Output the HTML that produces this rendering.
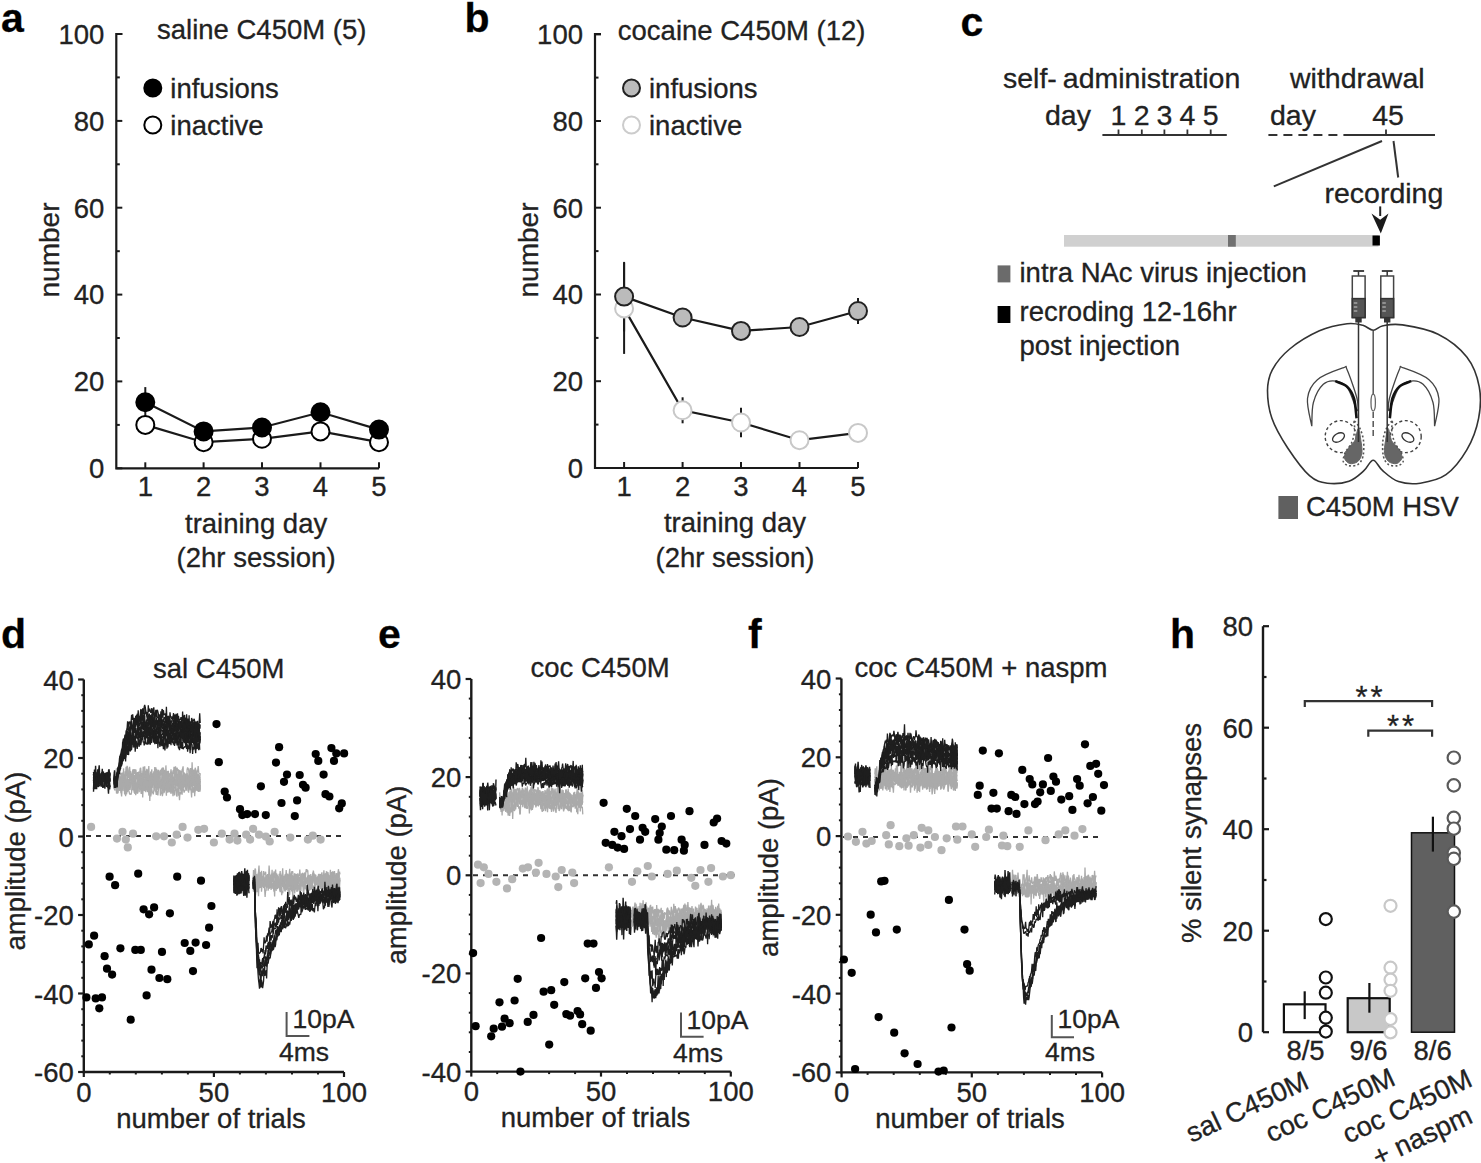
<!DOCTYPE html>
<html><head><meta charset="utf-8"><style>
html,body{margin:0;padding:0;background:#fff;}
svg{display:block;}
text{font-family:"Liberation Sans", sans-serif;stroke:#222;stroke-width:0.3px;}
</style></head><body>
<svg width="1481" height="1163" viewBox="0 0 1481 1163">
<rect width="1481" height="1163" fill="#fff"/>
<text x="1.0" y="31.5" font-size="41" text-anchor="start" font-weight="bold" fill="#000" >a</text>
<text x="464.5" y="31.5" font-size="41" text-anchor="start" font-weight="bold" fill="#000" >b</text>
<text x="960.5" y="35.5" font-size="41" text-anchor="start" font-weight="bold" fill="#000" >c</text>
<text x="1.0" y="648.0" font-size="41" text-anchor="start" font-weight="bold" fill="#000" >d</text>
<text x="378.0" y="647.5" font-size="41" text-anchor="start" font-weight="bold" fill="#000" >e</text>
<text x="748.0" y="647.5" font-size="41" text-anchor="start" font-weight="bold" fill="#000" >f</text>
<text x="1170.0" y="648.0" font-size="41" text-anchor="start" font-weight="bold" fill="#000" >h</text>
<path d="M122.3,34 H116.3 V468.3 H379" fill="none" stroke="#1a1a1a" stroke-width="2.2"/>
<line x1="116.3" y1="468.3" x2="122.3" y2="468.3" stroke="#1a1a1a" stroke-width="2" />
<text x="104.3" y="478.1" font-size="27.5" text-anchor="end" font-weight="normal" fill="#222" >0</text>
<line x1="116.3" y1="424.9" x2="119.8" y2="424.9" stroke="#1a1a1a" stroke-width="2" />
<line x1="116.3" y1="381.4" x2="122.3" y2="381.4" stroke="#1a1a1a" stroke-width="2" />
<text x="104.3" y="391.2" font-size="27.5" text-anchor="end" font-weight="normal" fill="#222" >20</text>
<line x1="116.3" y1="338.0" x2="119.8" y2="338.0" stroke="#1a1a1a" stroke-width="2" />
<line x1="116.3" y1="294.6" x2="122.3" y2="294.6" stroke="#1a1a1a" stroke-width="2" />
<text x="104.3" y="304.4" font-size="27.5" text-anchor="end" font-weight="normal" fill="#222" >40</text>
<line x1="116.3" y1="251.2" x2="119.8" y2="251.2" stroke="#1a1a1a" stroke-width="2" />
<line x1="116.3" y1="207.7" x2="122.3" y2="207.7" stroke="#1a1a1a" stroke-width="2" />
<text x="104.3" y="217.5" font-size="27.5" text-anchor="end" font-weight="normal" fill="#222" >60</text>
<line x1="116.3" y1="164.3" x2="119.8" y2="164.3" stroke="#1a1a1a" stroke-width="2" />
<line x1="116.3" y1="120.9" x2="122.3" y2="120.9" stroke="#1a1a1a" stroke-width="2" />
<text x="104.3" y="130.7" font-size="27.5" text-anchor="end" font-weight="normal" fill="#222" >80</text>
<line x1="116.3" y1="77.4" x2="119.8" y2="77.4" stroke="#1a1a1a" stroke-width="2" />
<line x1="116.3" y1="34.0" x2="122.3" y2="34.0" stroke="#1a1a1a" stroke-width="2" />
<text x="104.3" y="43.8" font-size="27.5" text-anchor="end" font-weight="normal" fill="#222" >100</text>
<line x1="145.3" y1="468.3" x2="145.3" y2="462.3" stroke="#1a1a1a" stroke-width="2" />
<text x="145.3" y="496.3" font-size="27.5" text-anchor="middle" font-weight="normal" fill="#222" >1</text>
<line x1="203.6" y1="468.3" x2="203.6" y2="462.3" stroke="#1a1a1a" stroke-width="2" />
<text x="203.6" y="496.3" font-size="27.5" text-anchor="middle" font-weight="normal" fill="#222" >2</text>
<line x1="262.0" y1="468.3" x2="262.0" y2="462.3" stroke="#1a1a1a" stroke-width="2" />
<text x="262.0" y="496.3" font-size="27.5" text-anchor="middle" font-weight="normal" fill="#222" >3</text>
<line x1="320.5" y1="468.3" x2="320.5" y2="462.3" stroke="#1a1a1a" stroke-width="2" />
<text x="320.5" y="496.3" font-size="27.5" text-anchor="middle" font-weight="normal" fill="#222" >4</text>
<line x1="379.0" y1="468.3" x2="379.0" y2="462.3" stroke="#1a1a1a" stroke-width="2" />
<text x="379.0" y="496.3" font-size="27.5" text-anchor="middle" font-weight="normal" fill="#222" >5</text>
<text x="256.1" y="532.5" font-size="27.5" text-anchor="middle" font-weight="normal" fill="#222" >training day</text>
<text x="256.1" y="567.1" font-size="27.5" text-anchor="middle" font-weight="normal" fill="#222" >(2hr session)</text>
<text transform="translate(58.8,250) rotate(-90)" font-size="28" text-anchor="middle" fill="#222">number</text>
<text x="157.0" y="39.3" font-size="27.5" text-anchor="start" font-weight="normal" fill="#222" >saline C450M (5)</text>
<circle cx="152.8" cy="88.0" r="8.5" fill="#000" stroke="#000" stroke-width="2"/>
<text x="170.3" y="97.5" font-size="27.5" text-anchor="start" font-weight="normal" fill="#222" >infusions</text>
<circle cx="152.8" cy="125.0" r="8.5" fill="#fff" stroke="#000" stroke-width="2"/>
<text x="170.3" y="134.7" font-size="27.5" text-anchor="start" font-weight="normal" fill="#222" >inactive</text>
<line x1="145.3" y1="420.5" x2="145.3" y2="429.2" stroke="#1a1a1a" stroke-width="2" />
<line x1="145.3" y1="387.1" x2="145.3" y2="417.5" stroke="#1a1a1a" stroke-width="2" />
<line x1="203.6" y1="437.9" x2="203.6" y2="446.6" stroke="#1a1a1a" stroke-width="2" />
<line x1="203.6" y1="427.0" x2="203.6" y2="435.7" stroke="#1a1a1a" stroke-width="2" />
<line x1="262.0" y1="435.3" x2="262.0" y2="442.2" stroke="#1a1a1a" stroke-width="2" />
<line x1="262.0" y1="423.1" x2="262.0" y2="431.8" stroke="#1a1a1a" stroke-width="2" />
<line x1="320.5" y1="424.9" x2="320.5" y2="437.9" stroke="#1a1a1a" stroke-width="2" />
<line x1="320.5" y1="404.5" x2="320.5" y2="420.1" stroke="#1a1a1a" stroke-width="2" />
<line x1="379.0" y1="438.8" x2="379.0" y2="445.7" stroke="#1a1a1a" stroke-width="2" />
<line x1="379.0" y1="424.4" x2="379.0" y2="434.9" stroke="#1a1a1a" stroke-width="2" />
<polyline points="145.3,424.9 203.6,442.2 262.0,438.8 320.5,431.4 379.0,442.2" fill="none" stroke="#1a1a1a" stroke-width="2.2"/>
<circle cx="145.3" cy="424.9" r="9" fill="#fff" stroke="#000" stroke-width="2"/>
<circle cx="203.6" cy="442.2" r="9" fill="#fff" stroke="#000" stroke-width="2"/>
<circle cx="262.0" cy="438.8" r="9" fill="#fff" stroke="#000" stroke-width="2"/>
<circle cx="320.5" cy="431.4" r="9" fill="#fff" stroke="#000" stroke-width="2"/>
<circle cx="379.0" cy="442.2" r="9" fill="#fff" stroke="#000" stroke-width="2"/>
<polyline points="145.3,402.3 203.6,431.4 262.0,427.5 320.5,412.3 379.0,429.6" fill="none" stroke="#1a1a1a" stroke-width="2.2"/>
<circle cx="145.3" cy="402.3" r="9" fill="#000" stroke="#000" stroke-width="2"/>
<circle cx="203.6" cy="431.4" r="9" fill="#000" stroke="#000" stroke-width="2"/>
<circle cx="262.0" cy="427.5" r="9" fill="#000" stroke="#000" stroke-width="2"/>
<circle cx="320.5" cy="412.3" r="9" fill="#000" stroke="#000" stroke-width="2"/>
<circle cx="379.0" cy="429.6" r="9" fill="#000" stroke="#000" stroke-width="2"/>
<path d="M601,34.2 H595 V468 H858" fill="none" stroke="#1a1a1a" stroke-width="2.2"/>
<line x1="595.0" y1="468.0" x2="601.0" y2="468.0" stroke="#1a1a1a" stroke-width="2" />
<text x="583.0" y="477.8" font-size="27.5" text-anchor="end" font-weight="normal" fill="#222" >0</text>
<line x1="595.0" y1="424.6" x2="598.5" y2="424.6" stroke="#1a1a1a" stroke-width="2" />
<line x1="595.0" y1="381.2" x2="601.0" y2="381.2" stroke="#1a1a1a" stroke-width="2" />
<text x="583.0" y="391.0" font-size="27.5" text-anchor="end" font-weight="normal" fill="#222" >20</text>
<line x1="595.0" y1="337.9" x2="598.5" y2="337.9" stroke="#1a1a1a" stroke-width="2" />
<line x1="595.0" y1="294.5" x2="601.0" y2="294.5" stroke="#1a1a1a" stroke-width="2" />
<text x="583.0" y="304.3" font-size="27.5" text-anchor="end" font-weight="normal" fill="#222" >40</text>
<line x1="595.0" y1="251.1" x2="598.5" y2="251.1" stroke="#1a1a1a" stroke-width="2" />
<line x1="595.0" y1="207.7" x2="601.0" y2="207.7" stroke="#1a1a1a" stroke-width="2" />
<text x="583.0" y="217.5" font-size="27.5" text-anchor="end" font-weight="normal" fill="#222" >60</text>
<line x1="595.0" y1="164.3" x2="598.5" y2="164.3" stroke="#1a1a1a" stroke-width="2" />
<line x1="595.0" y1="121.0" x2="601.0" y2="121.0" stroke="#1a1a1a" stroke-width="2" />
<text x="583.0" y="130.8" font-size="27.5" text-anchor="end" font-weight="normal" fill="#222" >80</text>
<line x1="595.0" y1="77.6" x2="598.5" y2="77.6" stroke="#1a1a1a" stroke-width="2" />
<line x1="595.0" y1="34.2" x2="601.0" y2="34.2" stroke="#1a1a1a" stroke-width="2" />
<text x="583.0" y="44.0" font-size="27.5" text-anchor="end" font-weight="normal" fill="#222" >100</text>
<line x1="624.1" y1="468.0" x2="624.1" y2="462.0" stroke="#1a1a1a" stroke-width="2" />
<text x="624.1" y="496.0" font-size="27.5" text-anchor="middle" font-weight="normal" fill="#222" >1</text>
<line x1="682.6" y1="468.0" x2="682.6" y2="462.0" stroke="#1a1a1a" stroke-width="2" />
<text x="682.6" y="496.0" font-size="27.5" text-anchor="middle" font-weight="normal" fill="#222" >2</text>
<line x1="741.0" y1="468.0" x2="741.0" y2="462.0" stroke="#1a1a1a" stroke-width="2" />
<text x="741.0" y="496.0" font-size="27.5" text-anchor="middle" font-weight="normal" fill="#222" >3</text>
<line x1="799.5" y1="468.0" x2="799.5" y2="462.0" stroke="#1a1a1a" stroke-width="2" />
<text x="799.5" y="496.0" font-size="27.5" text-anchor="middle" font-weight="normal" fill="#222" >4</text>
<line x1="858.0" y1="468.0" x2="858.0" y2="462.0" stroke="#1a1a1a" stroke-width="2" />
<text x="858.0" y="496.0" font-size="27.5" text-anchor="middle" font-weight="normal" fill="#222" >5</text>
<text x="735.0" y="532.2" font-size="27.5" text-anchor="middle" font-weight="normal" fill="#222" >training day</text>
<text x="735.0" y="566.8" font-size="27.5" text-anchor="middle" font-weight="normal" fill="#222" >(2hr session)</text>
<text transform="translate(537.5,250) rotate(-90)" font-size="28" text-anchor="middle" fill="#222">number</text>
<text x="617.8" y="39.5" font-size="27.5" text-anchor="start" font-weight="normal" fill="#222" >cocaine C450M (12)</text>
<circle cx="631.5" cy="88.0" r="8.5" fill="#bbb" stroke="#222" stroke-width="2"/>
<text x="649.0" y="97.5" font-size="27.5" text-anchor="start" font-weight="normal" fill="#222" >infusions</text>
<circle cx="631.5" cy="125.0" r="8.5" fill="#fff" stroke="#ccc" stroke-width="2"/>
<text x="649.0" y="134.7" font-size="27.5" text-anchor="start" font-weight="normal" fill="#222" >inactive</text>
<line x1="624.1" y1="262.8" x2="624.1" y2="353.9" stroke="#1a1a1a" stroke-width="2" />
<line x1="624.1" y1="261.9" x2="624.1" y2="331.4" stroke="#1a1a1a" stroke-width="2" />
<line x1="682.6" y1="397.3" x2="682.6" y2="423.3" stroke="#1a1a1a" stroke-width="2" />
<line x1="682.6" y1="308.8" x2="682.6" y2="326.1" stroke="#1a1a1a" stroke-width="2" />
<line x1="741.0" y1="407.7" x2="741.0" y2="437.2" stroke="#1a1a1a" stroke-width="2" />
<line x1="741.0" y1="324.4" x2="741.0" y2="337.4" stroke="#1a1a1a" stroke-width="2" />
<line x1="799.5" y1="435.9" x2="799.5" y2="444.6" stroke="#1a1a1a" stroke-width="2" />
<line x1="799.5" y1="318.3" x2="799.5" y2="335.7" stroke="#1a1a1a" stroke-width="2" />
<line x1="858.0" y1="426.4" x2="858.0" y2="439.4" stroke="#1a1a1a" stroke-width="2" />
<line x1="858.0" y1="298.0" x2="858.0" y2="324.0" stroke="#1a1a1a" stroke-width="2" />
<polyline points="624.1,308.4 682.6,410.3 741.0,422.5 799.5,440.2 858.0,432.9" fill="none" stroke="#1a1a1a" stroke-width="2.2"/>
<circle cx="624.1" cy="308.4" r="9" fill="#fff" stroke="#c8c8c8" stroke-width="2"/>
<circle cx="682.6" cy="410.3" r="9" fill="#fff" stroke="#c8c8c8" stroke-width="2"/>
<circle cx="741.0" cy="422.5" r="9" fill="#fff" stroke="#c8c8c8" stroke-width="2"/>
<circle cx="799.5" cy="440.2" r="9" fill="#fff" stroke="#c8c8c8" stroke-width="2"/>
<circle cx="858.0" cy="432.9" r="9" fill="#fff" stroke="#c8c8c8" stroke-width="2"/>
<polyline points="624.1,296.6 682.6,317.5 741.0,330.9 799.5,327.0 858.0,311.0" fill="none" stroke="#1a1a1a" stroke-width="2.2"/>
<circle cx="624.1" cy="296.6" r="9" fill="#bbb" stroke="#222" stroke-width="2"/>
<circle cx="682.6" cy="317.5" r="9" fill="#bbb" stroke="#222" stroke-width="2"/>
<circle cx="741.0" cy="330.9" r="9" fill="#bbb" stroke="#222" stroke-width="2"/>
<circle cx="799.5" cy="327.0" r="9" fill="#bbb" stroke="#222" stroke-width="2"/>
<circle cx="858.0" cy="311.0" r="9" fill="#bbb" stroke="#222" stroke-width="2"/>
<text x="1003.0" y="88.0" font-size="28.5" text-anchor="start" font-weight="normal" fill="#222" >self-<tspan dx="6">administration</tspan></text>
<text x="1290.0" y="88.0" font-size="28.5" text-anchor="start" font-weight="normal" fill="#222" >withdrawal</text>
<text x="1045.0" y="125.2" font-size="28.5" text-anchor="start" font-weight="normal" fill="#222" >day</text>
<text x="1118.5" y="125.2" font-size="28.5" text-anchor="middle" font-weight="normal" fill="#222" >1</text>
<text x="1141.8" y="125.2" font-size="28.5" text-anchor="middle" font-weight="normal" fill="#222" >2</text>
<text x="1164.4" y="125.2" font-size="28.5" text-anchor="middle" font-weight="normal" fill="#222" >3</text>
<text x="1187.4" y="125.2" font-size="28.5" text-anchor="middle" font-weight="normal" fill="#222" >4</text>
<text x="1210.7" y="125.2" font-size="28.5" text-anchor="middle" font-weight="normal" fill="#222" >5</text>
<line x1="1102.4" y1="135.0" x2="1226.8" y2="135.0" stroke="#333" stroke-width="2" />
<line x1="1118.5" y1="134.5" x2="1118.5" y2="129.5" stroke="#333" stroke-width="1.8" />
<line x1="1141.8" y1="134.5" x2="1141.8" y2="129.5" stroke="#333" stroke-width="1.8" />
<line x1="1164.4" y1="134.5" x2="1164.4" y2="129.5" stroke="#333" stroke-width="1.8" />
<line x1="1187.4" y1="134.5" x2="1187.4" y2="129.5" stroke="#333" stroke-width="1.8" />
<line x1="1210.7" y1="134.5" x2="1210.7" y2="129.5" stroke="#333" stroke-width="1.8" />
<text x="1270.0" y="125.2" font-size="28.5" text-anchor="start" font-weight="normal" fill="#222" >day</text>
<text x="1388.0" y="125.2" font-size="28.5" text-anchor="middle" font-weight="normal" fill="#222" >45</text>
<line x1="1268.4" y1="135.0" x2="1351.6" y2="135.0" stroke="#333" stroke-width="2" stroke-dasharray="9,6"/>
<line x1="1346.0" y1="135.0" x2="1435.0" y2="135.0" stroke="#333" stroke-width="2.2" />
<line x1="1386.0" y1="135.0" x2="1386.0" y2="129.5" stroke="#333" stroke-width="1.8" />
<line x1="1382.0" y1="141.0" x2="1273.8" y2="186.4" stroke="#333" stroke-width="2" />
<line x1="1393.5" y1="141.0" x2="1398.2" y2="177.5" stroke="#333" stroke-width="2" />
<text x="1324.5" y="203.0" font-size="28.5" text-anchor="start" font-weight="normal" fill="#222" >recording</text>
<line x1="1380.2" y1="206.4" x2="1380.2" y2="216.0" stroke="#222" stroke-width="2" />
<path d="M1371.5,213.6 L1380.2,219.8 L1388.5,213.6 L1380.8,233.5 Z" fill="#1a1a1a"/>
<rect x="1064.0" y="235.0" width="314.5" height="11.7" fill="#d0d0d0" stroke="none" stroke-width="0"/>
<rect x="1228.0" y="235.0" width="7.8" height="11.7" fill="#707070" stroke="none" stroke-width="0"/>
<rect x="1372.5" y="235.5" width="7.4" height="10.0" fill="#000" stroke="none" stroke-width="0"/>
<rect x="997.6" y="265.4" width="12.8" height="17.0" fill="#6b6b6b" stroke="none" stroke-width="0"/>
<text x="1019.5" y="281.5" font-size="27.5" text-anchor="start" font-weight="normal" fill="#222" >intra NAc virus injection</text>
<rect x="997.6" y="306.0" width="12.8" height="17.0" fill="#000" stroke="none" stroke-width="0"/>
<text x="1019.5" y="320.5" font-size="27.5" text-anchor="start" font-weight="normal" fill="#222" >recroding 12-16hr</text>
<text x="1019.5" y="355.0" font-size="27.5" text-anchor="start" font-weight="normal" fill="#222" >post injection</text>
<rect x="1278.4" y="496.0" width="19.6" height="23.0" fill="#606060" stroke="none" stroke-width="0"/>
<text x="1306.0" y="516.0" font-size="27.5" text-anchor="start" font-weight="normal" fill="#222" >C450M HSV</text>
<path d="M1373.2,330.2 C1369.8,330.2 1367.2,326.4 1362.9,325.3 C1358.5,324.2 1354.3,322.8 1347.1,323.7 C1339.8,324.6 1328.9,326.6 1319.4,330.8 C1309.8,335.1 1297.5,342.5 1289.7,349.0 C1281.8,355.5 1276.0,362.9 1272.3,369.8 C1268.6,376.7 1267.6,382.5 1267.5,390.6 C1267.5,398.7 1268.5,408.7 1271.9,418.3 C1275.2,427.9 1281.4,438.4 1287.7,448.0 C1294.0,457.5 1302.9,469.8 1309.5,475.7 C1316.1,481.5 1320.7,482.3 1327.3,483.2 C1333.9,484.1 1342.9,483.3 1349.0,481.2 C1355.1,479.1 1359.9,474.2 1363.9,470.7 C1367.9,467.2 1370.0,460.2 1373.2,460.2 C1376.3,460.2 1378.5,467.2 1382.7,470.7 C1386.9,474.3 1392.2,479.5 1398.5,481.6 C1404.8,483.7 1412.4,484.3 1420.3,483.2 C1428.2,482.0 1438.2,480.2 1446.0,474.7 C1453.7,469.1 1461.3,459.3 1466.8,449.9 C1472.2,440.6 1476.6,428.8 1478.6,418.3 C1480.7,407.7 1481.2,396.9 1479.2,386.6 C1477.3,376.4 1473.6,365.7 1466.8,357.0 C1459.9,348.2 1448.8,339.5 1438.1,334.2 C1427.4,328.9 1411.6,326.3 1402.5,324.9 C1393.3,323.5 1388.0,324.8 1383.1,325.7 C1378.2,326.6 1376.5,330.3 1373.2,330.2 Z" fill="none" stroke="#333" stroke-width="1.6"/>
<line x1="1373.2" y1="331.0" x2="1373.2" y2="395.0" stroke="#555" stroke-width="1.5" />
<ellipse cx="1373.2" cy="402.6" rx="2.2" ry="8.5" fill="#fff" stroke="#666" stroke-width="1.3"/>
<line x1="1373.2" y1="412.0" x2="1373.2" y2="436.0" stroke="#555" stroke-width="1.5" stroke-dasharray="6,3"/>
<path d="M1311.8,426.2 C1311.1,421.6 1306.6,406.3 1307.5,398.5 C1308.4,390.8 1311.4,384.8 1317.4,379.7 C1323.3,374.6 1338.2,369.5 1343.1,367.8 C1348.0,366.2 1344.8,364.7 1347.1,369.8 C1349.4,374.9 1355.3,391.7 1357.0,398.5 C1358.6,405.3 1358.4,412.0 1357.0,410.4 C1355.5,408.7 1351.5,393.5 1348.0,388.6 C1344.6,383.7 1340.3,381.8 1336.2,381.1 C1332.1,380.4 1327.1,380.7 1323.3,384.3 C1319.5,387.8 1315.3,395.5 1313.4,402.5 C1311.5,409.5 1312.1,422.2 1311.8,426.2 " fill="none" stroke="#444" stroke-width="1.3"/>
<path d="M1335.2,381.1 C1337.2,382.0 1343.9,383.7 1347.1,386.6 C1350.2,389.5 1352.4,393.2 1354.0,398.5 C1355.6,403.8 1356.1,415.0 1356.6,418.3 " fill="none" stroke="#111" stroke-width="2.6"/>
<ellipse cx="1340.7" cy="436.6" rx="15.5" ry="16" fill="none" stroke="#444" stroke-width="1.4" stroke-dasharray="3,2.6"/>
<ellipse cx="1338.5" cy="437.5" rx="6.5" ry="4" transform="rotate(-30 1338.5 437.5)" fill="none" stroke="#333" stroke-width="1.3"/>
<path d="M1358.3,428.4 C1359.3,428.4 1360.3,436.7 1360.9,440.8 C1361.5,444.9 1362.4,449.8 1361.9,453.2 C1361.4,456.6 1359.9,459.7 1357.8,461.5 C1355.7,463.2 1351.8,464.2 1349.5,463.5 C1347.3,462.8 1344.5,459.9 1344.4,457.3 C1344.2,454.7 1346.8,450.8 1348.5,448.0 C1350.2,445.3 1353.1,444.1 1354.7,440.8 C1356.3,437.5 1357.3,428.4 1358.3,428.4 Z" fill="#666" stroke="#666" stroke-width="1"/>
<path d="M1354.2,421.2 C1353.3,421.6 1355.1,426.9 1354.7,430.5 C1354.3,434.1 1353.1,439.3 1351.6,442.9 C1350.1,446.5 1346.8,449.1 1345.4,452.2 C1344.0,455.3 1342.8,459.2 1343.3,461.5 C1343.9,463.7 1346.1,465.1 1348.5,465.6 C1350.9,466.1 1355.4,466.1 1357.8,464.6 C1360.2,463.0 1362.0,460.3 1363.0,456.3 C1363.9,452.3 1364.0,445.5 1363.5,440.8 C1363.0,436.2 1361.4,431.7 1359.9,428.4 C1358.3,425.2 1355.0,420.9 1354.2,421.2 Z" fill="none" stroke="#555" stroke-width="1.6" stroke-dasharray="2,2.2"/>
<path d="M1434.6,426.2 C1435.3,421.6 1439.8,406.3 1438.9,398.5 C1438.0,390.8 1435.0,384.8 1429.0,379.7 C1423.1,374.6 1408.2,369.5 1403.3,367.8 C1398.4,366.2 1401.6,364.7 1399.3,369.8 C1397.0,374.9 1391.1,391.7 1389.4,398.5 C1387.8,405.3 1388.0,412.0 1389.4,410.4 C1390.9,408.7 1394.9,393.5 1398.4,388.6 C1401.8,383.7 1406.1,381.8 1410.2,381.1 C1414.3,380.4 1419.3,380.7 1423.1,384.3 C1426.9,387.8 1431.1,395.5 1433.0,402.5 C1434.9,409.5 1434.3,422.2 1434.6,426.2 " fill="none" stroke="#444" stroke-width="1.3"/>
<path d="M1411.2,381.1 C1409.2,382.0 1402.5,383.7 1399.3,386.6 C1396.2,389.5 1394.0,393.2 1392.4,398.5 C1390.8,403.8 1390.3,415.0 1389.8,418.3 " fill="none" stroke="#111" stroke-width="2.6"/>
<ellipse cx="1405.7" cy="436.6" rx="15.5" ry="16" fill="none" stroke="#444" stroke-width="1.4" stroke-dasharray="3,2.6"/>
<ellipse cx="1407.9" cy="437.5" rx="6.5" ry="4" transform="rotate(30 1407.9 437.5)" fill="none" stroke="#333" stroke-width="1.3"/>
<path d="M1388.1,428.4 C1387.1,428.4 1386.1,436.7 1385.5,440.8 C1384.9,444.9 1384.0,449.8 1384.5,453.2 C1385.0,456.6 1386.5,459.7 1388.6,461.5 C1390.7,463.2 1394.6,464.2 1396.9,463.5 C1399.1,462.8 1401.9,459.9 1402.0,457.3 C1402.2,454.7 1399.6,450.8 1397.9,448.0 C1396.2,445.3 1393.3,444.1 1391.7,440.8 C1390.1,437.5 1389.1,428.4 1388.1,428.4 Z" fill="#666" stroke="#666" stroke-width="1"/>
<path d="M1392.2,421.2 C1393.1,421.6 1391.3,426.9 1391.7,430.5 C1392.1,434.1 1393.3,439.3 1394.8,442.9 C1396.3,446.5 1399.6,449.1 1401.0,452.2 C1402.4,455.3 1403.6,459.2 1403.1,461.5 C1402.5,463.7 1400.3,465.1 1397.9,465.6 C1395.5,466.1 1391.0,466.1 1388.6,464.6 C1386.2,463.0 1384.4,460.3 1383.4,456.3 C1382.5,452.3 1382.4,445.5 1382.9,440.8 C1383.4,436.2 1385.0,431.7 1386.5,428.4 C1388.1,425.2 1391.4,420.9 1392.2,421.2 Z" fill="none" stroke="#555" stroke-width="1.6" stroke-dasharray="2,2.2"/>
<line x1="1353.3" y1="271.0" x2="1364.1" y2="271.0" stroke="#333" stroke-width="1.8" />
<line x1="1358.5" y1="271.0" x2="1358.5" y2="276.0" stroke="#333" stroke-width="1.5" />
<rect x="1352.3" y="276.0" width="12.8" height="41.5" fill="#fff" stroke="#444" stroke-width="1.5"/>
<rect x="1352.3" y="298.6" width="12.8" height="19.0" fill="#555" stroke="#333" stroke-width="1.5"/>
<line x1="1353.8" y1="303.0" x2="1357.3" y2="303.0" stroke="#ccc" stroke-width="1" />
<line x1="1353.8" y1="307.0" x2="1357.3" y2="307.0" stroke="#ccc" stroke-width="1" />
<line x1="1353.8" y1="311.0" x2="1357.3" y2="311.0" stroke="#ccc" stroke-width="1" />
<rect x="1355.3" y="317.5" width="6.4" height="5.0" fill="#333" stroke="none" stroke-width="0"/>
<line x1="1358.5" y1="322.0" x2="1358.5" y2="442.0" stroke="#333" stroke-width="1.5" />
<line x1="1381.8" y1="271.0" x2="1392.6" y2="271.0" stroke="#333" stroke-width="1.8" />
<line x1="1387.2" y1="271.0" x2="1387.2" y2="276.0" stroke="#333" stroke-width="1.5" />
<rect x="1380.8" y="276.0" width="12.8" height="41.5" fill="#fff" stroke="#444" stroke-width="1.5"/>
<rect x="1380.8" y="298.6" width="12.8" height="19.0" fill="#555" stroke="#333" stroke-width="1.5"/>
<line x1="1382.3" y1="303.0" x2="1385.8" y2="303.0" stroke="#ccc" stroke-width="1" />
<line x1="1382.3" y1="307.0" x2="1385.8" y2="307.0" stroke="#ccc" stroke-width="1" />
<line x1="1382.3" y1="311.0" x2="1385.8" y2="311.0" stroke="#ccc" stroke-width="1" />
<rect x="1384.0" y="317.5" width="6.4" height="5.0" fill="#333" stroke="none" stroke-width="0"/>
<line x1="1387.2" y1="322.0" x2="1387.2" y2="442.0" stroke="#333" stroke-width="1.5" />
<path d="M83.8,679.5 V1072 H344" fill="none" stroke="#1a1a1a" stroke-width="2.4"/>
<line x1="78.1" y1="1072.0" x2="83.8" y2="1072.0" stroke="#1a1a1a" stroke-width="2.2" />
<text x="73.8" y="1082.0" font-size="27.5" text-anchor="end" font-weight="normal" fill="#222" >-60</text>
<line x1="81.3" y1="1056.3" x2="83.8" y2="1056.3" stroke="#1a1a1a" stroke-width="2" />
<line x1="81.3" y1="1040.6" x2="83.8" y2="1040.6" stroke="#1a1a1a" stroke-width="2" />
<line x1="81.3" y1="1024.9" x2="83.8" y2="1024.9" stroke="#1a1a1a" stroke-width="2" />
<line x1="81.3" y1="1009.2" x2="83.8" y2="1009.2" stroke="#1a1a1a" stroke-width="2" />
<line x1="78.1" y1="993.5" x2="83.8" y2="993.5" stroke="#1a1a1a" stroke-width="2.2" />
<text x="73.8" y="1003.5" font-size="27.5" text-anchor="end" font-weight="normal" fill="#222" >-40</text>
<line x1="81.3" y1="977.8" x2="83.8" y2="977.8" stroke="#1a1a1a" stroke-width="2" />
<line x1="81.3" y1="962.1" x2="83.8" y2="962.1" stroke="#1a1a1a" stroke-width="2" />
<line x1="81.3" y1="946.4" x2="83.8" y2="946.4" stroke="#1a1a1a" stroke-width="2" />
<line x1="81.3" y1="930.7" x2="83.8" y2="930.7" stroke="#1a1a1a" stroke-width="2" />
<line x1="78.1" y1="915.0" x2="83.8" y2="915.0" stroke="#1a1a1a" stroke-width="2.2" />
<text x="73.8" y="925.0" font-size="27.5" text-anchor="end" font-weight="normal" fill="#222" >-20</text>
<line x1="81.3" y1="899.3" x2="83.8" y2="899.3" stroke="#1a1a1a" stroke-width="2" />
<line x1="81.3" y1="883.6" x2="83.8" y2="883.6" stroke="#1a1a1a" stroke-width="2" />
<line x1="81.3" y1="867.9" x2="83.8" y2="867.9" stroke="#1a1a1a" stroke-width="2" />
<line x1="81.3" y1="852.2" x2="83.8" y2="852.2" stroke="#1a1a1a" stroke-width="2" />
<line x1="78.1" y1="836.5" x2="83.8" y2="836.5" stroke="#1a1a1a" stroke-width="2.2" />
<text x="73.8" y="846.5" font-size="27.5" text-anchor="end" font-weight="normal" fill="#222" >0</text>
<line x1="81.3" y1="820.8" x2="83.8" y2="820.8" stroke="#1a1a1a" stroke-width="2" />
<line x1="81.3" y1="805.1" x2="83.8" y2="805.1" stroke="#1a1a1a" stroke-width="2" />
<line x1="81.3" y1="789.4" x2="83.8" y2="789.4" stroke="#1a1a1a" stroke-width="2" />
<line x1="81.3" y1="773.7" x2="83.8" y2="773.7" stroke="#1a1a1a" stroke-width="2" />
<line x1="78.1" y1="758.0" x2="83.8" y2="758.0" stroke="#1a1a1a" stroke-width="2.2" />
<text x="73.8" y="768.0" font-size="27.5" text-anchor="end" font-weight="normal" fill="#222" >20</text>
<line x1="81.3" y1="742.3" x2="83.8" y2="742.3" stroke="#1a1a1a" stroke-width="2" />
<line x1="81.3" y1="726.6" x2="83.8" y2="726.6" stroke="#1a1a1a" stroke-width="2" />
<line x1="81.3" y1="710.9" x2="83.8" y2="710.9" stroke="#1a1a1a" stroke-width="2" />
<line x1="81.3" y1="695.2" x2="83.8" y2="695.2" stroke="#1a1a1a" stroke-width="2" />
<line x1="78.1" y1="679.5" x2="83.8" y2="679.5" stroke="#1a1a1a" stroke-width="2.2" />
<text x="73.8" y="689.5" font-size="27.5" text-anchor="end" font-weight="normal" fill="#222" >40</text>
<line x1="83.8" y1="1072.0" x2="83.8" y2="1077.0" stroke="#1a1a1a" stroke-width="2.2" />
<text x="83.8" y="1101.5" font-size="27.5" text-anchor="middle" font-weight="normal" fill="#222" >0</text>
<line x1="109.8" y1="1072.0" x2="109.8" y2="1074.5" stroke="#1a1a1a" stroke-width="2" />
<line x1="135.8" y1="1072.0" x2="135.8" y2="1074.5" stroke="#1a1a1a" stroke-width="2" />
<line x1="161.9" y1="1072.0" x2="161.9" y2="1074.5" stroke="#1a1a1a" stroke-width="2" />
<line x1="187.9" y1="1072.0" x2="187.9" y2="1074.5" stroke="#1a1a1a" stroke-width="2" />
<line x1="213.9" y1="1072.0" x2="213.9" y2="1077.0" stroke="#1a1a1a" stroke-width="2.2" />
<text x="213.9" y="1101.5" font-size="27.5" text-anchor="middle" font-weight="normal" fill="#222" >50</text>
<line x1="239.9" y1="1072.0" x2="239.9" y2="1074.5" stroke="#1a1a1a" stroke-width="2" />
<line x1="265.9" y1="1072.0" x2="265.9" y2="1074.5" stroke="#1a1a1a" stroke-width="2" />
<line x1="292.0" y1="1072.0" x2="292.0" y2="1074.5" stroke="#1a1a1a" stroke-width="2" />
<line x1="318.0" y1="1072.0" x2="318.0" y2="1074.5" stroke="#1a1a1a" stroke-width="2" />
<line x1="344.0" y1="1072.0" x2="344.0" y2="1077.0" stroke="#1a1a1a" stroke-width="2.2" />
<text x="344.0" y="1101.5" font-size="27.5" text-anchor="middle" font-weight="normal" fill="#222" >100</text>
<text x="211.0" y="1127.5" font-size="27.5" text-anchor="middle" font-weight="normal" fill="#222" >number of trials</text>
<text transform="translate(25,861) rotate(-90)" font-size="27.5" text-anchor="middle" fill="#222">amplitude (pA)</text>
<text x="153.0" y="677.5" font-size="27.5" text-anchor="start" font-weight="normal" fill="#222" >sal C450M</text>
<line x1="86.0" y1="836.0" x2="346.0" y2="836.0" stroke="#333" stroke-width="2" stroke-dasharray="5,5"/>
<circle cx="91.1" cy="826.9" r="4.1" fill="#b4b4b4" stroke="none" stroke-width="0"/>
<circle cx="117.0" cy="838.6" r="4.1" fill="#b4b4b4" stroke="none" stroke-width="0"/>
<circle cx="122.5" cy="831.8" r="4.1" fill="#b4b4b4" stroke="none" stroke-width="0"/>
<circle cx="125.8" cy="839.6" r="4.1" fill="#b4b4b4" stroke="none" stroke-width="0"/>
<circle cx="127.8" cy="847.4" r="4.1" fill="#b4b4b4" stroke="none" stroke-width="0"/>
<circle cx="133.0" cy="833.7" r="4.1" fill="#b4b4b4" stroke="none" stroke-width="0"/>
<circle cx="156.2" cy="836.3" r="4.1" fill="#b4b4b4" stroke="none" stroke-width="0"/>
<circle cx="164.0" cy="836.3" r="4.1" fill="#b4b4b4" stroke="none" stroke-width="0"/>
<circle cx="171.8" cy="842.5" r="4.1" fill="#b4b4b4" stroke="none" stroke-width="0"/>
<circle cx="176.7" cy="834.7" r="4.1" fill="#b4b4b4" stroke="none" stroke-width="0"/>
<circle cx="182.6" cy="826.9" r="4.1" fill="#b4b4b4" stroke="none" stroke-width="0"/>
<circle cx="187.5" cy="837.6" r="4.1" fill="#b4b4b4" stroke="none" stroke-width="0"/>
<circle cx="198.3" cy="829.8" r="4.1" fill="#b4b4b4" stroke="none" stroke-width="0"/>
<circle cx="204.1" cy="828.8" r="4.1" fill="#b4b4b4" stroke="none" stroke-width="0"/>
<circle cx="213.9" cy="842.5" r="4.1" fill="#b4b4b4" stroke="none" stroke-width="0"/>
<circle cx="221.8" cy="833.7" r="4.1" fill="#b4b4b4" stroke="none" stroke-width="0"/>
<circle cx="229.6" cy="839.6" r="4.1" fill="#b4b4b4" stroke="none" stroke-width="0"/>
<circle cx="234.5" cy="833.7" r="4.1" fill="#b4b4b4" stroke="none" stroke-width="0"/>
<circle cx="237.4" cy="840.6" r="4.1" fill="#b4b4b4" stroke="none" stroke-width="0"/>
<circle cx="246.2" cy="834.7" r="4.1" fill="#b4b4b4" stroke="none" stroke-width="0"/>
<circle cx="253.1" cy="828.8" r="4.1" fill="#b4b4b4" stroke="none" stroke-width="0"/>
<circle cx="250.1" cy="839.6" r="4.1" fill="#b4b4b4" stroke="none" stroke-width="0"/>
<circle cx="259.0" cy="834.7" r="4.1" fill="#b4b4b4" stroke="none" stroke-width="0"/>
<circle cx="265.8" cy="836.6" r="4.1" fill="#b4b4b4" stroke="none" stroke-width="0"/>
<circle cx="269.7" cy="841.5" r="4.1" fill="#b4b4b4" stroke="none" stroke-width="0"/>
<circle cx="274.6" cy="831.8" r="4.1" fill="#b4b4b4" stroke="none" stroke-width="0"/>
<circle cx="290.3" cy="837.6" r="4.1" fill="#b4b4b4" stroke="none" stroke-width="0"/>
<circle cx="307.9" cy="839.6" r="4.1" fill="#b4b4b4" stroke="none" stroke-width="0"/>
<circle cx="312.8" cy="835.7" r="4.1" fill="#b4b4b4" stroke="none" stroke-width="0"/>
<circle cx="320.6" cy="839.6" r="4.1" fill="#b4b4b4" stroke="none" stroke-width="0"/>
<circle cx="216.5" cy="724.1" r="4.1" fill="#000" stroke="none" stroke-width="0"/>
<circle cx="218.8" cy="762.2" r="4.1" fill="#000" stroke="none" stroke-width="0"/>
<circle cx="224.7" cy="791.6" r="4.1" fill="#000" stroke="none" stroke-width="0"/>
<circle cx="227.0" cy="797.5" r="4.1" fill="#000" stroke="none" stroke-width="0"/>
<circle cx="240.0" cy="809.2" r="4.1" fill="#000" stroke="none" stroke-width="0"/>
<circle cx="242.3" cy="815.1" r="4.1" fill="#000" stroke="none" stroke-width="0"/>
<circle cx="247.2" cy="814.1" r="4.1" fill="#000" stroke="none" stroke-width="0"/>
<circle cx="255.0" cy="814.1" r="4.1" fill="#000" stroke="none" stroke-width="0"/>
<circle cx="265.8" cy="815.1" r="4.1" fill="#000" stroke="none" stroke-width="0"/>
<circle cx="260.9" cy="786.3" r="4.1" fill="#000" stroke="none" stroke-width="0"/>
<circle cx="279.1" cy="747.2" r="4.1" fill="#000" stroke="none" stroke-width="0"/>
<circle cx="276.0" cy="762.6" r="4.1" fill="#000" stroke="none" stroke-width="0"/>
<circle cx="287.0" cy="774.6" r="4.1" fill="#000" stroke="none" stroke-width="0"/>
<circle cx="284.0" cy="781.8" r="4.1" fill="#000" stroke="none" stroke-width="0"/>
<circle cx="281.5" cy="803.0" r="4.1" fill="#000" stroke="none" stroke-width="0"/>
<circle cx="299.7" cy="775.0" r="4.1" fill="#000" stroke="none" stroke-width="0"/>
<circle cx="303.0" cy="784.8" r="4.1" fill="#000" stroke="none" stroke-width="0"/>
<circle cx="305.6" cy="787.7" r="4.1" fill="#000" stroke="none" stroke-width="0"/>
<circle cx="297.1" cy="800.4" r="4.1" fill="#000" stroke="none" stroke-width="0"/>
<circle cx="294.8" cy="816.1" r="4.1" fill="#000" stroke="none" stroke-width="0"/>
<circle cx="315.7" cy="754.0" r="4.1" fill="#000" stroke="none" stroke-width="0"/>
<circle cx="318.3" cy="760.9" r="4.1" fill="#000" stroke="none" stroke-width="0"/>
<circle cx="331.4" cy="748.1" r="4.1" fill="#000" stroke="none" stroke-width="0"/>
<circle cx="336.3" cy="753.4" r="4.1" fill="#000" stroke="none" stroke-width="0"/>
<circle cx="344.1" cy="753.4" r="4.1" fill="#000" stroke="none" stroke-width="0"/>
<circle cx="334.0" cy="760.9" r="4.1" fill="#000" stroke="none" stroke-width="0"/>
<circle cx="323.6" cy="774.6" r="4.1" fill="#000" stroke="none" stroke-width="0"/>
<circle cx="325.5" cy="794.2" r="4.1" fill="#000" stroke="none" stroke-width="0"/>
<circle cx="329.4" cy="796.5" r="4.1" fill="#000" stroke="none" stroke-width="0"/>
<circle cx="341.8" cy="803.4" r="4.1" fill="#000" stroke="none" stroke-width="0"/>
<circle cx="339.2" cy="808.3" r="4.1" fill="#000" stroke="none" stroke-width="0"/>
<circle cx="109.6" cy="876.7" r="4.1" fill="#000" stroke="none" stroke-width="0"/>
<circle cx="115.1" cy="885.2" r="4.1" fill="#000" stroke="none" stroke-width="0"/>
<circle cx="138.2" cy="873.7" r="4.1" fill="#000" stroke="none" stroke-width="0"/>
<circle cx="177.2" cy="876.7" r="4.1" fill="#000" stroke="none" stroke-width="0"/>
<circle cx="201.0" cy="880.7" r="4.1" fill="#000" stroke="none" stroke-width="0"/>
<circle cx="143.6" cy="909.3" r="4.1" fill="#000" stroke="none" stroke-width="0"/>
<circle cx="149.1" cy="914.3" r="4.1" fill="#000" stroke="none" stroke-width="0"/>
<circle cx="154.1" cy="907.4" r="4.1" fill="#000" stroke="none" stroke-width="0"/>
<circle cx="169.9" cy="913.3" r="4.1" fill="#000" stroke="none" stroke-width="0"/>
<circle cx="211.4" cy="906.0" r="4.1" fill="#000" stroke="none" stroke-width="0"/>
<circle cx="209.1" cy="927.7" r="4.1" fill="#000" stroke="none" stroke-width="0"/>
<circle cx="94.1" cy="935.7" r="4.1" fill="#000" stroke="none" stroke-width="0"/>
<circle cx="88.8" cy="944.4" r="4.1" fill="#000" stroke="none" stroke-width="0"/>
<circle cx="104.6" cy="956.2" r="4.1" fill="#000" stroke="none" stroke-width="0"/>
<circle cx="120.4" cy="948.3" r="4.1" fill="#000" stroke="none" stroke-width="0"/>
<circle cx="135.3" cy="949.9" r="4.1" fill="#000" stroke="none" stroke-width="0"/>
<circle cx="140.8" cy="949.9" r="4.1" fill="#000" stroke="none" stroke-width="0"/>
<circle cx="162.0" cy="951.9" r="4.1" fill="#000" stroke="none" stroke-width="0"/>
<circle cx="184.7" cy="943.0" r="4.1" fill="#000" stroke="none" stroke-width="0"/>
<circle cx="190.3" cy="950.9" r="4.1" fill="#000" stroke="none" stroke-width="0"/>
<circle cx="195.6" cy="942.6" r="4.1" fill="#000" stroke="none" stroke-width="0"/>
<circle cx="206.1" cy="945.0" r="4.1" fill="#000" stroke="none" stroke-width="0"/>
<circle cx="107.0" cy="968.7" r="4.1" fill="#000" stroke="none" stroke-width="0"/>
<circle cx="112.1" cy="974.6" r="4.1" fill="#000" stroke="none" stroke-width="0"/>
<circle cx="151.5" cy="969.7" r="4.1" fill="#000" stroke="none" stroke-width="0"/>
<circle cx="159.4" cy="978.0" r="4.1" fill="#000" stroke="none" stroke-width="0"/>
<circle cx="167.3" cy="979.2" r="4.1" fill="#000" stroke="none" stroke-width="0"/>
<circle cx="193.0" cy="971.1" r="4.1" fill="#000" stroke="none" stroke-width="0"/>
<circle cx="86.4" cy="997.4" r="4.1" fill="#000" stroke="none" stroke-width="0"/>
<circle cx="95.7" cy="998.4" r="4.1" fill="#000" stroke="none" stroke-width="0"/>
<circle cx="102.0" cy="997.4" r="4.1" fill="#000" stroke="none" stroke-width="0"/>
<circle cx="99.3" cy="1008.3" r="4.1" fill="#000" stroke="none" stroke-width="0"/>
<circle cx="146.6" cy="995.4" r="4.1" fill="#000" stroke="none" stroke-width="0"/>
<circle cx="130.7" cy="1019.7" r="4.1" fill="#000" stroke="none" stroke-width="0"/>
<polyline points="93.5,783.1 94.0,781.0 94.5,778.6 95.1,780.3 95.6,778.2 96.1,782.2 96.6,787.1 97.1,780.1 97.7,779.6 98.2,783.9 98.7,783.4 99.2,782.4 99.7,778.5 100.2,781.9 100.8,784.6 101.3,776.9 101.8,780.3 102.3,774.8 102.8,777.1 103.4,775.0 103.9,781.1 104.4,777.2 104.9,783.0 105.4,782.6 105.9,781.3 106.5,772.4 107.0,780.0 107.5,781.8 108.0,782.4 108.5,776.2 109.1,780.2 109.6,778.3 110.1,778.9" fill="none" stroke="#1e1e1e" stroke-width="1.4" stroke-linejoin="bevel"/>
<polyline points="93.5,773.8 94.0,776.8 94.5,780.3 95.1,774.7 95.6,776.5 96.1,777.3 96.6,777.1 97.1,772.3 97.7,777.2 98.2,782.1 98.7,771.0 99.2,780.2 99.7,777.4 100.2,774.5 100.8,784.5 101.3,779.8 101.8,772.3 102.3,777.2 102.8,779.1 103.4,776.2 103.9,779.5 104.4,776.7 104.9,779.4 105.4,782.4 105.9,774.3 106.5,777.7 107.0,775.1 107.5,777.4 108.0,772.4 108.5,774.7 109.1,776.2 109.6,780.3 110.1,781.3" fill="none" stroke="#1e1e1e" stroke-width="1.4" stroke-linejoin="bevel"/>
<polyline points="93.5,774.1 94.0,779.5 94.5,769.5 95.1,775.3 95.6,776.7 96.1,781.9 96.6,779.7 97.1,775.8 97.7,775.7 98.2,776.1 98.7,782.9 99.2,775.5 99.7,775.9 100.2,778.4 100.8,776.6 101.3,776.3 101.8,772.8 102.3,777.0 102.8,775.4 103.4,781.5 103.9,779.6 104.4,777.0 104.9,779.6 105.4,775.8 105.9,781.1 106.5,777.1 107.0,779.3 107.5,772.2 108.0,778.4 108.5,770.7 109.1,769.3 109.6,775.9 110.1,773.7" fill="none" stroke="#1e1e1e" stroke-width="1.4" stroke-linejoin="bevel"/>
<polyline points="93.5,789.3 94.0,777.6 94.5,778.4 95.1,781.6 95.6,782.7 96.1,780.1 96.6,780.0 97.1,783.5 97.7,782.8 98.2,776.9 98.7,780.5 99.2,780.9 99.7,776.8 100.2,781.8 100.8,777.5 101.3,784.5 101.8,781.5 102.3,781.1 102.8,778.5 103.4,780.3 103.9,773.2 104.4,776.5 104.9,782.2 105.4,772.7 105.9,784.0 106.5,774.1 107.0,783.7 107.5,777.6 108.0,783.7 108.5,781.3 109.1,774.9 109.6,785.5 110.1,786.3" fill="none" stroke="#1e1e1e" stroke-width="1.4" stroke-linejoin="bevel"/>
<polyline points="93.5,779.6 94.0,780.1 94.5,777.0 95.1,784.9 95.6,778.6 96.1,780.5 96.6,777.7 97.1,778.3 97.7,775.8 98.2,785.5 98.7,780.1 99.2,784.4 99.7,780.7 100.2,778.0 100.8,779.4 101.3,778.6 101.8,780.7 102.3,779.3 102.8,779.5 103.4,775.4 103.9,777.6 104.4,787.0 104.9,778.1 105.4,776.7 105.9,782.0 106.5,786.0 107.0,775.2 107.5,779.9 108.0,778.3 108.5,774.0 109.1,783.5 109.6,780.6 110.1,781.0" fill="none" stroke="#1e1e1e" stroke-width="1.4" stroke-linejoin="bevel"/>
<polyline points="93.5,778.4 94.0,774.7 94.5,776.2 95.1,772.5 95.6,772.1 96.1,781.8 96.6,774.8 97.1,777.8 97.7,776.6 98.2,775.0 98.7,774.8 99.2,779.1 99.7,775.6 100.2,776.1 100.8,776.8 101.3,781.2 101.8,779.3 102.3,778.2 102.8,774.6 103.4,771.5 103.9,780.3 104.4,780.4 104.9,776.2 105.4,778.8 105.9,779.7 106.5,779.9 107.0,780.2 107.5,775.0 108.0,782.5 108.5,772.0 109.1,780.0 109.6,778.6 110.1,780.0" fill="none" stroke="#1e1e1e" stroke-width="1.4" stroke-linejoin="bevel"/>
<polyline points="93.5,791.7 94.0,781.7 94.5,779.6 95.1,789.1 95.6,782.2 96.1,786.0 96.6,789.2 97.1,779.8 97.7,778.0 98.2,787.0 98.7,786.2 99.2,785.1 99.7,786.2 100.2,782.8 100.8,780.3 101.3,785.4 101.8,782.3 102.3,779.8 102.8,787.9 103.4,785.8 103.9,787.6 104.4,782.3 104.9,783.5 105.4,782.2 105.9,782.7 106.5,786.8 107.0,783.0 107.5,787.4 108.0,787.3 108.5,793.7 109.1,780.7 109.6,789.4 110.1,785.7" fill="none" stroke="#1e1e1e" stroke-width="1.4" stroke-linejoin="bevel"/>
<polyline points="93.5,772.0 94.0,775.8 94.5,780.4 95.1,777.2 95.6,777.8 96.1,776.4 96.6,781.9 97.1,777.5 97.7,769.2 98.2,774.9 98.7,770.1 99.2,765.2 99.7,775.5 100.2,782.6 100.8,777.7 101.3,773.1 101.8,774.0 102.3,781.8 102.8,778.1 103.4,777.7 103.9,777.3 104.4,777.7 104.9,780.6 105.4,779.6 105.9,778.4 106.5,773.6 107.0,779.5 107.5,774.9 108.0,781.7 108.5,772.7 109.1,777.0 109.6,777.5 110.1,772.5" fill="none" stroke="#1e1e1e" stroke-width="1.4" stroke-linejoin="bevel"/>
<polyline points="93.5,781.2 94.0,773.9 94.5,778.6 95.1,777.1 95.6,765.7 96.1,776.6 96.6,775.4 97.1,776.0 97.7,771.6 98.2,774.6 98.7,775.0 99.2,780.2 99.7,776.9 100.2,775.6 100.8,781.5 101.3,773.6 101.8,774.2 102.3,768.8 102.8,781.6 103.4,779.3 103.9,779.1 104.4,778.2 104.9,776.1 105.4,776.5 105.9,774.7 106.5,774.9 107.0,775.9 107.5,781.4 108.0,777.8 108.5,775.4 109.1,773.5 109.6,773.2 110.1,781.8" fill="none" stroke="#1e1e1e" stroke-width="1.4" stroke-linejoin="bevel"/>
<polyline points="93.5,781.3 94.0,779.7 94.5,776.8 95.1,780.8 95.6,784.3 96.1,779.5 96.6,780.1 97.1,780.2 97.7,781.4 98.2,775.0 98.7,780.1 99.2,777.8 99.7,784.4 100.2,778.1 100.8,783.2 101.3,786.8 101.8,779.8 102.3,778.7 102.8,781.7 103.4,781.0 103.9,777.2 104.4,782.8 104.9,788.7 105.4,780.0 105.9,780.2 106.5,777.0 107.0,782.2 107.5,776.3 108.0,776.8 108.5,785.9 109.1,777.6 109.6,785.1 110.1,786.8" fill="none" stroke="#1e1e1e" stroke-width="1.4" stroke-linejoin="bevel"/>
<polyline points="114.0,775.1 114.5,776.3 115.0,782.2 115.5,773.2 116.0,771.5 116.5,768.3 117.0,774.2 117.5,780.2 118.0,778.0 118.5,770.0 119.0,770.4 119.5,771.9 120.0,775.2 120.6,773.1 121.1,774.9 121.6,775.2 122.1,772.7 122.6,773.8 123.1,774.9 123.6,773.6 124.1,776.1 124.6,781.9 125.1,776.5 125.6,774.2 126.1,766.9 126.6,775.6 127.1,765.8 127.6,768.1 128.1,777.6 128.6,777.0 129.1,773.4 129.6,766.8 130.1,772.4 130.6,771.1 131.1,776.7 131.6,783.5 132.1,774.9 132.7,770.7 133.2,769.1 133.7,773.8 134.2,773.3 134.7,769.2 135.2,774.5 135.7,769.2 136.2,778.7 136.7,778.5 137.2,778.6 137.7,772.0 138.2,776.2 138.7,773.4 139.2,772.4 139.7,772.6 140.2,768.5 140.7,767.9 141.2,777.3 141.7,773.2 142.2,774.9 142.7,778.2 143.2,766.7 143.7,770.7 144.2,774.7 144.7,775.6 145.3,772.4 145.8,778.3 146.3,774.9 146.8,768.9 147.3,770.1 147.8,777.4 148.3,775.9 148.8,766.0 149.3,779.7 149.8,776.5 150.3,779.6 150.8,772.4 151.3,772.8 151.8,769.3 152.3,784.7 152.8,773.3 153.3,780.7 153.8,771.3 154.3,774.7 154.8,767.0 155.3,772.4 155.8,778.1 156.3,768.7 156.8,778.5 157.4,775.4 157.9,769.6 158.4,771.9 158.9,772.1 159.4,773.8 159.9,771.7 160.4,770.5 160.9,772.7 161.4,769.7 161.9,768.6 162.4,773.8 162.9,777.7 163.4,767.6 163.9,774.0 164.4,771.3 164.9,769.9 165.4,777.6 165.9,771.8 166.4,780.3 166.9,770.7 167.4,775.6 167.9,773.0 168.4,770.8 168.9,776.5 169.5,773.3 170.0,776.5 170.5,773.8 171.0,769.4 171.5,773.6 172.0,774.2 172.5,778.0 173.0,770.2 173.5,773.8 174.0,766.8 174.5,776.7 175.0,769.5 175.5,766.4 176.0,773.8 176.5,778.6 177.0,767.6 177.5,769.4 178.0,770.9 178.5,769.3 179.0,775.6 179.5,770.6 180.0,771.0 180.5,776.4 181.0,770.8 181.5,775.8 182.1,769.9 182.6,768.9 183.1,766.3 183.6,781.8 184.1,772.7 184.6,775.0 185.1,773.9 185.6,774.7 186.1,774.2 186.6,782.0 187.1,769.6 187.6,767.5 188.1,769.7 188.6,768.4 189.1,777.1 189.6,777.4 190.1,770.0 190.6,768.2 191.1,772.5 191.6,779.8 192.1,762.2 192.6,776.2 193.1,769.5 193.6,778.4 194.2,769.5 194.7,772.8 195.2,767.7 195.7,769.9 196.2,779.8 196.7,777.4 197.2,772.3 197.7,770.3 198.2,766.0 198.7,772.3 199.2,773.9 199.7,773.6 200.2,773.6" fill="none" stroke="#aaa" stroke-width="1.3" stroke-linejoin="bevel"/>
<polyline points="114.0,772.3 114.5,776.7 115.0,776.8 115.5,782.4 116.0,784.8 116.5,776.4 117.0,773.8 117.5,776.7 118.0,774.4 118.5,773.9 119.0,776.8 119.5,772.6 120.0,779.5 120.6,776.6 121.1,778.1 121.6,776.2 122.1,773.9 122.6,773.0 123.1,776.0 123.6,774.7 124.1,778.0 124.6,777.0 125.1,771.3 125.6,777.3 126.1,771.4 126.6,774.4 127.1,775.8 127.6,768.3 128.1,777.4 128.6,777.6 129.1,776.3 129.6,775.2 130.1,775.4 130.6,772.9 131.1,775.9 131.6,774.7 132.1,777.4 132.7,771.9 133.2,778.0 133.7,777.6 134.2,776.4 134.7,775.2 135.2,779.3 135.7,770.0 136.2,778.9 136.7,778.0 137.2,778.2 137.7,778.6 138.2,774.3 138.7,775.9 139.2,779.7 139.7,778.8 140.2,777.9 140.7,770.6 141.2,779.3 141.7,781.9 142.2,781.2 142.7,778.0 143.2,770.5 143.7,781.0 144.2,776.4 144.7,766.4 145.3,778.6 145.8,770.7 146.3,771.6 146.8,774.3 147.3,782.3 147.8,775.4 148.3,778.1 148.8,784.3 149.3,783.7 149.8,776.6 150.3,776.0 150.8,771.7 151.3,774.1 151.8,778.8 152.3,778.7 152.8,777.5 153.3,781.2 153.8,773.8 154.3,776.8 154.8,780.1 155.3,779.5 155.8,781.5 156.3,778.7 156.8,775.7 157.4,778.5 157.9,772.8 158.4,770.1 158.9,779.4 159.4,776.8 159.9,778.3 160.4,769.9 160.9,775.5 161.4,774.5 161.9,773.4 162.4,767.5 162.9,775.6 163.4,780.8 163.9,778.6 164.4,774.5 164.9,776.9 165.4,780.2 165.9,765.4 166.4,776.5 166.9,779.3 167.4,779.9 167.9,784.1 168.4,781.8 168.9,778.3 169.5,778.3 170.0,780.3 170.5,774.7 171.0,776.8 171.5,780.8 172.0,785.2 172.5,776.3 173.0,776.8 173.5,777.8 174.0,782.6 174.5,776.9 175.0,783.2 175.5,772.9 176.0,776.2 176.5,776.2 177.0,780.3 177.5,781.4 178.0,770.7 178.5,773.2 179.0,778.4 179.5,774.2 180.0,770.6 180.5,781.4 181.0,779.1 181.5,779.1 182.1,775.0 182.6,781.3 183.1,776.0 183.6,781.6 184.1,773.2 184.6,773.4 185.1,777.9 185.6,774.1 186.1,779.8 186.6,778.1 187.1,773.1 187.6,777.3 188.1,775.5 188.6,780.8 189.1,774.3 189.6,775.2 190.1,782.1 190.6,786.4 191.1,785.4 191.6,777.3 192.1,777.9 192.6,783.4 193.1,776.5 193.6,772.9 194.2,777.5 194.7,778.9 195.2,773.5 195.7,770.1 196.2,771.0 196.7,779.8 197.2,773.8 197.7,776.4 198.2,777.9 198.7,779.6 199.2,775.6 199.7,779.1 200.2,773.3" fill="none" stroke="#aaa" stroke-width="1.3" stroke-linejoin="bevel"/>
<polyline points="114.0,778.5 114.5,775.7 115.0,784.8 115.5,779.9 116.0,776.9 116.5,778.5 117.0,779.1 117.5,782.9 118.0,773.3 118.5,775.6 119.0,778.4 119.5,790.6 120.0,784.0 120.6,779.5 121.1,783.0 121.6,788.6 122.1,779.0 122.6,778.5 123.1,785.1 123.6,782.1 124.1,782.8 124.6,777.9 125.1,788.1 125.6,787.2 126.1,782.4 126.6,782.9 127.1,771.5 127.6,782.7 128.1,779.2 128.6,781.8 129.1,782.9 129.6,778.6 130.1,772.9 130.6,781.5 131.1,776.9 131.6,778.6 132.1,777.5 132.7,778.6 133.2,770.3 133.7,785.1 134.2,781.1 134.7,784.7 135.2,788.3 135.7,780.1 136.2,772.4 136.7,776.2 137.2,774.9 137.7,777.9 138.2,780.3 138.7,771.6 139.2,781.4 139.7,773.7 140.2,781.2 140.7,779.5 141.2,778.7 141.7,779.7 142.2,777.7 142.7,777.4 143.2,772.9 143.7,779.9 144.2,787.8 144.7,788.3 145.3,785.6 145.8,783.0 146.3,777.2 146.8,786.1 147.3,779.8 147.8,779.7 148.3,778.8 148.8,780.4 149.3,778.2 149.8,779.6 150.3,775.4 150.8,778.4 151.3,789.6 151.8,779.7 152.3,779.0 152.8,782.2 153.3,783.0 153.8,775.3 154.3,779.1 154.8,783.9 155.3,781.1 155.8,780.5 156.3,786.5 156.8,777.2 157.4,780.3 157.9,777.8 158.4,786.3 158.9,771.8 159.4,777.2 159.9,777.8 160.4,782.8 160.9,782.5 161.4,785.9 161.9,773.4 162.4,783.2 162.9,778.8 163.4,777.2 163.9,782.3 164.4,776.1 164.9,771.3 165.4,778.4 165.9,773.7 166.4,777.3 166.9,781.6 167.4,781.3 167.9,786.7 168.4,779.2 168.9,773.6 169.5,776.8 170.0,776.1 170.5,774.9 171.0,781.8 171.5,777.3 172.0,771.7 172.5,782.9 173.0,779.5 173.5,781.5 174.0,780.4 174.5,782.7 175.0,780.2 175.5,785.2 176.0,781.8 176.5,781.6 177.0,781.7 177.5,773.9 178.0,779.3 178.5,778.9 179.0,780.9 179.5,774.3 180.0,786.9 180.5,780.4 181.0,774.9 181.5,772.8 182.1,778.8 182.6,779.6 183.1,777.0 183.6,780.4 184.1,777.3 184.6,782.3 185.1,777.0 185.6,779.8 186.1,784.1 186.6,790.8 187.1,775.8 187.6,778.0 188.1,776.5 188.6,783.3 189.1,775.2 189.6,778.0 190.1,779.9 190.6,775.9 191.1,776.0 191.6,778.0 192.1,771.2 192.6,773.9 193.1,778.3 193.6,780.6 194.2,779.2 194.7,772.5 195.2,778.1 195.7,783.4 196.2,782.3 196.7,779.7 197.2,776.3 197.7,782.7 198.2,777.6 198.7,775.1 199.2,776.6 199.7,786.1 200.2,780.9" fill="none" stroke="#aaa" stroke-width="1.3" stroke-linejoin="bevel"/>
<polyline points="114.0,787.9 114.5,781.0 115.0,786.9 115.5,780.5 116.0,782.3 116.5,793.4 117.0,786.2 117.5,780.9 118.0,782.6 118.5,784.4 119.0,788.1 119.5,780.9 120.0,775.7 120.6,781.8 121.1,783.1 121.6,783.5 122.1,788.5 122.6,784.3 123.1,786.4 123.6,778.4 124.1,786.6 124.6,791.8 125.1,786.2 125.6,784.1 126.1,783.6 126.6,790.5 127.1,779.1 127.6,782.5 128.1,784.9 128.6,786.1 129.1,781.2 129.6,784.3 130.1,781.8 130.6,783.5 131.1,782.4 131.6,778.2 132.1,782.9 132.7,786.7 133.2,778.9 133.7,782.0 134.2,785.8 134.7,778.5 135.2,783.8 135.7,778.5 136.2,787.8 136.7,792.7 137.2,791.5 137.7,782.1 138.2,786.1 138.7,783.5 139.2,783.4 139.7,789.5 140.2,777.5 140.7,787.4 141.2,782.8 141.7,788.9 142.2,783.8 142.7,780.2 143.2,784.2 143.7,786.1 144.2,783.2 144.7,785.0 145.3,780.8 145.8,774.0 146.3,786.8 146.8,785.9 147.3,783.6 147.8,783.3 148.3,787.4 148.8,781.1 149.3,780.0 149.8,782.2 150.3,788.0 150.8,777.2 151.3,788.0 151.8,780.3 152.3,778.4 152.8,788.3 153.3,782.6 153.8,777.5 154.3,781.5 154.8,786.9 155.3,788.0 155.8,781.2 156.3,784.7 156.8,786.0 157.4,780.3 157.9,784.5 158.4,782.9 158.9,780.7 159.4,780.9 159.9,783.3 160.4,783.1 160.9,780.6 161.4,781.2 161.9,787.7 162.4,783.9 162.9,786.7 163.4,788.0 163.9,785.5 164.4,792.5 164.9,779.5 165.4,786.4 165.9,781.7 166.4,790.8 166.9,790.1 167.4,774.8 167.9,778.9 168.4,785.8 168.9,786.3 169.5,786.1 170.0,782.7 170.5,784.9 171.0,785.7 171.5,782.7 172.0,787.3 172.5,773.5 173.0,785.7 173.5,778.7 174.0,787.0 174.5,782.0 175.0,779.3 175.5,784.6 176.0,779.2 176.5,779.2 177.0,776.4 177.5,782.9 178.0,785.1 178.5,787.3 179.0,782.4 179.5,787.4 180.0,783.1 180.5,782.6 181.0,785.4 181.5,787.4 182.1,781.6 182.6,782.0 183.1,782.3 183.6,783.3 184.1,779.2 184.6,787.3 185.1,781.3 185.6,784.9 186.1,779.5 186.6,784.5 187.1,784.6 187.6,781.2 188.1,791.5 188.6,784.6 189.1,790.5 189.6,787.0 190.1,780.2 190.6,781.4 191.1,784.8 191.6,783.3 192.1,783.2 192.6,781.8 193.1,775.4 193.6,782.1 194.2,773.7 194.7,784.6 195.2,780.0 195.7,780.0 196.2,782.1 196.7,784.1 197.2,777.0 197.7,775.7 198.2,778.5 198.7,774.4 199.2,778.9 199.7,789.7 200.2,778.6" fill="none" stroke="#aaa" stroke-width="1.3" stroke-linejoin="bevel"/>
<polyline points="114.0,788.7 114.5,780.2 115.0,787.3 115.5,784.7 116.0,785.7 116.5,788.4 117.0,793.4 117.5,786.8 118.0,786.5 118.5,781.9 119.0,788.5 119.5,785.0 120.0,789.5 120.6,785.8 121.1,793.3 121.6,777.7 122.1,784.8 122.6,789.7 123.1,784.5 123.6,782.7 124.1,784.9 124.6,780.2 125.1,786.5 125.6,796.2 126.1,790.8 126.6,781.3 127.1,782.3 127.6,784.3 128.1,790.2 128.6,782.5 129.1,783.1 129.6,789.7 130.1,789.6 130.6,784.4 131.1,781.3 131.6,779.5 132.1,783.1 132.7,776.6 133.2,789.1 133.7,783.4 134.2,788.0 134.7,793.8 135.2,790.9 135.7,781.2 136.2,789.7 136.7,790.9 137.2,782.9 137.7,782.0 138.2,785.5 138.7,779.3 139.2,792.2 139.7,775.9 140.2,781.4 140.7,784.9 141.2,785.0 141.7,786.7 142.2,787.1 142.7,785.1 143.2,790.8 143.7,777.0 144.2,786.0 144.7,783.0 145.3,786.6 145.8,786.9 146.3,782.2 146.8,783.3 147.3,789.3 147.8,787.5 148.3,783.1 148.8,794.6 149.3,795.7 149.8,779.9 150.3,787.3 150.8,796.5 151.3,789.3 151.8,786.9 152.3,785.1 152.8,783.7 153.3,785.1 153.8,783.7 154.3,789.1 154.8,784.3 155.3,784.1 155.8,781.0 156.3,785.8 156.8,782.2 157.4,785.2 157.9,790.4 158.4,787.5 158.9,788.1 159.4,787.5 159.9,786.2 160.4,785.5 160.9,784.7 161.4,789.2 161.9,781.4 162.4,791.6 162.9,786.1 163.4,782.9 163.9,783.9 164.4,783.2 164.9,786.7 165.4,783.0 165.9,790.8 166.4,782.7 166.9,776.5 167.4,782.9 167.9,777.6 168.4,785.8 168.9,790.4 169.5,788.7 170.0,780.4 170.5,782.8 171.0,793.5 171.5,787.3 172.0,786.0 172.5,790.4 173.0,796.3 173.5,791.4 174.0,786.6 174.5,787.5 175.0,788.6 175.5,783.4 176.0,781.6 176.5,786.2 177.0,782.0 177.5,785.7 178.0,786.4 178.5,795.8 179.0,782.4 179.5,785.5 180.0,785.3 180.5,787.8 181.0,790.4 181.5,783.9 182.1,782.6 182.6,779.1 183.1,782.1 183.6,788.3 184.1,786.2 184.6,781.7 185.1,784.4 185.6,786.1 186.1,788.1 186.6,783.5 187.1,784.9 187.6,778.4 188.1,781.2 188.6,792.8 189.1,776.8 189.6,784.6 190.1,786.9 190.6,784.4 191.1,782.6 191.6,785.7 192.1,786.0 192.6,785.7 193.1,778.1 193.6,785.4 194.2,782.4 194.7,783.7 195.2,787.0 195.7,788.7 196.2,789.8 196.7,783.9 197.2,789.9 197.7,790.9 198.2,790.8 198.7,791.8 199.2,785.4 199.7,785.3 200.2,789.5" fill="none" stroke="#aaa" stroke-width="1.3" stroke-linejoin="bevel"/>
<polyline points="114.0,783.3 114.5,789.9 115.0,786.8 115.5,787.5 116.0,781.7 116.5,785.3 117.0,788.9 117.5,792.7 118.0,793.2 118.5,788.7 119.0,788.2 119.5,785.5 120.0,790.7 120.6,788.0 121.1,791.5 121.6,796.4 122.1,788.9 122.6,782.7 123.1,785.4 123.6,782.9 124.1,784.0 124.6,794.5 125.1,790.0 125.6,782.6 126.1,791.7 126.6,794.3 127.1,787.5 127.6,786.2 128.1,787.6 128.6,790.2 129.1,791.7 129.6,794.0 130.1,794.1 130.6,794.0 131.1,794.7 131.6,791.8 132.1,782.6 132.7,788.4 133.2,790.3 133.7,787.4 134.2,792.8 134.7,787.5 135.2,785.1 135.7,795.1 136.2,791.8 136.7,789.9 137.2,792.9 137.7,793.5 138.2,790.4 138.7,778.7 139.2,786.2 139.7,787.1 140.2,784.9 140.7,789.8 141.2,794.0 141.7,787.0 142.2,784.2 142.7,797.5 143.2,787.1 143.7,783.8 144.2,790.0 144.7,790.8 145.3,786.0 145.8,792.3 146.3,787.0 146.8,785.1 147.3,789.8 147.8,792.2 148.3,786.3 148.8,790.4 149.3,788.6 149.8,800.9 150.3,786.0 150.8,794.8 151.3,788.8 151.8,788.5 152.3,792.0 152.8,792.8 153.3,794.3 153.8,790.4 154.3,786.5 154.8,786.7 155.3,791.1 155.8,791.4 156.3,794.9 156.8,790.8 157.4,793.5 157.9,795.4 158.4,789.7 158.9,782.8 159.4,784.0 159.9,783.0 160.4,795.7 160.9,785.4 161.4,794.2 161.9,791.5 162.4,796.2 162.9,793.2 163.4,788.6 163.9,788.2 164.4,789.4 164.9,789.7 165.4,786.8 165.9,788.9 166.4,795.8 166.9,781.9 167.4,790.1 167.9,785.2 168.4,789.8 168.9,792.5 169.5,788.8 170.0,792.2 170.5,782.3 171.0,793.6 171.5,786.5 172.0,791.6 172.5,789.8 173.0,778.1 173.5,785.8 174.0,789.9 174.5,795.5 175.0,790.2 175.5,790.1 176.0,783.1 176.5,795.0 177.0,796.6 177.5,789.1 178.0,788.1 178.5,782.2 179.0,792.7 179.5,800.3 180.0,792.0 180.5,794.3 181.0,791.3 181.5,784.9 182.1,794.6 182.6,783.8 183.1,788.1 183.6,790.2 184.1,792.7 184.6,790.7 185.1,790.6 185.6,785.8 186.1,783.6 186.6,789.3 187.1,786.0 187.6,783.5 188.1,783.7 188.6,786.9 189.1,781.2 189.6,783.3 190.1,782.1 190.6,789.8 191.1,790.7 191.6,797.4 192.1,782.7 192.6,786.1 193.1,792.8 193.6,788.1 194.2,787.6 194.7,796.2 195.2,787.6 195.7,784.1 196.2,783.5 196.7,790.4 197.2,790.3 197.7,783.2 198.2,784.9 198.7,791.2 199.2,791.4 199.7,786.3 200.2,791.6" fill="none" stroke="#aaa" stroke-width="1.3" stroke-linejoin="bevel"/>
<polyline points="114.0,781.4 114.5,771.5 115.0,777.7 115.5,780.7 116.0,776.6 116.5,770.0 117.0,777.8 117.5,782.2 118.0,785.6 118.5,769.8 119.0,790.0 119.5,774.3 120.0,783.0 120.6,784.2 121.1,783.1 121.6,779.6 122.1,774.1 122.6,781.6 123.1,776.0 123.6,768.4 124.1,790.9 124.6,782.0 125.1,786.6 125.6,775.2 126.1,785.2 126.6,785.7 127.1,785.5 127.6,778.9 128.1,773.9 128.6,778.3 129.1,769.7 129.6,771.9 130.1,779.4 130.6,774.8 131.1,778.3 131.6,778.5 132.1,787.1 132.7,784.5 133.2,778.8 133.7,784.1 134.2,775.7 134.7,777.6 135.2,782.8 135.7,773.8 136.2,777.8 136.7,773.5 137.2,779.5 137.7,785.9 138.2,775.8 138.7,779.9 139.2,775.2 139.7,774.2 140.2,773.8 140.7,785.1 141.2,788.9 141.7,781.0 142.2,776.0 142.7,782.0 143.2,777.6 143.7,782.4 144.2,780.2 144.7,780.2 145.3,781.6 145.8,776.6 146.3,777.3 146.8,771.8 147.3,777.1 147.8,773.0 148.3,778.4 148.8,775.0 149.3,779.4 149.8,780.9 150.3,773.0 150.8,775.6 151.3,775.0 151.8,782.1 152.3,786.2 152.8,782.6 153.3,777.5 153.8,785.2 154.3,772.6 154.8,785.3 155.3,776.2 155.8,767.3 156.3,790.1 156.8,785.6 157.4,774.7 157.9,779.7 158.4,778.1 158.9,779.4 159.4,772.8 159.9,776.1 160.4,781.0 160.9,779.9 161.4,784.0 161.9,779.3 162.4,788.9 162.9,776.0 163.4,780.1 163.9,771.0 164.4,773.7 164.9,784.6 165.4,775.0 165.9,781.2 166.4,778.7 166.9,774.6 167.4,777.5 167.9,776.8 168.4,777.0 168.9,782.2 169.5,781.7 170.0,776.6 170.5,775.2 171.0,780.2 171.5,778.6 172.0,783.3 172.5,790.2 173.0,782.5 173.5,778.9 174.0,778.3 174.5,775.4 175.0,775.2 175.5,774.8 176.0,777.3 176.5,777.2 177.0,782.1 177.5,777.3 178.0,778.2 178.5,773.9 179.0,785.9 179.5,781.1 180.0,786.5 180.5,782.3 181.0,785.3 181.5,778.0 182.1,782.0 182.6,790.4 183.1,773.9 183.6,783.9 184.1,786.1 184.6,780.8 185.1,782.2 185.6,784.4 186.1,776.2 186.6,780.8 187.1,775.3 187.6,776.1 188.1,776.3 188.6,778.4 189.1,779.6 189.6,780.9 190.1,772.9 190.6,787.5 191.1,784.0 191.6,782.1 192.1,777.5 192.6,778.6 193.1,781.4 193.6,780.8 194.2,771.8 194.7,782.2 195.2,791.6 195.7,771.0 196.2,783.3 196.7,780.6 197.2,778.5 197.7,784.9 198.2,773.9 198.7,779.7 199.2,785.3 199.7,778.2 200.2,777.2" fill="none" stroke="#aaa" stroke-width="1.3" stroke-linejoin="bevel"/>
<polyline points="114.0,784.5 114.5,782.1 115.0,790.7 115.5,780.1 116.0,787.8 116.5,778.6 117.0,786.9 117.5,783.5 118.0,772.8 118.5,784.0 119.0,779.4 119.5,782.1 120.0,790.6 120.6,779.2 121.1,779.4 121.6,790.2 122.1,784.5 122.6,790.7 123.1,785.4 123.6,780.2 124.1,783.7 124.6,789.3 125.1,788.1 125.6,784.0 126.1,784.2 126.6,783.5 127.1,781.5 127.6,792.3 128.1,784.0 128.6,779.1 129.1,781.9 129.6,787.1 130.1,786.8 130.6,783.4 131.1,781.1 131.6,784.1 132.1,776.8 132.7,778.4 133.2,787.4 133.7,781.9 134.2,785.6 134.7,789.3 135.2,786.8 135.7,784.1 136.2,793.2 136.7,786.9 137.2,782.5 137.7,787.2 138.2,785.8 138.7,780.3 139.2,784.3 139.7,783.3 140.2,775.5 140.7,783.3 141.2,782.8 141.7,782.1 142.2,776.9 142.7,782.5 143.2,783.8 143.7,784.4 144.2,779.1 144.7,786.7 145.3,778.8 145.8,783.0 146.3,789.6 146.8,781.0 147.3,781.8 147.8,788.6 148.3,782.3 148.8,782.7 149.3,785.0 149.8,788.5 150.3,774.5 150.8,780.4 151.3,779.7 151.8,779.3 152.3,780.3 152.8,780.4 153.3,785.3 153.8,780.2 154.3,784.5 154.8,785.7 155.3,780.9 155.8,784.6 156.3,791.0 156.8,785.4 157.4,781.3 157.9,783.7 158.4,780.1 158.9,785.2 159.4,787.7 159.9,780.5 160.4,783.1 160.9,788.8 161.4,781.9 161.9,784.8 162.4,779.6 162.9,780.5 163.4,781.8 163.9,793.1 164.4,782.3 164.9,781.8 165.4,781.6 165.9,783.3 166.4,786.8 166.9,784.8 167.4,792.6 167.9,784.9 168.4,790.1 168.9,785.2 169.5,786.5 170.0,777.9 170.5,783.5 171.0,783.7 171.5,783.0 172.0,775.0 172.5,787.7 173.0,782.4 173.5,782.2 174.0,782.9 174.5,783.0 175.0,785.7 175.5,778.7 176.0,780.1 176.5,785.2 177.0,784.6 177.5,782.4 178.0,781.6 178.5,780.5 179.0,783.8 179.5,789.0 180.0,779.6 180.5,790.4 181.0,787.5 181.5,782.1 182.1,787.3 182.6,777.8 183.1,776.7 183.6,778.6 184.1,782.3 184.6,782.6 185.1,781.8 185.6,784.4 186.1,775.0 186.6,786.1 187.1,778.0 187.6,781.2 188.1,782.3 188.6,779.1 189.1,778.2 189.6,779.8 190.1,783.9 190.6,786.5 191.1,786.4 191.6,779.8 192.1,780.7 192.6,780.1 193.1,785.9 193.6,775.4 194.2,789.2 194.7,782.0 195.2,780.7 195.7,785.4 196.2,788.3 196.7,785.4 197.2,788.4 197.7,784.6 198.2,789.2 198.7,789.2 199.2,783.6 199.7,790.0 200.2,784.7" fill="none" stroke="#aaa" stroke-width="1.3" stroke-linejoin="bevel"/>
<polyline points="114.0,781.3 114.5,777.7 115.0,780.0 115.5,783.8 116.0,776.3 116.5,783.3 117.0,782.1 117.5,779.3 118.0,768.0 118.5,773.4 119.0,774.0 119.5,766.9 120.0,768.1 120.6,757.5 121.1,766.8 121.6,760.4 122.1,764.5 122.6,753.3 123.1,761.2 123.6,756.6 124.1,759.2 124.6,751.9 125.1,752.0 125.6,761.4 126.1,749.4 126.6,749.0 127.1,749.8 127.6,746.4 128.1,753.7 128.6,754.9 129.1,745.6 129.6,741.3 130.1,751.3 130.6,750.5 131.1,749.0 131.6,749.8 132.1,742.1 132.7,744.3 133.2,739.5 133.7,739.1 134.2,747.4 134.7,741.2 135.2,751.6 135.7,743.4 136.2,740.6 136.7,745.6 137.2,749.0 137.7,744.1 138.2,737.8 138.7,743.4 139.2,746.8 139.7,740.0 140.2,738.9 140.7,745.2 141.2,742.0 141.7,737.4 142.2,739.9 142.7,738.5 143.2,742.3 143.7,741.5 144.2,745.3 144.7,743.6 145.3,735.4 145.8,742.5 146.3,744.2 146.8,742.6 147.3,744.7 147.8,739.0 148.3,737.6 148.8,744.4 149.3,737.2 149.8,733.3 150.3,744.7 150.8,738.5 151.3,740.0 151.8,736.1 152.3,736.4 152.8,737.0 153.3,739.9 153.8,742.6 154.3,733.0 154.8,744.1 155.3,737.1 155.8,737.6 156.3,743.9 156.8,741.3 157.4,736.1 157.9,748.3 158.4,738.6 158.9,742.6 159.4,742.5 159.9,746.9 160.4,740.3 160.9,745.6 161.4,739.4 161.9,746.1 162.4,739.4 162.9,740.9 163.4,749.1 163.9,743.5 164.4,742.8 164.9,750.5 165.4,743.8 165.9,739.7 166.4,745.3 166.9,738.5 167.4,746.9 167.9,747.2 168.4,740.9 168.9,740.7 169.5,743.7 170.0,743.2 170.5,739.7 171.0,745.3 171.5,736.0 172.0,741.8 172.5,742.0 173.0,742.6 173.5,744.7 174.0,739.3 174.5,745.9 175.0,743.2 175.5,741.5 176.0,739.0 176.5,739.8 177.0,745.4 177.5,740.7 178.0,744.5 178.5,748.1 179.0,748.1 179.5,750.1 180.0,743.4 180.5,740.7 181.0,748.3 181.5,745.8 182.1,748.8 182.6,744.9 183.1,749.2 183.6,748.0 184.1,747.6 184.6,746.9 185.1,746.6 185.6,746.1 186.1,746.1 186.6,749.0 187.1,743.6 187.6,751.8 188.1,745.2 188.6,749.2 189.1,745.4 189.6,744.9 190.1,753.2 190.6,744.8 191.1,741.4 191.6,743.5 192.1,745.0 192.6,754.0 193.1,747.0 193.6,749.7 194.2,742.8 194.7,747.7 195.2,749.0 195.7,753.1 196.2,744.2 196.7,748.9 197.2,747.9 197.7,743.2 198.2,746.9 198.7,746.1 199.2,738.7 199.7,749.3 200.2,749.1" fill="none" stroke="#1e1e1e" stroke-width="1.3" stroke-linejoin="bevel"/>
<polyline points="114.0,779.4 114.5,776.2 115.0,786.3 115.5,782.0 116.0,784.7 116.5,786.1 117.0,779.0 117.5,781.0 118.0,774.6 118.5,772.8 119.0,770.4 119.5,768.5 120.0,770.5 120.6,765.0 121.1,762.2 121.6,760.0 122.1,760.6 122.6,754.7 123.1,754.6 123.6,754.9 124.1,751.8 124.6,752.2 125.1,749.4 125.6,757.7 126.1,754.3 126.6,750.3 127.1,747.6 127.6,754.9 128.1,747.4 128.6,745.2 129.1,745.9 129.6,745.3 130.1,748.7 130.6,743.0 131.1,750.1 131.6,738.9 132.1,744.2 132.7,737.7 133.2,747.4 133.7,739.3 134.2,740.0 134.7,743.2 135.2,744.1 135.7,735.3 136.2,737.8 136.7,733.8 137.2,739.1 137.7,738.1 138.2,737.0 138.7,735.7 139.2,736.6 139.7,735.2 140.2,739.6 140.7,743.1 141.2,730.6 141.7,737.0 142.2,735.8 142.7,739.1 143.2,733.8 143.7,736.6 144.2,733.4 144.7,739.6 145.3,737.4 145.8,736.5 146.3,738.4 146.8,736.1 147.3,731.4 147.8,739.1 148.3,738.0 148.8,736.5 149.3,740.6 149.8,741.4 150.3,733.1 150.8,734.3 151.3,742.7 151.8,742.3 152.3,734.5 152.8,733.0 153.3,735.0 153.8,735.5 154.3,731.6 154.8,737.5 155.3,732.8 155.8,733.1 156.3,740.8 156.8,735.1 157.4,737.4 157.9,740.0 158.4,740.7 158.9,736.6 159.4,738.0 159.9,735.0 160.4,744.3 160.9,740.4 161.4,734.2 161.9,738.2 162.4,740.8 162.9,740.1 163.4,745.0 163.9,743.4 164.4,736.6 164.9,738.3 165.4,734.1 165.9,739.7 166.4,739.4 166.9,748.6 167.4,739.3 167.9,731.5 168.4,736.7 168.9,739.6 169.5,734.8 170.0,736.2 170.5,738.1 171.0,740.7 171.5,739.0 172.0,736.4 172.5,742.6 173.0,737.9 173.5,738.1 174.0,735.0 174.5,737.2 175.0,742.4 175.5,734.4 176.0,740.0 176.5,742.9 177.0,739.0 177.5,741.3 178.0,736.5 178.5,745.3 179.0,744.7 179.5,741.6 180.0,734.5 180.5,737.2 181.0,744.5 181.5,747.3 182.1,742.2 182.6,745.7 183.1,739.1 183.6,740.7 184.1,741.5 184.6,743.1 185.1,736.1 185.6,745.1 186.1,746.5 186.6,737.7 187.1,737.0 187.6,743.2 188.1,739.7 188.6,733.6 189.1,745.1 189.6,742.8 190.1,740.6 190.6,750.0 191.1,743.0 191.6,739.9 192.1,743.0 192.6,739.0 193.1,740.1 193.6,744.3 194.2,741.0 194.7,741.4 195.2,749.1 195.7,746.3 196.2,746.1 196.7,745.2 197.2,745.1 197.7,748.7 198.2,743.5 198.7,750.3 199.2,740.3 199.7,742.8 200.2,738.9" fill="none" stroke="#1e1e1e" stroke-width="1.3" stroke-linejoin="bevel"/>
<polyline points="114.0,779.8 114.5,782.9 115.0,786.2 115.5,778.6 116.0,781.0 116.5,779.7 117.0,778.2 117.5,773.5 118.0,775.2 118.5,766.0 119.0,770.2 119.5,767.5 120.0,762.8 120.6,759.4 121.1,756.1 121.6,765.9 122.1,752.6 122.6,761.4 123.1,756.4 123.6,751.4 124.1,747.2 124.6,753.9 125.1,755.1 125.6,744.4 126.1,745.6 126.6,749.5 127.1,746.0 127.6,751.1 128.1,741.0 128.6,744.2 129.1,737.0 129.6,748.4 130.1,737.6 130.6,731.7 131.1,738.6 131.6,738.1 132.1,745.0 132.7,736.4 133.2,737.2 133.7,739.0 134.2,742.2 134.7,735.9 135.2,739.6 135.7,737.4 136.2,734.2 136.7,735.3 137.2,734.9 137.7,731.3 138.2,738.8 138.7,729.2 139.2,738.3 139.7,737.4 140.2,733.5 140.7,730.9 141.2,732.7 141.7,735.2 142.2,736.1 142.7,734.3 143.2,736.8 143.7,731.2 144.2,734.0 144.7,727.4 145.3,735.8 145.8,733.6 146.3,731.5 146.8,737.2 147.3,735.5 147.8,722.9 148.3,733.1 148.8,727.8 149.3,736.9 149.8,742.0 150.3,731.2 150.8,733.4 151.3,732.2 151.8,734.4 152.3,735.5 152.8,737.9 153.3,729.7 153.8,739.0 154.3,730.0 154.8,734.4 155.3,737.7 155.8,736.1 156.3,730.2 156.8,731.1 157.4,732.0 157.9,733.6 158.4,738.0 158.9,729.3 159.4,735.6 159.9,736.2 160.4,736.1 160.9,735.9 161.4,739.7 161.9,736.1 162.4,737.5 162.9,736.5 163.4,741.0 163.9,727.8 164.4,739.3 164.9,733.8 165.4,733.8 165.9,731.4 166.4,728.3 166.9,733.7 167.4,732.7 167.9,737.0 168.4,730.0 168.9,740.6 169.5,736.5 170.0,734.7 170.5,733.1 171.0,732.9 171.5,731.7 172.0,733.9 172.5,736.0 173.0,735.4 173.5,731.0 174.0,735.3 174.5,733.1 175.0,737.0 175.5,743.2 176.0,738.8 176.5,735.5 177.0,730.9 177.5,731.7 178.0,730.8 178.5,739.6 179.0,734.3 179.5,737.3 180.0,735.0 180.5,737.6 181.0,742.4 181.5,735.0 182.1,736.3 182.6,734.7 183.1,740.9 183.6,734.1 184.1,733.8 184.6,733.0 185.1,733.0 185.6,739.8 186.1,747.4 186.6,734.7 187.1,741.8 187.6,739.3 188.1,734.6 188.6,737.6 189.1,737.8 189.6,736.3 190.1,745.8 190.6,732.1 191.1,740.4 191.6,740.3 192.1,737.1 192.6,739.8 193.1,742.5 193.6,740.0 194.2,741.0 194.7,742.1 195.2,732.3 195.7,745.1 196.2,748.0 196.7,743.4 197.2,743.6 197.7,735.0 198.2,739.7 198.7,737.3 199.2,738.2 199.7,743.8 200.2,737.5" fill="none" stroke="#1e1e1e" stroke-width="1.3" stroke-linejoin="bevel"/>
<polyline points="114.0,780.5 114.5,774.1 115.0,780.4 115.5,781.3 116.0,778.5 116.5,778.4 117.0,787.6 117.5,773.2 118.0,770.7 118.5,768.6 119.0,773.1 119.5,773.8 120.0,765.0 120.6,758.9 121.1,757.8 121.6,761.2 122.1,752.2 122.6,758.9 123.1,757.1 123.6,750.7 124.1,751.2 124.6,750.2 125.1,751.8 125.6,741.2 126.1,748.1 126.6,741.4 127.1,739.0 127.6,741.1 128.1,739.1 128.6,735.5 129.1,732.5 129.6,734.1 130.1,742.1 130.6,743.3 131.1,737.9 131.6,739.3 132.1,732.7 132.7,733.8 133.2,734.6 133.7,729.3 134.2,729.2 134.7,732.8 135.2,730.9 135.7,727.9 136.2,732.9 136.7,730.2 137.2,734.6 137.7,730.7 138.2,729.4 138.7,730.8 139.2,729.5 139.7,727.6 140.2,728.4 140.7,732.4 141.2,731.9 141.7,734.1 142.2,723.3 142.7,727.9 143.2,727.8 143.7,729.8 144.2,727.5 144.7,727.3 145.3,731.9 145.8,729.7 146.3,724.8 146.8,733.8 147.3,732.6 147.8,726.9 148.3,732.0 148.8,726.4 149.3,733.1 149.8,728.3 150.3,726.2 150.8,727.8 151.3,726.4 151.8,729.9 152.3,729.8 152.8,729.4 153.3,727.3 153.8,716.2 154.3,729.7 154.8,722.6 155.3,730.4 155.8,733.6 156.3,730.6 156.8,728.3 157.4,729.1 157.9,729.4 158.4,727.9 158.9,727.9 159.4,726.7 159.9,734.4 160.4,730.1 160.9,733.7 161.4,729.5 161.9,730.7 162.4,729.9 162.9,732.3 163.4,733.6 163.9,731.6 164.4,728.4 164.9,728.1 165.4,737.0 165.9,730.1 166.4,730.1 166.9,736.5 167.4,735.3 167.9,733.3 168.4,730.1 168.9,740.1 169.5,733.1 170.0,733.7 170.5,731.2 171.0,726.9 171.5,727.2 172.0,733.6 172.5,733.6 173.0,731.4 173.5,728.2 174.0,727.3 174.5,731.4 175.0,727.4 175.5,736.0 176.0,737.0 176.5,743.1 177.0,736.2 177.5,731.0 178.0,730.1 178.5,720.9 179.0,731.2 179.5,732.8 180.0,737.0 180.5,735.8 181.0,735.9 181.5,734.6 182.1,736.3 182.6,739.2 183.1,730.3 183.6,732.5 184.1,729.3 184.6,740.2 185.1,739.1 185.6,737.2 186.1,730.3 186.6,735.3 187.1,734.0 187.6,735.2 188.1,734.3 188.6,736.9 189.1,733.7 189.6,738.3 190.1,736.2 190.6,734.4 191.1,735.1 191.6,734.0 192.1,738.6 192.6,734.8 193.1,736.9 193.6,734.5 194.2,730.7 194.7,739.4 195.2,732.4 195.7,738.7 196.2,737.9 196.7,730.5 197.2,733.1 197.7,734.8 198.2,733.8 198.7,732.6 199.2,739.6 199.7,736.1 200.2,738.5" fill="none" stroke="#1e1e1e" stroke-width="1.3" stroke-linejoin="bevel"/>
<polyline points="114.0,779.5 114.5,782.1 115.0,778.3 115.5,780.9 116.0,783.1 116.5,781.2 117.0,779.2 117.5,773.4 118.0,774.6 118.5,772.1 119.0,767.0 119.5,762.3 120.0,764.4 120.6,769.0 121.1,756.6 121.6,756.8 122.1,754.9 122.6,742.3 123.1,750.2 123.6,745.5 124.1,751.4 124.6,744.0 125.1,740.7 125.6,741.4 126.1,741.6 126.6,737.8 127.1,738.5 127.6,732.8 128.1,735.9 128.6,738.6 129.1,742.1 129.6,736.7 130.1,734.4 130.6,737.0 131.1,735.8 131.6,737.5 132.1,734.8 132.7,730.0 133.2,730.9 133.7,730.1 134.2,730.1 134.7,729.4 135.2,725.5 135.7,720.4 136.2,725.2 136.7,720.1 137.2,727.3 137.7,726.9 138.2,720.6 138.7,728.9 139.2,729.4 139.7,726.4 140.2,731.9 140.7,732.5 141.2,721.3 141.7,729.3 142.2,727.0 142.7,726.9 143.2,728.6 143.7,722.6 144.2,723.0 144.7,722.1 145.3,722.4 145.8,724.7 146.3,719.8 146.8,721.2 147.3,727.1 147.8,724.7 148.3,726.4 148.8,718.2 149.3,722.2 149.8,723.1 150.3,725.2 150.8,723.0 151.3,728.5 151.8,725.0 152.3,725.3 152.8,725.3 153.3,727.9 153.8,723.7 154.3,729.5 154.8,727.2 155.3,726.1 155.8,725.8 156.3,727.6 156.8,729.4 157.4,729.2 157.9,727.3 158.4,729.1 158.9,726.5 159.4,730.6 159.9,726.1 160.4,718.8 160.9,731.2 161.4,726.8 161.9,722.3 162.4,725.9 162.9,723.5 163.4,734.4 163.9,728.7 164.4,721.3 164.9,729.0 165.4,725.7 165.9,734.1 166.4,723.5 166.9,719.3 167.4,727.8 167.9,726.4 168.4,726.2 168.9,720.1 169.5,729.4 170.0,734.0 170.5,721.2 171.0,732.4 171.5,726.2 172.0,736.8 172.5,730.0 173.0,727.9 173.5,732.6 174.0,730.6 174.5,726.7 175.0,731.5 175.5,727.2 176.0,722.7 176.5,736.5 177.0,728.1 177.5,727.2 178.0,730.7 178.5,724.0 179.0,724.8 179.5,728.0 180.0,728.0 180.5,730.3 181.0,734.1 181.5,728.5 182.1,732.1 182.6,732.6 183.1,726.6 183.6,731.4 184.1,727.3 184.6,734.6 185.1,732.5 185.6,731.0 186.1,726.2 186.6,731.6 187.1,728.5 187.6,733.9 188.1,731.0 188.6,728.6 189.1,735.0 189.6,734.3 190.1,729.7 190.6,736.1 191.1,730.9 191.6,731.0 192.1,732.6 192.6,729.6 193.1,730.8 193.6,731.9 194.2,738.1 194.7,738.1 195.2,731.8 195.7,738.6 196.2,732.8 196.7,734.4 197.2,736.3 197.7,734.3 198.2,742.0 198.7,734.3 199.2,729.2 199.7,738.3 200.2,732.2" fill="none" stroke="#1e1e1e" stroke-width="1.3" stroke-linejoin="bevel"/>
<polyline points="114.0,779.9 114.5,770.2 115.0,784.6 115.5,783.9 116.0,783.9 116.5,784.5 117.0,786.9 117.5,776.9 118.0,776.8 118.5,767.4 119.0,765.7 119.5,767.8 120.0,762.6 120.6,753.7 121.1,757.4 121.6,753.1 122.1,748.6 122.6,751.0 123.1,746.1 123.6,740.0 124.1,740.0 124.6,748.7 125.1,735.4 125.6,740.2 126.1,740.3 126.6,739.2 127.1,731.3 127.6,733.4 128.1,734.1 128.6,735.5 129.1,729.4 129.6,726.7 130.1,733.7 130.6,733.3 131.1,729.9 131.6,725.8 132.1,728.8 132.7,727.2 133.2,729.3 133.7,721.3 134.2,725.8 134.7,724.4 135.2,720.5 135.7,725.0 136.2,724.0 136.7,722.1 137.2,724.7 137.7,717.9 138.2,722.6 138.7,724.1 139.2,723.4 139.7,726.0 140.2,717.7 140.7,716.4 141.2,722.6 141.7,723.2 142.2,729.1 142.7,723.6 143.2,718.2 143.7,724.1 144.2,718.1 144.7,715.8 145.3,730.5 145.8,722.2 146.3,723.6 146.8,723.0 147.3,727.5 147.8,722.0 148.3,725.4 148.8,717.3 149.3,716.0 149.8,726.2 150.3,726.4 150.8,723.0 151.3,722.0 151.8,721.8 152.3,718.8 152.8,726.8 153.3,723.7 153.8,723.2 154.3,722.8 154.8,725.3 155.3,723.4 155.8,724.4 156.3,717.5 156.8,723.6 157.4,729.8 157.9,720.1 158.4,721.6 158.9,725.3 159.4,725.7 159.9,724.5 160.4,716.6 160.9,724.3 161.4,718.3 161.9,719.7 162.4,724.7 162.9,721.8 163.4,725.8 163.9,734.4 164.4,725.9 164.9,725.8 165.4,720.1 165.9,721.1 166.4,719.7 166.9,721.7 167.4,719.8 167.9,721.4 168.4,723.1 168.9,720.4 169.5,719.0 170.0,719.3 170.5,725.9 171.0,724.6 171.5,728.2 172.0,728.4 172.5,723.5 173.0,727.2 173.5,719.7 174.0,733.2 174.5,729.4 175.0,724.5 175.5,721.1 176.0,726.8 176.5,718.8 177.0,722.8 177.5,728.4 178.0,726.1 178.5,724.2 179.0,729.5 179.5,722.4 180.0,727.3 180.5,724.6 181.0,723.4 181.5,728.2 182.1,723.1 182.6,733.6 183.1,724.8 183.6,734.1 184.1,723.1 184.6,729.4 185.1,723.0 185.6,722.6 186.1,728.1 186.6,730.0 187.1,723.1 187.6,732.1 188.1,725.0 188.6,728.5 189.1,729.5 189.6,730.3 190.1,721.8 190.6,734.2 191.1,730.5 191.6,727.1 192.1,725.0 192.6,722.7 193.1,724.0 193.6,731.0 194.2,727.9 194.7,725.1 195.2,727.4 195.7,735.0 196.2,728.3 196.7,727.5 197.2,734.6 197.7,731.5 198.2,730.1 198.7,727.8 199.2,724.5 199.7,726.0 200.2,728.6" fill="none" stroke="#1e1e1e" stroke-width="1.3" stroke-linejoin="bevel"/>
<polyline points="114.0,780.2 114.5,782.3 115.0,783.0 115.5,781.8 116.0,781.8 116.5,777.4 117.0,773.0 117.5,774.9 118.0,769.5 118.5,767.0 119.0,765.0 119.5,758.4 120.0,755.8 120.6,756.7 121.1,754.8 121.6,749.5 122.1,751.4 122.6,746.6 123.1,741.6 123.6,743.5 124.1,748.3 124.6,737.4 125.1,742.4 125.6,741.6 126.1,740.6 126.6,731.0 127.1,739.9 127.6,731.9 128.1,729.5 128.6,728.5 129.1,730.6 129.6,727.7 130.1,726.0 130.6,730.5 131.1,722.5 131.6,720.7 132.1,726.6 132.7,725.7 133.2,726.6 133.7,718.3 134.2,725.5 134.7,722.9 135.2,727.1 135.7,715.9 136.2,720.8 136.7,718.7 137.2,713.7 137.7,716.5 138.2,722.9 138.7,716.9 139.2,715.8 139.7,721.3 140.2,721.6 140.7,721.4 141.2,714.9 141.7,717.4 142.2,721.2 142.7,715.0 143.2,714.6 143.7,720.2 144.2,722.8 144.7,713.0 145.3,707.7 145.8,711.8 146.3,713.4 146.8,716.5 147.3,719.2 147.8,716.5 148.3,714.5 148.8,717.6 149.3,713.6 149.8,716.9 150.3,714.8 150.8,726.8 151.3,720.1 151.8,714.2 152.3,713.7 152.8,715.7 153.3,711.5 153.8,714.8 154.3,714.8 154.8,720.8 155.3,716.1 155.8,714.9 156.3,713.0 156.8,713.6 157.4,717.7 157.9,717.3 158.4,722.2 158.9,715.9 159.4,722.1 159.9,719.3 160.4,718.5 160.9,711.3 161.4,714.0 161.9,721.4 162.4,723.9 162.9,719.7 163.4,721.8 163.9,717.7 164.4,717.9 164.9,717.0 165.4,723.0 165.9,720.8 166.4,718.8 166.9,718.6 167.4,721.9 167.9,721.1 168.4,717.1 168.9,726.4 169.5,721.2 170.0,720.5 170.5,725.8 171.0,724.3 171.5,720.4 172.0,722.8 172.5,717.1 173.0,718.8 173.5,713.0 174.0,725.7 174.5,714.6 175.0,724.0 175.5,718.6 176.0,718.2 176.5,721.1 177.0,722.9 177.5,724.3 178.0,728.5 178.5,723.6 179.0,725.6 179.5,720.3 180.0,725.2 180.5,723.3 181.0,721.2 181.5,722.6 182.1,722.8 182.6,723.8 183.1,724.7 183.6,721.5 184.1,720.8 184.6,726.3 185.1,717.6 185.6,721.6 186.1,729.5 186.6,714.3 187.1,721.6 187.6,726.7 188.1,718.4 188.6,733.8 189.1,715.3 189.6,729.9 190.1,730.4 190.6,728.2 191.1,724.2 191.6,726.4 192.1,722.0 192.6,728.2 193.1,721.4 193.6,724.6 194.2,729.2 194.7,721.7 195.2,724.6 195.7,726.6 196.2,721.2 196.7,730.4 197.2,727.5 197.7,720.9 198.2,726.3 198.7,723.8 199.2,724.3 199.7,727.1 200.2,724.4" fill="none" stroke="#1e1e1e" stroke-width="1.3" stroke-linejoin="bevel"/>
<polyline points="114.0,784.5 114.5,778.5 115.0,784.5 115.5,780.8 116.0,784.1 116.5,779.1 117.0,779.0 117.5,772.3 118.0,774.5 118.5,772.0 119.0,772.7 119.5,766.3 120.0,759.4 120.6,754.8 121.1,754.1 121.6,750.0 122.1,752.9 122.6,748.7 123.1,740.0 123.6,738.5 124.1,744.0 124.6,738.3 125.1,734.7 125.6,738.2 126.1,731.0 126.6,730.0 127.1,728.0 127.6,721.3 128.1,730.3 128.6,721.8 129.1,723.1 129.6,721.5 130.1,725.9 130.6,722.2 131.1,721.7 131.6,714.9 132.1,719.9 132.7,714.3 133.2,720.1 133.7,719.8 134.2,717.9 134.7,724.8 135.2,718.9 135.7,718.7 136.2,716.7 136.7,715.2 137.2,719.0 137.7,719.2 138.2,710.3 138.7,718.5 139.2,716.4 139.7,717.8 140.2,715.8 140.7,709.5 141.2,709.6 141.7,720.2 142.2,714.4 142.7,708.3 143.2,714.6 143.7,712.0 144.2,706.6 144.7,704.9 145.3,707.3 145.8,714.0 146.3,712.9 146.8,712.1 147.3,714.0 147.8,715.2 148.3,705.4 148.8,711.9 149.3,710.1 149.8,708.6 150.3,711.1 150.8,712.7 151.3,712.2 151.8,708.0 152.3,711.5 152.8,720.6 153.3,709.6 153.8,707.4 154.3,714.5 154.8,715.8 155.3,715.3 155.8,709.7 156.3,717.4 156.8,711.1 157.4,709.9 157.9,711.9 158.4,713.8 158.9,716.8 159.4,716.6 159.9,714.4 160.4,717.9 160.9,715.0 161.4,718.0 161.9,709.8 162.4,709.3 162.9,717.9 163.4,710.2 163.9,714.2 164.4,715.0 164.9,713.7 165.4,714.0 165.9,720.7 166.4,706.7 166.9,719.1 167.4,724.3 167.9,716.3 168.4,716.2 168.9,719.0 169.5,723.1 170.0,712.4 170.5,717.1 171.0,716.2 171.5,719.0 172.0,717.7 172.5,719.6 173.0,715.8 173.5,717.6 174.0,715.1 174.5,715.3 175.0,717.3 175.5,717.4 176.0,713.8 176.5,723.8 177.0,717.8 177.5,713.4 178.0,722.5 178.5,715.9 179.0,720.6 179.5,718.8 180.0,719.9 180.5,719.7 181.0,717.1 181.5,719.5 182.1,726.7 182.6,711.5 183.1,719.9 183.6,721.3 184.1,716.1 184.6,715.1 185.1,727.9 185.6,718.9 186.1,727.8 186.6,722.4 187.1,720.9 187.6,722.4 188.1,723.1 188.6,725.2 189.1,722.6 189.6,721.7 190.1,721.9 190.6,726.3 191.1,724.5 191.6,718.0 192.1,719.5 192.6,723.0 193.1,719.7 193.6,720.7 194.2,718.8 194.7,721.4 195.2,723.9 195.7,726.1 196.2,722.7 196.7,730.2 197.2,722.6 197.7,734.5 198.2,726.7 198.7,725.0 199.2,721.5 199.7,713.3 200.2,723.0" fill="none" stroke="#1e1e1e" stroke-width="1.3" stroke-linejoin="bevel"/>
<polyline points="114.0,781.6 114.5,787.9 115.0,776.0 115.5,787.9 116.0,780.1 116.5,783.6 117.0,771.7 117.5,778.2 118.0,773.5 118.5,774.4 119.0,769.6 119.5,762.7 120.0,767.9 120.6,764.8 121.1,762.4 121.6,761.9 122.1,760.4 122.6,754.6 123.1,748.2 123.6,746.6 124.1,755.0 124.6,751.4 125.1,747.9 125.6,744.8 126.1,745.4 126.6,744.3 127.1,742.0 127.6,739.8 128.1,749.3 128.6,741.5 129.1,737.7 129.6,734.5 130.1,735.9 130.6,740.5 131.1,740.1 131.6,736.0 132.1,736.5 132.7,734.7 133.2,731.4 133.7,739.7 134.2,736.0 134.7,743.2 135.2,731.2 135.7,733.1 136.2,736.5 136.7,732.2 137.2,727.9 137.7,729.2 138.2,732.8 138.7,733.5 139.2,731.8 139.7,735.6 140.2,735.4 140.7,732.9 141.2,731.7 141.7,730.6 142.2,733.4 142.7,734.6 143.2,731.5 143.7,732.8 144.2,730.0 144.7,726.0 145.3,727.5 145.8,733.8 146.3,732.6 146.8,736.7 147.3,731.2 147.8,734.1 148.3,735.8 148.8,734.6 149.3,728.8 149.8,730.4 150.3,731.5 150.8,727.6 151.3,732.8 151.8,734.9 152.3,729.5 152.8,738.3 153.3,730.2 153.8,730.6 154.3,730.5 154.8,728.9 155.3,733.0 155.8,731.6 156.3,737.6 156.8,733.9 157.4,733.7 157.9,731.0 158.4,726.8 158.9,731.6 159.4,728.9 159.9,735.5 160.4,732.0 160.9,738.2 161.4,734.9 161.9,735.4 162.4,733.3 162.9,733.3 163.4,735.0 163.9,736.0 164.4,730.2 164.9,734.6 165.4,742.4 165.9,732.7 166.4,732.2 166.9,730.7 167.4,728.0 167.9,737.6 168.4,733.6 168.9,734.6 169.5,740.2 170.0,742.7 170.5,730.6 171.0,737.6 171.5,736.2 172.0,735.4 172.5,735.8 173.0,734.1 173.5,740.0 174.0,736.6 174.5,735.7 175.0,739.0 175.5,737.8 176.0,736.4 176.5,736.0 177.0,741.2 177.5,736.8 178.0,734.7 178.5,732.0 179.0,734.0 179.5,731.5 180.0,735.8 180.5,736.4 181.0,728.2 181.5,735.7 182.1,738.1 182.6,736.4 183.1,732.5 183.6,740.6 184.1,733.6 184.6,731.7 185.1,732.4 185.6,736.3 186.1,740.0 186.6,740.7 187.1,737.3 187.6,732.4 188.1,734.4 188.6,733.6 189.1,736.3 189.6,730.6 190.1,737.5 190.6,739.5 191.1,736.7 191.6,739.0 192.1,734.1 192.6,732.3 193.1,735.3 193.6,741.8 194.2,741.5 194.7,736.2 195.2,742.3 195.7,736.8 196.2,743.5 196.7,739.9 197.2,736.6 197.7,741.2 198.2,735.6 198.7,735.1 199.2,733.4 199.7,739.6 200.2,738.6" fill="none" stroke="#1e1e1e" stroke-width="1.3" stroke-linejoin="bevel"/>
<polyline points="114.0,780.7 114.5,779.5 115.0,786.2 115.5,779.5 116.0,778.4 116.5,785.5 117.0,785.9 117.5,778.4 118.0,767.4 118.5,768.3 119.0,769.6 119.5,764.6 120.0,767.4 120.6,754.4 121.1,759.3 121.6,752.4 122.1,757.3 122.6,750.2 123.1,752.3 123.6,744.5 124.1,740.1 124.6,739.7 125.1,740.0 125.6,737.1 126.1,743.9 126.6,743.2 127.1,738.2 127.6,732.4 128.1,734.7 128.6,731.7 129.1,738.6 129.6,733.6 130.1,733.5 130.6,729.6 131.1,723.1 131.6,727.0 132.1,725.1 132.7,729.9 133.2,728.5 133.7,724.8 134.2,725.8 134.7,732.4 135.2,723.0 135.7,722.8 136.2,724.9 136.7,722.9 137.2,723.6 137.7,726.8 138.2,730.9 138.7,718.1 139.2,724.2 139.7,724.3 140.2,723.6 140.7,723.1 141.2,722.5 141.7,727.2 142.2,721.8 142.7,722.9 143.2,723.3 143.7,723.6 144.2,722.5 144.7,726.7 145.3,723.0 145.8,723.7 146.3,722.8 146.8,719.4 147.3,720.0 147.8,719.2 148.3,723.7 148.8,720.4 149.3,719.2 149.8,723.9 150.3,725.0 150.8,716.8 151.3,729.2 151.8,723.3 152.3,722.9 152.8,727.1 153.3,723.6 153.8,721.2 154.3,731.4 154.8,719.6 155.3,723.2 155.8,726.7 156.3,719.9 156.8,723.4 157.4,725.3 157.9,732.6 158.4,720.8 158.9,723.9 159.4,726.5 159.9,724.5 160.4,720.0 160.9,725.9 161.4,724.9 161.9,726.2 162.4,728.8 162.9,728.4 163.4,726.3 163.9,726.1 164.4,721.1 164.9,724.7 165.4,726.0 165.9,723.9 166.4,725.8 166.9,722.5 167.4,731.1 167.9,733.5 168.4,724.4 168.9,727.3 169.5,725.2 170.0,730.6 170.5,727.8 171.0,726.6 171.5,725.6 172.0,726.9 172.5,723.0 173.0,729.1 173.5,724.2 174.0,728.8 174.5,727.5 175.0,731.0 175.5,727.1 176.0,731.0 176.5,724.1 177.0,729.7 177.5,726.8 178.0,728.4 178.5,728.0 179.0,731.3 179.5,720.7 180.0,729.2 180.5,722.8 181.0,732.6 181.5,721.3 182.1,724.9 182.6,722.6 183.1,734.6 183.6,724.1 184.1,729.3 184.6,727.1 185.1,722.6 185.6,728.0 186.1,731.7 186.6,728.7 187.1,732.9 187.6,728.3 188.1,729.7 188.6,728.4 189.1,731.1 189.6,736.8 190.1,731.4 190.6,730.9 191.1,728.0 191.6,727.6 192.1,735.7 192.6,726.5 193.1,727.4 193.6,730.4 194.2,729.3 194.7,738.0 195.2,722.5 195.7,732.4 196.2,733.8 196.7,727.3 197.2,729.1 197.7,733.1 198.2,737.5 198.7,728.4 199.2,726.1 199.7,735.4 200.2,737.5" fill="none" stroke="#1e1e1e" stroke-width="1.3" stroke-linejoin="bevel"/>
<polyline points="233.8,875.5 234.3,890.2 234.8,883.6 235.4,888.9 235.9,884.2 236.4,882.9 236.9,882.6 237.5,890.3 238.0,890.1 238.5,875.8 239.0,880.6 239.6,891.5 240.1,882.9 240.6,879.0 241.1,884.4 241.7,884.0 242.2,884.0 242.7,882.5 243.2,883.2 243.8,882.6 244.3,885.7 244.8,881.1 245.3,883.2 245.9,883.8 246.4,889.6 246.9,885.9 247.4,884.0 248.0,886.5 248.5,886.0 249.0,888.7" fill="none" stroke="#1e1e1e" stroke-width="1.4" stroke-linejoin="bevel"/>
<polyline points="233.8,877.3 234.3,881.5 234.8,886.7 235.4,884.9 235.9,879.3 236.4,877.8 236.9,883.0 237.5,881.6 238.0,879.1 238.5,873.6 239.0,872.2 239.6,880.9 240.1,882.6 240.6,882.7 241.1,874.3 241.7,883.6 242.2,877.4 242.7,881.1 243.2,881.2 243.8,876.3 244.3,877.1 244.8,871.2 245.3,875.8 245.9,872.3 246.4,881.2 246.9,879.7 247.4,883.2 248.0,880.9 248.5,877.0 249.0,880.9" fill="none" stroke="#1e1e1e" stroke-width="1.4" stroke-linejoin="bevel"/>
<polyline points="233.8,890.4 234.3,889.2 234.8,884.0 235.4,888.0 235.9,888.2 236.4,886.7 236.9,891.6 237.5,894.8 238.0,886.5 238.5,886.6 239.0,879.0 239.6,887.5 240.1,886.2 240.6,879.3 241.1,889.1 241.7,890.3 242.2,885.0 242.7,886.5 243.2,884.1 243.8,891.0 244.3,881.9 244.8,886.7 245.3,895.8 245.9,888.2 246.4,889.8 246.9,887.4 247.4,883.3 248.0,887.8 248.5,889.6 249.0,883.9" fill="none" stroke="#1e1e1e" stroke-width="1.4" stroke-linejoin="bevel"/>
<polyline points="233.8,887.0 234.3,886.3 234.8,875.7 235.4,878.2 235.9,875.6 236.4,886.3 236.9,884.5 237.5,884.9 238.0,878.5 238.5,877.4 239.0,882.4 239.6,882.5 240.1,878.6 240.6,882.6 241.1,884.6 241.7,883.0 242.2,877.9 242.7,873.6 243.2,881.0 243.8,882.7 244.3,881.0 244.8,880.3 245.3,879.3 245.9,884.9 246.4,881.8 246.9,882.5 247.4,878.2 248.0,879.6 248.5,882.7 249.0,878.0" fill="none" stroke="#1e1e1e" stroke-width="1.4" stroke-linejoin="bevel"/>
<polyline points="233.8,886.7 234.3,892.9 234.8,888.8 235.4,893.9 235.9,887.5 236.4,886.8 236.9,882.5 237.5,885.7 238.0,893.8 238.5,889.4 239.0,891.0 239.6,890.9 240.1,888.0 240.6,887.2 241.1,888.5 241.7,890.7 242.2,889.9 242.7,890.0 243.2,888.7 243.8,885.0 244.3,887.0 244.8,884.3 245.3,892.1 245.9,879.6 246.4,887.2 246.9,897.6 247.4,886.7 248.0,883.5 248.5,888.0 249.0,893.2" fill="none" stroke="#1e1e1e" stroke-width="1.4" stroke-linejoin="bevel"/>
<polyline points="233.8,882.4 234.3,880.3 234.8,878.4 235.4,892.5 235.9,880.2 236.4,877.8 236.9,877.9 237.5,881.4 238.0,881.5 238.5,883.0 239.0,880.5 239.6,874.2 240.1,882.0 240.6,878.7 241.1,878.8 241.7,874.0 242.2,877.6 242.7,877.0 243.2,879.8 243.8,874.1 244.3,880.1 244.8,880.4 245.3,875.4 245.9,877.4 246.4,876.5 246.9,883.5 247.4,869.8 248.0,878.5 248.5,873.3 249.0,878.2" fill="none" stroke="#1e1e1e" stroke-width="1.4" stroke-linejoin="bevel"/>
<polyline points="233.8,879.2 234.3,882.2 234.8,878.3 235.4,889.4 235.9,885.3 236.4,886.2 236.9,876.4 237.5,877.3 238.0,886.0 238.5,880.9 239.0,880.7 239.6,883.0 240.1,876.7 240.6,884.8 241.1,881.8 241.7,883.6 242.2,879.0 242.7,883.7 243.2,878.9 243.8,885.5 244.3,886.2 244.8,885.3 245.3,883.8 245.9,884.2 246.4,870.9 246.9,885.0 247.4,880.6 248.0,882.1 248.5,880.6 249.0,876.1" fill="none" stroke="#1e1e1e" stroke-width="1.4" stroke-linejoin="bevel"/>
<polyline points="233.8,890.1 234.3,893.1 234.8,885.0 235.4,883.8 235.9,893.3 236.4,883.9 236.9,895.7 237.5,887.7 238.0,883.9 238.5,891.4 239.0,894.2 239.6,881.7 240.1,893.7 240.6,886.3 241.1,893.4 241.7,885.9 242.2,881.1 242.7,889.5 243.2,891.2 243.8,895.8 244.3,894.3 244.8,890.2 245.3,886.5 245.9,885.4 246.4,886.3 246.9,884.1 247.4,886.4 248.0,877.3 248.5,888.2 249.0,887.3" fill="none" stroke="#1e1e1e" stroke-width="1.4" stroke-linejoin="bevel"/>
<polyline points="233.8,885.5 234.3,880.5 234.8,884.7 235.4,877.5 235.9,880.0 236.4,875.0 236.9,888.2 237.5,884.8 238.0,877.7 238.5,882.2 239.0,886.2 239.6,884.4 240.1,884.0 240.6,879.0 241.1,879.9 241.7,882.8 242.2,886.1 242.7,879.1 243.2,878.0 243.8,887.0 244.3,878.7 244.8,886.7 245.3,883.4 245.9,886.0 246.4,889.4 246.9,885.2 247.4,885.5 248.0,878.8 248.5,879.7 249.0,885.0" fill="none" stroke="#1e1e1e" stroke-width="1.4" stroke-linejoin="bevel"/>
<polyline points="233.8,883.1 234.3,886.8 234.8,878.7 235.4,878.3 235.9,881.5 236.4,877.6 236.9,877.2 237.5,873.3 238.0,881.5 238.5,873.2 239.0,879.5 239.6,871.8 240.1,881.9 240.6,873.4 241.1,880.9 241.7,871.1 242.2,875.7 242.7,882.2 243.2,874.3 243.8,877.8 244.3,875.6 244.8,868.3 245.3,878.7 245.9,879.2 246.4,873.1 246.9,879.8 247.4,874.3 248.0,873.5 248.5,877.5 249.0,874.8" fill="none" stroke="#1e1e1e" stroke-width="1.4" stroke-linejoin="bevel"/>
<polyline points="253.0,884.7 253.5,870.1 254.0,878.8 254.5,879.8 255.0,868.5 255.5,869.4 256.0,878.1 256.5,874.2 257.0,877.5 257.5,880.3 258.0,874.6 258.5,872.0 259.0,865.6 259.5,876.8 260.0,872.5 260.5,877.2 261.0,876.9 261.5,870.7 262.1,882.6 262.6,880.1 263.1,879.2 263.6,871.5 264.1,874.5 264.6,873.9 265.1,874.4 265.6,871.7 266.1,877.7 266.6,876.9 267.1,877.4 267.6,874.1 268.1,880.9 268.6,876.7 269.1,865.6 269.6,873.6 270.1,875.8 270.6,879.7 271.1,874.9 271.6,875.0 272.1,873.5 272.6,878.5 273.1,874.3 273.6,873.7 274.1,873.2 274.6,878.1 275.1,874.0 275.6,869.6 276.1,878.4 276.6,873.3 277.1,877.4 277.6,877.4 278.1,880.6 278.6,880.0 279.2,873.8 279.7,875.4 280.2,871.1 280.7,882.4 281.2,877.7 281.7,881.3 282.2,874.8 282.7,868.2 283.2,881.8 283.7,876.4 284.2,876.5 284.7,876.2 285.2,878.4 285.7,878.0 286.2,870.0 286.7,880.1 287.2,874.0 287.7,874.2 288.2,882.6 288.7,879.5 289.2,874.7 289.7,868.9 290.2,876.6 290.7,878.0 291.2,875.7 291.7,871.3 292.2,873.0 292.7,871.2 293.2,876.8 293.7,879.1 294.2,879.9 294.7,873.2 295.2,876.9 295.7,878.1 296.2,874.1 296.8,875.4 297.3,884.1 297.8,876.8 298.3,879.4 298.8,874.3 299.3,876.2 299.8,869.5 300.3,875.9 300.8,880.5 301.3,884.0 301.8,880.5 302.3,878.6 302.8,876.2 303.3,873.7 303.8,875.4 304.3,878.3 304.8,873.0 305.3,879.5 305.8,872.3 306.3,869.2 306.8,872.2 307.3,869.7 307.8,870.8 308.3,880.3 308.8,875.2 309.3,876.8 309.8,880.4 310.3,880.8 310.8,874.1 311.3,881.0 311.8,877.5 312.3,876.0 312.8,877.7 313.3,870.6 313.8,873.0 314.4,875.6 314.9,878.3 315.4,874.6 315.9,875.5 316.4,879.7 316.9,881.4 317.4,878.9 317.9,880.8 318.4,874.5 318.9,874.8 319.4,877.2 319.9,874.9 320.4,874.1 320.9,882.3 321.4,875.2 321.9,872.3 322.4,877.9 322.9,883.0 323.4,876.3 323.9,880.7 324.4,874.3 324.9,874.1 325.4,873.4 325.9,875.5 326.4,883.0 326.9,871.6 327.4,882.2 327.9,872.2 328.4,875.1 328.9,879.2 329.4,878.4 329.9,877.1 330.4,869.7 330.9,877.4 331.5,872.1 332.0,885.8 332.5,875.2 333.0,876.7 333.5,871.6 334.0,874.2 334.5,871.1 335.0,879.7 335.5,875.0 336.0,878.1 336.5,873.4 337.0,874.1 337.5,880.9 338.0,872.3 338.5,869.2 339.0,877.5 339.5,871.7 340.0,874.3" fill="none" stroke="#aaa" stroke-width="1.3" stroke-linejoin="bevel"/>
<polyline points="253.0,882.5 253.5,875.9 254.0,882.3 254.5,876.4 255.0,884.7 255.5,884.0 256.0,877.2 256.5,878.2 257.0,875.8 257.5,879.8 258.0,883.4 258.5,873.5 259.0,882.5 259.5,874.0 260.0,875.7 260.5,872.2 261.0,887.0 261.5,879.2 262.1,879.9 262.6,876.4 263.1,883.1 263.6,871.0 264.1,879.1 264.6,887.4 265.1,877.5 265.6,879.1 266.1,881.6 266.6,875.9 267.1,879.1 267.6,882.7 268.1,879.7 268.6,880.4 269.1,877.7 269.6,880.2 270.1,879.2 270.6,884.5 271.1,881.8 271.6,878.1 272.1,869.7 272.6,881.7 273.1,881.9 273.6,875.5 274.1,871.4 274.6,874.7 275.1,882.5 275.6,875.0 276.1,877.3 276.6,879.8 277.1,883.7 277.6,878.9 278.1,878.6 278.6,876.9 279.2,885.2 279.7,883.1 280.2,878.6 280.7,873.7 281.2,876.0 281.7,881.2 282.2,876.3 282.7,882.4 283.2,880.4 283.7,880.1 284.2,881.5 284.7,880.9 285.2,875.8 285.7,877.8 286.2,887.9 286.7,874.4 287.2,877.2 287.7,883.0 288.2,878.4 288.7,875.9 289.2,874.0 289.7,881.0 290.2,882.9 290.7,884.3 291.2,879.2 291.7,883.0 292.2,875.1 292.7,879.6 293.2,876.4 293.7,879.7 294.2,881.9 294.7,883.1 295.2,875.2 295.7,883.8 296.2,877.2 296.8,875.1 297.3,878.4 297.8,873.4 298.3,879.0 298.8,880.1 299.3,878.2 299.8,881.0 300.3,877.8 300.8,879.0 301.3,873.5 301.8,879.2 302.3,875.8 302.8,877.3 303.3,878.6 303.8,879.7 304.3,872.7 304.8,873.1 305.3,877.9 305.8,880.8 306.3,880.4 306.8,882.4 307.3,883.9 307.8,880.9 308.3,878.9 308.8,875.1 309.3,875.4 309.8,877.2 310.3,880.0 310.8,879.8 311.3,879.0 311.8,878.4 312.3,881.4 312.8,879.8 313.3,880.1 313.8,880.2 314.4,876.9 314.9,875.1 315.4,880.9 315.9,880.6 316.4,878.2 316.9,877.4 317.4,887.7 317.9,876.1 318.4,878.2 318.9,880.0 319.4,874.6 319.9,879.4 320.4,885.8 320.9,882.5 321.4,881.4 321.9,881.3 322.4,879.4 322.9,882.6 323.4,878.4 323.9,877.4 324.4,879.4 324.9,882.4 325.4,880.3 325.9,881.6 326.4,871.3 326.9,883.5 327.4,887.9 327.9,884.1 328.4,877.8 328.9,875.8 329.4,880.1 329.9,875.2 330.4,881.8 330.9,877.0 331.5,882.7 332.0,884.2 332.5,871.3 333.0,880.1 333.5,876.3 334.0,873.6 334.5,876.7 335.0,878.2 335.5,882.9 336.0,873.2 336.5,883.0 337.0,886.7 337.5,881.3 338.0,881.1 338.5,878.9 339.0,874.5 339.5,881.0 340.0,880.5" fill="none" stroke="#aaa" stroke-width="1.3" stroke-linejoin="bevel"/>
<polyline points="253.0,884.8 253.5,891.8 254.0,884.8 254.5,883.6 255.0,887.9 255.5,876.9 256.0,877.7 256.5,880.6 257.0,879.5 257.5,884.6 258.0,880.8 258.5,888.6 259.0,887.8 259.5,884.9 260.0,880.5 260.5,884.3 261.0,885.1 261.5,877.9 262.1,883.3 262.6,884.7 263.1,882.8 263.6,888.0 264.1,886.6 264.6,878.9 265.1,882.5 265.6,878.8 266.1,884.2 266.6,878.7 267.1,885.5 267.6,883.5 268.1,885.7 268.6,881.4 269.1,876.5 269.6,888.7 270.1,881.3 270.6,887.2 271.1,883.6 271.6,884.6 272.1,889.0 272.6,883.3 273.1,887.3 273.6,876.4 274.1,885.3 274.6,881.1 275.1,881.5 275.6,882.0 276.1,883.3 276.6,888.3 277.1,875.0 277.6,882.2 278.1,879.3 278.6,886.4 279.2,880.4 279.7,883.7 280.2,880.5 280.7,884.5 281.2,885.9 281.7,880.5 282.2,882.2 282.7,876.6 283.2,883.2 283.7,885.3 284.2,879.9 284.7,886.3 285.2,874.1 285.7,875.0 286.2,876.7 286.7,880.2 287.2,882.1 287.7,881.7 288.2,881.7 288.7,884.7 289.2,880.2 289.7,877.2 290.2,877.3 290.7,890.0 291.2,873.1 291.7,881.3 292.2,887.5 292.7,883.8 293.2,878.8 293.7,882.0 294.2,885.3 294.7,886.6 295.2,878.6 295.7,884.9 296.2,883.0 296.8,886.2 297.3,887.3 297.8,880.7 298.3,876.5 298.8,883.5 299.3,888.8 299.8,884.6 300.3,882.9 300.8,891.1 301.3,878.0 301.8,885.4 302.3,879.8 302.8,882.2 303.3,882.3 303.8,887.8 304.3,878.4 304.8,880.0 305.3,875.9 305.8,883.9 306.3,880.3 306.8,883.6 307.3,877.9 307.8,880.6 308.3,885.9 308.8,881.3 309.3,884.4 309.8,884.0 310.3,880.7 310.8,876.1 311.3,885.7 311.8,882.6 312.3,885.7 312.8,874.4 313.3,875.7 313.8,873.9 314.4,878.7 314.9,886.0 315.4,884.2 315.9,881.9 316.4,882.5 316.9,884.9 317.4,880.9 317.9,883.5 318.4,882.5 318.9,873.7 319.4,880.5 319.9,887.2 320.4,880.5 320.9,881.5 321.4,879.7 321.9,880.2 322.4,886.3 322.9,881.0 323.4,878.1 323.9,870.2 324.4,879.8 324.9,874.5 325.4,875.1 325.9,885.0 326.4,884.7 326.9,874.7 327.4,885.2 327.9,883.7 328.4,879.0 328.9,884.8 329.4,875.8 329.9,877.4 330.4,876.5 330.9,877.8 331.5,885.3 332.0,876.9 332.5,877.6 333.0,878.4 333.5,882.7 334.0,880.7 334.5,885.3 335.0,879.3 335.5,877.1 336.0,880.1 336.5,882.1 337.0,878.5 337.5,883.0 338.0,888.9 338.5,879.8 339.0,882.1 339.5,887.1 340.0,879.5" fill="none" stroke="#aaa" stroke-width="1.3" stroke-linejoin="bevel"/>
<polyline points="253.0,881.7 253.5,880.8 254.0,886.5 254.5,886.9 255.0,884.4 255.5,885.1 256.0,889.8 256.5,888.2 257.0,879.6 257.5,884.9 258.0,885.3 258.5,887.7 259.0,884.1 259.5,882.5 260.0,883.2 260.5,878.1 261.0,884.8 261.5,882.6 262.1,886.7 262.6,881.0 263.1,883.2 263.6,881.2 264.1,880.8 264.6,887.5 265.1,883.1 265.6,886.6 266.1,880.6 266.6,885.2 267.1,878.4 267.6,883.0 268.1,882.9 268.6,887.1 269.1,885.5 269.6,884.2 270.1,888.0 270.6,885.6 271.1,886.9 271.6,887.8 272.1,884.6 272.6,883.7 273.1,886.1 273.6,883.3 274.1,886.3 274.6,889.0 275.1,888.1 275.6,883.4 276.1,880.0 276.6,884.6 277.1,884.4 277.6,889.0 278.1,883.4 278.6,884.0 279.2,887.6 279.7,883.0 280.2,884.2 280.7,891.3 281.2,890.5 281.7,887.2 282.2,885.8 282.7,881.1 283.2,886.9 283.7,885.0 284.2,885.7 284.7,882.9 285.2,884.8 285.7,884.1 286.2,886.0 286.7,890.2 287.2,886.2 287.7,878.5 288.2,881.1 288.7,878.8 289.2,881.8 289.7,886.9 290.2,886.3 290.7,882.5 291.2,885.8 291.7,881.9 292.2,879.4 292.7,879.5 293.2,881.6 293.7,890.2 294.2,879.7 294.7,889.5 295.2,889.9 295.7,884.1 296.2,884.6 296.8,882.5 297.3,884.7 297.8,887.3 298.3,884.8 298.8,888.6 299.3,889.3 299.8,886.1 300.3,886.0 300.8,884.6 301.3,886.1 301.8,880.6 302.3,886.3 302.8,885.6 303.3,881.5 303.8,893.0 304.3,881.1 304.8,881.5 305.3,885.9 305.8,877.5 306.3,881.8 306.8,879.0 307.3,881.1 307.8,884.3 308.3,886.0 308.8,889.0 309.3,887.9 309.8,889.3 310.3,887.0 310.8,883.0 311.3,889.0 311.8,882.9 312.3,882.5 312.8,890.6 313.3,887.8 313.8,885.6 314.4,887.6 314.9,888.1 315.4,879.6 315.9,884.4 316.4,880.3 316.9,885.3 317.4,882.2 317.9,889.9 318.4,886.8 318.9,881.7 319.4,884.7 319.9,880.2 320.4,884.9 320.9,886.9 321.4,885.8 321.9,877.5 322.4,883.5 322.9,886.7 323.4,885.9 323.9,889.2 324.4,879.9 324.9,886.8 325.4,882.3 325.9,885.5 326.4,886.3 326.9,887.4 327.4,882.6 327.9,885.5 328.4,880.3 328.9,879.4 329.4,886.9 329.9,884.6 330.4,878.6 330.9,881.6 331.5,884.9 332.0,890.7 332.5,888.7 333.0,887.8 333.5,878.0 334.0,884.4 334.5,886.6 335.0,886.3 335.5,886.4 336.0,883.9 336.5,891.5 337.0,890.4 337.5,884.4 338.0,881.1 338.5,892.6 339.0,882.7 339.5,889.3 340.0,892.0" fill="none" stroke="#aaa" stroke-width="1.3" stroke-linejoin="bevel"/>
<polyline points="253.0,884.2 253.5,888.9 254.0,886.5 254.5,889.7 255.0,889.0 255.5,895.2 256.0,890.0 256.5,887.7 257.0,892.1 257.5,886.7 258.0,886.4 258.5,896.3 259.0,884.7 259.5,885.9 260.0,887.9 260.5,883.8 261.0,879.8 261.5,891.8 262.1,884.8 262.6,885.7 263.1,886.4 263.6,884.0 264.1,883.7 264.6,888.4 265.1,896.9 265.6,890.6 266.1,890.6 266.6,882.1 267.1,887.7 267.6,883.3 268.1,890.7 268.6,886.9 269.1,887.9 269.6,887.4 270.1,885.6 270.6,882.0 271.1,890.0 271.6,882.5 272.1,883.3 272.6,886.6 273.1,885.1 273.6,888.8 274.1,891.6 274.6,888.7 275.1,888.5 275.6,887.9 276.1,891.0 276.6,880.8 277.1,889.2 277.6,884.2 278.1,883.1 278.6,887.8 279.2,886.3 279.7,890.0 280.2,892.0 280.7,878.9 281.2,887.5 281.7,895.2 282.2,891.1 282.7,893.3 283.2,888.2 283.7,882.3 284.2,883.5 284.7,890.5 285.2,891.4 285.7,885.0 286.2,886.8 286.7,888.8 287.2,881.1 287.7,886.4 288.2,893.9 288.7,896.1 289.2,887.4 289.7,894.7 290.2,885.8 290.7,884.7 291.2,879.3 291.7,891.4 292.2,886.4 292.7,896.7 293.2,889.0 293.7,888.5 294.2,880.9 294.7,893.5 295.2,886.4 295.7,887.2 296.2,879.4 296.8,891.3 297.3,891.5 297.8,885.5 298.3,888.1 298.8,889.3 299.3,891.4 299.8,888.2 300.3,894.3 300.8,886.9 301.3,885.5 301.8,886.0 302.3,878.1 302.8,884.7 303.3,891.6 303.8,888.8 304.3,884.7 304.8,889.1 305.3,880.1 305.8,886.7 306.3,889.8 306.8,890.4 307.3,884.8 307.8,891.3 308.3,894.9 308.8,886.2 309.3,890.6 309.8,881.9 310.3,880.3 310.8,890.1 311.3,888.0 311.8,888.6 312.3,885.6 312.8,886.7 313.3,890.9 313.8,894.3 314.4,887.0 314.9,881.5 315.4,892.6 315.9,890.1 316.4,890.4 316.9,888.5 317.4,896.6 317.9,888.1 318.4,889.8 318.9,880.8 319.4,885.6 319.9,885.2 320.4,887.7 320.9,889.1 321.4,885.0 321.9,894.4 322.4,883.8 322.9,886.1 323.4,888.7 323.9,883.0 324.4,890.0 324.9,890.2 325.4,886.7 325.9,895.1 326.4,888.1 326.9,888.9 327.4,884.2 327.9,881.4 328.4,885.4 328.9,886.6 329.4,886.1 329.9,890.7 330.4,878.7 330.9,883.5 331.5,880.9 332.0,892.9 332.5,885.7 333.0,885.8 333.5,883.6 334.0,891.2 334.5,886.2 335.0,888.7 335.5,880.1 336.0,892.3 336.5,889.3 337.0,889.9 337.5,892.5 338.0,887.1 338.5,887.2 339.0,890.5 339.5,889.4 340.0,886.9" fill="none" stroke="#aaa" stroke-width="1.3" stroke-linejoin="bevel"/>
<polyline points="253.0,881.0 253.5,878.9 254.0,883.5 254.5,884.4 255.0,880.8 255.5,888.0 256.0,875.0 256.5,879.9 257.0,887.3 257.5,879.2 258.0,874.7 258.5,886.1 259.0,882.9 259.5,876.3 260.0,883.8 260.5,876.9 261.0,875.7 261.5,880.2 262.1,879.0 262.6,876.6 263.1,879.4 263.6,877.0 264.1,881.0 264.6,880.7 265.1,883.7 265.6,879.1 266.1,875.7 266.6,875.8 267.1,879.9 267.6,886.7 268.1,884.1 268.6,878.4 269.1,884.4 269.6,876.4 270.1,884.7 270.6,879.4 271.1,883.7 271.6,883.2 272.1,879.8 272.6,882.1 273.1,876.8 273.6,880.5 274.1,884.9 274.6,896.4 275.1,883.5 275.6,881.2 276.1,877.0 276.6,884.9 277.1,874.5 277.6,877.8 278.1,882.2 278.6,876.2 279.2,886.7 279.7,885.0 280.2,878.7 280.7,878.7 281.2,875.8 281.7,875.5 282.2,882.5 282.7,883.2 283.2,882.2 283.7,881.8 284.2,878.7 284.7,882.2 285.2,875.2 285.7,880.9 286.2,886.4 286.7,885.9 287.2,879.1 287.7,879.6 288.2,886.1 288.7,887.6 289.2,875.1 289.7,879.2 290.2,881.7 290.7,885.5 291.2,877.6 291.7,883.3 292.2,879.7 292.7,889.9 293.2,882.5 293.7,880.3 294.2,879.5 294.7,884.9 295.2,883.4 295.7,876.7 296.2,881.7 296.8,875.7 297.3,877.9 297.8,875.9 298.3,875.8 298.8,878.2 299.3,877.1 299.8,882.8 300.3,883.9 300.8,879.9 301.3,876.6 301.8,883.9 302.3,873.1 302.8,873.5 303.3,883.6 303.8,883.3 304.3,884.5 304.8,880.0 305.3,876.0 305.8,878.9 306.3,883.0 306.8,877.9 307.3,878.2 307.8,875.5 308.3,876.4 308.8,884.0 309.3,882.6 309.8,876.4 310.3,876.7 310.8,878.7 311.3,882.9 311.8,876.4 312.3,880.2 312.8,872.6 313.3,876.0 313.8,882.4 314.4,884.3 314.9,876.4 315.4,877.9 315.9,883.9 316.4,879.3 316.9,878.8 317.4,882.8 317.9,881.6 318.4,885.1 318.9,883.9 319.4,878.6 319.9,880.4 320.4,880.6 320.9,875.7 321.4,877.1 321.9,884.5 322.4,874.8 322.9,884.6 323.4,881.9 323.9,880.3 324.4,882.9 324.9,882.7 325.4,885.4 325.9,879.3 326.4,880.0 326.9,879.9 327.4,888.0 327.9,884.4 328.4,877.3 328.9,879.6 329.4,878.1 329.9,880.9 330.4,881.7 330.9,889.6 331.5,873.9 332.0,884.8 332.5,882.5 333.0,878.2 333.5,880.3 334.0,879.0 334.5,881.0 335.0,884.7 335.5,875.1 336.0,885.9 336.5,879.4 337.0,886.6 337.5,882.4 338.0,885.6 338.5,883.0 339.0,885.0 339.5,881.1 340.0,877.7" fill="none" stroke="#aaa" stroke-width="1.3" stroke-linejoin="bevel"/>
<polyline points="253.0,885.0 253.5,885.2 254.0,889.6 254.5,876.8 255.0,899.1 255.5,916.2 256.0,919.1 256.5,930.5 257.0,944.3 257.5,946.8 258.0,942.9 258.5,952.7 259.0,953.6 259.5,953.3 260.0,952.5 260.5,952.0 261.0,948.2 261.5,948.7 262.1,951.9 262.6,949.0 263.1,953.4 263.6,945.2 264.1,937.3 264.6,942.6 265.1,943.2 265.6,942.1 266.1,939.7 266.6,935.5 267.1,941.6 267.6,933.3 268.1,936.4 268.6,931.9 269.1,927.7 269.6,934.8 270.1,921.0 270.6,925.1 271.1,928.0 271.6,924.4 272.1,926.8 272.6,923.0 273.1,920.9 273.6,928.2 274.1,919.6 274.6,918.9 275.1,915.0 275.6,915.2 276.1,918.8 276.6,917.7 277.1,915.1 277.6,912.1 278.1,915.8 278.6,907.4 279.2,911.1 279.7,910.7 280.2,908.1 280.7,910.7 281.2,907.4 281.7,906.4 282.2,914.2 282.7,910.2 283.2,911.2 283.7,907.0 284.2,909.4 284.7,908.3 285.2,909.2 285.7,912.5 286.2,903.7 286.7,904.9 287.2,903.5 287.7,892.0 288.2,898.4 288.7,902.5 289.2,904.1 289.7,899.9 290.2,905.1 290.7,905.2 291.2,899.5 291.7,905.1 292.2,905.8 292.7,901.4 293.2,896.5 293.7,904.1 294.2,898.6 294.7,897.7 295.2,899.0 295.7,896.7 296.2,901.6 296.8,900.5 297.3,901.7 297.8,899.4 298.3,894.8 298.8,896.7 299.3,899.8 299.8,895.5 300.3,906.0 300.8,895.7 301.3,894.4 301.8,899.8 302.3,898.4 302.8,895.8 303.3,895.0 303.8,896.9 304.3,898.1 304.8,897.7 305.3,894.2 305.8,896.4 306.3,897.6 306.8,897.3 307.3,884.8 307.8,891.7 308.3,892.0 308.8,893.6 309.3,894.9 309.8,897.1 310.3,896.1 310.8,893.6 311.3,894.0 311.8,899.5 312.3,891.8 312.8,894.6 313.3,898.6 313.8,894.6 314.4,886.9 314.9,894.6 315.4,892.0 315.9,892.9 316.4,896.5 316.9,894.6 317.4,892.2 317.9,895.8 318.4,894.3 318.9,893.2 319.4,893.7 319.9,893.5 320.4,891.6 320.9,891.1 321.4,892.6 321.9,889.5 322.4,888.4 322.9,896.6 323.4,891.6 323.9,892.2 324.4,891.8 324.9,892.3 325.4,892.3 325.9,892.4 326.4,889.5 326.9,895.1 327.4,889.8 327.9,895.3 328.4,885.8 328.9,888.5 329.4,895.1 329.9,891.4 330.4,889.7 330.9,893.0 331.5,888.4 332.0,892.0 332.5,884.6 333.0,890.2 333.5,889.5 334.0,893.3 334.5,894.4 335.0,888.8 335.5,896.6 336.0,889.6 336.5,884.9 337.0,883.8 337.5,896.3 338.0,891.1 338.5,889.3 339.0,888.9 339.5,887.8 340.0,895.6" fill="none" stroke="#1e1e1e" stroke-width="1.3" stroke-linejoin="bevel"/>
<polyline points="253.0,882.7 253.5,888.7 254.0,882.4 254.5,875.8 255.0,904.5 255.5,915.4 256.0,927.5 256.5,942.6 257.0,944.0 257.5,954.1 258.0,954.6 258.5,955.2 259.0,961.4 259.5,959.2 260.0,965.9 260.5,965.3 261.0,962.3 261.5,963.6 262.1,962.8 262.6,959.2 263.1,961.9 263.6,957.1 264.1,958.5 264.6,952.2 265.1,954.1 265.6,953.7 266.1,948.4 266.6,948.2 267.1,946.4 267.6,949.0 268.1,942.9 268.6,945.2 269.1,947.3 269.6,942.2 270.1,934.6 270.6,938.8 271.1,940.5 271.6,935.0 272.1,938.2 272.6,935.5 273.1,933.7 273.6,930.4 274.1,928.5 274.6,928.3 275.1,928.2 275.6,928.7 276.1,927.4 276.6,924.2 277.1,924.4 277.6,924.6 278.1,917.3 278.6,919.2 279.2,918.3 279.7,919.4 280.2,918.4 280.7,917.7 281.2,915.0 281.7,919.3 282.2,917.3 282.7,910.5 283.2,915.2 283.7,910.9 284.2,919.4 284.7,911.9 285.2,911.5 285.7,912.5 286.2,911.1 286.7,911.0 287.2,915.7 287.7,911.0 288.2,912.5 288.7,912.9 289.2,905.8 289.7,913.9 290.2,910.3 290.7,910.7 291.2,904.5 291.7,909.5 292.2,907.9 292.7,904.5 293.2,913.2 293.7,907.3 294.2,904.4 294.7,905.5 295.2,907.5 295.7,907.9 296.2,905.9 296.8,907.6 297.3,908.2 297.8,899.3 298.3,901.4 298.8,899.7 299.3,902.8 299.8,906.9 300.3,904.1 300.8,898.4 301.3,900.6 301.8,904.7 302.3,899.5 302.8,900.7 303.3,901.8 303.8,894.8 304.3,902.9 304.8,901.4 305.3,901.9 305.8,896.8 306.3,897.3 306.8,897.7 307.3,900.3 307.8,899.6 308.3,899.6 308.8,904.8 309.3,903.1 309.8,896.5 310.3,896.6 310.8,904.0 311.3,897.4 311.8,902.7 312.3,903.3 312.8,896.3 313.3,897.1 313.8,898.1 314.4,895.0 314.9,894.5 315.4,896.3 315.9,900.2 316.4,895.9 316.9,896.6 317.4,895.7 317.9,892.7 318.4,901.8 318.9,889.4 319.4,894.8 319.9,898.6 320.4,892.2 320.9,898.6 321.4,900.6 321.9,893.7 322.4,897.1 322.9,892.8 323.4,897.9 323.9,896.5 324.4,896.8 324.9,900.5 325.4,897.5 325.9,900.3 326.4,897.9 326.9,892.0 327.4,896.6 327.9,897.3 328.4,891.1 328.9,899.9 329.4,895.8 329.9,896.7 330.4,892.6 330.9,895.7 331.5,896.3 332.0,894.3 332.5,895.6 333.0,888.5 333.5,899.6 334.0,891.6 334.5,888.1 335.0,892.0 335.5,892.4 336.0,896.7 336.5,892.0 337.0,895.8 337.5,891.8 338.0,901.9 338.5,896.5 339.0,901.0 339.5,891.5 340.0,896.8" fill="none" stroke="#1e1e1e" stroke-width="1.3" stroke-linejoin="bevel"/>
<polyline points="253.0,880.0 253.5,884.9 254.0,885.2 254.5,878.3 255.0,900.0 255.5,916.1 256.0,928.0 256.5,940.8 257.0,948.2 257.5,952.9 258.0,962.7 258.5,967.7 259.0,964.3 259.5,968.4 260.0,971.3 260.5,971.0 261.0,969.5 261.5,974.0 262.1,973.5 262.6,972.1 263.1,968.3 263.6,974.1 264.1,972.0 264.6,963.8 265.1,963.3 265.6,966.0 266.1,958.1 266.6,960.4 267.1,957.7 267.6,953.8 268.1,953.8 268.6,948.0 269.1,949.8 269.6,943.7 270.1,955.9 270.6,952.0 271.1,949.8 271.6,945.4 272.1,946.3 272.6,945.9 273.1,943.8 273.6,942.3 274.1,935.2 274.6,938.3 275.1,934.1 275.6,930.9 276.1,930.0 276.6,933.9 277.1,934.9 277.6,926.1 278.1,935.1 278.6,933.3 279.2,926.5 279.7,925.3 280.2,925.7 280.7,928.2 281.2,923.0 281.7,919.9 282.2,923.8 282.7,915.3 283.2,921.7 283.7,924.2 284.2,920.8 284.7,921.6 285.2,920.1 285.7,920.2 286.2,917.7 286.7,914.0 287.2,915.4 287.7,915.3 288.2,919.0 288.7,919.7 289.2,915.3 289.7,911.0 290.2,910.6 290.7,911.9 291.2,916.5 291.7,912.6 292.2,911.0 292.7,908.3 293.2,913.1 293.7,910.8 294.2,909.4 294.7,909.5 295.2,914.2 295.7,907.9 296.2,913.5 296.8,911.7 297.3,907.6 297.8,909.9 298.3,906.4 298.8,903.9 299.3,905.4 299.8,903.0 300.3,907.3 300.8,905.5 301.3,907.0 301.8,907.5 302.3,894.7 302.8,905.4 303.3,898.4 303.8,904.5 304.3,900.9 304.8,903.9 305.3,907.7 305.8,897.6 306.3,903.5 306.8,902.5 307.3,896.5 307.8,904.4 308.3,902.3 308.8,900.4 309.3,899.5 309.8,912.0 310.3,900.3 310.8,895.6 311.3,898.2 311.8,899.9 312.3,899.7 312.8,900.5 313.3,897.3 313.8,902.2 314.4,898.8 314.9,895.9 315.4,897.5 315.9,898.8 316.4,902.6 316.9,901.3 317.4,898.6 317.9,899.6 318.4,900.1 318.9,905.9 319.4,897.3 319.9,900.6 320.4,901.4 320.9,895.9 321.4,899.5 321.9,899.3 322.4,897.2 322.9,900.4 323.4,901.8 323.9,902.0 324.4,897.7 324.9,898.9 325.4,905.7 325.9,894.6 326.4,898.7 326.9,900.8 327.4,898.4 327.9,899.9 328.4,898.3 328.9,900.1 329.4,901.7 329.9,896.8 330.4,898.1 330.9,897.2 331.5,896.1 332.0,897.2 332.5,893.6 333.0,899.6 333.5,902.6 334.0,902.5 334.5,901.1 335.0,893.9 335.5,901.8 336.0,894.6 336.5,896.6 337.0,902.6 337.5,893.3 338.0,899.3 338.5,897.5 339.0,896.1 339.5,893.7 340.0,897.8" fill="none" stroke="#1e1e1e" stroke-width="1.3" stroke-linejoin="bevel"/>
<polyline points="253.0,881.5 253.5,886.3 254.0,886.9 254.5,879.0 255.0,903.1 255.5,921.0 256.0,932.0 256.5,943.1 257.0,955.6 257.5,961.4 258.0,961.8 258.5,969.2 259.0,975.3 259.5,971.6 260.0,973.6 260.5,982.1 261.0,981.3 261.5,971.5 262.1,971.7 262.6,976.3 263.1,970.2 263.6,971.9 264.1,969.9 264.6,971.6 265.1,960.2 265.6,959.6 266.1,961.1 266.6,966.6 267.1,961.2 267.6,954.5 268.1,959.9 268.6,959.0 269.1,954.3 269.6,952.4 270.1,953.3 270.6,954.2 271.1,949.3 271.6,949.1 272.1,945.7 272.6,943.3 273.1,940.2 273.6,942.5 274.1,939.4 274.6,938.3 275.1,940.8 275.6,938.2 276.1,938.2 276.6,929.2 277.1,934.9 277.6,930.1 278.1,928.4 278.6,927.2 279.2,932.8 279.7,930.5 280.2,924.6 280.7,922.4 281.2,925.1 281.7,922.7 282.2,928.6 282.7,917.8 283.2,915.8 283.7,920.1 284.2,920.2 284.7,919.8 285.2,921.0 285.7,924.6 286.2,916.1 286.7,914.8 287.2,910.3 287.7,916.1 288.2,917.4 288.7,913.2 289.2,917.3 289.7,913.0 290.2,917.2 290.7,912.9 291.2,907.9 291.7,908.8 292.2,905.4 292.7,904.3 293.2,910.2 293.7,911.7 294.2,914.7 294.7,907.9 295.2,906.9 295.7,903.7 296.2,910.0 296.8,907.7 297.3,904.2 297.8,907.9 298.3,907.2 298.8,899.0 299.3,907.1 299.8,904.8 300.3,902.8 300.8,902.4 301.3,909.0 301.8,908.1 302.3,908.7 302.8,898.9 303.3,900.2 303.8,905.0 304.3,897.9 304.8,899.3 305.3,895.5 305.8,907.0 306.3,904.3 306.8,902.1 307.3,901.1 307.8,898.9 308.3,898.7 308.8,901.8 309.3,897.3 309.8,903.3 310.3,897.7 310.8,896.3 311.3,903.0 311.8,898.2 312.3,900.3 312.8,897.1 313.3,891.0 313.8,899.8 314.4,893.6 314.9,901.2 315.4,892.7 315.9,891.5 316.4,898.3 316.9,898.6 317.4,897.4 317.9,893.1 318.4,899.7 318.9,892.0 319.4,895.1 319.9,894.0 320.4,895.2 320.9,899.0 321.4,894.1 321.9,897.9 322.4,898.2 322.9,890.4 323.4,892.0 323.9,894.5 324.4,893.7 324.9,896.5 325.4,889.2 325.9,897.6 326.4,897.6 326.9,894.6 327.4,890.7 327.9,895.0 328.4,893.2 328.9,896.7 329.4,894.5 329.9,897.0 330.4,893.3 330.9,899.2 331.5,887.1 332.0,891.2 332.5,895.9 333.0,889.5 333.5,896.6 334.0,890.3 334.5,894.4 335.0,891.1 335.5,892.6 336.0,894.5 336.5,893.6 337.0,892.6 337.5,900.7 338.0,893.8 338.5,890.6 339.0,896.6 339.5,896.2 340.0,897.5" fill="none" stroke="#1e1e1e" stroke-width="1.3" stroke-linejoin="bevel"/>
<polyline points="253.0,888.7 253.5,880.0 254.0,886.4 254.5,887.1 255.0,907.1 255.5,926.9 256.0,931.6 256.5,951.3 257.0,968.2 257.5,963.9 258.0,973.3 258.5,979.9 259.0,983.6 259.5,988.7 260.0,978.9 260.5,985.0 261.0,987.5 261.5,979.9 262.1,983.1 262.6,988.1 263.1,984.9 263.6,980.9 264.1,969.2 264.6,975.4 265.1,975.3 265.6,971.2 266.1,970.2 266.6,978.4 267.1,966.0 267.6,961.7 268.1,963.7 268.6,960.1 269.1,958.4 269.6,957.3 270.1,958.4 270.6,955.0 271.1,948.7 271.6,950.6 272.1,950.9 272.6,946.4 273.1,950.1 273.6,947.5 274.1,940.4 274.6,943.2 275.1,947.2 275.6,944.6 276.1,938.2 276.6,940.0 277.1,933.8 277.6,930.2 278.1,935.5 278.6,933.4 279.2,933.2 279.7,930.5 280.2,930.6 280.7,927.0 281.2,929.2 281.7,929.5 282.2,925.7 282.7,927.7 283.2,918.6 283.7,921.0 284.2,927.3 284.7,927.6 285.2,922.1 285.7,920.2 286.2,915.8 286.7,920.4 287.2,921.1 287.7,913.2 288.2,919.2 288.7,918.4 289.2,917.6 289.7,912.1 290.2,916.9 290.7,909.8 291.2,918.9 291.7,914.1 292.2,909.5 292.7,917.0 293.2,916.0 293.7,909.8 294.2,918.5 294.7,907.8 295.2,911.7 295.7,914.1 296.2,902.7 296.8,912.8 297.3,909.0 297.8,908.8 298.3,905.1 298.8,909.3 299.3,904.4 299.8,904.6 300.3,905.9 300.8,903.2 301.3,911.8 301.8,902.3 302.3,903.9 302.8,905.0 303.3,905.8 303.8,908.1 304.3,908.0 304.8,904.2 305.3,903.7 305.8,904.8 306.3,907.1 306.8,906.5 307.3,902.4 307.8,897.3 308.3,910.6 308.8,906.6 309.3,904.2 309.8,904.3 310.3,901.4 310.8,899.7 311.3,901.7 311.8,901.9 312.3,900.4 312.8,897.6 313.3,901.2 313.8,903.9 314.4,900.3 314.9,901.8 315.4,895.0 315.9,900.9 316.4,901.0 316.9,897.4 317.4,895.6 317.9,902.4 318.4,898.4 318.9,902.4 319.4,899.4 319.9,902.6 320.4,899.5 320.9,895.6 321.4,900.1 321.9,899.2 322.4,902.3 322.9,898.6 323.4,898.7 323.9,902.7 324.4,903.6 324.9,902.2 325.4,903.0 325.9,901.1 326.4,902.0 326.9,902.3 327.4,900.7 327.9,899.5 328.4,899.7 328.9,906.9 329.4,899.1 329.9,898.3 330.4,897.8 330.9,898.8 331.5,899.6 332.0,895.2 332.5,892.4 333.0,899.6 333.5,893.5 334.0,899.4 334.5,899.0 335.0,902.1 335.5,903.7 336.0,899.5 336.5,896.5 337.0,894.5 337.5,895.7 338.0,898.3 338.5,891.5 339.0,898.3 339.5,898.0 340.0,900.0" fill="none" stroke="#1e1e1e" stroke-width="1.3" stroke-linejoin="bevel"/>
<polyline points="253.0,881.9 253.5,883.3 254.0,880.6 254.5,881.9 255.0,895.6 255.5,916.3 256.0,932.7 256.5,937.9 257.0,946.1 257.5,947.9 258.0,960.4 258.5,957.0 259.0,964.8 259.5,964.5 260.0,962.5 260.5,969.7 261.0,967.0 261.5,967.6 262.1,968.3 262.6,966.4 263.1,964.6 263.6,966.6 264.1,962.9 264.6,963.5 265.1,960.1 265.6,956.4 266.1,957.9 266.6,957.3 267.1,957.7 267.6,960.3 268.1,949.9 268.6,954.5 269.1,945.8 269.6,948.3 270.1,948.8 270.6,942.1 271.1,942.2 271.6,947.5 272.1,946.1 272.6,944.4 273.1,941.1 273.6,949.5 274.1,941.1 274.6,937.8 275.1,944.9 275.6,940.5 276.1,936.4 276.6,940.5 277.1,936.3 277.6,936.9 278.1,934.8 278.6,929.9 279.2,935.4 279.7,932.0 280.2,927.5 280.7,927.5 281.2,932.2 281.7,927.3 282.2,927.9 282.7,929.1 283.2,926.7 283.7,920.8 284.2,927.0 284.7,927.4 285.2,926.5 285.7,928.3 286.2,923.7 286.7,924.5 287.2,926.5 287.7,919.9 288.2,925.9 288.7,925.4 289.2,921.8 289.7,924.7 290.2,921.1 290.7,915.0 291.2,921.0 291.7,918.0 292.2,917.8 292.7,916.6 293.2,920.0 293.7,917.0 294.2,912.7 294.7,916.1 295.2,916.5 295.7,911.4 296.2,912.0 296.8,911.8 297.3,910.8 297.8,913.5 298.3,915.3 298.8,917.8 299.3,915.2 299.8,914.4 300.3,914.5 300.8,914.8 301.3,909.1 301.8,912.2 302.3,910.8 302.8,909.1 303.3,907.8 303.8,907.3 304.3,907.9 304.8,904.5 305.3,909.9 305.8,908.0 306.3,908.1 306.8,908.7 307.3,909.7 307.8,905.3 308.3,906.6 308.8,901.6 309.3,899.5 309.8,900.2 310.3,911.1 310.8,900.2 311.3,907.4 311.8,910.4 312.3,904.1 312.8,910.6 313.3,911.1 313.8,908.1 314.4,912.5 314.9,906.7 315.4,902.3 315.9,906.1 316.4,902.9 316.9,900.0 317.4,900.0 317.9,911.3 318.4,902.1 318.9,903.6 319.4,901.4 319.9,903.9 320.4,902.6 320.9,901.9 321.4,899.2 321.9,898.5 322.4,900.5 322.9,903.7 323.4,909.3 323.9,905.9 324.4,908.3 324.9,903.9 325.4,902.0 325.9,897.9 326.4,902.1 326.9,895.1 327.4,900.9 327.9,907.0 328.4,902.8 328.9,905.3 329.4,900.3 329.9,897.1 330.4,899.9 330.9,900.1 331.5,905.1 332.0,907.5 332.5,898.7 333.0,899.9 333.5,900.5 334.0,899.8 334.5,896.8 335.0,901.0 335.5,901.8 336.0,901.8 336.5,896.7 337.0,900.1 337.5,894.8 338.0,903.3 338.5,897.0 339.0,899.3 339.5,898.7 340.0,898.2" fill="none" stroke="#1e1e1e" stroke-width="1.3" stroke-linejoin="bevel"/>
<polyline points="253.0,879.7 253.5,877.4 254.0,888.6 254.5,884.3 255.0,905.9 255.5,928.8 256.0,935.1 256.5,947.4 257.0,953.6 257.5,963.1 258.0,965.1 258.5,967.4 259.0,967.3 259.5,970.0 260.0,973.1 260.5,962.4 261.0,967.9 261.5,965.9 262.1,965.0 262.6,958.1 263.1,965.1 263.6,958.3 264.1,958.4 264.6,955.6 265.1,950.0 265.6,952.0 266.1,945.6 266.6,946.5 267.1,946.7 267.6,945.8 268.1,944.2 268.6,941.8 269.1,947.4 269.6,940.2 270.1,933.3 270.6,933.6 271.1,932.0 271.6,932.0 272.1,929.2 272.6,927.0 273.1,933.7 273.6,927.2 274.1,924.7 274.6,923.8 275.1,922.7 275.6,926.8 276.1,922.7 276.6,923.7 277.1,909.2 277.6,919.2 278.1,920.6 278.6,922.6 279.2,915.5 279.7,909.1 280.2,915.6 280.7,911.0 281.2,906.5 281.7,909.5 282.2,914.1 282.7,913.9 283.2,911.7 283.7,905.4 284.2,916.2 284.7,903.9 285.2,906.8 285.7,901.9 286.2,910.2 286.7,906.9 287.2,907.8 287.7,904.8 288.2,903.8 288.7,904.2 289.2,897.1 289.7,906.0 290.2,905.3 290.7,900.8 291.2,901.6 291.7,902.3 292.2,906.0 292.7,902.0 293.2,900.5 293.7,898.4 294.2,894.9 294.7,897.5 295.2,899.4 295.7,898.1 296.2,898.9 296.8,900.8 297.3,899.6 297.8,898.8 298.3,899.8 298.8,898.1 299.3,897.2 299.8,898.6 300.3,891.4 300.8,900.7 301.3,892.4 301.8,899.1 302.3,896.3 302.8,899.6 303.3,896.0 303.8,892.7 304.3,899.0 304.8,896.1 305.3,895.7 305.8,895.5 306.3,898.3 306.8,897.6 307.3,895.6 307.8,889.8 308.3,893.3 308.8,894.8 309.3,900.2 309.8,895.5 310.3,893.9 310.8,897.9 311.3,893.7 311.8,893.8 312.3,894.4 312.8,889.0 313.3,896.8 313.8,895.0 314.4,892.6 314.9,889.8 315.4,894.1 315.9,897.8 316.4,891.2 316.9,889.8 317.4,894.5 317.9,888.0 318.4,885.9 318.9,891.5 319.4,890.7 319.9,891.9 320.4,891.0 320.9,893.8 321.4,892.0 321.9,890.7 322.4,891.1 322.9,894.5 323.4,895.5 323.9,895.3 324.4,894.6 324.9,881.8 325.4,889.1 325.9,891.3 326.4,892.9 326.9,887.0 327.4,896.7 327.9,893.1 328.4,890.1 328.9,892.6 329.4,890.9 329.9,889.5 330.4,893.6 330.9,890.5 331.5,887.4 332.0,889.8 332.5,891.4 333.0,888.3 333.5,895.8 334.0,888.2 334.5,897.3 335.0,894.5 335.5,888.6 336.0,892.0 336.5,895.4 337.0,891.0 337.5,887.7 338.0,891.9 338.5,897.9 339.0,886.7 339.5,893.2 340.0,891.5" fill="none" stroke="#1e1e1e" stroke-width="1.3" stroke-linejoin="bevel"/>
<path d="M286.6,1012 V1036 H309.4" fill="none" stroke="#555" stroke-width="2"/>
<text x="292.5" y="1028.0" font-size="26.5" text-anchor="start" font-weight="normal" fill="#222" >10pA</text>
<text x="279.0" y="1060.5" font-size="26.5" text-anchor="start" font-weight="normal" fill="#222" >4ms</text>
<path d="M471.3,679 V1071.6 H730.8" fill="none" stroke="#1a1a1a" stroke-width="2.4"/>
<line x1="465.6" y1="1071.6" x2="471.3" y2="1071.6" stroke="#1a1a1a" stroke-width="2.2" />
<text x="461.3" y="1081.6" font-size="27.5" text-anchor="end" font-weight="normal" fill="#222" >-40</text>
<line x1="468.8" y1="1052.0" x2="471.3" y2="1052.0" stroke="#1a1a1a" stroke-width="2" />
<line x1="468.8" y1="1032.3" x2="471.3" y2="1032.3" stroke="#1a1a1a" stroke-width="2" />
<line x1="468.8" y1="1012.7" x2="471.3" y2="1012.7" stroke="#1a1a1a" stroke-width="2" />
<line x1="468.8" y1="993.1" x2="471.3" y2="993.1" stroke="#1a1a1a" stroke-width="2" />
<line x1="465.6" y1="973.4" x2="471.3" y2="973.4" stroke="#1a1a1a" stroke-width="2.2" />
<text x="461.3" y="983.4" font-size="27.5" text-anchor="end" font-weight="normal" fill="#222" >-20</text>
<line x1="468.8" y1="953.8" x2="471.3" y2="953.8" stroke="#1a1a1a" stroke-width="2" />
<line x1="468.8" y1="934.2" x2="471.3" y2="934.2" stroke="#1a1a1a" stroke-width="2" />
<line x1="468.8" y1="914.6" x2="471.3" y2="914.6" stroke="#1a1a1a" stroke-width="2" />
<line x1="468.8" y1="894.9" x2="471.3" y2="894.9" stroke="#1a1a1a" stroke-width="2" />
<line x1="465.6" y1="875.3" x2="471.3" y2="875.3" stroke="#1a1a1a" stroke-width="2.2" />
<text x="461.3" y="885.3" font-size="27.5" text-anchor="end" font-weight="normal" fill="#222" >0</text>
<line x1="468.8" y1="855.7" x2="471.3" y2="855.7" stroke="#1a1a1a" stroke-width="2" />
<line x1="468.8" y1="836.0" x2="471.3" y2="836.0" stroke="#1a1a1a" stroke-width="2" />
<line x1="468.8" y1="816.4" x2="471.3" y2="816.4" stroke="#1a1a1a" stroke-width="2" />
<line x1="468.8" y1="796.8" x2="471.3" y2="796.8" stroke="#1a1a1a" stroke-width="2" />
<line x1="465.6" y1="777.1" x2="471.3" y2="777.1" stroke="#1a1a1a" stroke-width="2.2" />
<text x="461.3" y="787.1" font-size="27.5" text-anchor="end" font-weight="normal" fill="#222" >20</text>
<line x1="468.8" y1="757.5" x2="471.3" y2="757.5" stroke="#1a1a1a" stroke-width="2" />
<line x1="468.8" y1="737.9" x2="471.3" y2="737.9" stroke="#1a1a1a" stroke-width="2" />
<line x1="468.8" y1="718.3" x2="471.3" y2="718.3" stroke="#1a1a1a" stroke-width="2" />
<line x1="468.8" y1="698.6" x2="471.3" y2="698.6" stroke="#1a1a1a" stroke-width="2" />
<line x1="465.6" y1="679.0" x2="471.3" y2="679.0" stroke="#1a1a1a" stroke-width="2.2" />
<text x="461.3" y="689.0" font-size="27.5" text-anchor="end" font-weight="normal" fill="#222" >40</text>
<line x1="471.3" y1="1071.6" x2="471.3" y2="1076.6" stroke="#1a1a1a" stroke-width="2.2" />
<text x="471.3" y="1101.1" font-size="27.5" text-anchor="middle" font-weight="normal" fill="#222" >0</text>
<line x1="497.2" y1="1071.6" x2="497.2" y2="1074.1" stroke="#1a1a1a" stroke-width="2" />
<line x1="523.2" y1="1071.6" x2="523.2" y2="1074.1" stroke="#1a1a1a" stroke-width="2" />
<line x1="549.1" y1="1071.6" x2="549.1" y2="1074.1" stroke="#1a1a1a" stroke-width="2" />
<line x1="575.1" y1="1071.6" x2="575.1" y2="1074.1" stroke="#1a1a1a" stroke-width="2" />
<line x1="601.0" y1="1071.6" x2="601.0" y2="1076.6" stroke="#1a1a1a" stroke-width="2.2" />
<text x="601.0" y="1101.1" font-size="27.5" text-anchor="middle" font-weight="normal" fill="#222" >50</text>
<line x1="627.0" y1="1071.6" x2="627.0" y2="1074.1" stroke="#1a1a1a" stroke-width="2" />
<line x1="653.0" y1="1071.6" x2="653.0" y2="1074.1" stroke="#1a1a1a" stroke-width="2" />
<line x1="678.9" y1="1071.6" x2="678.9" y2="1074.1" stroke="#1a1a1a" stroke-width="2" />
<line x1="704.8" y1="1071.6" x2="704.8" y2="1074.1" stroke="#1a1a1a" stroke-width="2" />
<line x1="730.8" y1="1071.6" x2="730.8" y2="1076.6" stroke="#1a1a1a" stroke-width="2.2" />
<text x="730.8" y="1101.1" font-size="27.5" text-anchor="middle" font-weight="normal" fill="#222" >100</text>
<text x="595.5" y="1127.1" font-size="27.5" text-anchor="middle" font-weight="normal" fill="#222" >number of trials</text>
<text transform="translate(406,875) rotate(-90)" font-size="27.5" text-anchor="middle" fill="#222">amplitude (pA)</text>
<text x="530.5" y="677.0" font-size="27.5" text-anchor="start" font-weight="normal" fill="#222" >coc C450M</text>
<line x1="473.0" y1="875.3" x2="735.0" y2="875.3" stroke="#333" stroke-width="2" stroke-dasharray="5,5"/>
<circle cx="478.0" cy="864.7" r="4.1" fill="#b4b4b4" stroke="none" stroke-width="0"/>
<circle cx="483.8" cy="867.3" r="4.1" fill="#b4b4b4" stroke="none" stroke-width="0"/>
<circle cx="488.5" cy="873.9" r="4.1" fill="#b4b4b4" stroke="none" stroke-width="0"/>
<circle cx="480.6" cy="883.1" r="4.1" fill="#b4b4b4" stroke="none" stroke-width="0"/>
<circle cx="496.4" cy="881.8" r="4.1" fill="#b4b4b4" stroke="none" stroke-width="0"/>
<circle cx="507.0" cy="888.4" r="4.1" fill="#b4b4b4" stroke="none" stroke-width="0"/>
<circle cx="512.2" cy="879.2" r="4.1" fill="#b4b4b4" stroke="none" stroke-width="0"/>
<circle cx="522.8" cy="868.6" r="4.1" fill="#b4b4b4" stroke="none" stroke-width="0"/>
<circle cx="528.0" cy="867.3" r="4.1" fill="#b4b4b4" stroke="none" stroke-width="0"/>
<circle cx="535.9" cy="872.6" r="4.1" fill="#b4b4b4" stroke="none" stroke-width="0"/>
<circle cx="538.6" cy="862.8" r="4.1" fill="#b4b4b4" stroke="none" stroke-width="0"/>
<circle cx="546.5" cy="873.9" r="4.1" fill="#b4b4b4" stroke="none" stroke-width="0"/>
<circle cx="555.7" cy="876.5" r="4.1" fill="#b4b4b4" stroke="none" stroke-width="0"/>
<circle cx="561.7" cy="870.0" r="4.1" fill="#b4b4b4" stroke="none" stroke-width="0"/>
<circle cx="558.3" cy="887.1" r="4.1" fill="#b4b4b4" stroke="none" stroke-width="0"/>
<circle cx="572.3" cy="872.6" r="4.1" fill="#b4b4b4" stroke="none" stroke-width="0"/>
<circle cx="574.1" cy="883.1" r="4.1" fill="#b4b4b4" stroke="none" stroke-width="0"/>
<circle cx="608.9" cy="867.3" r="4.1" fill="#b4b4b4" stroke="none" stroke-width="0"/>
<circle cx="632.0" cy="881.8" r="4.1" fill="#b4b4b4" stroke="none" stroke-width="0"/>
<circle cx="637.3" cy="871.3" r="4.1" fill="#b4b4b4" stroke="none" stroke-width="0"/>
<circle cx="647.8" cy="866.0" r="4.1" fill="#b4b4b4" stroke="none" stroke-width="0"/>
<circle cx="651.8" cy="876.5" r="4.1" fill="#b4b4b4" stroke="none" stroke-width="0"/>
<circle cx="667.6" cy="873.9" r="4.1" fill="#b4b4b4" stroke="none" stroke-width="0"/>
<circle cx="676.8" cy="870.7" r="4.1" fill="#b4b4b4" stroke="none" stroke-width="0"/>
<circle cx="691.3" cy="877.8" r="4.1" fill="#b4b4b4" stroke="none" stroke-width="0"/>
<circle cx="695.3" cy="885.8" r="4.1" fill="#b4b4b4" stroke="none" stroke-width="0"/>
<circle cx="700.5" cy="870.0" r="4.1" fill="#b4b4b4" stroke="none" stroke-width="0"/>
<circle cx="711.1" cy="868.1" r="4.1" fill="#b4b4b4" stroke="none" stroke-width="0"/>
<circle cx="708.4" cy="881.8" r="4.1" fill="#b4b4b4" stroke="none" stroke-width="0"/>
<circle cx="722.9" cy="876.5" r="4.1" fill="#b4b4b4" stroke="none" stroke-width="0"/>
<circle cx="730.8" cy="875.2" r="4.1" fill="#b4b4b4" stroke="none" stroke-width="0"/>
<circle cx="603.6" cy="802.8" r="4.1" fill="#000" stroke="none" stroke-width="0"/>
<circle cx="626.8" cy="808.8" r="4.1" fill="#000" stroke="none" stroke-width="0"/>
<circle cx="635.2" cy="816.0" r="4.1" fill="#000" stroke="none" stroke-width="0"/>
<circle cx="655.2" cy="819.1" r="4.1" fill="#000" stroke="none" stroke-width="0"/>
<circle cx="671.0" cy="816.0" r="4.1" fill="#000" stroke="none" stroke-width="0"/>
<circle cx="689.5" cy="811.2" r="4.1" fill="#000" stroke="none" stroke-width="0"/>
<circle cx="717.1" cy="818.6" r="4.1" fill="#000" stroke="none" stroke-width="0"/>
<circle cx="713.7" cy="822.5" r="4.1" fill="#000" stroke="none" stroke-width="0"/>
<circle cx="614.4" cy="831.8" r="4.1" fill="#000" stroke="none" stroke-width="0"/>
<circle cx="621.5" cy="836.2" r="4.1" fill="#000" stroke="none" stroke-width="0"/>
<circle cx="630.0" cy="829.1" r="4.1" fill="#000" stroke="none" stroke-width="0"/>
<circle cx="642.6" cy="827.8" r="4.1" fill="#000" stroke="none" stroke-width="0"/>
<circle cx="645.2" cy="831.8" r="4.1" fill="#000" stroke="none" stroke-width="0"/>
<circle cx="661.8" cy="826.5" r="4.1" fill="#000" stroke="none" stroke-width="0"/>
<circle cx="659.7" cy="833.1" r="4.1" fill="#000" stroke="none" stroke-width="0"/>
<circle cx="658.4" cy="839.7" r="4.1" fill="#000" stroke="none" stroke-width="0"/>
<circle cx="640.0" cy="839.7" r="4.1" fill="#000" stroke="none" stroke-width="0"/>
<circle cx="605.7" cy="842.8" r="4.1" fill="#000" stroke="none" stroke-width="0"/>
<circle cx="612.3" cy="844.9" r="4.1" fill="#000" stroke="none" stroke-width="0"/>
<circle cx="617.6" cy="847.6" r="4.1" fill="#000" stroke="none" stroke-width="0"/>
<circle cx="624.1" cy="848.9" r="4.1" fill="#000" stroke="none" stroke-width="0"/>
<circle cx="666.3" cy="849.7" r="4.1" fill="#000" stroke="none" stroke-width="0"/>
<circle cx="674.2" cy="850.2" r="4.1" fill="#000" stroke="none" stroke-width="0"/>
<circle cx="681.6" cy="839.7" r="4.1" fill="#000" stroke="none" stroke-width="0"/>
<circle cx="684.7" cy="844.9" r="4.1" fill="#000" stroke="none" stroke-width="0"/>
<circle cx="683.9" cy="850.7" r="4.1" fill="#000" stroke="none" stroke-width="0"/>
<circle cx="704.5" cy="844.9" r="4.1" fill="#000" stroke="none" stroke-width="0"/>
<circle cx="721.6" cy="841.0" r="4.1" fill="#000" stroke="none" stroke-width="0"/>
<circle cx="726.3" cy="843.6" r="4.1" fill="#000" stroke="none" stroke-width="0"/>
<circle cx="473.1" cy="953.1" r="4.1" fill="#000" stroke="none" stroke-width="0"/>
<circle cx="475.6" cy="1026.2" r="4.1" fill="#000" stroke="none" stroke-width="0"/>
<circle cx="491.2" cy="1036.3" r="4.1" fill="#000" stroke="none" stroke-width="0"/>
<circle cx="493.7" cy="1028.7" r="4.1" fill="#000" stroke="none" stroke-width="0"/>
<circle cx="502.0" cy="1026.7" r="4.1" fill="#000" stroke="none" stroke-width="0"/>
<circle cx="504.6" cy="1018.7" r="4.1" fill="#000" stroke="none" stroke-width="0"/>
<circle cx="509.6" cy="1023.2" r="4.1" fill="#000" stroke="none" stroke-width="0"/>
<circle cx="499.5" cy="1002.3" r="4.1" fill="#000" stroke="none" stroke-width="0"/>
<circle cx="514.6" cy="1000.5" r="4.1" fill="#000" stroke="none" stroke-width="0"/>
<circle cx="517.7" cy="978.8" r="4.1" fill="#000" stroke="none" stroke-width="0"/>
<circle cx="527.7" cy="1021.9" r="4.1" fill="#000" stroke="none" stroke-width="0"/>
<circle cx="533.5" cy="1014.9" r="4.1" fill="#000" stroke="none" stroke-width="0"/>
<circle cx="520.4" cy="1071.6" r="4.1" fill="#000" stroke="none" stroke-width="0"/>
<circle cx="541.1" cy="938.0" r="4.1" fill="#000" stroke="none" stroke-width="0"/>
<circle cx="543.6" cy="991.7" r="4.1" fill="#000" stroke="none" stroke-width="0"/>
<circle cx="551.2" cy="990.2" r="4.1" fill="#000" stroke="none" stroke-width="0"/>
<circle cx="554.2" cy="1004.8" r="4.1" fill="#000" stroke="none" stroke-width="0"/>
<circle cx="549.2" cy="1044.6" r="4.1" fill="#000" stroke="none" stroke-width="0"/>
<circle cx="564.3" cy="982.1" r="4.1" fill="#000" stroke="none" stroke-width="0"/>
<circle cx="566.3" cy="1014.1" r="4.1" fill="#000" stroke="none" stroke-width="0"/>
<circle cx="570.1" cy="1015.6" r="4.1" fill="#000" stroke="none" stroke-width="0"/>
<circle cx="577.6" cy="1011.1" r="4.1" fill="#000" stroke="none" stroke-width="0"/>
<circle cx="580.1" cy="1014.4" r="4.1" fill="#000" stroke="none" stroke-width="0"/>
<circle cx="582.2" cy="1024.2" r="4.1" fill="#000" stroke="none" stroke-width="0"/>
<circle cx="590.7" cy="1030.7" r="4.1" fill="#000" stroke="none" stroke-width="0"/>
<circle cx="585.2" cy="978.3" r="4.1" fill="#000" stroke="none" stroke-width="0"/>
<circle cx="587.7" cy="943.6" r="4.1" fill="#000" stroke="none" stroke-width="0"/>
<circle cx="593.5" cy="943.6" r="4.1" fill="#000" stroke="none" stroke-width="0"/>
<circle cx="596.0" cy="987.9" r="4.1" fill="#000" stroke="none" stroke-width="0"/>
<circle cx="599.0" cy="972.0" r="4.1" fill="#000" stroke="none" stroke-width="0"/>
<circle cx="601.6" cy="978.3" r="4.1" fill="#000" stroke="none" stroke-width="0"/>
<polyline points="480.0,794.9 480.5,795.2 481.0,800.9 481.5,799.0 482.1,792.3 482.6,803.1 483.1,791.1 483.6,799.3 484.1,797.3 484.6,801.6 485.2,798.0 485.7,801.0 486.2,796.4 486.7,800.6 487.2,798.0 487.7,805.6 488.3,793.6 488.8,801.6 489.3,798.5 489.8,797.3 490.3,794.2 490.8,798.4 491.4,790.4 491.9,790.8 492.4,799.5 492.9,790.0 493.4,802.6 493.9,795.4 494.5,797.6 495.0,796.9 495.5,798.3 496.0,795.4" fill="none" stroke="#1e1e1e" stroke-width="1.4" stroke-linejoin="bevel"/>
<polyline points="480.0,789.4 480.5,794.4 481.0,794.7 481.5,795.3 482.1,791.5 482.6,789.1 483.1,782.9 483.6,792.7 484.1,793.5 484.6,788.3 485.2,793.4 485.7,795.4 486.2,790.4 486.7,794.4 487.2,791.3 487.7,782.7 488.3,788.0 488.8,788.2 489.3,792.2 489.8,786.3 490.3,788.1 490.8,785.9 491.4,789.8 491.9,790.3 492.4,794.1 492.9,793.3 493.4,790.7 493.9,791.0 494.5,790.4 495.0,790.4 495.5,796.5 496.0,779.5" fill="none" stroke="#1e1e1e" stroke-width="1.4" stroke-linejoin="bevel"/>
<polyline points="480.0,792.5 480.5,795.9 481.0,786.6 481.5,792.6 482.1,794.8 482.6,789.3 483.1,783.1 483.6,789.6 484.1,786.1 484.6,793.9 485.2,787.6 485.7,798.6 486.2,791.7 486.7,787.8 487.2,789.0 487.7,786.6 488.3,792.8 488.8,797.4 489.3,790.2 489.8,795.0 490.3,787.2 490.8,792.4 491.4,800.8 491.9,785.2 492.4,796.3 492.9,796.1 493.4,783.3 493.9,785.1 494.5,787.0 495.0,795.2 495.5,789.3 496.0,790.4" fill="none" stroke="#1e1e1e" stroke-width="1.4" stroke-linejoin="bevel"/>
<polyline points="480.0,802.7 480.5,803.2 481.0,800.9 481.5,806.9 482.1,798.9 482.6,809.2 483.1,800.8 483.6,798.9 484.1,804.9 484.6,804.1 485.2,793.9 485.7,803.1 486.2,796.5 486.7,798.7 487.2,805.5 487.7,798.6 488.3,803.7 488.8,800.6 489.3,810.3 489.8,801.8 490.3,797.3 490.8,797.6 491.4,798.4 491.9,802.7 492.4,802.2 492.9,806.3 493.4,802.9 493.9,802.7 494.5,803.5 495.0,801.6 495.5,803.4 496.0,805.5" fill="none" stroke="#1e1e1e" stroke-width="1.4" stroke-linejoin="bevel"/>
<polyline points="480.0,796.9 480.5,791.8 481.0,795.8 481.5,800.4 482.1,788.7 482.6,797.2 483.1,801.1 483.6,796.8 484.1,794.5 484.6,806.6 485.2,805.0 485.7,798.1 486.2,804.7 486.7,804.6 487.2,794.4 487.7,810.4 488.3,795.2 488.8,798.1 489.3,794.6 489.8,799.5 490.3,793.6 490.8,799.1 491.4,803.7 491.9,800.1 492.4,798.0 492.9,805.6 493.4,795.4 493.9,803.2 494.5,797.9 495.0,800.1 495.5,799.3 496.0,799.7" fill="none" stroke="#1e1e1e" stroke-width="1.4" stroke-linejoin="bevel"/>
<polyline points="480.0,794.7 480.5,795.6 481.0,799.8 481.5,797.5 482.1,793.1 482.6,795.0 483.1,795.0 483.6,797.7 484.1,798.7 484.6,798.3 485.2,795.2 485.7,798.0 486.2,792.2 486.7,785.8 487.2,797.7 487.7,791.0 488.3,793.9 488.8,792.9 489.3,800.6 489.8,792.8 490.3,799.1 490.8,795.8 491.4,792.7 491.9,791.3 492.4,799.8 492.9,799.5 493.4,801.1 493.9,805.6 494.5,799.0 495.0,799.0 495.5,797.3 496.0,798.3" fill="none" stroke="#1e1e1e" stroke-width="1.4" stroke-linejoin="bevel"/>
<polyline points="480.0,798.2 480.5,810.3 481.0,794.1 481.5,803.0 482.1,803.8 482.6,802.5 483.1,797.8 483.6,801.1 484.1,799.9 484.6,797.4 485.2,801.7 485.7,800.2 486.2,799.5 486.7,804.7 487.2,797.4 487.7,803.7 488.3,799.3 488.8,803.6 489.3,802.1 489.8,802.8 490.3,797.7 490.8,798.6 491.4,798.2 491.9,802.5 492.4,804.9 492.9,806.3 493.4,799.7 493.9,802.2 494.5,795.0 495.0,792.5 495.5,798.2 496.0,799.0" fill="none" stroke="#1e1e1e" stroke-width="1.4" stroke-linejoin="bevel"/>
<polyline points="480.0,786.5 480.5,796.2 481.0,790.6 481.5,786.9 482.1,803.7 482.6,794.7 483.1,792.6 483.6,796.8 484.1,790.8 484.6,800.6 485.2,787.5 485.7,788.5 486.2,793.4 486.7,790.7 487.2,799.8 487.7,787.2 488.3,790.9 488.8,794.9 489.3,796.3 489.8,798.1 490.3,795.3 490.8,803.1 491.4,791.9 491.9,794.6 492.4,797.5 492.9,792.6 493.4,792.6 493.9,791.9 494.5,791.2 495.0,789.1 495.5,791.5 496.0,787.4" fill="none" stroke="#1e1e1e" stroke-width="1.4" stroke-linejoin="bevel"/>
<polyline points="480.0,790.5 480.5,805.8 481.0,804.3 481.5,801.8 482.1,796.3 482.6,794.7 483.1,802.3 483.6,797.9 484.1,799.5 484.6,794.2 485.2,801.6 485.7,793.8 486.2,797.6 486.7,789.9 487.2,794.4 487.7,799.3 488.3,795.3 488.8,795.3 489.3,800.5 489.8,796.9 490.3,802.4 490.8,787.0 491.4,799.5 491.9,799.3 492.4,790.7 492.9,791.7 493.4,800.8 493.9,792.7 494.5,794.5 495.0,799.7 495.5,795.8 496.0,799.1" fill="none" stroke="#1e1e1e" stroke-width="1.4" stroke-linejoin="bevel"/>
<polyline points="480.0,797.9 480.5,801.2 481.0,798.0 481.5,787.5 482.1,799.4 482.6,796.9 483.1,792.9 483.6,802.5 484.1,789.4 484.6,804.5 485.2,794.0 485.7,803.2 486.2,796.5 486.7,791.1 487.2,797.1 487.7,798.0 488.3,798.9 488.8,801.1 489.3,792.9 489.8,798.7 490.3,799.7 490.8,795.5 491.4,792.7 491.9,792.7 492.4,799.8 492.9,800.0 493.4,793.2 493.9,791.1 494.5,801.8 495.0,790.2 495.5,797.3 496.0,793.3" fill="none" stroke="#1e1e1e" stroke-width="1.4" stroke-linejoin="bevel"/>
<polyline points="499.6,792.4 500.1,800.3 500.6,799.0 501.1,805.8 501.6,809.3 502.1,799.0 502.6,804.1 503.1,804.1 503.6,797.6 504.1,796.1 504.6,806.5 505.1,798.2 505.7,799.7 506.2,798.4 506.7,798.7 507.2,796.4 507.7,801.7 508.2,803.6 508.7,796.5 509.2,792.0 509.7,797.8 510.2,791.2 510.7,794.5 511.2,802.2 511.7,806.6 512.2,798.3 512.7,792.2 513.2,799.8 513.7,787.1 514.2,793.5 514.7,802.6 515.2,799.3 515.7,790.4 516.2,789.1 516.7,799.6 517.2,795.8 517.8,793.5 518.3,797.6 518.8,793.5 519.3,787.8 519.8,799.2 520.3,793.1 520.8,791.6 521.3,790.2 521.8,796.8 522.3,792.4 522.8,798.4 523.3,794.7 523.8,800.3 524.3,794.2 524.8,793.0 525.3,787.5 525.8,791.2 526.3,798.8 526.8,808.6 527.3,790.6 527.8,791.5 528.3,797.2 528.8,797.8 529.4,793.0 529.9,796.2 530.4,789.1 530.9,794.6 531.4,799.6 531.9,802.7 532.4,795.2 532.9,794.8 533.4,797.8 533.9,800.6 534.4,798.0 534.9,792.8 535.4,797.5 535.9,800.0 536.4,793.0 536.9,790.4 537.4,798.2 537.9,797.6 538.4,800.1 538.9,796.4 539.4,793.4 539.9,794.3 540.4,791.8 540.9,792.2 541.5,793.8 542.0,794.1 542.5,800.8 543.0,791.1 543.5,796.0 544.0,793.8 544.5,802.5 545.0,797.4 545.5,794.7 546.0,799.7 546.5,796.6 547.0,794.3 547.5,802.7 548.0,799.3 548.5,803.6 549.0,801.2 549.5,799.6 550.0,797.0 550.5,791.9 551.0,799.4 551.5,796.8 552.0,799.3 552.5,796.5 553.0,793.6 553.6,792.3 554.1,799.5 554.6,801.9 555.1,795.4 555.6,798.5 556.1,802.4 556.6,793.1 557.1,795.2 557.6,792.0 558.1,801.6 558.6,797.8 559.1,794.8 559.6,789.8 560.1,796.0 560.6,800.9 561.1,795.5 561.6,795.0 562.1,799.4 562.6,791.6 563.1,797.0 563.6,799.3 564.1,793.6 564.6,793.4 565.2,797.9 565.7,796.4 566.2,795.9 566.7,797.8 567.2,797.8 567.7,793.1 568.2,794.1 568.7,798.8 569.2,801.6 569.7,802.6 570.2,793.4 570.7,801.6 571.2,800.2 571.7,796.9 572.2,799.1 572.7,800.5 573.2,804.5 573.7,792.7 574.2,799.6 574.7,796.5 575.2,796.2 575.7,801.9 576.2,800.5 576.7,792.9 577.3,796.0 577.8,798.1 578.3,791.3 578.8,800.8 579.3,796.9 579.8,797.9 580.3,798.6 580.8,804.8 581.3,797.4 581.8,795.8 582.3,804.5 582.8,795.2" fill="none" stroke="#aaa" stroke-width="1.3" stroke-linejoin="bevel"/>
<polyline points="499.6,801.7 500.1,798.1 500.6,808.4 501.1,805.0 501.6,805.8 502.1,804.6 502.6,803.3 503.1,800.6 503.6,800.6 504.1,805.7 504.6,804.4 505.1,810.7 505.7,800.7 506.2,801.6 506.7,798.6 507.2,807.9 507.7,796.4 508.2,804.2 508.7,806.4 509.2,799.4 509.7,802.5 510.2,790.3 510.7,797.2 511.2,791.6 511.7,798.9 512.2,797.9 512.7,794.5 513.2,801.4 513.7,798.7 514.2,794.9 514.7,794.8 515.2,790.7 515.7,795.9 516.2,805.3 516.7,793.5 517.2,798.1 517.8,794.0 518.3,799.5 518.8,798.0 519.3,795.1 519.8,788.6 520.3,793.9 520.8,801.0 521.3,794.9 521.8,798.5 522.3,793.9 522.8,788.2 523.3,797.7 523.8,797.2 524.3,793.5 524.8,794.4 525.3,797.1 525.8,793.4 526.3,797.4 526.8,795.1 527.3,786.2 527.8,795.4 528.3,793.5 528.8,792.5 529.4,797.7 529.9,794.0 530.4,798.3 530.9,800.6 531.4,796.7 531.9,789.7 532.4,793.1 532.9,800.0 533.4,795.1 533.9,792.9 534.4,795.9 534.9,798.4 535.4,797.4 535.9,799.0 536.4,792.9 536.9,795.3 537.4,795.4 537.9,796.4 538.4,787.8 538.9,795.5 539.4,791.0 539.9,802.3 540.4,803.1 540.9,803.6 541.5,800.0 542.0,794.7 542.5,800.7 543.0,795.9 543.5,799.3 544.0,793.1 544.5,794.4 545.0,798.8 545.5,804.3 546.0,796.8 546.5,806.3 547.0,808.4 547.5,791.7 548.0,796.9 548.5,793.1 549.0,796.5 549.5,794.9 550.0,796.9 550.5,801.2 551.0,801.1 551.5,798.3 552.0,797.3 552.5,797.8 553.0,797.9 553.6,799.7 554.1,797.4 554.6,799.5 555.1,792.0 555.6,800.8 556.1,804.7 556.6,798.3 557.1,791.7 557.6,803.2 558.1,796.2 558.6,785.2 559.1,796.8 559.6,800.2 560.1,799.3 560.6,802.9 561.1,800.3 561.6,798.3 562.1,789.6 562.6,793.2 563.1,798.6 563.6,800.7 564.1,793.7 564.6,795.4 565.2,799.9 565.7,790.1 566.2,789.9 566.7,797.1 567.2,799.1 567.7,796.1 568.2,788.6 568.7,798.2 569.2,792.6 569.7,800.9 570.2,797.8 570.7,799.3 571.2,800.9 571.7,796.1 572.2,801.8 572.7,803.5 573.2,800.0 573.7,803.9 574.2,795.8 574.7,802.2 575.2,799.6 575.7,794.4 576.2,798.2 576.7,796.3 577.3,796.3 577.8,798.9 578.3,803.0 578.8,797.3 579.3,799.2 579.8,792.6 580.3,799.1 580.8,803.5 581.3,802.1 581.8,800.7 582.3,796.6 582.8,794.7" fill="none" stroke="#aaa" stroke-width="1.3" stroke-linejoin="bevel"/>
<polyline points="499.6,807.6 500.1,802.4 500.6,802.8 501.1,811.9 501.6,804.1 502.1,815.4 502.6,802.0 503.1,809.7 503.6,803.1 504.1,808.7 504.6,803.6 505.1,808.1 505.7,807.3 506.2,805.9 506.7,809.3 507.2,812.9 507.7,803.7 508.2,809.4 508.7,805.7 509.2,804.9 509.7,813.8 510.2,795.4 510.7,801.3 511.2,796.3 511.7,802.4 512.2,802.5 512.7,819.1 513.2,804.6 513.7,810.4 514.2,808.2 514.7,800.9 515.2,804.6 515.7,809.5 516.2,803.2 516.7,803.2 517.2,804.4 517.8,796.0 518.3,798.8 518.8,803.5 519.3,804.4 519.8,798.2 520.3,800.7 520.8,801.5 521.3,801.4 521.8,804.9 522.3,802.4 522.8,802.6 523.3,796.1 523.8,797.6 524.3,803.3 524.8,795.3 525.3,803.1 525.8,799.2 526.3,798.6 526.8,804.7 527.3,799.2 527.8,798.4 528.3,799.2 528.8,802.2 529.4,813.5 529.9,793.2 530.4,802.0 530.9,801.1 531.4,806.0 531.9,800.5 532.4,791.8 532.9,807.6 533.4,797.6 533.9,801.9 534.4,796.5 534.9,797.6 535.4,800.1 535.9,805.8 536.4,805.8 536.9,799.8 537.4,804.4 537.9,800.8 538.4,802.8 538.9,803.0 539.4,805.0 539.9,799.8 540.4,801.9 540.9,803.3 541.5,802.8 542.0,799.1 542.5,809.7 543.0,800.6 543.5,805.7 544.0,803.4 544.5,807.7 545.0,793.5 545.5,811.2 546.0,801.7 546.5,797.5 547.0,803.2 547.5,812.1 548.0,804.8 548.5,797.6 549.0,800.8 549.5,808.4 550.0,796.9 550.5,802.1 551.0,801.6 551.5,811.9 552.0,801.7 552.5,808.4 553.0,800.1 553.6,799.6 554.1,807.2 554.6,805.6 555.1,795.8 555.6,805.7 556.1,805.7 556.6,800.5 557.1,804.0 557.6,804.2 558.1,801.1 558.6,800.7 559.1,800.4 559.6,802.0 560.1,797.6 560.6,803.0 561.1,797.0 561.6,803.6 562.1,802.9 562.6,799.0 563.1,806.9 563.6,811.4 564.1,808.9 564.6,797.7 565.2,808.7 565.7,804.3 566.2,803.2 566.7,801.0 567.2,803.4 567.7,809.3 568.2,805.8 568.7,801.8 569.2,800.7 569.7,801.8 570.2,806.0 570.7,811.4 571.2,799.2 571.7,803.6 572.2,802.0 572.7,800.5 573.2,805.3 573.7,806.0 574.2,797.8 574.7,799.4 575.2,808.7 575.7,805.1 576.2,805.9 576.7,801.7 577.3,802.2 577.8,805.7 578.3,801.8 578.8,799.2 579.3,803.9 579.8,807.7 580.3,799.6 580.8,808.3 581.3,806.9 581.8,800.4 582.3,804.0 582.8,803.8" fill="none" stroke="#aaa" stroke-width="1.3" stroke-linejoin="bevel"/>
<polyline points="499.6,804.5 500.1,804.6 500.6,796.4 501.1,796.2 501.6,806.1 502.1,802.3 502.6,803.6 503.1,803.2 503.6,808.2 504.1,796.8 504.6,806.4 505.1,798.5 505.7,804.9 506.2,807.1 506.7,794.8 507.2,801.4 507.7,797.8 508.2,797.0 508.7,797.7 509.2,792.6 509.7,792.4 510.2,798.7 510.7,799.0 511.2,792.7 511.7,788.7 512.2,804.0 512.7,798.6 513.2,795.3 513.7,789.3 514.2,790.9 514.7,794.1 515.2,789.0 515.7,799.5 516.2,793.2 516.7,794.2 517.2,788.2 517.8,788.6 518.3,789.0 518.8,793.3 519.3,791.0 519.8,790.9 520.3,793.3 520.8,792.9 521.3,798.1 521.8,791.1 522.3,787.7 522.8,791.8 523.3,797.9 523.8,789.6 524.3,792.1 524.8,790.4 525.3,793.5 525.8,792.9 526.3,788.5 526.8,791.0 527.3,795.8 527.8,796.5 528.3,795.8 528.8,795.5 529.4,790.6 529.9,790.5 530.4,795.9 530.9,787.2 531.4,791.9 531.9,784.5 532.4,790.6 532.9,789.3 533.4,787.3 533.9,794.7 534.4,789.3 534.9,790.8 535.4,791.3 535.9,789.4 536.4,798.3 536.9,790.4 537.4,793.3 537.9,787.1 538.4,790.6 538.9,791.3 539.4,791.4 539.9,790.3 540.4,793.3 540.9,799.2 541.5,792.2 542.0,792.3 542.5,791.3 543.0,803.4 543.5,799.6 544.0,795.3 544.5,795.9 545.0,790.1 545.5,792.4 546.0,794.0 546.5,793.6 547.0,789.7 547.5,790.0 548.0,795.4 548.5,794.6 549.0,784.6 549.5,793.7 550.0,798.6 550.5,790.8 551.0,794.5 551.5,787.5 552.0,797.0 552.5,789.0 553.0,788.5 553.6,792.3 554.1,803.4 554.6,791.2 555.1,788.5 555.6,795.7 556.1,794.8 556.6,800.7 557.1,788.7 557.6,787.4 558.1,792.7 558.6,795.5 559.1,795.5 559.6,798.5 560.1,787.9 560.6,790.7 561.1,793.6 561.6,797.6 562.1,796.2 562.6,792.5 563.1,790.1 563.6,797.9 564.1,798.3 564.6,805.5 565.2,793.7 565.7,801.1 566.2,789.5 566.7,792.3 567.2,791.7 567.7,792.7 568.2,791.0 568.7,792.4 569.2,794.4 569.7,792.8 570.2,797.4 570.7,794.4 571.2,794.8 571.7,800.9 572.2,796.1 572.7,795.5 573.2,794.8 573.7,795.2 574.2,797.3 574.7,791.7 575.2,799.7 575.7,801.5 576.2,799.8 576.7,793.1 577.3,788.6 577.8,793.4 578.3,795.8 578.8,798.6 579.3,794.5 579.8,794.0 580.3,801.6 580.8,792.6 581.3,799.7 581.8,799.1 582.3,789.9 582.8,796.6" fill="none" stroke="#aaa" stroke-width="1.3" stroke-linejoin="bevel"/>
<polyline points="499.6,807.6 500.1,806.0 500.6,802.3 501.1,803.4 501.6,811.6 502.1,808.3 502.6,811.0 503.1,805.5 503.6,808.6 504.1,808.8 504.6,803.5 505.1,803.0 505.7,811.7 506.2,810.3 506.7,805.4 507.2,808.4 507.7,811.1 508.2,815.6 508.7,804.1 509.2,810.0 509.7,815.9 510.2,807.2 510.7,812.7 511.2,795.8 511.7,812.3 512.2,806.1 512.7,798.3 513.2,809.1 513.7,810.0 514.2,810.6 514.7,810.5 515.2,805.3 515.7,802.3 516.2,803.4 516.7,805.1 517.2,806.8 517.8,803.1 518.3,805.3 518.8,808.6 519.3,806.3 519.8,814.4 520.3,813.8 520.8,800.2 521.3,802.6 521.8,799.5 522.3,800.1 522.8,807.1 523.3,800.8 523.8,800.6 524.3,803.8 524.8,808.2 525.3,803.4 525.8,803.4 526.3,808.7 526.8,806.8 527.3,806.8 527.8,808.8 528.3,800.8 528.8,805.8 529.4,802.3 529.9,809.2 530.4,808.3 530.9,800.7 531.4,810.5 531.9,800.2 532.4,809.9 532.9,805.9 533.4,801.5 533.9,800.5 534.4,803.8 534.9,805.0 535.4,802.2 535.9,807.5 536.4,799.4 536.9,805.1 537.4,805.2 537.9,797.5 538.4,806.5 538.9,800.0 539.4,794.9 539.9,802.7 540.4,804.4 540.9,809.1 541.5,803.3 542.0,811.4 542.5,811.3 543.0,809.9 543.5,810.9 544.0,806.9 544.5,803.1 545.0,808.1 545.5,809.5 546.0,806.5 546.5,804.5 547.0,799.0 547.5,808.3 548.0,807.0 548.5,800.2 549.0,806.0 549.5,808.6 550.0,805.2 550.5,808.9 551.0,808.8 551.5,799.6 552.0,804.5 552.5,807.7 553.0,809.5 553.6,811.6 554.1,797.8 554.6,805.5 555.1,808.8 555.6,810.9 556.1,812.8 556.6,802.0 557.1,804.3 557.6,801.5 558.1,809.3 558.6,800.4 559.1,810.9 559.6,809.8 560.1,808.0 560.6,797.0 561.1,803.2 561.6,809.1 562.1,800.2 562.6,805.1 563.1,805.6 563.6,809.8 564.1,807.3 564.6,807.3 565.2,804.3 565.7,806.2 566.2,805.6 566.7,809.2 567.2,805.5 567.7,810.5 568.2,799.2 568.7,811.2 569.2,805.6 569.7,811.0 570.2,806.6 570.7,809.8 571.2,812.5 571.7,804.0 572.2,806.7 572.7,805.7 573.2,807.2 573.7,799.7 574.2,805.7 574.7,805.4 575.2,803.2 575.7,805.6 576.2,800.1 576.7,812.3 577.3,808.3 577.8,814.3 578.3,802.9 578.8,801.7 579.3,807.7 579.8,799.6 580.3,807.5 580.8,803.7 581.3,805.2 581.8,807.7 582.3,806.8 582.8,814.4" fill="none" stroke="#aaa" stroke-width="1.3" stroke-linejoin="bevel"/>
<polyline points="499.6,808.5 500.1,800.5 500.6,809.9 501.1,800.3 501.6,806.2 502.1,800.7 502.6,802.4 503.1,811.3 503.6,803.5 504.1,803.2 504.6,803.5 505.1,804.6 505.7,811.8 506.2,800.7 506.7,799.8 507.2,806.8 507.7,797.2 508.2,801.8 508.7,807.5 509.2,802.4 509.7,800.0 510.2,798.7 510.7,797.6 511.2,798.6 511.7,801.4 512.2,805.8 512.7,804.4 513.2,797.8 513.7,797.0 514.2,802.7 514.7,792.2 515.2,797.8 515.7,798.1 516.2,794.8 516.7,795.2 517.2,800.6 517.8,792.3 518.3,795.3 518.8,796.3 519.3,799.3 519.8,793.2 520.3,803.4 520.8,797.6 521.3,797.7 521.8,797.3 522.3,796.0 522.8,794.7 523.3,803.5 523.8,799.6 524.3,798.3 524.8,802.9 525.3,795.8 525.8,801.4 526.3,798.8 526.8,795.1 527.3,801.9 527.8,792.6 528.3,801.5 528.8,795.1 529.4,800.5 529.9,804.5 530.4,801.2 530.9,796.4 531.4,798.8 531.9,797.4 532.4,794.1 532.9,794.4 533.4,799.1 533.9,801.2 534.4,791.7 534.9,798.7 535.4,801.1 535.9,799.5 536.4,794.9 536.9,803.4 537.4,794.1 537.9,801.8 538.4,805.8 538.9,790.7 539.4,800.3 539.9,800.5 540.4,800.2 540.9,796.1 541.5,798.0 542.0,793.5 542.5,799.9 543.0,801.6 543.5,796.6 544.0,795.6 544.5,797.5 545.0,799.4 545.5,799.7 546.0,799.1 546.5,799.8 547.0,794.1 547.5,788.3 548.0,802.1 548.5,805.5 549.0,793.8 549.5,796.9 550.0,800.9 550.5,803.6 551.0,802.4 551.5,805.0 552.0,799.5 552.5,801.5 553.0,801.5 553.6,798.1 554.1,804.8 554.6,802.5 555.1,803.9 555.6,798.3 556.1,804.2 556.6,795.6 557.1,801.6 557.6,789.3 558.1,795.9 558.6,803.1 559.1,798.2 559.6,800.8 560.1,793.5 560.6,806.5 561.1,802.6 561.6,800.1 562.1,801.9 562.6,801.6 563.1,806.1 563.6,801.2 564.1,794.3 564.6,799.3 565.2,805.6 565.7,802.7 566.2,798.7 566.7,802.9 567.2,800.9 567.7,803.0 568.2,794.0 568.7,796.8 569.2,803.3 569.7,799.6 570.2,802.0 570.7,808.6 571.2,799.3 571.7,801.6 572.2,798.4 572.7,798.1 573.2,800.4 573.7,794.7 574.2,792.1 574.7,806.4 575.2,800.3 575.7,805.4 576.2,801.3 576.7,801.4 577.3,803.6 577.8,803.8 578.3,796.0 578.8,805.9 579.3,797.0 579.8,801.8 580.3,811.5 580.8,801.3 581.3,807.9 581.8,799.6 582.3,803.6 582.8,801.3" fill="none" stroke="#aaa" stroke-width="1.3" stroke-linejoin="bevel"/>
<polyline points="499.6,803.1 500.1,798.6 500.6,798.4 501.1,802.8 501.6,796.1 502.1,798.7 502.6,803.9 503.1,798.9 503.6,796.0 504.1,793.5 504.6,796.3 505.1,793.0 505.7,793.5 506.2,791.1 506.7,797.3 507.2,788.3 507.7,782.0 508.2,788.6 508.7,787.5 509.2,787.4 509.7,780.6 510.2,789.7 510.7,785.2 511.2,784.7 511.7,778.9 512.2,785.8 512.7,783.6 513.2,788.4 513.7,781.9 514.2,778.8 514.7,783.4 515.2,779.6 515.7,784.1 516.2,778.7 516.7,781.9 517.2,781.5 517.8,782.1 518.3,780.3 518.8,779.2 519.3,781.8 519.8,779.9 520.3,782.4 520.8,780.9 521.3,773.9 521.8,781.5 522.3,786.6 522.8,782.8 523.3,783.8 523.8,783.3 524.3,780.0 524.8,777.0 525.3,784.5 525.8,785.3 526.3,783.6 526.8,783.1 527.3,783.0 527.8,781.6 528.3,782.6 528.8,781.7 529.4,782.8 529.9,778.4 530.4,779.5 530.9,783.7 531.4,780.6 531.9,773.3 532.4,782.2 532.9,773.8 533.4,788.4 533.9,784.3 534.4,784.2 534.9,779.5 535.4,777.9 535.9,781.1 536.4,782.0 536.9,779.2 537.4,782.5 537.9,784.3 538.4,784.0 538.9,778.4 539.4,774.5 539.9,782.0 540.4,779.8 540.9,783.6 541.5,787.8 542.0,787.8 542.5,783.1 543.0,786.0 543.5,787.9 544.0,782.4 544.5,783.2 545.0,785.2 545.5,782.1 546.0,780.6 546.5,779.7 547.0,782.3 547.5,780.2 548.0,785.1 548.5,781.2 549.0,787.4 549.5,786.6 550.0,778.2 550.5,786.2 551.0,781.1 551.5,787.2 552.0,784.3 552.5,782.4 553.0,784.9 553.6,780.7 554.1,783.7 554.6,784.0 555.1,782.2 555.6,784.0 556.1,779.3 556.6,784.6 557.1,778.6 557.6,784.9 558.1,784.4 558.6,785.2 559.1,780.9 559.6,793.3 560.1,782.1 560.6,783.4 561.1,780.3 561.6,787.9 562.1,781.4 562.6,786.4 563.1,779.8 563.6,784.1 564.1,781.8 564.6,786.3 565.2,782.1 565.7,780.2 566.2,784.7 566.7,779.1 567.2,779.9 567.7,785.8 568.2,776.8 568.7,785.8 569.2,781.9 569.7,780.2 570.2,784.2 570.7,785.5 571.2,781.4 571.7,782.8 572.2,786.1 572.7,786.0 573.2,783.3 573.7,780.8 574.2,780.3 574.7,781.5 575.2,785.8 575.7,785.5 576.2,784.6 576.7,788.3 577.3,782.6 577.8,782.3 578.3,782.3 578.8,790.2 579.3,776.7 579.8,784.7 580.3,785.3 580.8,784.0 581.3,791.7 581.8,787.8 582.3,786.5 582.8,780.8" fill="none" stroke="#1e1e1e" stroke-width="1.3" stroke-linejoin="bevel"/>
<polyline points="499.6,803.6 500.1,800.6 500.6,802.0 501.1,802.6 501.6,800.3 502.1,804.1 502.6,807.4 503.1,804.8 503.6,799.8 504.1,790.4 504.6,798.8 505.1,797.1 505.7,791.3 506.2,789.0 506.7,791.6 507.2,785.6 507.7,790.0 508.2,782.8 508.7,782.5 509.2,784.9 509.7,779.3 510.2,783.7 510.7,784.9 511.2,778.2 511.7,785.4 512.2,780.0 512.7,783.4 513.2,781.9 513.7,779.4 514.2,778.9 514.7,774.7 515.2,777.9 515.7,777.5 516.2,785.5 516.7,783.3 517.2,775.1 517.8,782.3 518.3,780.2 518.8,778.1 519.3,780.9 519.8,781.9 520.3,777.3 520.8,778.2 521.3,779.7 521.8,775.8 522.3,779.7 522.8,778.8 523.3,776.7 523.8,776.2 524.3,780.0 524.8,781.9 525.3,780.1 525.8,776.1 526.3,781.5 526.8,779.6 527.3,781.0 527.8,782.9 528.3,776.0 528.8,778.5 529.4,777.0 529.9,776.1 530.4,785.8 530.9,782.2 531.4,773.1 531.9,780.5 532.4,777.2 532.9,783.0 533.4,779.4 533.9,778.6 534.4,779.7 534.9,780.5 535.4,779.3 535.9,778.5 536.4,778.8 536.9,781.0 537.4,775.5 537.9,779.3 538.4,778.9 538.9,777.7 539.4,781.9 539.9,775.1 540.4,778.2 540.9,776.6 541.5,781.3 542.0,777.9 542.5,779.7 543.0,780.8 543.5,774.2 544.0,781.1 544.5,777.1 545.0,778.8 545.5,779.3 546.0,782.4 546.5,782.2 547.0,785.7 547.5,780.3 548.0,778.2 548.5,778.1 549.0,782.0 549.5,785.2 550.0,781.0 550.5,777.9 551.0,780.8 551.5,780.8 552.0,780.1 552.5,777.5 553.0,771.5 553.6,778.2 554.1,783.6 554.6,780.8 555.1,772.7 555.6,780.1 556.1,773.9 556.6,786.8 557.1,780.8 557.6,776.1 558.1,782.9 558.6,777.6 559.1,782.1 559.6,780.3 560.1,776.3 560.6,782.6 561.1,775.8 561.6,784.9 562.1,780.6 562.6,776.9 563.1,774.3 563.6,785.9 564.1,785.4 564.6,776.3 565.2,786.1 565.7,781.1 566.2,779.8 566.7,780.3 567.2,779.7 567.7,785.4 568.2,781.2 568.7,774.5 569.2,787.7 569.7,783.7 570.2,777.1 570.7,779.6 571.2,777.7 571.7,781.0 572.2,782.1 572.7,781.6 573.2,778.8 573.7,778.2 574.2,783.8 574.7,780.6 575.2,788.5 575.7,778.3 576.2,783.6 576.7,781.2 577.3,778.5 577.8,785.6 578.3,781.5 578.8,778.1 579.3,780.0 579.8,784.6 580.3,777.0 580.8,785.8 581.3,783.5 581.8,780.3 582.3,785.8 582.8,787.1" fill="none" stroke="#1e1e1e" stroke-width="1.3" stroke-linejoin="bevel"/>
<polyline points="499.6,804.0 500.1,802.6 500.6,808.2 501.1,807.0 501.6,798.9 502.1,801.3 502.6,801.3 503.1,799.9 503.6,793.7 504.1,799.5 504.6,794.6 505.1,792.8 505.7,795.5 506.2,787.3 506.7,787.6 507.2,787.5 507.7,784.0 508.2,784.1 508.7,786.1 509.2,782.7 509.7,786.5 510.2,778.8 510.7,781.4 511.2,775.4 511.7,779.3 512.2,776.9 512.7,783.5 513.2,781.1 513.7,780.0 514.2,784.2 514.7,782.6 515.2,779.9 515.7,775.0 516.2,772.2 516.7,776.9 517.2,775.6 517.8,774.5 518.3,775.6 518.8,770.9 519.3,781.5 519.8,772.5 520.3,774.0 520.8,778.2 521.3,770.7 521.8,779.3 522.3,779.3 522.8,775.0 523.3,772.4 523.8,774.4 524.3,769.7 524.8,780.7 525.3,776.2 525.8,773.5 526.3,772.9 526.8,778.0 527.3,781.1 527.8,771.7 528.3,774.1 528.8,770.1 529.4,778.3 529.9,776.6 530.4,783.8 530.9,775.7 531.4,774.6 531.9,773.7 532.4,779.0 532.9,770.6 533.4,778.7 533.9,777.0 534.4,774.5 534.9,773.2 535.4,779.9 535.9,782.6 536.4,774.8 536.9,778.1 537.4,782.3 537.9,774.3 538.4,775.5 538.9,772.3 539.4,775.9 539.9,776.2 540.4,775.1 540.9,774.0 541.5,771.1 542.0,772.0 542.5,773.3 543.0,778.8 543.5,774.9 544.0,773.8 544.5,778.9 545.0,778.6 545.5,774.2 546.0,774.6 546.5,779.1 547.0,778.1 547.5,774.0 548.0,777.7 548.5,776.8 549.0,780.7 549.5,774.0 550.0,780.0 550.5,778.5 551.0,773.6 551.5,780.7 552.0,780.2 552.5,772.6 553.0,783.9 553.6,773.2 554.1,774.0 554.6,776.1 555.1,779.9 555.6,779.2 556.1,776.9 556.6,782.0 557.1,778.7 557.6,782.1 558.1,787.1 558.6,778.1 559.1,768.6 559.6,775.9 560.1,773.8 560.6,777.8 561.1,777.9 561.6,773.3 562.1,773.6 562.6,776.7 563.1,776.9 563.6,768.6 564.1,781.0 564.6,777.8 565.2,777.7 565.7,778.8 566.2,774.2 566.7,777.6 567.2,781.4 567.7,781.6 568.2,779.5 568.7,776.9 569.2,775.1 569.7,782.5 570.2,779.8 570.7,776.5 571.2,770.4 571.7,775.0 572.2,771.3 572.7,782.4 573.2,778.8 573.7,775.5 574.2,777.2 574.7,787.3 575.2,782.5 575.7,773.5 576.2,777.8 576.7,774.0 577.3,772.2 577.8,778.9 578.3,786.8 578.8,783.9 579.3,778.5 579.8,777.1 580.3,779.1 580.8,782.1 581.3,773.3 581.8,771.9 582.3,785.2 582.8,779.5" fill="none" stroke="#1e1e1e" stroke-width="1.3" stroke-linejoin="bevel"/>
<polyline points="499.6,807.7 500.1,802.8 500.6,807.2 501.1,799.8 501.6,803.8 502.1,807.5 502.6,805.6 503.1,799.6 503.6,801.5 504.1,793.4 504.6,788.4 505.1,793.2 505.7,794.4 506.2,790.8 506.7,781.7 507.2,787.9 507.7,786.0 508.2,780.8 508.7,772.6 509.2,784.1 509.7,782.8 510.2,780.7 510.7,772.1 511.2,772.4 511.7,780.8 512.2,779.5 512.7,778.0 513.2,775.0 513.7,776.9 514.2,773.3 514.7,773.8 515.2,771.6 515.7,775.4 516.2,772.7 516.7,777.5 517.2,776.5 517.8,770.9 518.3,780.2 518.8,769.5 519.3,775.1 519.8,777.3 520.3,777.9 520.8,765.3 521.3,776.8 521.8,777.5 522.3,778.3 522.8,765.1 523.3,770.6 523.8,772.7 524.3,771.4 524.8,777.8 525.3,770.6 525.8,777.4 526.3,775.0 526.8,767.8 527.3,769.4 527.8,771.3 528.3,773.4 528.8,776.6 529.4,772.4 529.9,776.3 530.4,767.4 530.9,762.1 531.4,771.9 531.9,774.8 532.4,771.9 532.9,769.5 533.4,774.7 533.9,780.2 534.4,772.9 534.9,770.7 535.4,770.3 535.9,780.4 536.4,773.2 536.9,775.6 537.4,777.8 537.9,777.3 538.4,770.1 538.9,776.9 539.4,776.5 539.9,775.3 540.4,777.2 540.9,771.6 541.5,773.3 542.0,771.7 542.5,776.4 543.0,771.3 543.5,775.1 544.0,769.8 544.5,773.3 545.0,772.5 545.5,773.4 546.0,774.3 546.5,773.2 547.0,773.1 547.5,766.5 548.0,777.9 548.5,771.8 549.0,773.1 549.5,771.1 550.0,777.7 550.5,770.9 551.0,776.0 551.5,778.4 552.0,780.1 552.5,778.5 553.0,776.5 553.6,770.0 554.1,779.0 554.6,778.6 555.1,777.4 555.6,777.3 556.1,774.7 556.6,772.6 557.1,778.4 557.6,779.1 558.1,770.8 558.6,777.9 559.1,775.5 559.6,777.8 560.1,775.7 560.6,778.7 561.1,778.4 561.6,777.9 562.1,769.8 562.6,777.8 563.1,775.0 563.6,770.8 564.1,777.4 564.6,770.0 565.2,778.2 565.7,781.1 566.2,773.2 566.7,778.3 567.2,776.7 567.7,777.4 568.2,770.3 568.7,777.4 569.2,775.7 569.7,777.9 570.2,775.3 570.7,779.2 571.2,776.3 571.7,777.8 572.2,780.3 572.7,776.1 573.2,779.0 573.7,776.3 574.2,777.4 574.7,773.6 575.2,778.3 575.7,779.9 576.2,775.3 576.7,778.5 577.3,777.2 577.8,771.8 578.3,777.0 578.8,780.4 579.3,774.0 579.8,769.5 580.3,776.6 580.8,773.6 581.3,782.6 581.8,775.8 582.3,775.9 582.8,773.7" fill="none" stroke="#1e1e1e" stroke-width="1.3" stroke-linejoin="bevel"/>
<polyline points="499.6,803.0 500.1,800.1 500.6,798.9 501.1,801.9 501.6,799.3 502.1,806.8 502.6,798.0 503.1,801.0 503.6,795.7 504.1,790.4 504.6,798.6 505.1,782.9 505.7,793.4 506.2,781.4 506.7,785.0 507.2,791.2 507.7,774.3 508.2,775.7 508.7,784.1 509.2,779.0 509.7,775.6 510.2,776.6 510.7,772.5 511.2,775.7 511.7,780.0 512.2,772.8 512.7,774.2 513.2,777.5 513.7,779.9 514.2,770.5 514.7,773.3 515.2,770.0 515.7,769.4 516.2,770.1 516.7,769.1 517.2,765.0 517.8,764.0 518.3,768.3 518.8,771.2 519.3,774.9 519.8,768.7 520.3,769.9 520.8,772.7 521.3,772.9 521.8,769.9 522.3,770.1 522.8,776.8 523.3,769.0 523.8,768.4 524.3,764.4 524.8,771.7 525.3,769.2 525.8,776.9 526.3,768.9 526.8,773.0 527.3,773.4 527.8,776.0 528.3,765.5 528.8,775.7 529.4,770.2 529.9,769.8 530.4,769.1 530.9,768.8 531.4,769.0 531.9,762.1 532.4,772.1 532.9,770.5 533.4,767.0 533.9,770.1 534.4,778.5 534.9,771.8 535.4,769.1 535.9,776.5 536.4,767.7 536.9,770.0 537.4,768.6 537.9,769.8 538.4,773.2 538.9,772.7 539.4,768.1 539.9,770.3 540.4,771.0 540.9,769.3 541.5,770.7 542.0,768.3 542.5,768.3 543.0,771.0 543.5,767.3 544.0,772.4 544.5,770.3 545.0,767.8 545.5,768.9 546.0,769.4 546.5,770.5 547.0,771.5 547.5,770.4 548.0,768.1 548.5,776.2 549.0,774.4 549.5,771.7 550.0,774.6 550.5,772.5 551.0,770.5 551.5,771.7 552.0,780.8 552.5,774.9 553.0,775.1 553.6,770.1 554.1,773.6 554.6,779.5 555.1,773.1 555.6,775.4 556.1,776.1 556.6,774.0 557.1,777.2 557.6,772.6 558.1,773.5 558.6,769.6 559.1,781.1 559.6,772.9 560.1,772.3 560.6,776.8 561.1,770.3 561.6,772.0 562.1,769.3 562.6,772.1 563.1,770.7 563.6,774.0 564.1,771.7 564.6,770.1 565.2,771.2 565.7,771.8 566.2,770.5 566.7,775.6 567.2,774.7 567.7,772.9 568.2,768.2 568.7,774.2 569.2,768.0 569.7,773.1 570.2,772.7 570.7,770.5 571.2,769.7 571.7,770.2 572.2,779.8 572.7,771.7 573.2,772.0 573.7,776.1 574.2,774.2 574.7,776.5 575.2,768.5 575.7,769.0 576.2,784.4 576.7,772.7 577.3,771.9 577.8,773.5 578.3,776.4 578.8,768.9 579.3,774.0 579.8,773.0 580.3,775.4 580.8,773.7 581.3,771.3 581.8,770.2 582.3,764.8 582.8,776.6" fill="none" stroke="#1e1e1e" stroke-width="1.3" stroke-linejoin="bevel"/>
<polyline points="499.6,797.0 500.1,800.7 500.6,807.9 501.1,800.6 501.6,804.2 502.1,801.4 502.6,804.5 503.1,801.2 503.6,795.9 504.1,799.3 504.6,790.8 505.1,784.6 505.7,785.8 506.2,786.7 506.7,779.2 507.2,784.1 507.7,782.5 508.2,785.8 508.7,775.0 509.2,778.4 509.7,769.4 510.2,772.8 510.7,773.8 511.2,774.2 511.7,771.9 512.2,771.2 512.7,768.9 513.2,769.0 513.7,771.2 514.2,771.7 514.7,771.6 515.2,772.5 515.7,772.9 516.2,762.4 516.7,766.6 517.2,767.6 517.8,765.8 518.3,771.5 518.8,770.3 519.3,767.3 519.8,768.0 520.3,771.8 520.8,766.2 521.3,766.2 521.8,770.4 522.3,768.8 522.8,772.1 523.3,768.4 523.8,769.7 524.3,765.2 524.8,763.9 525.3,767.1 525.8,757.9 526.3,768.5 526.8,770.4 527.3,767.4 527.8,766.4 528.3,770.9 528.8,767.0 529.4,770.5 529.9,774.7 530.4,769.7 530.9,770.4 531.4,768.9 531.9,768.1 532.4,768.2 532.9,767.5 533.4,771.1 533.9,761.8 534.4,766.5 534.9,769.7 535.4,764.5 535.9,767.1 536.4,765.1 536.9,769.1 537.4,770.5 537.9,772.6 538.4,769.4 538.9,765.2 539.4,768.6 539.9,769.7 540.4,772.6 540.9,760.4 541.5,769.1 542.0,761.6 542.5,770.4 543.0,769.5 543.5,769.7 544.0,771.0 544.5,769.4 545.0,765.8 545.5,769.3 546.0,772.3 546.5,767.8 547.0,768.3 547.5,764.1 548.0,772.3 548.5,766.6 549.0,765.8 549.5,766.8 550.0,765.4 550.5,767.6 551.0,772.9 551.5,771.2 552.0,773.4 552.5,773.7 553.0,765.5 553.6,770.3 554.1,773.8 554.6,776.6 555.1,763.9 555.6,763.9 556.1,770.4 556.6,767.7 557.1,765.5 557.6,770.2 558.1,766.2 558.6,761.2 559.1,768.9 559.6,769.5 560.1,771.3 560.6,772.3 561.1,769.8 561.6,768.4 562.1,766.9 562.6,763.6 563.1,767.8 563.6,772.7 564.1,771.6 564.6,776.4 565.2,768.9 565.7,763.3 566.2,772.3 566.7,773.1 567.2,765.5 567.7,764.0 568.2,770.1 568.7,772.1 569.2,765.8 569.7,768.5 570.2,767.0 570.7,765.7 571.2,765.2 571.7,770.3 572.2,768.6 572.7,767.6 573.2,760.9 573.7,775.9 574.2,766.7 574.7,769.5 575.2,766.1 575.7,771.4 576.2,764.9 576.7,770.4 577.3,769.5 577.8,773.3 578.3,766.4 578.8,768.0 579.3,769.5 579.8,777.5 580.3,765.3 580.8,771.4 581.3,768.1 581.8,771.5 582.3,772.7 582.8,771.0" fill="none" stroke="#1e1e1e" stroke-width="1.3" stroke-linejoin="bevel"/>
<polyline points="499.6,802.9 500.1,803.0 500.6,800.0 501.1,801.3 501.6,796.3 502.1,800.8 502.6,799.4 503.1,800.4 503.6,801.2 504.1,797.5 504.6,795.7 505.1,795.9 505.7,782.2 506.2,790.2 506.7,787.2 507.2,785.7 507.7,780.4 508.2,785.7 508.7,786.8 509.2,785.5 509.7,781.0 510.2,782.8 510.7,783.1 511.2,785.6 511.7,783.1 512.2,778.9 512.7,778.4 513.2,778.2 513.7,778.1 514.2,775.3 514.7,779.4 515.2,774.2 515.7,773.6 516.2,777.4 516.7,774.0 517.2,775.0 517.8,768.6 518.3,778.4 518.8,775.5 519.3,775.0 519.8,777.0 520.3,776.0 520.8,772.8 521.3,782.1 521.8,773.6 522.3,778.5 522.8,781.4 523.3,772.9 523.8,775.4 524.3,772.2 524.8,778.6 525.3,773.9 525.8,771.2 526.3,779.5 526.8,778.2 527.3,772.0 527.8,779.1 528.3,775.7 528.8,784.4 529.4,780.9 529.9,773.2 530.4,774.2 530.9,772.1 531.4,775.6 531.9,775.3 532.4,777.7 532.9,775.5 533.4,770.1 533.9,772.4 534.4,780.1 534.9,779.2 535.4,774.7 535.9,774.8 536.4,774.7 536.9,775.4 537.4,769.6 537.9,778.5 538.4,773.2 538.9,775.9 539.4,766.8 539.9,776.3 540.4,780.1 540.9,767.9 541.5,780.8 542.0,777.2 542.5,773.1 543.0,770.2 543.5,779.7 544.0,776.6 544.5,777.8 545.0,774.8 545.5,773.0 546.0,778.8 546.5,772.5 547.0,779.0 547.5,770.1 548.0,772.7 548.5,770.9 549.0,780.5 549.5,770.0 550.0,772.1 550.5,778.3 551.0,776.8 551.5,783.6 552.0,782.4 552.5,778.3 553.0,778.5 553.6,769.9 554.1,773.2 554.6,775.1 555.1,775.7 555.6,771.6 556.1,773.1 556.6,773.4 557.1,780.0 557.6,777.9 558.1,775.3 558.6,775.5 559.1,777.5 559.6,774.1 560.1,775.6 560.6,770.6 561.1,778.9 561.6,779.9 562.1,777.9 562.6,778.3 563.1,777.9 563.6,783.7 564.1,777.4 564.6,772.2 565.2,773.2 565.7,779.3 566.2,780.5 566.7,779.5 567.2,779.8 567.7,777.5 568.2,771.8 568.7,774.5 569.2,770.7 569.7,775.7 570.2,772.3 570.7,777.4 571.2,776.5 571.7,770.4 572.2,779.7 572.7,779.8 573.2,772.4 573.7,777.7 574.2,779.7 574.7,776.2 575.2,780.2 575.7,777.9 576.2,781.0 576.7,778.0 577.3,776.8 577.8,779.2 578.3,780.1 578.8,778.3 579.3,775.9 579.8,774.7 580.3,776.2 580.8,775.5 581.3,778.3 581.8,778.2 582.3,777.3 582.8,777.6" fill="none" stroke="#1e1e1e" stroke-width="1.3" stroke-linejoin="bevel"/>
<polyline points="499.6,802.6 500.1,807.4 500.6,806.1 501.1,800.0 501.6,803.4 502.1,800.8 502.6,801.6 503.1,800.3 503.6,795.9 504.1,790.6 504.6,784.3 505.1,791.2 505.7,792.6 506.2,783.6 506.7,786.8 507.2,782.2 507.7,783.2 508.2,778.2 508.7,779.1 509.2,778.6 509.7,769.8 510.2,778.0 510.7,776.1 511.2,767.3 511.7,777.6 512.2,774.7 512.7,775.1 513.2,775.2 513.7,772.1 514.2,769.5 514.7,771.4 515.2,771.2 515.7,780.2 516.2,778.7 516.7,770.4 517.2,770.5 517.8,772.9 518.3,773.6 518.8,769.1 519.3,767.9 519.8,778.0 520.3,774.9 520.8,765.8 521.3,765.0 521.8,768.2 522.3,771.8 522.8,772.9 523.3,769.8 523.8,765.3 524.3,771.7 524.8,773.0 525.3,770.9 525.8,769.2 526.3,772.9 526.8,770.7 527.3,767.0 527.8,771.2 528.3,766.4 528.8,774.3 529.4,772.6 529.9,767.5 530.4,771.7 530.9,775.4 531.4,763.5 531.9,770.6 532.4,776.8 532.9,765.6 533.4,770.5 533.9,766.1 534.4,770.9 534.9,762.8 535.4,765.5 535.9,769.3 536.4,771.7 536.9,772.6 537.4,772.8 537.9,775.4 538.4,773.8 538.9,774.0 539.4,768.0 539.9,770.9 540.4,782.7 540.9,779.5 541.5,774.5 542.0,774.2 542.5,775.1 543.0,770.2 543.5,778.6 544.0,770.4 544.5,771.4 545.0,779.4 545.5,764.4 546.0,773.1 546.5,765.8 547.0,769.6 547.5,771.6 548.0,770.7 548.5,772.6 549.0,769.3 549.5,771.7 550.0,767.9 550.5,770.7 551.0,767.2 551.5,774.5 552.0,767.6 552.5,774.7 553.0,770.8 553.6,771.2 554.1,776.5 554.6,772.7 555.1,765.6 555.6,774.1 556.1,762.1 556.6,773.4 557.1,771.0 557.6,767.5 558.1,772.8 558.6,771.5 559.1,779.7 559.6,771.1 560.1,779.6 560.6,777.6 561.1,770.5 561.6,769.8 562.1,777.5 562.6,772.3 563.1,773.4 563.6,771.9 564.1,768.6 564.6,771.6 565.2,769.5 565.7,767.5 566.2,771.9 566.7,779.4 567.2,778.8 567.7,772.9 568.2,773.6 568.7,775.0 569.2,778.0 569.7,774.3 570.2,771.5 570.7,771.9 571.2,777.3 571.7,782.6 572.2,771.1 572.7,766.0 573.2,776.3 573.7,773.2 574.2,774.0 574.7,777.9 575.2,773.8 575.7,768.8 576.2,766.5 576.7,773.4 577.3,769.5 577.8,774.7 578.3,769.1 578.8,772.5 579.3,768.5 579.8,772.5 580.3,772.2 580.8,776.0 581.3,778.7 581.8,773.2 582.3,770.8 582.8,781.0" fill="none" stroke="#1e1e1e" stroke-width="1.3" stroke-linejoin="bevel"/>
<polyline points="616.2,923.0 616.7,923.0 617.3,927.0 617.8,924.9 618.3,923.3 618.8,923.7 619.4,916.0 619.9,917.2 620.4,919.6 621.0,920.5 621.5,920.2 622.0,921.6 622.5,920.2 623.1,918.0 623.6,912.3 624.1,924.1 624.7,922.9 625.2,915.9 625.7,922.5 626.2,922.0 626.8,920.4 627.3,911.3 627.8,914.3 628.4,917.2 628.9,927.8 629.4,916.0 629.9,918.4 630.5,914.8 631.0,917.7" fill="none" stroke="#1e1e1e" stroke-width="1.4" stroke-linejoin="bevel"/>
<polyline points="616.2,903.8 616.7,900.2 617.3,916.9 617.8,913.9 618.3,910.9 618.8,918.4 619.4,918.4 619.9,903.7 620.4,913.0 621.0,919.1 621.5,910.6 622.0,912.3 622.5,918.3 623.1,912.5 623.6,908.0 624.1,910.5 624.7,907.4 625.2,916.4 625.7,905.5 626.2,918.6 626.8,905.9 627.3,914.0 627.8,906.7 628.4,912.3 628.9,918.7 629.4,919.1 629.9,920.0 630.5,913.3 631.0,914.3" fill="none" stroke="#1e1e1e" stroke-width="1.4" stroke-linejoin="bevel"/>
<polyline points="616.2,926.9 616.7,922.0 617.3,929.2 617.8,925.5 618.3,929.5 618.8,926.3 619.4,927.2 619.9,920.5 620.4,922.0 621.0,917.8 621.5,922.5 622.0,923.1 622.5,928.0 623.1,917.9 623.6,939.5 624.1,923.4 624.7,930.0 625.2,929.0 625.7,911.9 626.2,922.7 626.8,931.0 627.3,912.3 627.8,927.7 628.4,919.6 628.9,921.7 629.4,925.0 629.9,915.0 630.5,924.9 631.0,920.9" fill="none" stroke="#1e1e1e" stroke-width="1.4" stroke-linejoin="bevel"/>
<polyline points="616.2,926.4 616.7,939.8 617.3,924.6 617.8,925.7 618.3,922.8 618.8,919.5 619.4,924.2 619.9,930.3 620.4,923.9 621.0,927.3 621.5,921.9 622.0,935.1 622.5,915.1 623.1,925.8 623.6,925.6 624.1,924.3 624.7,917.6 625.2,917.5 625.7,921.9 626.2,923.5 626.8,917.2 627.3,917.9 627.8,925.7 628.4,927.9 628.9,920.3 629.4,919.6 629.9,919.5 630.5,934.9 631.0,925.3" fill="none" stroke="#1e1e1e" stroke-width="1.4" stroke-linejoin="bevel"/>
<polyline points="616.2,925.8 616.7,932.0 617.3,926.6 617.8,914.1 618.3,920.6 618.8,919.0 619.4,919.3 619.9,915.1 620.4,919.1 621.0,915.8 621.5,922.6 622.0,921.2 622.5,914.2 623.1,912.8 623.6,918.7 624.1,924.1 624.7,923.3 625.2,920.6 625.7,905.1 626.2,918.6 626.8,917.4 627.3,919.4 627.8,915.1 628.4,918.9 628.9,917.8 629.4,934.0 629.9,924.4 630.5,920.0 631.0,920.7" fill="none" stroke="#1e1e1e" stroke-width="1.4" stroke-linejoin="bevel"/>
<polyline points="616.2,917.4 616.7,914.5 617.3,916.4 617.8,921.4 618.3,920.4 618.8,917.9 619.4,922.9 619.9,917.5 620.4,911.7 621.0,908.0 621.5,913.1 622.0,916.1 622.5,918.4 623.1,921.6 623.6,913.7 624.1,912.6 624.7,920.2 625.2,922.1 625.7,914.1 626.2,918.1 626.8,923.1 627.3,918.0 627.8,916.2 628.4,906.4 628.9,922.8 629.4,919.5 629.9,917.1 630.5,914.2 631.0,910.4" fill="none" stroke="#1e1e1e" stroke-width="1.4" stroke-linejoin="bevel"/>
<polyline points="616.2,919.2 616.7,925.0 617.3,913.9 617.8,926.7 618.3,919.9 618.8,925.5 619.4,915.1 619.9,921.4 620.4,925.6 621.0,920.3 621.5,912.7 622.0,918.2 622.5,922.3 623.1,913.0 623.6,912.8 624.1,920.9 624.7,915.2 625.2,923.0 625.7,914.1 626.2,910.9 626.8,916.0 627.3,926.9 627.8,915.6 628.4,919.7 628.9,920.9 629.4,915.2 629.9,925.0 630.5,920.6 631.0,921.9" fill="none" stroke="#1e1e1e" stroke-width="1.4" stroke-linejoin="bevel"/>
<polyline points="616.2,912.4 616.7,907.5 617.3,919.9 617.8,919.7 618.3,924.3 618.8,927.9 619.4,919.6 619.9,919.5 620.4,923.0 621.0,928.2 621.5,916.8 622.0,923.8 622.5,919.6 623.1,919.2 623.6,924.7 624.1,917.0 624.7,915.7 625.2,924.0 625.7,920.7 626.2,919.5 626.8,920.2 627.3,923.2 627.8,919.0 628.4,924.5 628.9,922.8 629.4,927.9 629.9,926.9 630.5,924.9 631.0,919.8" fill="none" stroke="#1e1e1e" stroke-width="1.4" stroke-linejoin="bevel"/>
<polyline points="616.2,912.1 616.7,928.6 617.3,913.9 617.8,917.6 618.3,921.5 618.8,908.4 619.4,911.0 619.9,913.0 620.4,910.2 621.0,908.9 621.5,912.5 622.0,921.2 622.5,918.4 623.1,915.1 623.6,915.1 624.1,907.0 624.7,918.3 625.2,917.0 625.7,909.8 626.2,915.9 626.8,914.0 627.3,912.5 627.8,910.2 628.4,911.7 628.9,910.4 629.4,917.2 629.9,916.7 630.5,916.5 631.0,914.1" fill="none" stroke="#1e1e1e" stroke-width="1.4" stroke-linejoin="bevel"/>
<polyline points="616.2,924.2 616.7,905.4 617.3,920.1 617.8,916.0 618.3,914.7 618.8,911.9 619.4,913.3 619.9,908.7 620.4,907.7 621.0,913.8 621.5,906.4 622.0,918.4 622.5,919.7 623.1,897.8 623.6,906.9 624.1,915.7 624.7,915.4 625.2,914.9 625.7,916.4 626.2,917.9 626.8,918.5 627.3,923.0 627.8,914.5 628.4,918.5 628.9,906.6 629.4,913.7 629.9,908.5 630.5,921.1 631.0,925.6" fill="none" stroke="#1e1e1e" stroke-width="1.4" stroke-linejoin="bevel"/>
<polyline points="616.2,909.3 616.7,915.0 617.3,915.7 617.8,916.5 618.3,920.8 618.8,920.2 619.4,902.9 619.9,922.1 620.4,913.2 621.0,912.9 621.5,922.4 622.0,914.3 622.5,909.0 623.1,909.2 623.6,915.9 624.1,919.9 624.7,922.8 625.2,914.8 625.7,913.3 626.2,923.4 626.8,913.4 627.3,922.6 627.8,916.7 628.4,916.7 628.9,914.5 629.4,917.0 629.9,913.4 630.5,912.3 631.0,914.9" fill="none" stroke="#1e1e1e" stroke-width="1.4" stroke-linejoin="bevel"/>
<polyline points="616.2,915.6 616.7,914.5 617.3,912.9 617.8,913.2 618.3,913.0 618.8,922.5 619.4,914.1 619.9,911.3 620.4,912.7 621.0,917.3 621.5,913.2 622.0,913.4 622.5,912.9 623.1,914.9 623.6,916.0 624.1,916.3 624.7,906.3 625.2,909.0 625.7,901.5 626.2,918.0 626.8,919.5 627.3,920.4 627.8,914.8 628.4,919.6 628.9,914.0 629.4,913.6 629.9,906.7 630.5,910.4 631.0,911.3" fill="none" stroke="#1e1e1e" stroke-width="1.4" stroke-linejoin="bevel"/>
<polyline points="632.0,913.8 632.5,916.9 633.0,907.9 633.5,911.5 634.0,911.1 634.5,906.7 635.0,902.7 635.5,906.7 636.0,903.9 636.5,908.6 637.0,909.3 637.5,909.1 638.0,909.2 638.6,911.9 639.1,906.0 639.6,913.6 640.1,902.9 640.6,910.2 641.1,911.5 641.6,906.6 642.1,903.2 642.6,912.6 643.1,907.1 643.6,913.2 644.1,913.1 644.6,909.9 645.1,909.9 645.6,914.0 646.1,911.5 646.6,906.0 647.1,910.6 647.6,912.2 648.1,910.7 648.6,910.7 649.1,909.3 649.6,909.4 650.1,906.2 650.6,904.9 651.2,916.2 651.7,909.3 652.2,913.3 652.7,906.5 653.2,913.7 653.7,909.8 654.2,925.9 654.7,909.3 655.2,909.7 655.7,917.7 656.2,918.6 656.7,905.1 657.2,914.9 657.7,917.6 658.2,908.8 658.7,916.7 659.2,911.6 659.7,909.6 660.2,912.3 660.7,911.8 661.2,907.8 661.7,922.9 662.2,911.6 662.7,910.3 663.2,917.0 663.7,913.0 664.3,918.8 664.8,912.1 665.3,914.6 665.8,913.4 666.3,913.7 666.8,912.1 667.3,912.4 667.8,919.8 668.3,909.9 668.8,910.4 669.3,911.2 669.8,914.9 670.3,914.2 670.8,916.3 671.3,906.8 671.8,913.4 672.3,911.5 672.8,911.0 673.3,912.9 673.8,903.9 674.3,913.2 674.8,912.6 675.3,906.0 675.8,911.5 676.3,918.3 676.9,910.2 677.4,914.3 677.9,910.8 678.4,908.3 678.9,907.8 679.4,910.0 679.9,917.0 680.4,914.9 680.9,908.6 681.4,915.6 681.9,910.9 682.4,908.5 682.9,913.2 683.4,907.5 683.9,904.8 684.4,916.7 684.9,903.6 685.4,913.5 685.9,904.8 686.4,911.0 686.9,910.3 687.4,909.3 687.9,902.0 688.4,910.6 688.9,910.9 689.5,907.3 690.0,910.7 690.5,915.1 691.0,907.9 691.5,912.0 692.0,906.1 692.5,912.4 693.0,913.5 693.5,921.1 694.0,914.5 694.5,912.6 695.0,916.6 695.5,906.6 696.0,915.2 696.5,908.4 697.0,908.1 697.5,915.2 698.0,911.6 698.5,916.1 699.0,904.6 699.5,911.7 700.0,908.4 700.5,909.5 701.0,902.7 701.5,914.4 702.0,911.4 702.6,906.4 703.1,904.9 703.6,906.9 704.1,916.3 704.6,910.1 705.1,909.1 705.6,912.5 706.1,910.5 706.6,911.4 707.1,913.5 707.6,911.8 708.1,914.0 708.6,905.5 709.1,910.6 709.6,908.9 710.1,910.8 710.6,910.2 711.1,907.7 711.6,908.9 712.1,914.3 712.6,908.1 713.1,905.2 713.6,912.8 714.1,914.3 714.6,909.2 715.2,910.8 715.7,906.8 716.2,909.5 716.7,914.9 717.2,913.6 717.7,910.9 718.2,909.1 718.7,903.6 719.2,911.6 719.7,912.1 720.2,914.6 720.7,918.5 721.2,911.8" fill="none" stroke="#aaa" stroke-width="1.3" stroke-linejoin="bevel"/>
<polyline points="632.0,916.9 632.5,908.4 633.0,917.9 633.5,916.6 634.0,918.6 634.5,915.8 635.0,914.9 635.5,919.1 636.0,910.3 636.5,915.7 637.0,917.5 637.5,909.8 638.0,908.3 638.6,914.8 639.1,913.5 639.6,915.5 640.1,915.7 640.6,909.9 641.1,914.4 641.6,917.7 642.1,911.6 642.6,911.9 643.1,908.4 643.6,916.4 644.1,921.0 644.6,907.4 645.1,916.2 645.6,916.7 646.1,910.8 646.6,911.5 647.1,908.8 647.6,909.8 648.1,913.7 648.6,915.7 649.1,913.5 649.6,916.6 650.1,914.5 650.6,910.7 651.2,922.9 651.7,923.1 652.2,916.4 652.7,927.5 653.2,922.9 653.7,922.1 654.2,929.8 654.7,912.1 655.2,916.0 655.7,925.7 656.2,921.9 656.7,919.2 657.2,929.3 657.7,925.1 658.2,917.8 658.7,920.3 659.2,926.4 659.7,930.1 660.2,914.5 660.7,923.6 661.2,920.9 661.7,915.2 662.2,921.5 662.7,915.5 663.2,919.7 663.7,928.3 664.3,923.7 664.8,924.6 665.3,923.7 665.8,922.5 666.3,924.9 666.8,916.0 667.3,919.1 667.8,923.9 668.3,917.3 668.8,918.3 669.3,924.9 669.8,926.1 670.3,917.2 670.8,916.2 671.3,921.8 671.8,920.4 672.3,916.4 672.8,921.5 673.3,921.2 673.8,919.1 674.3,930.7 674.8,924.1 675.3,921.7 675.8,922.5 676.3,930.3 676.9,922.6 677.4,915.0 677.9,919.2 678.4,918.0 678.9,915.3 679.4,918.6 679.9,918.5 680.4,917.1 680.9,915.3 681.4,920.6 681.9,910.5 682.4,920.4 682.9,916.9 683.4,917.9 683.9,907.0 684.4,923.5 684.9,909.5 685.4,912.9 685.9,919.1 686.4,913.9 686.9,914.6 687.4,907.0 687.9,914.3 688.4,916.9 688.9,918.8 689.5,914.8 690.0,916.8 690.5,917.6 691.0,913.0 691.5,912.6 692.0,923.7 692.5,912.1 693.0,920.6 693.5,915.8 694.0,921.5 694.5,912.8 695.0,917.5 695.5,916.6 696.0,914.3 696.5,916.5 697.0,912.0 697.5,914.8 698.0,913.4 698.5,918.2 699.0,914.6 699.5,909.2 700.0,913.4 700.5,914.5 701.0,911.1 701.5,920.3 702.0,916.4 702.6,918.2 703.1,911.5 703.6,913.0 704.1,918.8 704.6,908.7 705.1,916.1 705.6,914.9 706.1,912.4 706.6,914.8 707.1,910.0 707.6,915.3 708.1,909.4 708.6,909.1 709.1,920.1 709.6,911.4 710.1,905.6 710.6,918.3 711.1,911.0 711.6,899.7 712.1,913.9 712.6,918.0 713.1,915.6 713.6,921.2 714.1,913.6 714.6,916.5 715.2,909.9 715.7,914.7 716.2,920.3 716.7,916.1 717.2,914.6 717.7,905.8 718.2,912.4 718.7,908.6 719.2,917.1 719.7,910.8 720.2,915.4 720.7,909.7 721.2,921.6" fill="none" stroke="#aaa" stroke-width="1.3" stroke-linejoin="bevel"/>
<polyline points="632.0,910.4 632.5,915.8 633.0,926.1 633.5,916.1 634.0,911.6 634.5,917.7 635.0,919.3 635.5,918.8 636.0,907.1 636.5,916.1 637.0,906.4 637.5,923.0 638.0,915.5 638.6,913.3 639.1,918.0 639.6,917.2 640.1,910.3 640.6,921.9 641.1,914.2 641.6,907.9 642.1,921.0 642.6,921.6 643.1,920.4 643.6,917.5 644.1,911.5 644.6,919.1 645.1,922.9 645.6,918.6 646.1,921.8 646.6,912.0 647.1,919.4 647.6,919.1 648.1,909.0 648.6,908.5 649.1,912.2 649.6,915.6 650.1,918.0 650.6,918.1 651.2,921.2 651.7,923.1 652.2,925.6 652.7,929.1 653.2,929.9 653.7,928.5 654.2,930.5 654.7,928.2 655.2,933.8 655.7,928.7 656.2,937.8 656.7,931.0 657.2,932.4 657.7,928.1 658.2,929.7 658.7,931.8 659.2,931.0 659.7,928.2 660.2,925.8 660.7,930.6 661.2,930.9 661.7,932.3 662.2,934.9 662.7,928.2 663.2,920.9 663.7,928.4 664.3,921.0 664.8,923.1 665.3,932.5 665.8,930.3 666.3,925.0 666.8,924.8 667.3,926.8 667.8,919.6 668.3,928.7 668.8,925.0 669.3,933.9 669.8,921.5 670.3,929.9 670.8,922.7 671.3,929.5 671.8,921.0 672.3,927.9 672.8,922.8 673.3,921.0 673.8,923.6 674.3,926.0 674.8,925.5 675.3,930.2 675.8,926.9 676.3,912.2 676.9,921.4 677.4,914.6 677.9,921.1 678.4,925.2 678.9,916.8 679.4,917.3 679.9,922.7 680.4,920.7 680.9,928.4 681.4,923.0 681.9,923.7 682.4,928.7 682.9,919.1 683.4,921.1 683.9,916.8 684.4,921.9 684.9,925.0 685.4,926.3 685.9,920.3 686.4,917.3 686.9,917.0 687.4,914.3 687.9,920.5 688.4,925.6 688.9,909.8 689.5,910.6 690.0,925.4 690.5,912.7 691.0,920.8 691.5,914.0 692.0,922.5 692.5,922.4 693.0,919.7 693.5,922.4 694.0,919.1 694.5,921.1 695.0,926.3 695.5,923.2 696.0,915.8 696.5,915.1 697.0,917.4 697.5,917.4 698.0,918.6 698.5,915.7 699.0,920.9 699.5,918.2 700.0,919.5 700.5,918.0 701.0,920.5 701.5,912.8 702.0,924.4 702.6,919.2 703.1,919.6 703.6,920.2 704.1,922.1 704.6,920.6 705.1,918.5 705.6,916.7 706.1,910.5 706.6,918.2 707.1,916.0 707.6,915.9 708.1,927.3 708.6,909.4 709.1,917.4 709.6,922.2 710.1,921.1 710.6,922.2 711.1,911.6 711.6,912.9 712.1,919.5 712.6,915.6 713.1,924.0 713.6,917.8 714.1,917.6 714.6,918.6 715.2,915.6 715.7,917.2 716.2,913.8 716.7,916.5 717.2,914.6 717.7,917.6 718.2,910.6 718.7,910.3 719.2,918.4 719.7,917.4 720.2,912.4 720.7,915.5 721.2,912.0" fill="none" stroke="#aaa" stroke-width="1.3" stroke-linejoin="bevel"/>
<polyline points="632.0,926.9 632.5,911.8 633.0,925.5 633.5,914.9 634.0,920.1 634.5,917.3 635.0,916.8 635.5,922.3 636.0,921.8 636.5,917.1 637.0,914.5 637.5,927.1 638.0,924.3 638.6,919.0 639.1,917.1 639.6,919.6 640.1,918.7 640.6,923.4 641.1,914.3 641.6,918.5 642.1,915.1 642.6,923.9 643.1,925.9 643.6,918.0 644.1,920.6 644.6,924.3 645.1,917.1 645.6,914.5 646.1,922.7 646.6,920.5 647.1,917.5 647.6,924.5 648.1,919.4 648.6,910.9 649.1,919.8 649.6,918.1 650.1,926.6 650.6,919.8 651.2,919.9 651.7,923.3 652.2,923.2 652.7,916.8 653.2,923.6 653.7,922.1 654.2,929.6 654.7,934.0 655.2,919.4 655.7,920.2 656.2,920.8 656.7,921.6 657.2,921.5 657.7,924.6 658.2,928.9 658.7,918.9 659.2,917.8 659.7,916.5 660.2,928.8 660.7,929.7 661.2,917.6 661.7,917.1 662.2,924.4 662.7,928.3 663.2,927.9 663.7,924.4 664.3,926.3 664.8,924.7 665.3,920.9 665.8,931.2 666.3,923.1 666.8,918.3 667.3,920.9 667.8,916.3 668.3,922.8 668.8,927.2 669.3,917.2 669.8,927.2 670.3,931.1 670.8,923.8 671.3,917.3 671.8,918.5 672.3,920.6 672.8,916.5 673.3,916.6 673.8,920.7 674.3,920.9 674.8,924.2 675.3,916.5 675.8,929.3 676.3,925.9 676.9,925.1 677.4,918.5 677.9,928.5 678.4,919.7 678.9,928.7 679.4,925.5 679.9,917.2 680.4,919.0 680.9,928.7 681.4,925.0 681.9,920.1 682.4,921.5 682.9,921.5 683.4,917.3 683.9,919.7 684.4,917.7 684.9,918.6 685.4,922.4 685.9,916.3 686.4,923.4 686.9,920.7 687.4,923.4 687.9,923.9 688.4,925.4 688.9,922.7 689.5,923.0 690.0,919.3 690.5,922.4 691.0,916.2 691.5,918.9 692.0,923.0 692.5,919.6 693.0,921.7 693.5,915.3 694.0,925.5 694.5,917.3 695.0,921.4 695.5,919.6 696.0,923.6 696.5,918.0 697.0,915.4 697.5,911.6 698.0,918.2 698.5,914.5 699.0,921.7 699.5,925.5 700.0,910.1 700.5,914.0 701.0,920.7 701.5,924.6 702.0,920.6 702.6,920.7 703.1,921.4 703.6,921.7 704.1,926.2 704.6,921.8 705.1,914.0 705.6,917.2 706.1,920.1 706.6,915.7 707.1,918.0 707.6,916.9 708.1,916.2 708.6,922.0 709.1,917.4 709.6,914.5 710.1,916.0 710.6,919.2 711.1,927.9 711.6,920.1 712.1,925.3 712.6,921.1 713.1,909.9 713.6,920.5 714.1,915.3 714.6,913.2 715.2,914.4 715.7,926.5 716.2,912.2 716.7,916.3 717.2,923.8 717.7,921.7 718.2,911.6 718.7,918.4 719.2,916.6 719.7,918.0 720.2,922.0 720.7,916.4 721.2,917.4" fill="none" stroke="#aaa" stroke-width="1.3" stroke-linejoin="bevel"/>
<polyline points="632.0,926.6 632.5,912.6 633.0,918.8 633.5,922.4 634.0,915.1 634.5,917.7 635.0,914.8 635.5,921.0 636.0,917.8 636.5,923.7 637.0,924.7 637.5,920.6 638.0,918.8 638.6,921.5 639.1,920.6 639.6,915.2 640.1,924.9 640.6,921.3 641.1,923.7 641.6,914.6 642.1,924.1 642.6,929.3 643.1,923.0 643.6,914.2 644.1,920.5 644.6,920.1 645.1,921.3 645.6,919.4 646.1,922.5 646.6,918.4 647.1,921.3 647.6,917.5 648.1,920.8 648.6,924.6 649.1,918.3 649.6,923.2 650.1,917.3 650.6,921.7 651.2,924.1 651.7,931.9 652.2,924.7 652.7,934.1 653.2,923.6 653.7,929.8 654.2,934.9 654.7,934.4 655.2,927.5 655.7,926.9 656.2,935.9 656.7,927.0 657.2,934.8 657.7,930.1 658.2,932.3 658.7,942.1 659.2,938.7 659.7,935.6 660.2,926.1 660.7,933.1 661.2,931.8 661.7,931.0 662.2,936.9 662.7,923.8 663.2,932.2 663.7,931.2 664.3,927.3 664.8,937.6 665.3,924.7 665.8,930.0 666.3,930.0 666.8,920.2 667.3,923.2 667.8,925.0 668.3,932.3 668.8,932.8 669.3,931.1 669.8,929.4 670.3,918.9 670.8,929.0 671.3,925.7 671.8,932.7 672.3,933.3 672.8,936.9 673.3,930.2 673.8,930.5 674.3,922.5 674.8,927.1 675.3,921.4 675.8,930.3 676.3,921.3 676.9,925.3 677.4,922.6 677.9,923.9 678.4,927.8 678.9,923.3 679.4,926.5 679.9,921.2 680.4,931.3 680.9,922.5 681.4,929.4 681.9,934.1 682.4,914.5 682.9,920.6 683.4,923.8 683.9,929.6 684.4,922.4 684.9,926.0 685.4,921.2 685.9,926.6 686.4,918.9 686.9,927.6 687.4,911.2 687.9,915.8 688.4,931.5 688.9,924.4 689.5,919.8 690.0,933.0 690.5,928.0 691.0,928.2 691.5,921.5 692.0,925.9 692.5,925.4 693.0,916.0 693.5,925.6 694.0,922.2 694.5,928.4 695.0,928.5 695.5,920.1 696.0,920.2 696.5,923.5 697.0,925.5 697.5,920.8 698.0,922.1 698.5,925.1 699.0,924.3 699.5,927.4 700.0,923.4 700.5,918.5 701.0,914.7 701.5,925.7 702.0,920.7 702.6,920.6 703.1,920.8 703.6,915.3 704.1,920.3 704.6,910.8 705.1,920.2 705.6,918.0 706.1,929.7 706.6,923.7 707.1,920.9 707.6,922.4 708.1,924.8 708.6,918.4 709.1,920.7 709.6,920.1 710.1,932.3 710.6,921.9 711.1,913.1 711.6,924.9 712.1,932.6 712.6,917.3 713.1,936.4 713.6,921.1 714.1,925.7 714.6,918.9 715.2,920.1 715.7,916.0 716.2,916.7 716.7,912.0 717.2,926.1 717.7,916.2 718.2,922.8 718.7,922.6 719.2,918.3 719.7,921.3 720.2,920.7 720.7,918.9 721.2,921.3" fill="none" stroke="#aaa" stroke-width="1.3" stroke-linejoin="bevel"/>
<polyline points="632.0,912.5 632.5,907.9 633.0,906.7 633.5,908.6 634.0,912.8 634.5,918.2 635.0,918.6 635.5,913.6 636.0,916.4 636.5,912.8 637.0,917.0 637.5,912.8 638.0,914.0 638.6,911.0 639.1,912.2 639.6,920.5 640.1,907.1 640.6,912.3 641.1,909.7 641.6,916.4 642.1,920.1 642.6,910.9 643.1,900.2 643.6,914.9 644.1,914.9 644.6,904.9 645.1,911.2 645.6,911.9 646.1,902.2 646.6,915.2 647.1,914.1 647.6,913.3 648.1,907.6 648.6,909.1 649.1,909.5 649.6,914.3 650.1,908.4 650.6,920.5 651.2,917.0 651.7,906.9 652.2,924.6 652.7,918.6 653.2,916.1 653.7,919.4 654.2,911.4 654.7,920.5 655.2,909.1 655.7,915.5 656.2,926.0 656.7,925.7 657.2,918.7 657.7,916.0 658.2,924.3 658.7,919.9 659.2,921.0 659.7,922.7 660.2,915.2 660.7,923.3 661.2,910.5 661.7,926.0 662.2,912.6 662.7,916.6 663.2,916.3 663.7,922.3 664.3,922.2 664.8,920.4 665.3,921.1 665.8,920.6 666.3,918.1 666.8,909.9 667.3,908.1 667.8,908.0 668.3,917.7 668.8,916.8 669.3,917.0 669.8,918.5 670.3,916.4 670.8,912.9 671.3,910.6 671.8,908.8 672.3,922.3 672.8,920.8 673.3,910.8 673.8,915.4 674.3,918.5 674.8,923.4 675.3,913.7 675.8,917.0 676.3,921.2 676.9,908.5 677.4,912.8 677.9,915.7 678.4,912.6 678.9,925.0 679.4,919.4 679.9,916.4 680.4,911.3 680.9,919.2 681.4,918.1 681.9,913.0 682.4,913.3 682.9,908.7 683.4,914.7 683.9,918.8 684.4,919.3 684.9,917.4 685.4,918.4 685.9,912.1 686.4,912.6 686.9,919.9 687.4,916.5 687.9,911.0 688.4,916.6 688.9,918.0 689.5,917.4 690.0,914.8 690.5,912.0 691.0,915.9 691.5,921.6 692.0,914.7 692.5,911.1 693.0,915.5 693.5,908.6 694.0,914.9 694.5,912.6 695.0,918.0 695.5,914.2 696.0,918.4 696.5,923.8 697.0,912.7 697.5,910.0 698.0,915.6 698.5,913.2 699.0,914.2 699.5,910.9 700.0,915.9 700.5,913.7 701.0,904.0 701.5,912.3 702.0,914.8 702.6,918.5 703.1,910.8 703.6,909.8 704.1,918.3 704.6,910.5 705.1,913.6 705.6,915.2 706.1,916.4 706.6,913.1 707.1,908.2 707.6,917.5 708.1,911.1 708.6,910.7 709.1,921.8 709.6,916.8 710.1,908.3 710.6,910.8 711.1,911.8 711.6,909.6 712.1,904.5 712.6,916.4 713.1,916.2 713.6,913.9 714.1,911.1 714.6,913.7 715.2,915.6 715.7,908.2 716.2,911.3 716.7,910.3 717.2,915.7 717.7,913.8 718.2,907.0 718.7,910.0 719.2,920.4 719.7,908.4 720.2,913.3 720.7,909.9 721.2,918.0" fill="none" stroke="#aaa" stroke-width="1.3" stroke-linejoin="bevel"/>
<polyline points="634.0,915.8 634.5,914.2 635.0,911.0 635.5,915.0 636.0,919.7 636.5,919.0 637.0,910.3 637.5,922.9 638.0,915.0 638.5,911.5 639.0,916.6 639.5,913.4 640.0,913.5 640.6,913.3 641.1,915.7 641.6,913.9 642.1,908.6 642.6,918.3 643.1,913.8 643.6,921.3 644.1,918.4 644.6,918.7 645.1,916.8 645.6,921.7 646.1,914.6 646.6,911.7 647.1,919.1 647.6,912.4 648.1,928.0 648.6,935.0 649.1,935.9 649.6,946.0 650.1,945.9 650.6,945.2 651.1,944.3 651.6,951.8 652.1,944.8 652.6,946.4 653.2,951.7 653.7,951.1 654.2,957.3 654.7,947.3 655.2,939.8 655.7,950.4 656.2,952.6 656.7,945.9 657.2,952.9 657.7,953.3 658.2,942.1 658.7,942.3 659.2,938.4 659.7,945.5 660.2,945.7 660.7,944.6 661.2,936.0 661.7,937.4 662.2,933.9 662.7,932.5 663.2,933.1 663.7,931.5 664.2,937.0 664.7,939.1 665.3,939.5 665.8,936.1 666.3,932.8 666.8,935.2 667.3,937.2 667.8,933.0 668.3,934.1 668.8,932.1 669.3,930.7 669.8,932.7 670.3,927.3 670.8,936.3 671.3,924.6 671.8,933.0 672.3,924.7 672.8,936.8 673.3,933.7 673.8,926.1 674.3,927.4 674.8,924.1 675.3,928.5 675.8,930.2 676.3,939.2 676.8,922.0 677.3,933.0 677.9,924.8 678.4,928.3 678.9,930.7 679.4,929.0 679.9,928.2 680.4,925.3 680.9,926.0 681.4,926.4 681.9,930.8 682.4,919.1 682.9,923.1 683.4,919.6 683.9,920.7 684.4,921.2 684.9,929.3 685.4,933.6 685.9,930.1 686.4,919.0 686.9,924.3 687.4,918.9 687.9,925.6 688.4,929.0 688.9,925.9 689.4,927.0 689.9,922.5 690.5,914.5 691.0,914.4 691.5,922.4 692.0,925.2 692.5,928.1 693.0,921.0 693.5,922.7 694.0,923.4 694.5,926.8 695.0,921.8 695.5,917.3 696.0,926.6 696.5,923.7 697.0,923.5 697.5,916.3 698.0,921.6 698.5,914.2 699.0,912.9 699.5,920.4 700.0,919.5 700.5,923.8 701.0,927.5 701.5,921.1 702.0,928.9 702.6,918.6 703.1,924.3 703.6,915.5 704.1,921.5 704.6,919.5 705.1,920.0 705.6,923.3 706.1,912.6 706.6,921.2 707.1,917.2 707.6,921.1 708.1,922.3 708.6,918.9 709.1,918.9 709.6,915.5 710.1,922.8 710.6,917.5 711.1,922.3 711.6,914.2 712.1,926.2 712.6,915.9 713.1,925.2 713.6,918.3 714.1,922.5 714.6,919.5 715.2,923.1 715.7,920.1 716.2,925.5 716.7,922.9 717.2,923.0 717.7,927.2 718.2,917.0 718.7,925.6 719.2,920.2 719.7,913.5 720.2,921.9 720.7,919.0 721.2,927.1" fill="none" stroke="#1e1e1e" stroke-width="1.3" stroke-linejoin="bevel"/>
<polyline points="634.0,920.9 634.5,923.2 635.0,924.0 635.5,914.8 636.0,925.2 636.5,918.7 637.0,929.1 637.5,930.2 638.0,923.0 638.5,916.2 639.0,923.8 639.5,923.8 640.0,926.1 640.6,921.7 641.1,917.9 641.6,922.4 642.1,919.0 642.6,930.6 643.1,920.0 643.6,920.2 644.1,922.8 644.6,917.7 645.1,921.1 645.6,922.4 646.1,920.9 646.6,921.9 647.1,930.1 647.6,933.9 648.1,932.4 648.6,941.3 649.1,950.5 649.6,947.8 650.1,953.6 650.6,955.2 651.1,959.2 651.6,957.4 652.1,958.4 652.6,955.9 653.2,961.5 653.7,956.2 654.2,967.6 654.7,959.9 655.2,958.8 655.7,962.8 656.2,958.6 656.7,958.9 657.2,957.7 657.7,954.3 658.2,952.8 658.7,953.2 659.2,960.4 659.7,952.2 660.2,952.5 660.7,951.6 661.2,955.9 661.7,960.8 662.2,947.6 662.7,953.3 663.2,950.8 663.7,948.4 664.2,951.3 664.7,943.0 665.3,951.5 665.8,948.3 666.3,942.5 666.8,953.1 667.3,949.3 667.8,950.2 668.3,938.4 668.8,943.0 669.3,941.4 669.8,945.9 670.3,948.6 670.8,934.1 671.3,942.0 671.8,940.9 672.3,945.3 672.8,940.5 673.3,934.8 673.8,939.0 674.3,935.1 674.8,935.8 675.3,939.0 675.8,936.4 676.3,939.3 676.8,931.3 677.3,947.5 677.9,942.6 678.4,940.0 678.9,931.1 679.4,927.1 679.9,932.4 680.4,934.9 680.9,945.2 681.4,941.0 681.9,932.9 682.4,940.1 682.9,939.9 683.4,934.5 683.9,939.5 684.4,935.5 684.9,931.0 685.4,928.6 685.9,933.0 686.4,937.6 686.9,927.3 687.4,926.0 687.9,935.1 688.4,921.0 688.9,940.3 689.4,930.4 689.9,935.3 690.5,940.0 691.0,925.7 691.5,927.2 692.0,941.3 692.5,930.3 693.0,930.8 693.5,932.2 694.0,935.7 694.5,936.7 695.0,931.4 695.5,929.4 696.0,930.5 696.5,931.9 697.0,936.1 697.5,931.0 698.0,938.1 698.5,926.5 699.0,932.4 699.5,937.6 700.0,935.5 700.5,931.3 701.0,926.0 701.5,926.7 702.0,929.0 702.6,930.9 703.1,928.4 703.6,923.2 704.1,926.2 704.6,931.5 705.1,932.8 705.6,923.2 706.1,927.6 706.6,921.9 707.1,926.6 707.6,944.2 708.1,929.2 708.6,927.4 709.1,926.3 709.6,923.6 710.1,920.7 710.6,928.5 711.1,927.4 711.6,934.9 712.1,921.5 712.6,930.4 713.1,934.2 713.6,920.0 714.1,931.2 714.6,921.4 715.2,930.5 715.7,934.6 716.2,928.2 716.7,929.4 717.2,925.2 717.7,929.4 718.2,932.9 718.7,927.3 719.2,927.4 719.7,929.7 720.2,931.5 720.7,920.9 721.2,928.2" fill="none" stroke="#1e1e1e" stroke-width="1.3" stroke-linejoin="bevel"/>
<polyline points="634.0,917.1 634.5,922.1 635.0,924.5 635.5,921.3 636.0,925.5 636.5,915.7 637.0,918.2 637.5,915.8 638.0,920.3 638.5,920.4 639.0,919.2 639.5,914.8 640.0,919.7 640.6,918.1 641.1,922.6 641.6,918.8 642.1,925.0 642.6,921.0 643.1,912.0 643.6,919.3 644.1,913.9 644.6,924.2 645.1,926.2 645.6,919.9 646.1,921.9 646.6,913.8 647.1,912.3 647.6,927.8 648.1,935.8 648.6,935.9 649.1,947.3 649.6,951.8 650.1,956.0 650.6,962.1 651.1,960.5 651.6,956.7 652.1,959.5 652.6,962.2 653.2,955.3 653.7,965.5 654.2,963.6 654.7,958.4 655.2,956.2 655.7,974.8 656.2,961.5 656.7,961.2 657.2,964.2 657.7,960.0 658.2,955.9 658.7,957.2 659.2,949.5 659.7,955.7 660.2,945.2 660.7,952.8 661.2,952.6 661.7,942.7 662.2,956.9 662.7,942.9 663.2,951.6 663.7,944.1 664.2,947.0 664.7,942.2 665.3,955.0 665.8,948.1 666.3,950.8 666.8,945.7 667.3,944.7 667.8,941.8 668.3,939.6 668.8,942.6 669.3,940.2 669.8,938.3 670.3,932.5 670.8,936.6 671.3,940.1 671.8,935.0 672.3,938.0 672.8,935.5 673.3,931.2 673.8,931.4 674.3,931.7 674.8,933.2 675.3,933.0 675.8,938.6 676.3,928.7 676.8,924.3 677.3,935.7 677.9,930.5 678.4,931.6 678.9,942.8 679.4,937.8 679.9,933.8 680.4,935.0 680.9,931.2 681.4,934.6 681.9,927.6 682.4,926.9 682.9,927.7 683.4,936.3 683.9,936.0 684.4,926.5 684.9,933.9 685.4,928.0 685.9,933.1 686.4,927.0 686.9,932.3 687.4,927.5 687.9,926.6 688.4,927.6 688.9,928.2 689.4,924.8 689.9,921.3 690.5,934.4 691.0,925.2 691.5,919.0 692.0,916.9 692.5,914.5 693.0,923.8 693.5,932.2 694.0,919.1 694.5,924.7 695.0,918.0 695.5,930.6 696.0,927.3 696.5,927.1 697.0,931.4 697.5,932.6 698.0,929.9 698.5,922.8 699.0,919.5 699.5,920.7 700.0,917.5 700.5,932.8 701.0,924.1 701.5,925.4 702.0,925.6 702.6,933.4 703.1,922.2 703.6,929.7 704.1,925.9 704.6,923.8 705.1,916.1 705.6,928.3 706.1,921.1 706.6,922.3 707.1,925.2 707.6,924.6 708.1,929.0 708.6,921.2 709.1,924.7 709.6,925.2 710.1,924.1 710.6,926.8 711.1,922.8 711.6,929.0 712.1,920.7 712.6,917.5 713.1,923.5 713.6,928.8 714.1,921.4 714.6,920.9 715.2,922.1 715.7,924.3 716.2,922.8 716.7,924.8 717.2,916.0 717.7,929.9 718.2,925.9 718.7,919.7 719.2,929.3 719.7,925.3 720.2,929.7 720.7,918.2 721.2,930.4" fill="none" stroke="#1e1e1e" stroke-width="1.3" stroke-linejoin="bevel"/>
<polyline points="634.0,917.4 634.5,908.3 635.0,920.4 635.5,915.9 636.0,912.8 636.5,916.2 637.0,908.8 637.5,919.7 638.0,916.2 638.5,916.0 639.0,923.3 639.5,917.3 640.0,914.3 640.6,913.1 641.1,916.9 641.6,921.8 642.1,914.7 642.6,912.7 643.1,921.2 643.6,917.4 644.1,917.1 644.6,926.2 645.1,911.9 645.6,918.0 646.1,909.5 646.6,915.9 647.1,922.6 647.6,937.4 648.1,937.3 648.6,954.9 649.1,961.7 649.6,963.4 650.1,979.1 650.6,972.0 651.1,971.0 651.6,978.7 652.1,970.3 652.6,986.2 653.2,984.3 653.7,978.6 654.2,983.0 654.7,982.4 655.2,988.0 655.7,976.4 656.2,972.8 656.7,968.7 657.2,975.3 657.7,968.8 658.2,973.8 658.7,975.2 659.2,970.4 659.7,967.1 660.2,975.2 660.7,968.1 661.2,968.8 661.7,970.8 662.2,959.9 662.7,960.4 663.2,974.1 663.7,961.5 664.2,956.6 664.7,959.0 665.3,956.5 665.8,952.7 666.3,955.2 666.8,956.0 667.3,955.0 667.8,956.5 668.3,945.8 668.8,945.9 669.3,954.9 669.8,948.8 670.3,955.1 670.8,950.4 671.3,942.2 671.8,949.9 672.3,942.5 672.8,947.2 673.3,950.7 673.8,953.9 674.3,943.8 674.8,946.5 675.3,944.1 675.8,945.7 676.3,930.6 676.8,939.4 677.3,941.8 677.9,942.0 678.4,936.2 678.9,942.5 679.4,943.2 679.9,938.3 680.4,936.5 680.9,935.5 681.4,937.2 681.9,941.3 682.4,942.2 682.9,933.3 683.4,931.0 683.9,931.2 684.4,938.5 684.9,934.8 685.4,934.8 685.9,935.2 686.4,934.5 686.9,932.0 687.4,927.7 687.9,929.2 688.4,932.1 688.9,933.0 689.4,929.4 689.9,929.0 690.5,936.4 691.0,928.2 691.5,930.9 692.0,928.4 692.5,925.8 693.0,922.7 693.5,926.7 694.0,925.3 694.5,932.3 695.0,923.5 695.5,926.5 696.0,930.9 696.5,927.4 697.0,929.8 697.5,931.1 698.0,920.2 698.5,925.4 699.0,922.9 699.5,932.6 700.0,926.2 700.5,928.7 701.0,933.7 701.5,924.7 702.0,926.4 702.6,927.7 703.1,924.7 703.6,931.1 704.1,929.1 704.6,929.8 705.1,925.5 705.6,923.8 706.1,923.6 706.6,923.4 707.1,917.9 707.6,926.4 708.1,928.2 708.6,924.6 709.1,922.4 709.6,924.6 710.1,925.3 710.6,925.6 711.1,931.8 711.6,920.4 712.1,925.5 712.6,926.9 713.1,924.2 713.6,922.8 714.1,919.3 714.6,921.1 715.2,926.6 715.7,929.7 716.2,920.6 716.7,925.4 717.2,925.5 717.7,927.5 718.2,924.2 718.7,925.0 719.2,926.9 719.7,918.0 720.2,923.1 720.7,915.4 721.2,914.4" fill="none" stroke="#1e1e1e" stroke-width="1.3" stroke-linejoin="bevel"/>
<polyline points="634.0,921.7 634.5,918.6 635.0,927.3 635.5,929.4 636.0,923.9 636.5,924.6 637.0,924.2 637.5,924.0 638.0,925.7 638.5,926.6 639.0,923.2 639.5,921.8 640.0,922.9 640.6,928.6 641.1,923.4 641.6,931.3 642.1,924.1 642.6,931.0 643.1,920.1 643.6,922.2 644.1,927.2 644.6,927.2 645.1,924.5 645.6,933.8 646.1,925.5 646.6,926.4 647.1,925.9 647.6,948.8 648.1,956.6 648.6,964.0 649.1,962.9 649.6,977.6 650.1,979.1 650.6,986.8 651.1,992.1 651.6,987.5 652.1,993.3 652.6,997.4 653.2,995.2 653.7,993.5 654.2,990.6 654.7,992.1 655.2,989.2 655.7,998.2 656.2,993.8 656.7,987.4 657.2,991.6 657.7,985.1 658.2,975.7 658.7,993.5 659.2,992.2 659.7,979.9 660.2,981.9 660.7,984.6 661.2,980.9 661.7,977.7 662.2,977.9 662.7,977.9 663.2,975.4 663.7,977.5 664.2,974.5 664.7,971.1 665.3,973.3 665.8,965.1 666.3,977.1 666.8,962.7 667.3,968.6 667.8,969.4 668.3,968.7 668.8,967.1 669.3,970.4 669.8,959.4 670.3,963.0 670.8,963.0 671.3,959.5 671.8,958.2 672.3,965.4 672.8,956.2 673.3,956.4 673.8,956.5 674.3,956.0 674.8,956.9 675.3,954.6 675.8,956.4 676.3,954.7 676.8,955.6 677.3,958.7 677.9,948.8 678.4,958.7 678.9,949.3 679.4,953.4 679.9,950.7 680.4,948.3 680.9,940.8 681.4,955.3 681.9,944.8 682.4,944.2 682.9,951.5 683.4,946.9 683.9,954.2 684.4,952.8 684.9,948.3 685.4,946.0 685.9,947.7 686.4,938.6 686.9,944.5 687.4,944.0 687.9,941.1 688.4,943.8 688.9,936.3 689.4,945.8 689.9,947.1 690.5,936.0 691.0,941.7 691.5,947.3 692.0,942.3 692.5,936.0 693.0,935.9 693.5,943.3 694.0,947.1 694.5,934.7 695.0,939.1 695.5,935.5 696.0,937.3 696.5,939.6 697.0,937.9 697.5,935.0 698.0,946.4 698.5,936.8 699.0,936.5 699.5,941.7 700.0,936.9 700.5,935.8 701.0,940.5 701.5,932.0 702.0,939.3 702.6,940.3 703.1,938.6 703.6,934.9 704.1,935.5 704.6,928.2 705.1,934.7 705.6,936.3 706.1,938.6 706.6,935.4 707.1,933.1 707.6,931.1 708.1,934.3 708.6,934.9 709.1,939.3 709.6,934.1 710.1,931.9 710.6,933.4 711.1,931.8 711.6,932.7 712.1,924.4 712.6,926.8 713.1,928.4 713.6,935.2 714.1,932.9 714.6,933.7 715.2,937.8 715.7,928.6 716.2,937.6 716.7,934.4 717.2,929.7 717.7,938.8 718.2,926.6 718.7,927.8 719.2,931.5 719.7,934.0 720.2,931.5 720.7,923.3 721.2,930.9" fill="none" stroke="#1e1e1e" stroke-width="1.3" stroke-linejoin="bevel"/>
<polyline points="634.0,921.7 634.5,932.6 635.0,927.8 635.5,922.6 636.0,917.5 636.5,923.5 637.0,917.2 637.5,922.9 638.0,923.6 638.5,920.4 639.0,923.1 639.5,920.7 640.0,919.7 640.6,928.4 641.1,924.5 641.6,920.8 642.1,918.9 642.6,922.8 643.1,924.4 643.6,925.6 644.1,928.2 644.6,924.0 645.1,917.4 645.6,930.5 646.1,926.9 646.6,925.5 647.1,931.1 647.6,934.1 648.1,951.0 648.6,960.5 649.1,975.8 649.6,972.6 650.1,981.5 650.6,993.3 651.1,993.0 651.6,991.1 652.1,1002.3 652.6,990.1 653.2,998.2 653.7,995.7 654.2,998.7 654.7,995.1 655.2,992.2 655.7,995.7 656.2,988.5 656.7,995.1 657.2,990.4 657.7,994.4 658.2,987.4 658.7,985.1 659.2,988.2 659.7,990.3 660.2,975.2 660.7,982.9 661.2,983.6 661.7,973.7 662.2,974.6 662.7,979.5 663.2,972.1 663.7,971.5 664.2,980.0 664.7,967.7 665.3,966.8 665.8,959.5 666.3,963.4 666.8,961.6 667.3,972.7 667.8,969.5 668.3,958.2 668.8,970.5 669.3,964.5 669.8,959.5 670.3,962.6 670.8,959.9 671.3,954.2 671.8,949.2 672.3,951.9 672.8,954.8 673.3,952.5 673.8,950.1 674.3,956.4 674.8,947.2 675.3,954.5 675.8,948.1 676.3,949.9 676.8,944.1 677.3,948.0 677.9,944.2 678.4,939.6 678.9,946.1 679.4,945.4 679.9,948.4 680.4,945.6 680.9,939.7 681.4,940.8 681.9,932.6 682.4,937.7 682.9,947.3 683.4,947.7 683.9,944.1 684.4,941.8 684.9,942.5 685.4,941.7 685.9,932.1 686.4,935.3 686.9,943.4 687.4,943.0 687.9,938.7 688.4,936.1 688.9,935.5 689.4,934.5 689.9,932.6 690.5,928.1 691.0,936.4 691.5,933.6 692.0,934.3 692.5,942.0 693.0,937.1 693.5,931.5 694.0,936.5 694.5,927.6 695.0,938.0 695.5,934.5 696.0,932.4 696.5,935.3 697.0,938.8 697.5,930.6 698.0,928.2 698.5,940.9 699.0,932.0 699.5,937.9 700.0,928.7 700.5,932.9 701.0,928.5 701.5,933.7 702.0,929.7 702.6,927.9 703.1,937.0 703.6,931.8 704.1,921.8 704.6,929.1 705.1,926.2 705.6,924.8 706.1,927.3 706.6,927.6 707.1,929.6 707.6,926.1 708.1,921.5 708.6,926.9 709.1,932.7 709.6,923.2 710.1,931.4 710.6,930.6 711.1,926.7 711.6,929.8 712.1,925.3 712.6,926.7 713.1,924.0 713.6,930.1 714.1,933.8 714.6,925.2 715.2,932.9 715.7,918.9 716.2,924.1 716.7,923.5 717.2,934.8 717.7,925.1 718.2,930.7 718.7,918.9 719.2,927.8 719.7,929.6 720.2,927.1 720.7,915.8 721.2,927.8" fill="none" stroke="#1e1e1e" stroke-width="1.3" stroke-linejoin="bevel"/>
<polyline points="634.0,918.4 634.5,920.5 635.0,916.7 635.5,907.9 636.0,914.1 636.5,918.8 637.0,911.6 637.5,917.4 638.0,913.0 638.5,915.4 639.0,918.2 639.5,912.0 640.0,927.0 640.6,915.6 641.1,916.4 641.6,911.9 642.1,915.3 642.6,913.9 643.1,908.9 643.6,908.6 644.1,916.2 644.6,914.6 645.1,904.0 645.6,906.0 646.1,913.7 646.6,914.7 647.1,921.1 647.6,928.8 648.1,949.2 648.6,956.0 649.1,963.8 649.6,972.4 650.1,982.9 650.6,985.6 651.1,990.5 651.6,986.6 652.1,990.3 652.6,988.0 653.2,991.4 653.7,992.5 654.2,992.3 654.7,997.0 655.2,995.4 655.7,996.1 656.2,992.6 656.7,995.6 657.2,990.5 657.7,992.9 658.2,989.7 658.7,989.3 659.2,984.6 659.7,978.3 660.2,976.1 660.7,989.0 661.2,981.0 661.7,979.8 662.2,975.8 662.7,973.2 663.2,985.9 663.7,967.7 664.2,970.9 664.7,969.6 665.3,963.8 665.8,961.9 666.3,963.1 666.8,963.4 667.3,961.6 667.8,965.9 668.3,956.4 668.8,961.9 669.3,965.3 669.8,961.8 670.3,952.3 670.8,943.6 671.3,958.6 671.8,956.2 672.3,950.7 672.8,957.7 673.3,949.7 673.8,951.0 674.3,945.3 674.8,950.2 675.3,946.3 675.8,945.2 676.3,951.1 676.8,946.7 677.3,938.8 677.9,947.3 678.4,947.3 678.9,939.6 679.4,940.8 679.9,942.0 680.4,940.2 680.9,941.1 681.4,942.8 681.9,937.4 682.4,947.7 682.9,935.4 683.4,935.6 683.9,945.7 684.4,946.9 684.9,936.6 685.4,935.2 685.9,931.0 686.4,939.9 686.9,935.4 687.4,930.7 687.9,935.5 688.4,939.2 688.9,935.9 689.4,942.0 689.9,937.2 690.5,933.8 691.0,931.5 691.5,933.6 692.0,936.1 692.5,934.2 693.0,934.8 693.5,931.0 694.0,933.0 694.5,934.6 695.0,928.5 695.5,923.5 696.0,935.9 696.5,930.8 697.0,926.3 697.5,928.9 698.0,926.6 698.5,920.3 699.0,926.4 699.5,921.0 700.0,927.6 700.5,926.1 701.0,931.1 701.5,925.7 702.0,927.6 702.6,924.6 703.1,924.0 703.6,919.6 704.1,929.4 704.6,925.8 705.1,922.5 705.6,925.7 706.1,922.9 706.6,921.5 707.1,925.4 707.6,929.3 708.1,922.9 708.6,918.0 709.1,921.2 709.6,931.2 710.1,920.1 710.6,928.4 711.1,922.3 711.6,926.3 712.1,922.6 712.6,916.3 713.1,921.1 713.6,931.6 714.1,922.1 714.6,924.9 715.2,921.1 715.7,921.8 716.2,923.6 716.7,924.2 717.2,931.4 717.7,922.0 718.2,921.2 718.7,919.1 719.2,916.3 719.7,914.9 720.2,924.4 720.7,913.7 721.2,927.4" fill="none" stroke="#1e1e1e" stroke-width="1.3" stroke-linejoin="bevel"/>
<path d="M681,1012.4 V1036.8 H703.6" fill="none" stroke="#555" stroke-width="2"/>
<text x="686.5" y="1029.0" font-size="26.5" text-anchor="start" font-weight="normal" fill="#222" >10pA</text>
<text x="673.0" y="1061.5" font-size="26.5" text-anchor="start" font-weight="normal" fill="#222" >4ms</text>
<path d="M841.4,678.5 V1072.4 H1102.1" fill="none" stroke="#1a1a1a" stroke-width="2.4"/>
<line x1="835.7" y1="1072.4" x2="841.4" y2="1072.4" stroke="#1a1a1a" stroke-width="2.2" />
<text x="831.4" y="1082.4" font-size="27.5" text-anchor="end" font-weight="normal" fill="#222" >-60</text>
<line x1="838.9" y1="1056.6" x2="841.4" y2="1056.6" stroke="#1a1a1a" stroke-width="2" />
<line x1="838.9" y1="1040.9" x2="841.4" y2="1040.9" stroke="#1a1a1a" stroke-width="2" />
<line x1="838.9" y1="1025.1" x2="841.4" y2="1025.1" stroke="#1a1a1a" stroke-width="2" />
<line x1="838.9" y1="1009.4" x2="841.4" y2="1009.4" stroke="#1a1a1a" stroke-width="2" />
<line x1="835.7" y1="993.6" x2="841.4" y2="993.6" stroke="#1a1a1a" stroke-width="2.2" />
<text x="831.4" y="1003.6" font-size="27.5" text-anchor="end" font-weight="normal" fill="#222" >-40</text>
<line x1="838.9" y1="977.9" x2="841.4" y2="977.9" stroke="#1a1a1a" stroke-width="2" />
<line x1="838.9" y1="962.1" x2="841.4" y2="962.1" stroke="#1a1a1a" stroke-width="2" />
<line x1="838.9" y1="946.4" x2="841.4" y2="946.4" stroke="#1a1a1a" stroke-width="2" />
<line x1="838.9" y1="930.6" x2="841.4" y2="930.6" stroke="#1a1a1a" stroke-width="2" />
<line x1="835.7" y1="914.8" x2="841.4" y2="914.8" stroke="#1a1a1a" stroke-width="2.2" />
<text x="831.4" y="924.8" font-size="27.5" text-anchor="end" font-weight="normal" fill="#222" >-20</text>
<line x1="838.9" y1="899.1" x2="841.4" y2="899.1" stroke="#1a1a1a" stroke-width="2" />
<line x1="838.9" y1="883.3" x2="841.4" y2="883.3" stroke="#1a1a1a" stroke-width="2" />
<line x1="838.9" y1="867.6" x2="841.4" y2="867.6" stroke="#1a1a1a" stroke-width="2" />
<line x1="838.9" y1="851.8" x2="841.4" y2="851.8" stroke="#1a1a1a" stroke-width="2" />
<line x1="835.7" y1="836.1" x2="841.4" y2="836.1" stroke="#1a1a1a" stroke-width="2.2" />
<text x="831.4" y="846.1" font-size="27.5" text-anchor="end" font-weight="normal" fill="#222" >0</text>
<line x1="838.9" y1="820.3" x2="841.4" y2="820.3" stroke="#1a1a1a" stroke-width="2" />
<line x1="838.9" y1="804.5" x2="841.4" y2="804.5" stroke="#1a1a1a" stroke-width="2" />
<line x1="838.9" y1="788.8" x2="841.4" y2="788.8" stroke="#1a1a1a" stroke-width="2" />
<line x1="838.9" y1="773.0" x2="841.4" y2="773.0" stroke="#1a1a1a" stroke-width="2" />
<line x1="835.7" y1="757.3" x2="841.4" y2="757.3" stroke="#1a1a1a" stroke-width="2.2" />
<text x="831.4" y="767.3" font-size="27.5" text-anchor="end" font-weight="normal" fill="#222" >20</text>
<line x1="838.9" y1="741.5" x2="841.4" y2="741.5" stroke="#1a1a1a" stroke-width="2" />
<line x1="838.9" y1="725.8" x2="841.4" y2="725.8" stroke="#1a1a1a" stroke-width="2" />
<line x1="838.9" y1="710.0" x2="841.4" y2="710.0" stroke="#1a1a1a" stroke-width="2" />
<line x1="838.9" y1="694.3" x2="841.4" y2="694.3" stroke="#1a1a1a" stroke-width="2" />
<line x1="835.7" y1="678.5" x2="841.4" y2="678.5" stroke="#1a1a1a" stroke-width="2.2" />
<text x="831.4" y="688.5" font-size="27.5" text-anchor="end" font-weight="normal" fill="#222" >40</text>
<line x1="841.6" y1="1072.4" x2="841.6" y2="1077.4" stroke="#1a1a1a" stroke-width="2.2" />
<text x="841.6" y="1101.9" font-size="27.5" text-anchor="middle" font-weight="normal" fill="#222" >0</text>
<line x1="867.6" y1="1072.4" x2="867.6" y2="1074.9" stroke="#1a1a1a" stroke-width="2" />
<line x1="893.7" y1="1072.4" x2="893.7" y2="1074.9" stroke="#1a1a1a" stroke-width="2" />
<line x1="919.8" y1="1072.4" x2="919.8" y2="1074.9" stroke="#1a1a1a" stroke-width="2" />
<line x1="945.8" y1="1072.4" x2="945.8" y2="1074.9" stroke="#1a1a1a" stroke-width="2" />
<line x1="971.8" y1="1072.4" x2="971.8" y2="1077.4" stroke="#1a1a1a" stroke-width="2.2" />
<text x="971.8" y="1101.9" font-size="27.5" text-anchor="middle" font-weight="normal" fill="#222" >50</text>
<line x1="997.9" y1="1072.4" x2="997.9" y2="1074.9" stroke="#1a1a1a" stroke-width="2" />
<line x1="1023.9" y1="1072.4" x2="1023.9" y2="1074.9" stroke="#1a1a1a" stroke-width="2" />
<line x1="1050.0" y1="1072.4" x2="1050.0" y2="1074.9" stroke="#1a1a1a" stroke-width="2" />
<line x1="1076.0" y1="1072.4" x2="1076.0" y2="1074.9" stroke="#1a1a1a" stroke-width="2" />
<line x1="1102.1" y1="1072.4" x2="1102.1" y2="1077.4" stroke="#1a1a1a" stroke-width="2.2" />
<text x="1102.1" y="1101.9" font-size="27.5" text-anchor="middle" font-weight="normal" fill="#222" >100</text>
<text x="970.0" y="1127.9" font-size="27.5" text-anchor="middle" font-weight="normal" fill="#222" >number of trials</text>
<text transform="translate(777.5,867.5) rotate(-90)" font-size="27.5" text-anchor="middle" fill="#222">amplitude (pA)</text>
<text x="854.5" y="676.5" font-size="27.5" text-anchor="start" font-weight="normal" fill="#222" >coc C450M + naspm</text>
<line x1="843.0" y1="837.0" x2="1103.0" y2="837.0" stroke="#333" stroke-width="2" stroke-dasharray="5,5"/>
<circle cx="848.0" cy="836.5" r="4.1" fill="#b4b4b4" stroke="none" stroke-width="0"/>
<circle cx="855.9" cy="841.8" r="4.1" fill="#b4b4b4" stroke="none" stroke-width="0"/>
<circle cx="862.5" cy="831.8" r="4.1" fill="#b4b4b4" stroke="none" stroke-width="0"/>
<circle cx="866.4" cy="843.6" r="4.1" fill="#b4b4b4" stroke="none" stroke-width="0"/>
<circle cx="871.7" cy="841.0" r="4.1" fill="#b4b4b4" stroke="none" stroke-width="0"/>
<circle cx="886.2" cy="835.2" r="4.1" fill="#b4b4b4" stroke="none" stroke-width="0"/>
<circle cx="890.6" cy="825.2" r="4.1" fill="#b4b4b4" stroke="none" stroke-width="0"/>
<circle cx="888.8" cy="844.4" r="4.1" fill="#b4b4b4" stroke="none" stroke-width="0"/>
<circle cx="899.3" cy="846.2" r="4.1" fill="#b4b4b4" stroke="none" stroke-width="0"/>
<circle cx="908.6" cy="845.7" r="4.1" fill="#b4b4b4" stroke="none" stroke-width="0"/>
<circle cx="906.4" cy="838.3" r="4.1" fill="#b4b4b4" stroke="none" stroke-width="0"/>
<circle cx="913.8" cy="835.2" r="4.1" fill="#b4b4b4" stroke="none" stroke-width="0"/>
<circle cx="921.7" cy="827.8" r="4.1" fill="#b4b4b4" stroke="none" stroke-width="0"/>
<circle cx="928.3" cy="830.4" r="4.1" fill="#b4b4b4" stroke="none" stroke-width="0"/>
<circle cx="920.4" cy="847.6" r="4.1" fill="#b4b4b4" stroke="none" stroke-width="0"/>
<circle cx="928.3" cy="844.9" r="4.1" fill="#b4b4b4" stroke="none" stroke-width="0"/>
<circle cx="934.9" cy="837.0" r="4.1" fill="#b4b4b4" stroke="none" stroke-width="0"/>
<circle cx="941.5" cy="850.2" r="4.1" fill="#b4b4b4" stroke="none" stroke-width="0"/>
<circle cx="946.7" cy="838.3" r="4.1" fill="#b4b4b4" stroke="none" stroke-width="0"/>
<circle cx="956.0" cy="826.5" r="4.1" fill="#b4b4b4" stroke="none" stroke-width="0"/>
<circle cx="962.5" cy="826.5" r="4.1" fill="#b4b4b4" stroke="none" stroke-width="0"/>
<circle cx="957.3" cy="839.7" r="4.1" fill="#b4b4b4" stroke="none" stroke-width="0"/>
<circle cx="971.8" cy="834.4" r="4.1" fill="#b4b4b4" stroke="none" stroke-width="0"/>
<circle cx="975.2" cy="846.8" r="4.1" fill="#b4b4b4" stroke="none" stroke-width="0"/>
<circle cx="986.2" cy="837.0" r="4.1" fill="#b4b4b4" stroke="none" stroke-width="0"/>
<circle cx="988.9" cy="829.7" r="4.1" fill="#b4b4b4" stroke="none" stroke-width="0"/>
<circle cx="1003.4" cy="835.7" r="4.1" fill="#b4b4b4" stroke="none" stroke-width="0"/>
<circle cx="1002.0" cy="845.5" r="4.1" fill="#b4b4b4" stroke="none" stroke-width="0"/>
<circle cx="1007.3" cy="846.2" r="4.1" fill="#b4b4b4" stroke="none" stroke-width="0"/>
<circle cx="1019.7" cy="846.8" r="4.1" fill="#b4b4b4" stroke="none" stroke-width="0"/>
<circle cx="1028.4" cy="830.4" r="4.1" fill="#b4b4b4" stroke="none" stroke-width="0"/>
<circle cx="1045.5" cy="840.2" r="4.1" fill="#b4b4b4" stroke="none" stroke-width="0"/>
<circle cx="1058.7" cy="834.4" r="4.1" fill="#b4b4b4" stroke="none" stroke-width="0"/>
<circle cx="1065.3" cy="830.4" r="4.1" fill="#b4b4b4" stroke="none" stroke-width="0"/>
<circle cx="1074.5" cy="835.7" r="4.1" fill="#b4b4b4" stroke="none" stroke-width="0"/>
<circle cx="1082.4" cy="829.1" r="4.1" fill="#b4b4b4" stroke="none" stroke-width="0"/>
<circle cx="982.8" cy="750.6" r="4.1" fill="#000" stroke="none" stroke-width="0"/>
<circle cx="998.9" cy="753.3" r="4.1" fill="#000" stroke="none" stroke-width="0"/>
<circle cx="1048.1" cy="758.0" r="4.1" fill="#000" stroke="none" stroke-width="0"/>
<circle cx="1085.0" cy="744.3" r="4.1" fill="#000" stroke="none" stroke-width="0"/>
<circle cx="1022.3" cy="769.9" r="4.1" fill="#000" stroke="none" stroke-width="0"/>
<circle cx="979.7" cy="785.7" r="4.1" fill="#000" stroke="none" stroke-width="0"/>
<circle cx="977.8" cy="794.9" r="4.1" fill="#000" stroke="none" stroke-width="0"/>
<circle cx="993.4" cy="792.8" r="4.1" fill="#000" stroke="none" stroke-width="0"/>
<circle cx="991.5" cy="808.6" r="4.1" fill="#000" stroke="none" stroke-width="0"/>
<circle cx="996.8" cy="808.6" r="4.1" fill="#000" stroke="none" stroke-width="0"/>
<circle cx="1011.3" cy="794.9" r="4.1" fill="#000" stroke="none" stroke-width="0"/>
<circle cx="1015.2" cy="797.0" r="4.1" fill="#000" stroke="none" stroke-width="0"/>
<circle cx="1008.6" cy="811.2" r="4.1" fill="#000" stroke="none" stroke-width="0"/>
<circle cx="1016.5" cy="813.9" r="4.1" fill="#000" stroke="none" stroke-width="0"/>
<circle cx="1024.4" cy="804.1" r="4.1" fill="#000" stroke="none" stroke-width="0"/>
<circle cx="1029.7" cy="779.1" r="4.1" fill="#000" stroke="none" stroke-width="0"/>
<circle cx="1032.3" cy="784.4" r="4.1" fill="#000" stroke="none" stroke-width="0"/>
<circle cx="1042.9" cy="784.4" r="4.1" fill="#000" stroke="none" stroke-width="0"/>
<circle cx="1040.2" cy="792.3" r="4.1" fill="#000" stroke="none" stroke-width="0"/>
<circle cx="1037.6" cy="801.5" r="4.1" fill="#000" stroke="none" stroke-width="0"/>
<circle cx="1035.0" cy="804.1" r="4.1" fill="#000" stroke="none" stroke-width="0"/>
<circle cx="1053.4" cy="776.5" r="4.1" fill="#000" stroke="none" stroke-width="0"/>
<circle cx="1056.0" cy="781.7" r="4.1" fill="#000" stroke="none" stroke-width="0"/>
<circle cx="1050.8" cy="790.9" r="4.1" fill="#000" stroke="none" stroke-width="0"/>
<circle cx="1061.3" cy="799.6" r="4.1" fill="#000" stroke="none" stroke-width="0"/>
<circle cx="1069.2" cy="796.2" r="4.1" fill="#000" stroke="none" stroke-width="0"/>
<circle cx="1072.4" cy="809.9" r="4.1" fill="#000" stroke="none" stroke-width="0"/>
<circle cx="1077.1" cy="779.1" r="4.1" fill="#000" stroke="none" stroke-width="0"/>
<circle cx="1079.7" cy="785.7" r="4.1" fill="#000" stroke="none" stroke-width="0"/>
<circle cx="1090.3" cy="765.9" r="4.1" fill="#000" stroke="none" stroke-width="0"/>
<circle cx="1096.1" cy="763.8" r="4.1" fill="#000" stroke="none" stroke-width="0"/>
<circle cx="1098.2" cy="773.8" r="4.1" fill="#000" stroke="none" stroke-width="0"/>
<circle cx="1104.0" cy="785.1" r="4.1" fill="#000" stroke="none" stroke-width="0"/>
<circle cx="1092.9" cy="797.0" r="4.1" fill="#000" stroke="none" stroke-width="0"/>
<circle cx="1087.6" cy="803.3" r="4.1" fill="#000" stroke="none" stroke-width="0"/>
<circle cx="1101.3" cy="810.7" r="4.1" fill="#000" stroke="none" stroke-width="0"/>
<circle cx="881.2" cy="881.4" r="4.1" fill="#000" stroke="none" stroke-width="0"/>
<circle cx="884.5" cy="880.8" r="4.1" fill="#000" stroke="none" stroke-width="0"/>
<circle cx="948.9" cy="899.9" r="4.1" fill="#000" stroke="none" stroke-width="0"/>
<circle cx="870.7" cy="914.7" r="4.1" fill="#000" stroke="none" stroke-width="0"/>
<circle cx="876.0" cy="932.4" r="4.1" fill="#000" stroke="none" stroke-width="0"/>
<circle cx="896.8" cy="929.6" r="4.1" fill="#000" stroke="none" stroke-width="0"/>
<circle cx="964.5" cy="929.6" r="4.1" fill="#000" stroke="none" stroke-width="0"/>
<circle cx="843.9" cy="959.5" r="4.1" fill="#000" stroke="none" stroke-width="0"/>
<circle cx="851.7" cy="972.8" r="4.1" fill="#000" stroke="none" stroke-width="0"/>
<circle cx="967.1" cy="964.2" r="4.1" fill="#000" stroke="none" stroke-width="0"/>
<circle cx="969.7" cy="970.7" r="4.1" fill="#000" stroke="none" stroke-width="0"/>
<circle cx="878.6" cy="1017.1" r="4.1" fill="#000" stroke="none" stroke-width="0"/>
<circle cx="894.2" cy="1032.7" r="4.1" fill="#000" stroke="none" stroke-width="0"/>
<circle cx="904.6" cy="1053.3" r="4.1" fill="#000" stroke="none" stroke-width="0"/>
<circle cx="917.6" cy="1064.0" r="4.1" fill="#000" stroke="none" stroke-width="0"/>
<circle cx="938.5" cy="1071.6" r="4.1" fill="#000" stroke="none" stroke-width="0"/>
<circle cx="943.7" cy="1070.5" r="4.1" fill="#000" stroke="none" stroke-width="0"/>
<circle cx="855.1" cy="1069.0" r="4.1" fill="#000" stroke="none" stroke-width="0"/>
<circle cx="951.5" cy="1027.5" r="4.1" fill="#000" stroke="none" stroke-width="0"/>
<polyline points="855.0,776.3 855.5,772.7 856.0,777.7 856.6,777.6 857.1,782.3 857.6,774.4 858.1,776.0 858.6,777.3 859.1,776.4 859.7,774.9 860.2,770.4 860.7,770.7 861.2,774.7 861.7,776.6 862.2,781.8 862.8,787.3 863.3,784.8 863.8,779.2 864.3,785.4 864.8,777.1 865.3,775.3 865.9,787.3 866.4,773.1 866.9,775.8 867.4,776.5 867.9,783.7 868.4,775.1 869.0,780.8 869.5,775.9 870.0,772.4" fill="none" stroke="#1e1e1e" stroke-width="1.4" stroke-linejoin="bevel"/>
<polyline points="855.0,774.0 855.5,768.4 856.0,769.7 856.6,770.0 857.1,777.3 857.6,775.2 858.1,774.3 858.6,775.3 859.1,771.3 859.7,775.3 860.2,770.8 860.7,767.7 861.2,770.3 861.7,774.2 862.2,773.7 862.8,777.7 863.3,766.2 863.8,772.4 864.3,775.0 864.8,769.3 865.3,774.3 865.9,771.6 866.4,768.6 866.9,778.0 867.4,767.5 867.9,777.5 868.4,771.6 869.0,769.4 869.5,769.6 870.0,770.2" fill="none" stroke="#1e1e1e" stroke-width="1.4" stroke-linejoin="bevel"/>
<polyline points="855.0,772.5 855.5,763.6 856.0,776.6 856.6,774.9 857.1,777.2 857.6,767.3 858.1,761.7 858.6,768.8 859.1,770.7 859.7,772.7 860.2,769.2 860.7,771.1 861.2,772.0 861.7,764.9 862.2,779.0 862.8,766.7 863.3,772.5 863.8,775.9 864.3,768.1 864.8,771.4 865.3,778.3 865.9,770.2 866.4,775.8 866.9,772.6 867.4,772.4 867.9,774.4 868.4,770.5 869.0,770.5 869.5,775.5 870.0,772.5" fill="none" stroke="#1e1e1e" stroke-width="1.4" stroke-linejoin="bevel"/>
<polyline points="855.0,766.6 855.5,771.7 856.0,776.7 856.6,775.4 857.1,773.1 857.6,769.5 858.1,769.1 858.6,773.5 859.1,777.6 859.7,771.8 860.2,777.1 860.7,770.4 861.2,776.7 861.7,767.5 862.2,772.4 862.8,767.2 863.3,774.4 863.8,774.1 864.3,767.7 864.8,768.5 865.3,769.8 865.9,765.4 866.4,767.8 866.9,768.0 867.4,774.9 867.9,777.5 868.4,769.8 869.0,770.4 869.5,772.5 870.0,769.5" fill="none" stroke="#1e1e1e" stroke-width="1.4" stroke-linejoin="bevel"/>
<polyline points="855.0,783.5 855.5,780.9 856.0,779.6 856.6,777.6 857.1,786.1 857.6,777.4 858.1,780.5 858.6,775.6 859.1,777.5 859.7,780.4 860.2,778.3 860.7,782.2 861.2,780.3 861.7,774.2 862.2,770.3 862.8,784.1 863.3,777.5 863.8,786.2 864.3,780.0 864.8,776.8 865.3,782.3 865.9,778.8 866.4,780.0 866.9,776.1 867.4,782.6 867.9,784.6 868.4,777.8 869.0,787.5 869.5,777.6 870.0,781.0" fill="none" stroke="#1e1e1e" stroke-width="1.4" stroke-linejoin="bevel"/>
<polyline points="855.0,765.6 855.5,782.5 856.0,779.7 856.6,778.5 857.1,766.6 857.6,774.7 858.1,775.5 858.6,774.0 859.1,774.9 859.7,769.8 860.2,773.0 860.7,768.9 861.2,772.2 861.7,775.3 862.2,770.4 862.8,772.5 863.3,771.9 863.8,773.8 864.3,777.6 864.8,774.7 865.3,775.4 865.9,767.7 866.4,772.2 866.9,777.1 867.4,770.1 867.9,771.9 868.4,769.6 869.0,779.3 869.5,771.8 870.0,770.6" fill="none" stroke="#1e1e1e" stroke-width="1.4" stroke-linejoin="bevel"/>
<polyline points="855.0,783.6 855.5,781.1 856.0,783.1 856.6,779.9 857.1,778.5 857.6,777.2 858.1,776.9 858.6,776.5 859.1,780.6 859.7,778.5 860.2,779.4 860.7,781.6 861.2,778.8 861.7,773.3 862.2,775.7 862.8,774.3 863.3,771.0 863.8,779.5 864.3,774.0 864.8,773.6 865.3,774.5 865.9,782.7 866.4,777.7 866.9,783.2 867.4,778.6 867.9,777.2 868.4,781.4 869.0,781.5 869.5,779.5 870.0,774.7" fill="none" stroke="#1e1e1e" stroke-width="1.4" stroke-linejoin="bevel"/>
<polyline points="855.0,775.8 855.5,779.7 856.0,781.2 856.6,787.0 857.1,786.7 857.6,783.6 858.1,784.8 858.6,781.8 859.1,792.4 859.7,787.2 860.2,791.9 860.7,782.4 861.2,782.5 861.7,785.2 862.2,781.6 862.8,782.1 863.3,776.6 863.8,784.7 864.3,781.3 864.8,784.2 865.3,779.9 865.9,773.3 866.4,782.9 866.9,785.7 867.4,775.4 867.9,776.7 868.4,779.5 869.0,779.7 869.5,773.6 870.0,788.1" fill="none" stroke="#1e1e1e" stroke-width="1.4" stroke-linejoin="bevel"/>
<polyline points="855.0,773.8 855.5,768.7 856.0,777.9 856.6,784.7 857.1,779.8 857.6,781.2 858.1,772.4 858.6,777.3 859.1,770.0 859.7,784.6 860.2,778.7 860.7,767.5 861.2,768.6 861.7,778.4 862.2,776.9 862.8,775.0 863.3,778.9 863.8,784.8 864.3,777.9 864.8,768.8 865.3,775.7 865.9,770.8 866.4,773.0 866.9,777.7 867.4,775.6 867.9,771.9 868.4,776.2 869.0,772.9 869.5,778.5 870.0,775.3" fill="none" stroke="#1e1e1e" stroke-width="1.4" stroke-linejoin="bevel"/>
<polyline points="855.0,773.4 855.5,777.7 856.0,773.9 856.6,774.5 857.1,772.1 857.6,775.1 858.1,767.1 858.6,785.7 859.1,771.6 859.7,774.9 860.2,772.5 860.7,772.4 861.2,776.2 861.7,772.4 862.2,772.7 862.8,768.7 863.3,770.6 863.8,769.6 864.3,782.1 864.8,768.9 865.3,770.0 865.9,775.3 866.4,780.5 866.9,767.4 867.4,768.0 867.9,775.0 868.4,775.9 869.0,768.5 869.5,766.9 870.0,770.4" fill="none" stroke="#1e1e1e" stroke-width="1.4" stroke-linejoin="bevel"/>
<polyline points="874.8,778.1 875.3,774.8 875.8,778.1 876.3,774.5 876.8,774.8 877.3,777.5 877.8,774.4 878.3,775.7 878.8,770.6 879.3,771.6 879.8,775.9 880.3,772.7 880.8,770.3 881.3,776.1 881.8,775.4 882.3,773.0 882.8,769.7 883.4,776.5 883.9,783.1 884.4,769.1 884.9,766.0 885.4,769.1 885.9,768.4 886.4,767.0 886.9,767.3 887.4,775.7 887.9,775.8 888.4,778.3 888.9,775.2 889.4,770.0 889.9,776.6 890.4,769.4 890.9,770.5 891.4,767.0 891.9,777.1 892.4,776.2 892.9,770.0 893.4,770.6 893.9,772.1 894.4,772.7 894.9,775.4 895.4,772.2 895.9,773.6 896.4,765.6 896.9,770.6 897.4,764.4 897.9,779.4 898.4,777.7 898.9,774.9 899.4,776.6 900.0,780.3 900.5,775.8 901.0,765.2 901.5,771.0 902.0,762.0 902.5,768.5 903.0,766.7 903.5,771.9 904.0,773.6 904.5,768.0 905.0,770.7 905.5,773.1 906.0,771.3 906.5,771.2 907.0,761.9 907.5,770.1 908.0,775.3 908.5,773.1 909.0,765.7 909.5,770.8 910.0,773.1 910.5,767.9 911.0,774.8 911.5,768.6 912.0,770.6 912.5,771.6 913.0,781.4 913.5,770.7 914.0,769.6 914.5,775.0 915.0,770.1 915.5,772.9 916.0,762.6 916.6,773.3 917.1,772.0 917.6,766.7 918.1,777.8 918.6,771.1 919.1,771.3 919.6,766.6 920.1,765.3 920.6,769.7 921.1,765.7 921.6,774.2 922.1,775.8 922.6,769.5 923.1,765.4 923.6,770.5 924.1,767.7 924.6,772.9 925.1,772.9 925.6,770.4 926.1,772.5 926.6,776.6 927.1,779.4 927.6,770.0 928.1,775.2 928.6,771.2 929.1,767.8 929.6,777.6 930.1,773.9 930.6,772.8 931.1,773.7 931.6,771.6 932.1,767.8 932.7,779.7 933.2,776.0 933.7,773.4 934.2,776.3 934.7,777.7 935.2,771.5 935.7,774.8 936.2,770.9 936.7,775.0 937.2,771.2 937.7,782.5 938.2,770.8 938.7,774.5 939.2,774.3 939.7,770.9 940.2,776.3 940.7,772.0 941.2,770.6 941.7,772.4 942.2,769.2 942.7,777.4 943.2,775.0 943.7,776.5 944.2,766.7 944.7,773.5 945.2,769.2 945.7,772.8 946.2,777.8 946.7,773.5 947.2,771.7 947.7,777.1 948.2,776.7 948.7,780.2 949.3,764.6 949.8,773.8 950.3,770.7 950.8,768.8 951.3,773.0 951.8,767.6 952.3,763.1 952.8,768.7 953.3,771.4 953.8,780.4 954.3,769.5 954.8,767.6 955.3,764.2 955.8,771.1 956.3,771.5 956.8,773.2 957.3,766.5" fill="none" stroke="#aaa" stroke-width="1.3" stroke-linejoin="bevel"/>
<polyline points="874.8,774.6 875.3,768.3 875.8,778.5 876.3,771.2 876.8,766.3 877.3,782.7 877.8,779.9 878.3,779.1 878.8,778.8 879.3,772.7 879.8,781.3 880.3,772.2 880.8,784.4 881.3,777.2 881.8,768.3 882.3,779.6 882.8,784.1 883.4,774.6 883.9,780.0 884.4,774.6 884.9,772.8 885.4,764.5 885.9,780.5 886.4,773.3 886.9,776.7 887.4,770.3 887.9,771.2 888.4,779.7 888.9,773.4 889.4,773.3 889.9,769.7 890.4,775.8 890.9,778.2 891.4,773.0 891.9,774.1 892.4,769.7 892.9,780.8 893.4,772.3 893.9,774.2 894.4,781.9 894.9,773.9 895.4,768.3 895.9,770.9 896.4,773.3 896.9,782.3 897.4,775.8 897.9,773.9 898.4,778.3 898.9,780.4 899.4,771.7 900.0,780.9 900.5,778.5 901.0,776.8 901.5,764.9 902.0,775.7 902.5,780.8 903.0,773.8 903.5,784.7 904.0,775.2 904.5,770.6 905.0,777.4 905.5,776.2 906.0,778.5 906.5,774.0 907.0,780.5 907.5,772.6 908.0,775.5 908.5,769.7 909.0,771.6 909.5,775.9 910.0,772.2 910.5,773.1 911.0,774.2 911.5,776.1 912.0,778.3 912.5,778.3 913.0,779.4 913.5,775.9 914.0,772.8 914.5,768.4 915.0,773.6 915.5,771.7 916.0,767.4 916.6,782.1 917.1,767.3 917.6,776.6 918.1,777.5 918.6,774.2 919.1,786.1 919.6,775.3 920.1,771.9 920.6,782.7 921.1,771.8 921.6,769.1 922.1,770.9 922.6,772.5 923.1,775.4 923.6,776.7 924.1,768.8 924.6,776.7 925.1,784.7 925.6,772.2 926.1,774.7 926.6,778.2 927.1,780.4 927.6,772.4 928.1,771.2 928.6,771.0 929.1,780.0 929.6,779.1 930.1,766.1 930.6,766.2 931.1,770.0 931.6,768.9 932.1,777.1 932.7,776.3 933.2,783.7 933.7,778.7 934.2,775.9 934.7,780.4 935.2,771.6 935.7,769.4 936.2,775.5 936.7,779.4 937.2,768.5 937.7,779.2 938.2,779.1 938.7,773.3 939.2,776.1 939.7,774.3 940.2,775.8 940.7,778.9 941.2,772.0 941.7,779.9 942.2,779.2 942.7,779.3 943.2,767.1 943.7,767.5 944.2,778.4 944.7,773.0 945.2,772.5 945.7,772.2 946.2,769.8 946.7,774.3 947.2,772.4 947.7,772.7 948.2,777.6 948.7,770.5 949.3,780.3 949.8,766.1 950.3,786.3 950.8,769.8 951.3,778.1 951.8,779.5 952.3,775.6 952.8,778.8 953.3,775.1 953.8,768.1 954.3,777.1 954.8,780.5 955.3,773.3 955.8,768.4 956.3,773.0 956.8,777.0 957.3,776.9" fill="none" stroke="#aaa" stroke-width="1.3" stroke-linejoin="bevel"/>
<polyline points="874.8,785.6 875.3,783.3 875.8,783.1 876.3,772.3 876.8,790.4 877.3,781.1 877.8,784.6 878.3,779.2 878.8,779.7 879.3,780.4 879.8,786.6 880.3,786.2 880.8,782.1 881.3,787.8 881.8,777.4 882.3,781.2 882.8,776.9 883.4,784.3 883.9,778.8 884.4,782.8 884.9,785.9 885.4,769.5 885.9,787.7 886.4,779.7 886.9,776.9 887.4,770.0 887.9,776.9 888.4,768.3 888.9,778.5 889.4,777.3 889.9,785.9 890.4,776.6 890.9,782.6 891.4,783.0 891.9,786.8 892.4,776.9 892.9,781.2 893.4,771.4 893.9,773.2 894.4,776.8 894.9,777.9 895.4,772.7 895.9,776.2 896.4,781.0 896.9,776.0 897.4,777.3 897.9,774.1 898.4,783.9 898.9,785.6 899.4,778.9 900.0,777.5 900.5,785.1 901.0,780.0 901.5,775.1 902.0,772.2 902.5,775.5 903.0,787.5 903.5,775.5 904.0,790.5 904.5,778.0 905.0,777.1 905.5,783.7 906.0,777.0 906.5,779.7 907.0,773.6 907.5,772.7 908.0,774.9 908.5,779.0 909.0,775.2 909.5,769.6 910.0,780.2 910.5,777.4 911.0,776.9 911.5,775.5 912.0,768.4 912.5,785.0 913.0,776.1 913.5,780.4 914.0,784.2 914.5,783.0 915.0,779.1 915.5,778.2 916.0,779.5 916.6,782.1 917.1,780.7 917.6,776.3 918.1,780.2 918.6,779.9 919.1,781.2 919.6,779.1 920.1,784.2 920.6,779.1 921.1,782.1 921.6,778.5 922.1,775.8 922.6,774.2 923.1,777.6 923.6,780.6 924.1,783.8 924.6,777.9 925.1,776.1 925.6,776.1 926.1,783.9 926.6,778.8 927.1,776.2 927.6,781.6 928.1,772.7 928.6,778.9 929.1,778.2 929.6,777.8 930.1,773.4 930.6,782.6 931.1,785.7 931.6,772.7 932.1,778.9 932.7,781.2 933.2,788.2 933.7,776.6 934.2,774.4 934.7,778.4 935.2,787.1 935.7,778.8 936.2,779.6 936.7,786.1 937.2,769.3 937.7,769.2 938.2,782.4 938.7,781.8 939.2,772.5 939.7,780.7 940.2,778.7 940.7,779.5 941.2,775.1 941.7,776.6 942.2,774.8 942.7,778.8 943.2,777.6 943.7,785.8 944.2,781.3 944.7,771.8 945.2,780.4 945.7,784.8 946.2,779.8 946.7,783.3 947.2,778.5 947.7,781.7 948.2,774.6 948.7,782.0 949.3,772.7 949.8,784.2 950.3,772.1 950.8,769.5 951.3,780.9 951.8,777.9 952.3,779.2 952.8,780.5 953.3,778.6 953.8,774.9 954.3,779.6 954.8,780.2 955.3,780.8 955.8,787.3 956.3,775.6 956.8,779.0 957.3,781.1" fill="none" stroke="#aaa" stroke-width="1.3" stroke-linejoin="bevel"/>
<polyline points="874.8,782.1 875.3,778.8 875.8,781.6 876.3,788.6 876.8,782.8 877.3,786.6 877.8,780.8 878.3,785.7 878.8,780.6 879.3,779.6 879.8,783.5 880.3,783.0 880.8,788.9 881.3,775.4 881.8,784.4 882.3,789.0 882.8,787.8 883.4,780.2 883.9,778.8 884.4,779.5 884.9,782.9 885.4,782.3 885.9,782.9 886.4,783.9 886.9,776.7 887.4,776.4 887.9,775.9 888.4,775.4 888.9,780.7 889.4,782.5 889.9,792.0 890.4,783.4 890.9,781.1 891.4,787.2 891.9,777.9 892.4,782.5 892.9,785.2 893.4,784.4 893.9,782.8 894.4,779.5 894.9,775.7 895.4,780.3 895.9,778.4 896.4,784.0 896.9,780.4 897.4,783.4 897.9,774.1 898.4,785.2 898.9,777.3 899.4,774.3 900.0,775.1 900.5,778.3 901.0,785.9 901.5,784.1 902.0,776.0 902.5,781.4 903.0,780.6 903.5,774.3 904.0,776.8 904.5,772.3 905.0,777.3 905.5,769.7 906.0,777.7 906.5,777.1 907.0,777.7 907.5,777.6 908.0,786.1 908.5,779.6 909.0,782.2 909.5,784.4 910.0,785.0 910.5,784.1 911.0,778.8 911.5,776.4 912.0,777.8 912.5,779.1 913.0,781.2 913.5,780.8 914.0,785.9 914.5,780.7 915.0,788.9 915.5,785.6 916.0,779.1 916.6,784.9 917.1,768.9 917.6,787.2 918.1,783.0 918.6,783.0 919.1,774.0 919.6,792.1 920.1,780.2 920.6,780.7 921.1,786.1 921.6,780.5 922.1,777.6 922.6,784.1 923.1,776.9 923.6,784.5 924.1,781.9 924.6,786.2 925.1,776.1 925.6,786.7 926.1,782.6 926.6,789.8 927.1,778.6 927.6,789.3 928.1,784.4 928.6,784.8 929.1,778.3 929.6,783.8 930.1,784.3 930.6,777.8 931.1,776.4 931.6,778.1 932.1,787.7 932.7,782.1 933.2,785.5 933.7,782.7 934.2,782.0 934.7,782.4 935.2,779.7 935.7,786.7 936.2,782.2 936.7,782.4 937.2,775.5 937.7,782.8 938.2,778.6 938.7,779.4 939.2,786.0 939.7,776.8 940.2,780.7 940.7,784.2 941.2,786.5 941.7,779.3 942.2,782.9 942.7,782.8 943.2,776.7 943.7,772.4 944.2,773.3 944.7,784.2 945.2,782.0 945.7,775.8 946.2,778.9 946.7,779.9 947.2,780.1 947.7,781.5 948.2,791.1 948.7,778.3 949.3,782.2 949.8,778.3 950.3,778.9 950.8,777.9 951.3,780.7 951.8,779.3 952.3,783.2 952.8,782.6 953.3,777.8 953.8,789.9 954.3,776.7 954.8,783.2 955.3,791.0 955.8,778.6 956.3,787.4 956.8,787.8 957.3,783.2" fill="none" stroke="#aaa" stroke-width="1.3" stroke-linejoin="bevel"/>
<polyline points="874.8,779.1 875.3,793.1 875.8,787.4 876.3,784.6 876.8,792.5 877.3,783.9 877.8,791.6 878.3,784.4 878.8,788.8 879.3,781.6 879.8,784.3 880.3,781.8 880.8,782.5 881.3,786.2 881.8,784.5 882.3,785.9 882.8,790.5 883.4,784.3 883.9,776.8 884.4,783.4 884.9,784.9 885.4,788.9 885.9,788.9 886.4,788.4 886.9,783.3 887.4,787.0 887.9,778.0 888.4,789.7 888.9,786.0 889.4,786.3 889.9,782.5 890.4,784.3 890.9,781.2 891.4,786.5 891.9,778.3 892.4,788.2 892.9,786.4 893.4,792.7 893.9,783.8 894.4,783.6 894.9,784.8 895.4,784.2 895.9,783.5 896.4,779.3 896.9,779.3 897.4,781.6 897.9,782.8 898.4,778.9 898.9,779.0 899.4,782.8 900.0,787.2 900.5,783.2 901.0,786.9 901.5,788.2 902.0,787.3 902.5,782.2 903.0,782.3 903.5,776.0 904.0,781.1 904.5,786.1 905.0,779.4 905.5,789.9 906.0,790.2 906.5,782.5 907.0,788.0 907.5,778.0 908.0,779.6 908.5,782.5 909.0,784.2 909.5,783.3 910.0,780.4 910.5,792.6 911.0,785.4 911.5,785.4 912.0,787.1 912.5,784.9 913.0,783.2 913.5,781.8 914.0,777.2 914.5,790.6 915.0,780.2 915.5,777.1 916.0,780.7 916.6,777.3 917.1,792.8 917.6,785.8 918.1,790.3 918.6,790.5 919.1,786.7 919.6,786.7 920.1,781.2 920.6,783.9 921.1,781.7 921.6,784.5 922.1,781.3 922.6,789.7 923.1,787.6 923.6,783.9 924.1,777.2 924.6,787.3 925.1,788.1 925.6,784.0 926.1,778.9 926.6,786.2 927.1,788.9 927.6,776.1 928.1,786.8 928.6,776.6 929.1,784.7 929.6,791.9 930.1,784.8 930.6,786.5 931.1,783.0 931.6,784.4 932.1,794.5 932.7,790.1 933.2,783.1 933.7,782.8 934.2,784.5 934.7,793.9 935.2,785.4 935.7,789.2 936.2,782.9 936.7,779.0 937.2,790.2 937.7,784.2 938.2,781.1 938.7,781.5 939.2,781.6 939.7,781.9 940.2,777.9 940.7,789.7 941.2,786.2 941.7,788.7 942.2,783.1 942.7,786.0 943.2,785.3 943.7,789.6 944.2,788.1 944.7,786.1 945.2,781.8 945.7,779.5 946.2,781.2 946.7,781.9 947.2,782.3 947.7,779.3 948.2,791.7 948.7,785.8 949.3,776.0 949.8,780.0 950.3,778.9 950.8,785.7 951.3,789.2 951.8,780.5 952.3,787.3 952.8,783.5 953.3,789.6 953.8,790.5 954.3,786.0 954.8,787.8 955.3,784.7 955.8,783.1 956.3,779.8 956.8,786.1 957.3,784.4" fill="none" stroke="#aaa" stroke-width="1.3" stroke-linejoin="bevel"/>
<polyline points="874.8,778.4 875.3,779.7 875.8,779.2 876.3,775.6 876.8,777.7 877.3,784.9 877.8,779.0 878.3,785.7 878.8,774.6 879.3,773.4 879.8,779.5 880.3,782.1 880.8,775.8 881.3,781.0 881.8,782.2 882.3,782.7 882.8,777.5 883.4,777.6 883.9,770.7 884.4,777.7 884.9,778.8 885.4,783.5 885.9,772.0 886.4,773.8 886.9,773.1 887.4,781.1 887.9,766.5 888.4,772.6 888.9,785.9 889.4,779.9 889.9,771.5 890.4,776.8 890.9,780.7 891.4,779.4 891.9,776.1 892.4,773.7 892.9,780.6 893.4,777.0 893.9,780.5 894.4,778.7 894.9,775.0 895.4,783.1 895.9,774.9 896.4,778.8 896.9,774.3 897.4,776.0 897.9,775.9 898.4,774.2 898.9,778.0 899.4,782.6 900.0,784.9 900.5,783.1 901.0,776.3 901.5,783.2 902.0,778.8 902.5,784.7 903.0,771.7 903.5,783.3 904.0,774.5 904.5,782.0 905.0,775.1 905.5,780.9 906.0,775.9 906.5,769.1 907.0,773.0 907.5,776.1 908.0,777.2 908.5,767.6 909.0,772.0 909.5,774.0 910.0,776.2 910.5,778.1 911.0,773.7 911.5,770.7 912.0,778.4 912.5,775.8 913.0,780.9 913.5,775.0 914.0,779.9 914.5,773.4 915.0,778.3 915.5,777.6 916.0,779.1 916.6,773.3 917.1,776.7 917.6,773.6 918.1,776.6 918.6,779.9 919.1,789.9 919.6,777.4 920.1,780.3 920.6,777.8 921.1,782.1 921.6,779.2 922.1,781.7 922.6,778.8 923.1,787.5 923.6,783.1 924.1,770.1 924.6,778.6 925.1,777.7 925.6,768.0 926.1,773.7 926.6,775.4 927.1,774.3 927.6,777.9 928.1,769.8 928.6,780.5 929.1,780.7 929.6,778.9 930.1,776.0 930.6,777.4 931.1,775.5 931.6,782.3 932.1,779.6 932.7,785.9 933.2,775.9 933.7,783.6 934.2,775.0 934.7,776.8 935.2,773.1 935.7,779.7 936.2,777.2 936.7,780.1 937.2,783.8 937.7,777.3 938.2,779.1 938.7,781.3 939.2,777.3 939.7,775.2 940.2,779.1 940.7,779.7 941.2,780.9 941.7,781.1 942.2,774.8 942.7,779.5 943.2,782.8 943.7,775.6 944.2,779.1 944.7,775.0 945.2,778.3 945.7,784.9 946.2,778.4 946.7,773.6 947.2,779.1 947.7,778.6 948.2,782.4 948.7,771.9 949.3,773.8 949.8,777.3 950.3,771.1 950.8,782.5 951.3,769.2 951.8,774.2 952.3,771.5 952.8,774.9 953.3,781.1 953.8,780.3 954.3,781.6 954.8,780.3 955.3,769.2 955.8,779.0 956.3,770.0 956.8,775.6 957.3,776.1" fill="none" stroke="#aaa" stroke-width="1.3" stroke-linejoin="bevel"/>
<polyline points="874.8,780.7 875.3,785.1 875.8,779.6 876.3,790.3 876.8,785.6 877.3,788.0 877.8,786.2 878.3,786.6 878.8,782.3 879.3,790.5 879.8,777.6 880.3,783.7 880.8,781.6 881.3,780.5 881.8,782.6 882.3,778.0 882.8,784.6 883.4,784.2 883.9,781.2 884.4,783.8 884.9,776.2 885.4,772.9 885.9,778.0 886.4,779.4 886.9,790.8 887.4,779.3 887.9,784.6 888.4,783.8 888.9,789.1 889.4,780.7 889.9,782.9 890.4,779.3 890.9,776.5 891.4,775.9 891.9,776.8 892.4,786.1 892.9,781.3 893.4,779.4 893.9,780.1 894.4,777.7 894.9,779.9 895.4,779.9 895.9,782.8 896.4,783.9 896.9,773.2 897.4,781.0 897.9,785.8 898.4,775.7 898.9,779.0 899.4,780.8 900.0,784.7 900.5,782.6 901.0,779.1 901.5,782.2 902.0,784.4 902.5,781.7 903.0,787.9 903.5,781.9 904.0,775.7 904.5,776.8 905.0,779.5 905.5,779.2 906.0,782.7 906.5,781.6 907.0,787.3 907.5,783.6 908.0,786.4 908.5,776.9 909.0,778.4 909.5,783.1 910.0,780.6 910.5,782.8 911.0,781.3 911.5,777.6 912.0,787.4 912.5,785.0 913.0,773.7 913.5,777.6 914.0,780.3 914.5,783.1 915.0,780.0 915.5,774.5 916.0,783.8 916.6,779.4 917.1,785.3 917.6,781.6 918.1,784.5 918.6,783.8 919.1,784.0 919.6,778.2 920.1,784.7 920.6,781.2 921.1,775.1 921.6,778.7 922.1,779.0 922.6,782.4 923.1,783.3 923.6,775.7 924.1,783.4 924.6,780.1 925.1,776.0 925.6,783.9 926.1,777.2 926.6,775.4 927.1,783.6 927.6,784.2 928.1,777.7 928.6,784.9 929.1,784.7 929.6,778.3 930.1,788.9 930.6,780.3 931.1,781.5 931.6,770.5 932.1,783.2 932.7,777.9 933.2,782.4 933.7,773.4 934.2,785.4 934.7,786.7 935.2,788.5 935.7,768.2 936.2,783.1 936.7,782.0 937.2,767.9 937.7,777.6 938.2,780.3 938.7,786.6 939.2,777.2 939.7,781.5 940.2,780.4 940.7,782.2 941.2,779.0 941.7,784.4 942.2,784.8 942.7,775.0 943.2,785.4 943.7,777.6 944.2,779.6 944.7,785.5 945.2,781.2 945.7,783.2 946.2,784.1 946.7,783.3 947.2,778.5 947.7,776.8 948.2,783.7 948.7,784.0 949.3,782.3 949.8,780.0 950.3,784.4 950.8,780.7 951.3,775.1 951.8,782.0 952.3,783.0 952.8,784.1 953.3,777.1 953.8,777.8 954.3,782.3 954.8,779.0 955.3,780.6 955.8,784.9 956.3,782.6 956.8,788.6 957.3,782.2" fill="none" stroke="#aaa" stroke-width="1.3" stroke-linejoin="bevel"/>
<polyline points="874.8,792.3 875.3,790.0 875.8,795.4 876.3,786.3 876.8,785.9 877.3,790.9 877.8,784.4 878.3,782.8 878.8,782.7 879.3,780.9 879.8,772.4 880.3,776.5 880.8,772.8 881.3,772.3 881.8,771.6 882.3,769.1 882.8,772.5 883.4,769.4 883.9,766.2 884.4,766.3 884.9,769.1 885.4,767.5 885.9,768.7 886.4,763.2 886.9,763.7 887.4,770.0 887.9,762.3 888.4,768.2 888.9,764.9 889.4,760.1 889.9,756.4 890.4,763.5 890.9,758.6 891.4,758.4 891.9,754.6 892.4,765.0 892.9,761.0 893.4,760.7 893.9,761.9 894.4,761.3 894.9,760.8 895.4,762.3 895.9,759.4 896.4,751.1 896.9,763.0 897.4,761.9 897.9,760.5 898.4,766.1 898.9,755.4 899.4,750.1 900.0,765.8 900.5,762.0 901.0,754.6 901.5,759.1 902.0,762.8 902.5,756.3 903.0,762.7 903.5,768.3 904.0,765.7 904.5,760.7 905.0,762.0 905.5,757.5 906.0,761.4 906.5,759.8 907.0,757.5 907.5,756.3 908.0,768.0 908.5,761.5 909.0,757.6 909.5,759.8 910.0,766.7 910.5,767.2 911.0,759.3 911.5,762.2 912.0,764.7 912.5,760.4 913.0,757.5 913.5,758.2 914.0,761.8 914.5,759.1 915.0,757.3 915.5,761.1 916.0,765.3 916.6,764.5 917.1,761.3 917.6,769.0 918.1,759.4 918.6,762.0 919.1,757.4 919.6,765.2 920.1,762.0 920.6,756.5 921.1,759.6 921.6,769.0 922.1,765.2 922.6,763.1 923.1,765.8 923.6,757.1 924.1,759.9 924.6,758.2 925.1,760.0 925.6,761.6 926.1,764.9 926.6,766.7 927.1,766.7 927.6,772.8 928.1,761.5 928.6,763.2 929.1,765.2 929.6,760.5 930.1,762.4 930.6,765.0 931.1,760.4 931.6,765.3 932.1,768.1 932.7,759.7 933.2,755.6 933.7,764.1 934.2,760.2 934.7,764.5 935.2,762.4 935.7,765.1 936.2,768.1 936.7,767.0 937.2,762.9 937.7,760.0 938.2,755.4 938.7,756.5 939.2,761.5 939.7,764.7 940.2,762.0 940.7,762.4 941.2,758.8 941.7,758.7 942.2,758.4 942.7,766.9 943.2,757.6 943.7,767.1 944.2,761.5 944.7,766.7 945.2,765.7 945.7,767.6 946.2,769.1 946.7,762.1 947.2,761.5 947.7,763.4 948.2,762.3 948.7,767.4 949.3,764.7 949.8,765.2 950.3,766.7 950.8,763.6 951.3,769.2 951.8,758.7 952.3,766.2 952.8,767.2 953.3,762.7 953.8,763.0 954.3,768.8 954.8,764.4 955.3,758.7 955.8,760.8 956.3,769.3 956.8,762.6 957.3,770.5" fill="none" stroke="#1e1e1e" stroke-width="1.3" stroke-linejoin="bevel"/>
<polyline points="874.8,790.9 875.3,785.3 875.8,788.0 876.3,783.0 876.8,784.6 877.3,783.5 877.8,788.1 878.3,779.3 878.8,780.5 879.3,778.4 879.8,777.7 880.3,766.0 880.8,765.3 881.3,766.8 881.8,767.6 882.3,767.4 882.8,766.4 883.4,771.7 883.9,765.8 884.4,764.7 884.9,760.0 885.4,763.8 885.9,762.9 886.4,762.2 886.9,758.9 887.4,761.1 887.9,763.9 888.4,755.2 888.9,750.0 889.4,760.4 889.9,759.8 890.4,756.2 890.9,755.2 891.4,766.5 891.9,754.8 892.4,752.0 892.9,754.6 893.4,758.0 893.9,753.9 894.4,754.7 894.9,757.1 895.4,754.5 895.9,756.4 896.4,755.8 896.9,752.1 897.4,756.2 897.9,751.8 898.4,759.3 898.9,752.7 899.4,755.2 900.0,749.5 900.5,754.5 901.0,751.6 901.5,761.5 902.0,755.7 902.5,758.1 903.0,750.0 903.5,751.9 904.0,755.8 904.5,751.6 905.0,760.5 905.5,755.1 906.0,757.1 906.5,757.7 907.0,756.2 907.5,759.5 908.0,754.4 908.5,758.2 909.0,761.2 909.5,757.7 910.0,757.5 910.5,755.9 911.0,757.4 911.5,759.6 912.0,756.4 912.5,751.4 913.0,758.0 913.5,756.9 914.0,759.2 914.5,757.7 915.0,763.3 915.5,753.4 916.0,754.3 916.6,760.2 917.1,754.3 917.6,759.1 918.1,758.0 918.6,751.1 919.1,760.5 919.6,763.1 920.1,759.0 920.6,753.4 921.1,761.2 921.6,754.8 922.1,758.1 922.6,760.1 923.1,755.9 923.6,752.7 924.1,758.3 924.6,758.7 925.1,755.9 925.6,756.2 926.1,761.6 926.6,758.8 927.1,757.5 927.6,757.1 928.1,759.9 928.6,759.6 929.1,758.8 929.6,754.5 930.1,758.2 930.6,757.3 931.1,759.8 931.6,763.7 932.1,763.1 932.7,762.0 933.2,760.2 933.7,758.8 934.2,761.1 934.7,758.3 935.2,758.9 935.7,757.2 936.2,760.0 936.7,760.0 937.2,766.8 937.7,762.3 938.2,759.1 938.7,763.2 939.2,758.9 939.7,764.1 940.2,763.4 940.7,770.9 941.2,757.0 941.7,760.6 942.2,760.5 942.7,762.0 943.2,763.5 943.7,757.6 944.2,758.6 944.7,762.2 945.2,764.6 945.7,757.4 946.2,755.9 946.7,765.4 947.2,764.4 947.7,765.3 948.2,758.2 948.7,760.9 949.3,762.5 949.8,763.3 950.3,761.4 950.8,761.7 951.3,765.4 951.8,760.4 952.3,760.1 952.8,760.6 953.3,760.3 953.8,762.6 954.3,761.5 954.8,760.8 955.3,767.3 955.8,763.4 956.3,761.3 956.8,766.9 957.3,760.6" fill="none" stroke="#1e1e1e" stroke-width="1.3" stroke-linejoin="bevel"/>
<polyline points="874.8,785.9 875.3,785.6 875.8,783.9 876.3,784.5 876.8,786.2 877.3,780.9 877.8,784.5 878.3,784.4 878.8,781.1 879.3,778.1 879.8,782.4 880.3,774.2 880.8,769.2 881.3,767.3 881.8,765.9 882.3,765.8 882.8,761.8 883.4,766.8 883.9,756.6 884.4,761.5 884.9,760.2 885.4,753.7 885.9,759.0 886.4,758.1 886.9,753.4 887.4,763.1 887.9,757.1 888.4,753.1 888.9,752.2 889.4,751.0 889.9,754.2 890.4,753.2 890.9,748.0 891.4,749.1 891.9,750.0 892.4,751.0 892.9,751.0 893.4,749.9 893.9,754.3 894.4,755.2 894.9,752.2 895.4,744.4 895.9,751.4 896.4,753.8 896.9,751.6 897.4,752.8 897.9,752.2 898.4,746.8 898.9,743.3 899.4,754.1 900.0,750.2 900.5,753.4 901.0,751.0 901.5,751.5 902.0,756.8 902.5,748.1 903.0,752.2 903.5,748.6 904.0,752.6 904.5,754.0 905.0,754.7 905.5,753.1 906.0,747.9 906.5,753.5 907.0,755.8 907.5,756.2 908.0,760.2 908.5,754.9 909.0,749.5 909.5,751.3 910.0,753.4 910.5,756.8 911.0,749.4 911.5,756.5 912.0,755.6 912.5,750.5 913.0,755.6 913.5,751.0 914.0,753.7 914.5,752.7 915.0,754.7 915.5,749.9 916.0,755.8 916.6,746.6 917.1,752.7 917.6,752.3 918.1,759.7 918.6,756.2 919.1,752.7 919.6,751.4 920.1,754.7 920.6,752.5 921.1,762.3 921.6,745.3 922.1,755.1 922.6,746.5 923.1,758.5 923.6,752.3 924.1,760.6 924.6,753.3 925.1,759.0 925.6,756.0 926.1,759.4 926.6,755.5 927.1,745.4 927.6,753.1 928.1,750.4 928.6,759.0 929.1,757.6 929.6,755.9 930.1,757.5 930.6,756.7 931.1,754.1 931.6,762.8 932.1,757.0 932.7,755.6 933.2,751.3 933.7,754.3 934.2,756.5 934.7,755.9 935.2,755.0 935.7,756.5 936.2,752.9 936.7,756.9 937.2,751.6 937.7,754.0 938.2,754.5 938.7,760.1 939.2,758.8 939.7,757.5 940.2,753.4 940.7,756.0 941.2,760.2 941.7,761.8 942.2,752.5 942.7,756.1 943.2,758.0 943.7,758.9 944.2,757.8 944.7,760.2 945.2,753.0 945.7,763.3 946.2,754.2 946.7,758.3 947.2,760.0 947.7,762.3 948.2,761.4 948.7,761.4 949.3,762.8 949.8,758.0 950.3,761.2 950.8,763.9 951.3,756.1 951.8,754.0 952.3,755.4 952.8,763.7 953.3,763.2 953.8,757.8 954.3,759.9 954.8,760.8 955.3,762.8 955.8,752.8 956.3,757.4 956.8,758.5 957.3,760.6" fill="none" stroke="#1e1e1e" stroke-width="1.3" stroke-linejoin="bevel"/>
<polyline points="874.8,786.2 875.3,784.8 875.8,786.9 876.3,777.1 876.8,796.5 877.3,788.7 877.8,789.0 878.3,781.0 878.8,780.9 879.3,783.2 879.8,779.3 880.3,770.5 880.8,763.6 881.3,766.2 881.8,762.6 882.3,764.7 882.8,755.8 883.4,758.1 883.9,758.4 884.4,754.7 884.9,758.9 885.4,750.4 885.9,749.3 886.4,751.6 886.9,755.0 887.4,750.5 887.9,749.0 888.4,753.4 888.9,751.0 889.4,748.0 889.9,749.9 890.4,748.4 890.9,751.1 891.4,749.3 891.9,745.9 892.4,746.8 892.9,746.9 893.4,749.5 893.9,749.4 894.4,745.2 894.9,747.4 895.4,749.1 895.9,751.7 896.4,748.8 896.9,754.7 897.4,748.0 897.9,750.5 898.4,746.8 898.9,744.6 899.4,748.4 900.0,749.7 900.5,749.2 901.0,748.6 901.5,747.0 902.0,745.4 902.5,747.3 903.0,750.0 903.5,751.7 904.0,737.1 904.5,750.7 905.0,752.4 905.5,753.0 906.0,750.1 906.5,751.1 907.0,747.4 907.5,748.7 908.0,750.9 908.5,745.3 909.0,746.5 909.5,750.0 910.0,744.8 910.5,749.6 911.0,744.4 911.5,750.3 912.0,749.8 912.5,747.8 913.0,746.6 913.5,748.2 914.0,742.3 914.5,748.7 915.0,750.6 915.5,754.4 916.0,748.5 916.6,749.8 917.1,755.3 917.6,756.5 918.1,748.9 918.6,754.3 919.1,754.8 919.6,752.6 920.1,747.5 920.6,747.8 921.1,753.1 921.6,759.2 922.1,750.6 922.6,756.7 923.1,758.0 923.6,747.2 924.1,749.5 924.6,756.9 925.1,755.1 925.6,753.7 926.1,751.8 926.6,754.1 927.1,749.9 927.6,760.8 928.1,748.2 928.6,746.1 929.1,752.9 929.6,757.4 930.1,750.8 930.6,752.4 931.1,749.1 931.6,752.5 932.1,749.3 932.7,749.4 933.2,747.9 933.7,751.1 934.2,759.5 934.7,753.0 935.2,753.9 935.7,761.1 936.2,751.2 936.7,750.0 937.2,755.4 937.7,749.4 938.2,754.8 938.7,757.8 939.2,750.1 939.7,752.1 940.2,759.9 940.7,750.4 941.2,751.8 941.7,755.0 942.2,753.2 942.7,751.4 943.2,760.0 943.7,752.5 944.2,755.7 944.7,753.2 945.2,753.9 945.7,750.0 946.2,758.1 946.7,753.4 947.2,759.4 947.7,751.0 948.2,753.5 948.7,756.9 949.3,755.7 949.8,753.1 950.3,754.9 950.8,751.0 951.3,755.7 951.8,746.4 952.3,756.3 952.8,760.5 953.3,758.9 953.8,758.9 954.3,754.5 954.8,757.7 955.3,754.7 955.8,755.9 956.3,755.9 956.8,744.6 957.3,759.6" fill="none" stroke="#1e1e1e" stroke-width="1.3" stroke-linejoin="bevel"/>
<polyline points="874.8,787.5 875.3,788.8 875.8,782.6 876.3,788.3 876.8,787.6 877.3,778.2 877.8,779.8 878.3,783.2 878.8,776.5 879.3,775.0 879.8,769.5 880.3,773.8 880.8,759.3 881.3,758.7 881.8,757.9 882.3,754.5 882.8,755.5 883.4,755.8 883.9,749.8 884.4,754.4 884.9,756.6 885.4,754.8 885.9,757.1 886.4,753.2 886.9,748.5 887.4,754.1 887.9,749.8 888.4,753.4 888.9,745.8 889.4,738.7 889.9,741.6 890.4,746.0 890.9,747.0 891.4,744.2 891.9,748.2 892.4,740.6 892.9,742.0 893.4,747.7 893.9,744.4 894.4,744.5 894.9,748.9 895.4,747.8 895.9,741.2 896.4,744.7 896.9,738.1 897.4,743.9 897.9,745.3 898.4,738.0 898.9,749.5 899.4,751.0 900.0,745.8 900.5,747.4 901.0,749.4 901.5,743.7 902.0,747.9 902.5,745.7 903.0,739.2 903.5,741.4 904.0,742.6 904.5,748.4 905.0,745.1 905.5,748.3 906.0,743.3 906.5,740.6 907.0,752.2 907.5,754.6 908.0,746.6 908.5,744.6 909.0,749.5 909.5,741.7 910.0,744.9 910.5,740.7 911.0,747.4 911.5,746.7 912.0,744.5 912.5,743.8 913.0,740.8 913.5,743.3 914.0,750.5 914.5,745.1 915.0,750.8 915.5,743.5 916.0,746.3 916.6,745.1 917.1,745.9 917.6,749.6 918.1,739.9 918.6,749.6 919.1,749.6 919.6,747.3 920.1,747.6 920.6,746.7 921.1,749.9 921.6,747.8 922.1,744.7 922.6,748.3 923.1,751.2 923.6,749.2 924.1,748.1 924.6,748.8 925.1,746.5 925.6,746.7 926.1,741.9 926.6,747.8 927.1,752.0 927.6,747.3 928.1,745.6 928.6,751.9 929.1,749.5 929.6,749.5 930.1,750.7 930.6,751.6 931.1,749.1 931.6,746.4 932.1,755.4 932.7,749.7 933.2,746.9 933.7,750.3 934.2,753.8 934.7,744.9 935.2,754.4 935.7,749.5 936.2,756.9 936.7,752.4 937.2,749.9 937.7,754.6 938.2,754.8 938.7,749.3 939.2,751.4 939.7,748.9 940.2,753.9 940.7,745.9 941.2,750.3 941.7,743.6 942.2,753.1 942.7,743.4 943.2,747.6 943.7,752.2 944.2,750.1 944.7,749.9 945.2,748.2 945.7,750.0 946.2,745.6 946.7,752.9 947.2,754.6 947.7,754.5 948.2,751.9 948.7,756.3 949.3,753.7 949.8,755.5 950.3,753.6 950.8,752.5 951.3,749.8 951.8,743.5 952.3,754.8 952.8,752.3 953.3,759.6 953.8,746.0 954.3,755.8 954.8,749.7 955.3,753.0 955.8,750.1 956.3,754.4 956.8,753.2 957.3,756.4" fill="none" stroke="#1e1e1e" stroke-width="1.3" stroke-linejoin="bevel"/>
<polyline points="874.8,786.5 875.3,787.7 875.8,790.4 876.3,787.8 876.8,785.6 877.3,790.3 877.8,785.6 878.3,784.2 878.8,777.2 879.3,771.9 879.8,760.1 880.3,769.5 880.8,760.1 881.3,763.9 881.8,765.2 882.3,752.3 882.8,757.9 883.4,752.8 883.9,753.1 884.4,746.1 884.9,749.0 885.4,748.3 885.9,751.7 886.4,753.2 886.9,746.2 887.4,743.2 887.9,751.4 888.4,742.9 888.9,742.6 889.4,742.7 889.9,743.5 890.4,744.0 890.9,739.4 891.4,740.7 891.9,747.3 892.4,746.2 892.9,742.1 893.4,741.3 893.9,739.5 894.4,743.7 894.9,738.4 895.4,740.5 895.9,738.5 896.4,737.9 896.9,740.2 897.4,740.1 897.9,738.1 898.4,739.9 898.9,740.4 899.4,738.6 900.0,738.0 900.5,739.8 901.0,742.7 901.5,744.2 902.0,741.1 902.5,739.6 903.0,740.5 903.5,747.2 904.0,743.9 904.5,737.6 905.0,740.7 905.5,739.2 906.0,739.8 906.5,735.4 907.0,741.3 907.5,736.7 908.0,739.4 908.5,746.7 909.0,745.0 909.5,738.7 910.0,738.2 910.5,738.8 911.0,735.5 911.5,738.7 912.0,741.2 912.5,738.7 913.0,744.9 913.5,742.3 914.0,740.7 914.5,748.6 915.0,745.2 915.5,743.1 916.0,749.3 916.6,747.5 917.1,740.7 917.6,744.3 918.1,741.8 918.6,738.5 919.1,750.0 919.6,748.8 920.1,739.4 920.6,745.5 921.1,738.3 921.6,747.7 922.1,743.9 922.6,743.2 923.1,748.6 923.6,744.4 924.1,743.6 924.6,747.7 925.1,743.6 925.6,747.8 926.1,744.9 926.6,747.8 927.1,747.2 927.6,747.8 928.1,741.8 928.6,751.8 929.1,744.9 929.6,751.6 930.1,743.5 930.6,744.7 931.1,744.9 931.6,749.9 932.1,744.5 932.7,747.5 933.2,740.7 933.7,744.6 934.2,747.1 934.7,746.0 935.2,740.0 935.7,748.3 936.2,743.4 936.7,753.5 937.2,746.2 937.7,754.8 938.2,749.3 938.7,748.7 939.2,745.6 939.7,746.9 940.2,749.0 940.7,740.8 941.2,751.0 941.7,743.6 942.2,746.9 942.7,738.4 943.2,749.5 943.7,750.6 944.2,749.1 944.7,749.3 945.2,747.0 945.7,748.9 946.2,752.6 946.7,747.1 947.2,750.4 947.7,751.2 948.2,748.0 948.7,749.7 949.3,749.7 949.8,747.3 950.3,757.6 950.8,747.7 951.3,755.2 951.8,753.1 952.3,742.4 952.8,750.4 953.3,753.2 953.8,752.6 954.3,746.7 954.8,750.8 955.3,745.8 955.8,746.4 956.3,749.3 956.8,750.9 957.3,755.9" fill="none" stroke="#1e1e1e" stroke-width="1.3" stroke-linejoin="bevel"/>
<polyline points="874.8,787.3 875.3,789.8 875.8,781.9 876.3,782.0 876.8,784.4 877.3,792.2 877.8,781.4 878.3,777.1 878.8,777.4 879.3,777.3 879.8,763.4 880.3,764.6 880.8,757.5 881.3,764.4 881.8,759.1 882.3,755.3 882.8,752.0 883.4,749.5 883.9,749.1 884.4,744.8 884.9,742.6 885.4,740.6 885.9,743.5 886.4,739.7 886.9,744.6 887.4,733.5 887.9,742.1 888.4,741.4 888.9,743.3 889.4,737.6 889.9,732.9 890.4,734.5 890.9,741.4 891.4,736.1 891.9,735.5 892.4,734.7 892.9,736.4 893.4,735.6 893.9,730.9 894.4,734.1 894.9,739.7 895.4,741.2 895.9,735.6 896.4,734.2 896.9,740.8 897.4,735.4 897.9,731.9 898.4,735.6 898.9,738.5 899.4,741.6 900.0,734.5 900.5,738.1 901.0,735.2 901.5,740.4 902.0,737.4 902.5,737.4 903.0,733.2 903.5,735.6 904.0,735.6 904.5,724.2 905.0,739.9 905.5,737.0 906.0,736.4 906.5,735.9 907.0,737.4 907.5,738.3 908.0,732.9 908.5,738.0 909.0,738.1 909.5,737.9 910.0,732.7 910.5,737.5 911.0,733.6 911.5,739.4 912.0,742.9 912.5,741.5 913.0,737.3 913.5,736.7 914.0,736.7 914.5,740.1 915.0,736.6 915.5,737.2 916.0,730.4 916.6,736.3 917.1,736.6 917.6,737.6 918.1,743.8 918.6,734.9 919.1,735.1 919.6,742.0 920.1,736.5 920.6,739.5 921.1,740.8 921.6,740.3 922.1,737.7 922.6,743.7 923.1,745.9 923.6,737.2 924.1,739.9 924.6,744.2 925.1,740.3 925.6,737.6 926.1,739.7 926.6,744.2 927.1,737.9 927.6,742.4 928.1,743.0 928.6,739.4 929.1,743.8 929.6,744.3 930.1,745.5 930.6,745.4 931.1,737.0 931.6,745.5 932.1,744.5 932.7,745.9 933.2,739.7 933.7,745.9 934.2,744.1 934.7,738.9 935.2,747.5 935.7,740.4 936.2,739.7 936.7,744.7 937.2,741.3 937.7,744.8 938.2,742.8 938.7,744.7 939.2,746.7 939.7,743.8 940.2,747.0 940.7,747.1 941.2,741.3 941.7,747.3 942.2,746.5 942.7,745.0 943.2,748.5 943.7,750.5 944.2,747.4 944.7,739.7 945.2,746.5 945.7,744.6 946.2,744.2 946.7,746.4 947.2,744.2 947.7,751.1 948.2,746.5 948.7,745.7 949.3,748.4 949.8,748.6 950.3,750.0 950.8,748.2 951.3,746.0 951.8,746.7 952.3,738.7 952.8,741.2 953.3,750.1 953.8,745.4 954.3,753.0 954.8,753.0 955.3,742.4 955.8,748.0 956.3,757.1 956.8,744.3 957.3,748.5" fill="none" stroke="#1e1e1e" stroke-width="1.3" stroke-linejoin="bevel"/>
<polyline points="874.8,785.3 875.3,785.2 875.8,785.1 876.3,786.0 876.8,788.7 877.3,783.3 877.8,787.8 878.3,781.1 878.8,781.8 879.3,777.9 879.8,771.1 880.3,771.7 880.8,766.3 881.3,763.8 881.8,769.0 882.3,756.8 882.8,763.6 883.4,762.8 883.9,757.0 884.4,761.8 884.9,760.2 885.4,751.6 885.9,757.2 886.4,756.3 886.9,751.5 887.4,755.5 887.9,755.6 888.4,750.1 888.9,745.2 889.4,753.3 889.9,749.0 890.4,745.3 890.9,749.7 891.4,742.6 891.9,749.5 892.4,755.8 892.9,740.5 893.4,751.9 893.9,747.0 894.4,748.8 894.9,747.0 895.4,752.3 895.9,750.0 896.4,747.3 896.9,745.5 897.4,748.6 897.9,754.1 898.4,745.8 898.9,751.6 899.4,751.3 900.0,743.2 900.5,754.1 901.0,750.1 901.5,758.1 902.0,756.4 902.5,749.5 903.0,749.9 903.5,747.0 904.0,745.8 904.5,753.4 905.0,749.8 905.5,749.4 906.0,750.2 906.5,753.3 907.0,754.3 907.5,751.1 908.0,750.4 908.5,751.6 909.0,758.5 909.5,744.0 910.0,747.3 910.5,753.2 911.0,752.1 911.5,756.0 912.0,756.3 912.5,758.8 913.0,749.1 913.5,754.1 914.0,751.2 914.5,755.5 915.0,752.8 915.5,755.4 916.0,749.7 916.6,753.0 917.1,750.7 917.6,751.6 918.1,751.0 918.6,749.1 919.1,756.7 919.6,753.9 920.1,756.8 920.6,749.5 921.1,746.2 921.6,750.9 922.1,752.7 922.6,756.1 923.1,757.1 923.6,757.8 924.1,759.0 924.6,756.2 925.1,754.1 925.6,751.1 926.1,756.3 926.6,752.1 927.1,751.1 927.6,756.1 928.1,754.9 928.6,757.2 929.1,751.7 929.6,758.5 930.1,755.7 930.6,753.9 931.1,751.9 931.6,750.8 932.1,749.9 932.7,759.7 933.2,749.8 933.7,757.2 934.2,754.1 934.7,753.0 935.2,753.5 935.7,754.9 936.2,758.5 936.7,757.3 937.2,755.4 937.7,750.6 938.2,749.3 938.7,762.2 939.2,752.1 939.7,750.2 940.2,759.8 940.7,750.6 941.2,758.6 941.7,759.3 942.2,757.0 942.7,759.6 943.2,751.3 943.7,752.0 944.2,755.7 944.7,756.4 945.2,756.2 945.7,758.2 946.2,754.0 946.7,749.2 947.2,758.2 947.7,756.0 948.2,759.8 948.7,764.3 949.3,757.3 949.8,759.2 950.3,754.0 950.8,760.5 951.3,758.5 951.8,758.3 952.3,760.7 952.8,753.5 953.3,759.6 953.8,759.2 954.3,763.3 954.8,751.4 955.3,757.5 955.8,765.6 956.3,756.5 956.8,756.5 957.3,764.4" fill="none" stroke="#1e1e1e" stroke-width="1.3" stroke-linejoin="bevel"/>
<polyline points="874.8,794.9 875.3,786.5 875.8,783.6 876.3,784.0 876.8,784.7 877.3,783.1 877.8,783.2 878.3,783.6 878.8,778.8 879.3,776.4 879.8,771.3 880.3,763.7 880.8,767.7 881.3,763.4 881.8,758.2 882.3,757.2 882.8,757.4 883.4,754.9 883.9,752.7 884.4,754.5 884.9,754.3 885.4,748.4 885.9,748.5 886.4,743.8 886.9,746.3 887.4,747.9 887.9,748.7 888.4,745.7 888.9,744.4 889.4,741.7 889.9,744.7 890.4,739.7 890.9,743.8 891.4,743.1 891.9,739.7 892.4,743.8 892.9,741.8 893.4,744.5 893.9,740.6 894.4,743.9 894.9,747.7 895.4,742.8 895.9,744.9 896.4,739.8 896.9,740.8 897.4,735.4 897.9,741.5 898.4,738.1 898.9,742.5 899.4,734.9 900.0,739.2 900.5,742.5 901.0,743.7 901.5,736.5 902.0,741.0 902.5,751.5 903.0,745.3 903.5,743.2 904.0,733.0 904.5,739.5 905.0,744.7 905.5,743.8 906.0,744.6 906.5,746.5 907.0,743.5 907.5,746.3 908.0,737.0 908.5,752.3 909.0,742.5 909.5,741.3 910.0,749.0 910.5,745.9 911.0,747.3 911.5,741.8 912.0,745.1 912.5,746.7 913.0,740.2 913.5,743.6 914.0,743.6 914.5,743.5 915.0,742.1 915.5,740.3 916.0,746.3 916.6,745.7 917.1,749.0 917.6,744.8 918.1,742.8 918.6,740.1 919.1,745.6 919.6,744.3 920.1,752.6 920.6,753.7 921.1,751.3 921.6,742.6 922.1,741.0 922.6,745.2 923.1,742.9 923.6,751.2 924.1,746.7 924.6,744.9 925.1,746.4 925.6,750.9 926.1,743.3 926.6,748.4 927.1,742.1 927.6,746.1 928.1,744.6 928.6,748.2 929.1,747.7 929.6,751.5 930.1,749.7 930.6,745.3 931.1,742.8 931.6,744.7 932.1,746.2 932.7,746.9 933.2,745.2 933.7,751.7 934.2,751.3 934.7,747.1 935.2,746.4 935.7,747.4 936.2,748.2 936.7,748.4 937.2,742.8 937.7,747.1 938.2,742.1 938.7,748.9 939.2,751.3 939.7,745.2 940.2,749.6 940.7,747.0 941.2,746.8 941.7,756.2 942.2,752.5 942.7,751.2 943.2,748.0 943.7,751.1 944.2,749.0 944.7,751.4 945.2,746.7 945.7,749.7 946.2,748.6 946.7,745.1 947.2,756.2 947.7,753.2 948.2,747.6 948.7,745.3 949.3,748.0 949.8,747.7 950.3,748.5 950.8,745.4 951.3,747.9 951.8,751.1 952.3,752.5 952.8,744.1 953.3,751.2 953.8,747.8 954.3,747.6 954.8,750.3 955.3,749.1 955.8,754.0 956.3,754.1 956.8,750.6 957.3,749.5" fill="none" stroke="#1e1e1e" stroke-width="1.3" stroke-linejoin="bevel"/>
<polyline points="994.7,894.5 995.2,888.6 995.7,886.5 996.2,891.1 996.8,892.8 997.3,885.1 997.8,894.2 998.3,886.5 998.8,891.4 999.4,885.1 999.9,887.4 1000.4,885.3 1000.9,887.2 1001.4,891.1 1001.9,883.6 1002.5,885.9 1003.0,889.3 1003.5,885.3 1004.0,895.1 1004.5,881.4 1005.0,897.1 1005.6,884.5 1006.1,891.0 1006.6,893.5 1007.1,889.2 1007.6,881.6 1008.1,885.8 1008.7,887.4 1009.2,889.4 1009.7,891.0 1010.2,891.6" fill="none" stroke="#1e1e1e" stroke-width="1.4" stroke-linejoin="bevel"/>
<polyline points="994.7,881.8 995.2,889.5 995.7,878.7 996.2,886.2 996.8,881.3 997.3,878.5 997.8,889.2 998.3,885.5 998.8,889.5 999.4,879.3 999.9,880.7 1000.4,885.2 1000.9,882.9 1001.4,885.9 1001.9,883.1 1002.5,884.2 1003.0,881.0 1003.5,890.7 1004.0,884.3 1004.5,880.9 1005.0,888.3 1005.6,887.5 1006.1,886.4 1006.6,886.5 1007.1,884.0 1007.6,885.1 1008.1,876.8 1008.7,879.4 1009.2,880.7 1009.7,886.7 1010.2,890.4" fill="none" stroke="#1e1e1e" stroke-width="1.4" stroke-linejoin="bevel"/>
<polyline points="994.7,880.8 995.2,886.3 995.7,880.4 996.2,884.4 996.8,883.5 997.3,876.6 997.8,883.1 998.3,882.6 998.8,877.3 999.4,877.7 999.9,876.8 1000.4,887.3 1000.9,890.2 1001.4,884.6 1001.9,888.1 1002.5,876.5 1003.0,887.4 1003.5,889.7 1004.0,888.3 1004.5,878.1 1005.0,886.2 1005.6,881.4 1006.1,886.1 1006.6,879.3 1007.1,881.9 1007.6,879.6 1008.1,883.7 1008.7,881.4 1009.2,886.3 1009.7,885.1 1010.2,883.5" fill="none" stroke="#1e1e1e" stroke-width="1.4" stroke-linejoin="bevel"/>
<polyline points="994.7,884.9 995.2,886.1 995.7,889.1 996.2,886.6 996.8,887.3 997.3,885.9 997.8,885.8 998.3,883.4 998.8,878.6 999.4,888.4 999.9,888.3 1000.4,882.2 1000.9,893.7 1001.4,881.4 1001.9,890.1 1002.5,887.1 1003.0,887.4 1003.5,890.6 1004.0,889.8 1004.5,886.2 1005.0,881.9 1005.6,881.2 1006.1,886.9 1006.6,892.4 1007.1,889.6 1007.6,886.0 1008.1,887.4 1008.7,888.8 1009.2,893.0 1009.7,883.1 1010.2,889.0" fill="none" stroke="#1e1e1e" stroke-width="1.4" stroke-linejoin="bevel"/>
<polyline points="994.7,883.6 995.2,882.6 995.7,891.7 996.2,888.0 996.8,885.8 997.3,887.1 997.8,890.6 998.3,887.0 998.8,893.1 999.4,885.6 999.9,883.5 1000.4,886.2 1000.9,882.9 1001.4,885.3 1001.9,891.6 1002.5,893.5 1003.0,889.2 1003.5,887.5 1004.0,883.0 1004.5,882.7 1005.0,888.1 1005.6,887.3 1006.1,884.4 1006.6,884.9 1007.1,892.9 1007.6,890.6 1008.1,886.9 1008.7,887.6 1009.2,891.8 1009.7,888.1 1010.2,887.6" fill="none" stroke="#1e1e1e" stroke-width="1.4" stroke-linejoin="bevel"/>
<polyline points="994.7,884.8 995.2,883.9 995.7,882.5 996.2,891.4 996.8,892.8 997.3,888.0 997.8,893.2 998.3,893.3 998.8,891.2 999.4,885.6 999.9,897.3 1000.4,897.0 1000.9,889.2 1001.4,899.2 1001.9,891.7 1002.5,888.4 1003.0,889.9 1003.5,884.1 1004.0,890.1 1004.5,885.1 1005.0,896.0 1005.6,892.8 1006.1,885.9 1006.6,893.8 1007.1,884.6 1007.6,892.1 1008.1,893.4 1008.7,891.8 1009.2,887.0 1009.7,891.0 1010.2,890.8" fill="none" stroke="#1e1e1e" stroke-width="1.4" stroke-linejoin="bevel"/>
<polyline points="994.7,889.2 995.2,890.0 995.7,889.6 996.2,880.7 996.8,880.3 997.3,883.3 997.8,885.0 998.3,875.0 998.8,880.8 999.4,890.4 999.9,878.3 1000.4,880.3 1000.9,880.4 1001.4,885.2 1001.9,883.0 1002.5,882.0 1003.0,877.2 1003.5,885.7 1004.0,883.3 1004.5,880.6 1005.0,883.3 1005.6,886.4 1006.1,877.3 1006.6,877.0 1007.1,879.2 1007.6,879.7 1008.1,871.0 1008.7,880.8 1009.2,887.7 1009.7,881.9 1010.2,887.3" fill="none" stroke="#1e1e1e" stroke-width="1.4" stroke-linejoin="bevel"/>
<polyline points="994.7,883.9 995.2,890.0 995.7,890.7 996.2,882.4 996.8,881.1 997.3,885.9 997.8,879.5 998.3,882.9 998.8,877.7 999.4,884.7 999.9,884.4 1000.4,890.9 1000.9,885.8 1001.4,881.8 1001.9,884.0 1002.5,879.2 1003.0,884.5 1003.5,883.5 1004.0,886.1 1004.5,888.1 1005.0,876.4 1005.6,885.7 1006.1,887.4 1006.6,879.6 1007.1,892.0 1007.6,881.5 1008.1,894.3 1008.7,887.5 1009.2,888.3 1009.7,885.5 1010.2,888.4" fill="none" stroke="#1e1e1e" stroke-width="1.4" stroke-linejoin="bevel"/>
<polyline points="994.7,879.2 995.2,874.6 995.7,884.6 996.2,879.6 996.8,885.5 997.3,884.9 997.8,877.1 998.3,885.3 998.8,883.5 999.4,883.3 999.9,884.3 1000.4,882.4 1000.9,882.5 1001.4,886.7 1001.9,878.5 1002.5,877.6 1003.0,879.4 1003.5,886.6 1004.0,881.2 1004.5,890.1 1005.0,870.1 1005.6,879.6 1006.1,880.7 1006.6,883.6 1007.1,887.8 1007.6,881.7 1008.1,878.4 1008.7,885.8 1009.2,888.7 1009.7,872.2 1010.2,884.8" fill="none" stroke="#1e1e1e" stroke-width="1.4" stroke-linejoin="bevel"/>
<polyline points="994.7,885.9 995.2,887.3 995.7,890.4 996.2,889.4 996.8,888.3 997.3,884.6 997.8,890.4 998.3,886.6 998.8,889.6 999.4,886.9 999.9,890.0 1000.4,892.2 1000.9,890.2 1001.4,891.9 1001.9,883.7 1002.5,891.1 1003.0,890.4 1003.5,886.7 1004.0,888.6 1004.5,878.0 1005.0,889.6 1005.6,887.6 1006.1,880.2 1006.6,891.3 1007.1,886.7 1007.6,890.3 1008.1,888.3 1008.7,891.2 1009.2,889.6 1009.7,888.1 1010.2,891.2" fill="none" stroke="#1e1e1e" stroke-width="1.4" stroke-linejoin="bevel"/>
<polyline points="1012.0,882.3 1012.5,869.9 1013.0,879.1 1013.5,876.6 1014.0,874.5 1014.5,884.2 1015.0,882.8 1015.5,875.3 1016.0,875.2 1016.5,883.3 1017.0,877.7 1017.5,879.1 1018.0,872.6 1018.5,880.1 1019.1,885.3 1019.6,879.0 1020.1,880.4 1020.6,887.9 1021.1,884.4 1021.6,886.7 1022.1,883.5 1022.6,885.8 1023.1,874.3 1023.6,877.7 1024.1,874.3 1024.6,889.8 1025.1,881.7 1025.6,880.4 1026.1,877.9 1026.6,876.8 1027.1,869.7 1027.6,889.8 1028.1,880.5 1028.6,881.1 1029.1,875.2 1029.6,880.5 1030.1,882.3 1030.6,880.4 1031.1,883.2 1031.6,877.3 1032.1,882.0 1032.6,884.2 1033.2,882.9 1033.7,882.1 1034.2,880.2 1034.7,876.6 1035.2,882.8 1035.7,879.0 1036.2,876.7 1036.7,883.6 1037.2,874.0 1037.7,878.2 1038.2,883.5 1038.7,884.2 1039.2,878.9 1039.7,880.6 1040.2,882.5 1040.7,880.1 1041.2,877.2 1041.7,882.1 1042.2,881.0 1042.7,880.7 1043.2,884.7 1043.7,881.5 1044.2,878.4 1044.7,880.9 1045.2,888.0 1045.7,877.3 1046.2,879.1 1046.7,877.0 1047.3,881.6 1047.8,875.1 1048.3,881.9 1048.8,883.1 1049.3,877.0 1049.8,876.7 1050.3,874.1 1050.8,880.2 1051.3,875.5 1051.8,877.5 1052.3,878.3 1052.8,877.2 1053.3,883.3 1053.8,886.3 1054.3,871.4 1054.8,876.7 1055.3,880.9 1055.8,875.7 1056.3,877.8 1056.8,880.7 1057.3,885.4 1057.8,884.6 1058.3,878.7 1058.8,880.4 1059.3,878.4 1059.8,879.1 1060.3,875.1 1060.8,872.7 1061.4,878.3 1061.9,883.7 1062.4,882.8 1062.9,872.3 1063.4,879.0 1063.9,877.2 1064.4,880.9 1064.9,875.3 1065.4,883.4 1065.9,878.9 1066.4,882.0 1066.9,883.2 1067.4,871.9 1067.9,878.8 1068.4,885.7 1068.9,879.7 1069.4,883.8 1069.9,881.3 1070.4,877.6 1070.9,880.8 1071.4,883.8 1071.9,884.8 1072.4,885.4 1072.9,875.2 1073.4,882.9 1073.9,874.1 1074.4,879.1 1074.9,878.7 1075.5,882.1 1076.0,880.8 1076.5,884.5 1077.0,877.1 1077.5,882.9 1078.0,881.1 1078.5,879.5 1079.0,874.7 1079.5,881.8 1080.0,880.8 1080.5,882.6 1081.0,879.3 1081.5,878.5 1082.0,881.0 1082.5,881.3 1083.0,882.2 1083.5,887.0 1084.0,877.0 1084.5,887.5 1085.0,867.6 1085.5,883.3 1086.0,876.2 1086.5,887.4 1087.0,875.9 1087.5,883.7 1088.0,875.5 1088.5,874.9 1089.0,882.6 1089.6,882.9 1090.1,876.6 1090.6,889.0 1091.1,878.1 1091.6,885.6 1092.1,875.3 1092.6,875.5 1093.1,879.7 1093.6,875.3 1094.1,881.2 1094.6,870.8 1095.1,880.1 1095.6,877.1 1096.1,875.5" fill="none" stroke="#aaa" stroke-width="1.3" stroke-linejoin="bevel"/>
<polyline points="1012.0,882.8 1012.5,881.1 1013.0,880.2 1013.5,885.2 1014.0,883.2 1014.5,883.5 1015.0,887.3 1015.5,882.5 1016.0,886.8 1016.5,882.3 1017.0,886.9 1017.5,886.9 1018.0,882.9 1018.5,879.3 1019.1,880.4 1019.6,881.9 1020.1,888.0 1020.6,885.3 1021.1,884.7 1021.6,887.8 1022.1,888.9 1022.6,891.5 1023.1,883.6 1023.6,888.2 1024.1,888.8 1024.6,882.2 1025.1,886.4 1025.6,882.3 1026.1,885.0 1026.6,887.5 1027.1,879.0 1027.6,882.3 1028.1,882.5 1028.6,886.1 1029.1,882.7 1029.6,887.1 1030.1,882.2 1030.6,883.5 1031.1,887.9 1031.6,886.7 1032.1,886.0 1032.6,885.2 1033.2,889.3 1033.7,890.7 1034.2,883.8 1034.7,882.3 1035.2,881.0 1035.7,892.0 1036.2,881.5 1036.7,879.8 1037.2,886.1 1037.7,889.1 1038.2,880.0 1038.7,884.4 1039.2,879.2 1039.7,882.1 1040.2,891.3 1040.7,885.4 1041.2,883.7 1041.7,885.0 1042.2,885.8 1042.7,884.2 1043.2,879.9 1043.7,879.9 1044.2,892.5 1044.7,881.4 1045.2,889.2 1045.7,881.6 1046.2,889.6 1046.7,887.1 1047.3,883.5 1047.8,892.3 1048.3,880.6 1048.8,883.3 1049.3,880.8 1049.8,881.1 1050.3,882.7 1050.8,880.3 1051.3,882.8 1051.8,890.4 1052.3,877.1 1052.8,879.0 1053.3,880.2 1053.8,882.1 1054.3,888.0 1054.8,886.8 1055.3,885.8 1055.8,884.7 1056.3,893.4 1056.8,879.4 1057.3,879.2 1057.8,883.7 1058.3,884.6 1058.8,882.8 1059.3,880.4 1059.8,878.5 1060.3,882.6 1060.8,880.8 1061.4,881.7 1061.9,879.3 1062.4,888.9 1062.9,885.4 1063.4,890.9 1063.9,881.5 1064.4,883.8 1064.9,882.5 1065.4,883.6 1065.9,882.4 1066.4,882.8 1066.9,875.6 1067.4,882.3 1067.9,886.1 1068.4,875.6 1068.9,882.0 1069.4,885.6 1069.9,888.4 1070.4,883.0 1070.9,885.1 1071.4,890.2 1071.9,888.4 1072.4,881.5 1072.9,880.8 1073.4,887.3 1073.9,884.1 1074.4,881.0 1074.9,882.3 1075.5,884.4 1076.0,882.3 1076.5,882.1 1077.0,882.2 1077.5,877.2 1078.0,890.0 1078.5,887.9 1079.0,889.1 1079.5,882.5 1080.0,883.5 1080.5,885.3 1081.0,886.3 1081.5,875.7 1082.0,884.4 1082.5,879.0 1083.0,882.7 1083.5,880.3 1084.0,889.7 1084.5,885.1 1085.0,882.8 1085.5,888.4 1086.0,882.6 1086.5,880.0 1087.0,882.1 1087.5,881.4 1088.0,883.0 1088.5,886.2 1089.0,882.4 1089.6,882.6 1090.1,886.8 1090.6,883.9 1091.1,886.5 1091.6,883.3 1092.1,877.6 1092.6,878.3 1093.1,876.2 1093.6,887.3 1094.1,884.4 1094.6,880.8 1095.1,878.8 1095.6,884.1 1096.1,882.2" fill="none" stroke="#aaa" stroke-width="1.3" stroke-linejoin="bevel"/>
<polyline points="1012.0,885.3 1012.5,880.7 1013.0,879.6 1013.5,890.2 1014.0,880.2 1014.5,883.9 1015.0,889.4 1015.5,878.0 1016.0,889.0 1016.5,887.3 1017.0,887.1 1017.5,889.3 1018.0,883.9 1018.5,880.2 1019.1,896.8 1019.6,888.4 1020.1,893.2 1020.6,894.2 1021.1,891.0 1021.6,891.7 1022.1,892.8 1022.6,896.2 1023.1,891.9 1023.6,895.0 1024.1,888.8 1024.6,888.3 1025.1,890.2 1025.6,891.5 1026.1,891.9 1026.6,897.5 1027.1,893.0 1027.6,889.9 1028.1,897.5 1028.6,890.9 1029.1,890.9 1029.6,891.4 1030.1,888.1 1030.6,885.0 1031.1,889.8 1031.6,888.0 1032.1,885.7 1032.6,889.5 1033.2,888.2 1033.7,886.6 1034.2,881.8 1034.7,888.2 1035.2,895.7 1035.7,892.2 1036.2,892.9 1036.7,888.5 1037.2,892.7 1037.7,885.8 1038.2,886.6 1038.7,890.4 1039.2,882.7 1039.7,888.5 1040.2,889.4 1040.7,894.8 1041.2,885.3 1041.7,889.7 1042.2,885.4 1042.7,885.8 1043.2,877.2 1043.7,884.1 1044.2,892.4 1044.7,889.8 1045.2,888.3 1045.7,897.4 1046.2,889.8 1046.7,882.7 1047.3,886.7 1047.8,887.3 1048.3,893.8 1048.8,883.8 1049.3,889.0 1049.8,891.2 1050.3,884.1 1050.8,887.6 1051.3,879.2 1051.8,887.6 1052.3,878.4 1052.8,885.6 1053.3,893.8 1053.8,888.6 1054.3,887.2 1054.8,887.5 1055.3,895.4 1055.8,889.0 1056.3,890.9 1056.8,885.1 1057.3,885.0 1057.8,882.6 1058.3,886.0 1058.8,883.9 1059.3,890.5 1059.8,889.1 1060.3,886.1 1060.8,884.4 1061.4,875.1 1061.9,884.1 1062.4,887.6 1062.9,889.0 1063.4,874.2 1063.9,876.8 1064.4,886.9 1064.9,882.2 1065.4,885.4 1065.9,884.4 1066.4,888.5 1066.9,878.8 1067.4,883.9 1067.9,889.8 1068.4,886.9 1068.9,882.8 1069.4,887.8 1069.9,887.1 1070.4,882.5 1070.9,888.7 1071.4,888.6 1071.9,885.4 1072.4,889.6 1072.9,881.2 1073.4,888.9 1073.9,885.1 1074.4,882.1 1074.9,883.4 1075.5,890.4 1076.0,883.5 1076.5,884.3 1077.0,883.1 1077.5,882.5 1078.0,889.5 1078.5,894.4 1079.0,890.9 1079.5,887.6 1080.0,888.6 1080.5,884.2 1081.0,883.6 1081.5,880.9 1082.0,891.2 1082.5,884.1 1083.0,882.6 1083.5,882.9 1084.0,886.2 1084.5,883.2 1085.0,885.5 1085.5,886.0 1086.0,890.6 1086.5,880.4 1087.0,886.5 1087.5,882.6 1088.0,883.6 1088.5,891.7 1089.0,887.7 1089.6,883.7 1090.1,887.2 1090.6,885.1 1091.1,889.6 1091.6,883.3 1092.1,887.1 1092.6,884.3 1093.1,885.2 1093.6,884.5 1094.1,882.7 1094.6,885.5 1095.1,889.0 1095.6,882.7 1096.1,883.5" fill="none" stroke="#aaa" stroke-width="1.3" stroke-linejoin="bevel"/>
<polyline points="1012.0,888.5 1012.5,884.1 1013.0,890.5 1013.5,889.8 1014.0,878.0 1014.5,884.5 1015.0,882.8 1015.5,890.9 1016.0,891.9 1016.5,883.8 1017.0,886.2 1017.5,888.8 1018.0,887.9 1018.5,892.4 1019.1,893.5 1019.6,892.1 1020.1,894.2 1020.6,893.6 1021.1,889.7 1021.6,888.3 1022.1,887.1 1022.6,893.3 1023.1,893.6 1023.6,894.0 1024.1,888.7 1024.6,888.5 1025.1,891.0 1025.6,894.9 1026.1,891.4 1026.6,890.8 1027.1,886.6 1027.6,891.6 1028.1,892.0 1028.6,886.1 1029.1,896.7 1029.6,886.1 1030.1,893.4 1030.6,888.9 1031.1,890.3 1031.6,886.5 1032.1,887.4 1032.6,892.3 1033.2,888.8 1033.7,888.2 1034.2,893.0 1034.7,892.3 1035.2,890.1 1035.7,890.3 1036.2,896.2 1036.7,888.7 1037.2,890.8 1037.7,891.0 1038.2,883.7 1038.7,881.6 1039.2,889.7 1039.7,892.6 1040.2,889.9 1040.7,887.0 1041.2,886.5 1041.7,892.3 1042.2,887.9 1042.7,882.7 1043.2,891.7 1043.7,889.9 1044.2,890.5 1044.7,893.0 1045.2,894.1 1045.7,891.1 1046.2,888.2 1046.7,880.5 1047.3,890.0 1047.8,888.2 1048.3,894.0 1048.8,893.8 1049.3,890.6 1049.8,894.1 1050.3,888.4 1050.8,888.5 1051.3,885.3 1051.8,887.4 1052.3,889.4 1052.8,892.8 1053.3,885.7 1053.8,891.7 1054.3,897.7 1054.8,883.2 1055.3,887.5 1055.8,888.6 1056.3,892.4 1056.8,896.3 1057.3,893.3 1057.8,888.3 1058.3,885.0 1058.8,888.1 1059.3,888.2 1059.8,889.3 1060.3,884.8 1060.8,894.3 1061.4,885.4 1061.9,891.0 1062.4,889.1 1062.9,883.9 1063.4,888.5 1063.9,888.3 1064.4,887.5 1064.9,891.4 1065.4,886.3 1065.9,898.2 1066.4,892.6 1066.9,884.5 1067.4,878.3 1067.9,893.0 1068.4,889.1 1068.9,888.4 1069.4,884.2 1069.9,882.4 1070.4,880.7 1070.9,898.1 1071.4,894.3 1071.9,885.8 1072.4,895.4 1072.9,880.6 1073.4,890.7 1073.9,890.7 1074.4,884.5 1074.9,886.1 1075.5,883.8 1076.0,888.1 1076.5,893.1 1077.0,891.8 1077.5,889.5 1078.0,892.3 1078.5,880.8 1079.0,895.8 1079.5,887.6 1080.0,882.6 1080.5,886.3 1081.0,885.2 1081.5,888.1 1082.0,889.0 1082.5,878.5 1083.0,892.7 1083.5,894.6 1084.0,883.6 1084.5,893.6 1085.0,892.7 1085.5,891.7 1086.0,894.2 1086.5,882.2 1087.0,890.5 1087.5,883.6 1088.0,897.1 1088.5,883.8 1089.0,882.8 1089.6,892.1 1090.1,890.1 1090.6,887.7 1091.1,888.1 1091.6,890.0 1092.1,894.5 1092.6,884.7 1093.1,885.3 1093.6,885.3 1094.1,887.3 1094.6,887.6 1095.1,882.4 1095.6,888.7 1096.1,882.5" fill="none" stroke="#aaa" stroke-width="1.3" stroke-linejoin="bevel"/>
<polyline points="1012.0,887.8 1012.5,888.0 1013.0,888.0 1013.5,894.9 1014.0,895.5 1014.5,893.3 1015.0,895.4 1015.5,888.9 1016.0,896.5 1016.5,891.3 1017.0,893.0 1017.5,893.6 1018.0,887.5 1018.5,890.7 1019.1,892.8 1019.6,895.0 1020.1,893.2 1020.6,890.4 1021.1,889.3 1021.6,894.0 1022.1,889.3 1022.6,889.3 1023.1,893.6 1023.6,894.7 1024.1,890.7 1024.6,886.8 1025.1,895.1 1025.6,897.2 1026.1,892.2 1026.6,892.3 1027.1,884.5 1027.6,897.3 1028.1,889.3 1028.6,896.5 1029.1,891.2 1029.6,893.0 1030.1,892.7 1030.6,886.2 1031.1,904.4 1031.6,887.1 1032.1,893.7 1032.6,890.0 1033.2,892.2 1033.7,898.6 1034.2,885.6 1034.7,892.4 1035.2,894.9 1035.7,893.4 1036.2,894.5 1036.7,889.8 1037.2,886.2 1037.7,887.5 1038.2,891.0 1038.7,895.6 1039.2,892.9 1039.7,899.0 1040.2,892.9 1040.7,893.2 1041.2,893.2 1041.7,885.4 1042.2,894.6 1042.7,887.8 1043.2,890.7 1043.7,901.6 1044.2,887.2 1044.7,892.6 1045.2,893.2 1045.7,892.6 1046.2,892.0 1046.7,889.7 1047.3,899.9 1047.8,883.9 1048.3,887.8 1048.8,897.8 1049.3,894.0 1049.8,888.7 1050.3,888.1 1050.8,890.7 1051.3,902.2 1051.8,893.6 1052.3,887.5 1052.8,892.5 1053.3,889.0 1053.8,897.5 1054.3,892.6 1054.8,896.5 1055.3,892.0 1055.8,899.5 1056.3,893.0 1056.8,892.4 1057.3,887.2 1057.8,889.6 1058.3,892.8 1058.8,889.2 1059.3,901.1 1059.8,891.1 1060.3,888.1 1060.8,895.0 1061.4,888.9 1061.9,892.7 1062.4,890.6 1062.9,888.1 1063.4,896.5 1063.9,891.3 1064.4,895.3 1064.9,889.5 1065.4,885.2 1065.9,885.9 1066.4,888.7 1066.9,890.1 1067.4,891.0 1067.9,892.8 1068.4,885.8 1068.9,891.6 1069.4,885.8 1069.9,887.9 1070.4,900.9 1070.9,895.7 1071.4,889.2 1071.9,897.8 1072.4,896.2 1072.9,894.1 1073.4,896.4 1073.9,889.5 1074.4,890.0 1074.9,887.0 1075.5,892.8 1076.0,885.4 1076.5,888.4 1077.0,892.2 1077.5,888.4 1078.0,891.7 1078.5,897.6 1079.0,886.4 1079.5,895.9 1080.0,887.6 1080.5,886.5 1081.0,891.2 1081.5,894.4 1082.0,887.4 1082.5,887.3 1083.0,888.4 1083.5,887.3 1084.0,890.9 1084.5,887.3 1085.0,889.1 1085.5,891.5 1086.0,888.4 1086.5,894.7 1087.0,887.4 1087.5,887.0 1088.0,898.2 1088.5,896.1 1089.0,890.3 1089.6,893.3 1090.1,891.4 1090.6,888.0 1091.1,892.7 1091.6,891.2 1092.1,895.1 1092.6,882.6 1093.1,893.2 1093.6,890.6 1094.1,887.2 1094.6,888.2 1095.1,888.3 1095.6,884.6 1096.1,887.6" fill="none" stroke="#aaa" stroke-width="1.3" stroke-linejoin="bevel"/>
<polyline points="1012.0,889.3 1012.5,882.4 1013.0,885.9 1013.5,879.9 1014.0,885.3 1014.5,888.2 1015.0,886.8 1015.5,887.1 1016.0,883.6 1016.5,888.7 1017.0,884.3 1017.5,889.7 1018.0,887.6 1018.5,885.8 1019.1,891.5 1019.6,887.0 1020.1,901.2 1020.6,906.3 1021.1,912.3 1021.6,920.2 1022.1,922.3 1022.6,923.9 1023.1,925.7 1023.6,928.2 1024.1,928.9 1024.6,928.2 1025.1,926.3 1025.6,921.7 1026.1,928.9 1026.6,928.1 1027.1,931.9 1027.6,929.0 1028.1,930.3 1028.6,931.3 1029.1,924.9 1029.6,921.9 1030.1,925.9 1030.6,920.8 1031.1,920.9 1031.6,925.1 1032.1,921.5 1032.6,922.2 1033.2,914.0 1033.7,917.3 1034.2,919.7 1034.7,911.7 1035.2,915.3 1035.7,915.1 1036.2,906.2 1036.7,917.2 1037.2,909.5 1037.7,910.6 1038.2,915.3 1038.7,904.3 1039.2,910.4 1039.7,907.0 1040.2,907.9 1040.7,904.7 1041.2,910.7 1041.7,902.7 1042.2,906.7 1042.7,906.7 1043.2,904.3 1043.7,903.3 1044.2,902.8 1044.7,906.3 1045.2,904.1 1045.7,902.1 1046.2,898.7 1046.7,902.0 1047.3,902.8 1047.8,900.7 1048.3,904.8 1048.8,894.4 1049.3,907.3 1049.8,898.9 1050.3,895.8 1050.8,893.7 1051.3,901.2 1051.8,900.1 1052.3,897.4 1052.8,897.7 1053.3,898.1 1053.8,896.1 1054.3,900.6 1054.8,898.8 1055.3,896.3 1055.8,891.6 1056.3,900.4 1056.8,894.6 1057.3,892.8 1057.8,899.6 1058.3,897.0 1058.8,889.3 1059.3,890.2 1059.8,893.9 1060.3,891.1 1060.8,894.3 1061.4,902.5 1061.9,903.4 1062.4,894.2 1062.9,896.6 1063.4,896.8 1063.9,893.6 1064.4,889.4 1064.9,897.0 1065.4,893.1 1065.9,894.9 1066.4,895.6 1066.9,890.9 1067.4,898.3 1067.9,893.4 1068.4,893.7 1068.9,891.7 1069.4,895.0 1069.9,895.9 1070.4,891.1 1070.9,894.4 1071.4,891.3 1071.9,888.8 1072.4,891.5 1072.9,894.2 1073.4,894.0 1073.9,895.5 1074.4,890.2 1074.9,891.2 1075.5,892.3 1076.0,893.9 1076.5,891.6 1077.0,889.1 1077.5,887.2 1078.0,895.4 1078.5,895.0 1079.0,889.7 1079.5,896.2 1080.0,891.5 1080.5,893.0 1081.0,895.4 1081.5,890.1 1082.0,889.2 1082.5,886.3 1083.0,892.4 1083.5,892.8 1084.0,894.0 1084.5,893.2 1085.0,891.6 1085.5,894.7 1086.0,888.2 1086.5,892.4 1087.0,892.7 1087.5,890.8 1088.0,896.3 1088.5,892.4 1089.0,895.2 1089.6,893.8 1090.1,890.5 1090.6,896.9 1091.1,894.3 1091.6,891.0 1092.1,890.6 1092.6,887.8 1093.1,890.5 1093.6,890.2 1094.1,891.5 1094.6,889.6 1095.1,892.6 1095.6,890.6 1096.1,886.1" fill="none" stroke="#1e1e1e" stroke-width="1.3" stroke-linejoin="bevel"/>
<polyline points="1012.0,885.5 1012.5,884.3 1013.0,883.2 1013.5,886.3 1014.0,889.8 1014.5,883.7 1015.0,881.0 1015.5,886.6 1016.0,896.1 1016.5,885.3 1017.0,887.9 1017.5,885.8 1018.0,889.6 1018.5,891.4 1019.1,886.6 1019.6,891.9 1020.1,895.8 1020.6,908.4 1021.1,910.9 1021.6,920.8 1022.1,922.7 1022.6,928.6 1023.1,927.0 1023.6,932.9 1024.1,933.8 1024.6,932.6 1025.1,932.3 1025.6,931.3 1026.1,933.6 1026.6,935.7 1027.1,933.6 1027.6,933.9 1028.1,936.6 1028.6,931.0 1029.1,932.1 1029.6,932.8 1030.1,931.0 1030.6,929.7 1031.1,927.8 1031.6,932.5 1032.1,925.5 1032.6,923.6 1033.2,925.7 1033.7,927.9 1034.2,926.4 1034.7,921.3 1035.2,922.9 1035.7,921.0 1036.2,918.9 1036.7,919.9 1037.2,919.0 1037.7,916.8 1038.2,920.8 1038.7,913.8 1039.2,918.4 1039.7,919.9 1040.2,919.3 1040.7,913.1 1041.2,911.1 1041.7,906.2 1042.2,910.3 1042.7,917.2 1043.2,904.6 1043.7,904.1 1044.2,910.8 1044.7,909.6 1045.2,901.8 1045.7,906.7 1046.2,907.4 1046.7,901.4 1047.3,908.4 1047.8,901.1 1048.3,908.1 1048.8,904.9 1049.3,901.8 1049.8,898.7 1050.3,902.2 1050.8,902.6 1051.3,902.2 1051.8,900.4 1052.3,901.3 1052.8,904.2 1053.3,898.6 1053.8,900.4 1054.3,902.2 1054.8,900.4 1055.3,902.9 1055.8,904.7 1056.3,898.7 1056.8,900.2 1057.3,890.5 1057.8,898.0 1058.3,900.9 1058.8,895.3 1059.3,902.5 1059.8,892.6 1060.3,902.2 1060.8,896.4 1061.4,894.7 1061.9,896.1 1062.4,896.6 1062.9,894.2 1063.4,892.9 1063.9,895.4 1064.4,899.6 1064.9,897.9 1065.4,900.5 1065.9,894.5 1066.4,895.2 1066.9,895.1 1067.4,896.4 1067.9,897.3 1068.4,901.1 1068.9,897.8 1069.4,896.0 1069.9,899.5 1070.4,893.0 1070.9,891.3 1071.4,897.2 1071.9,895.6 1072.4,895.3 1072.9,897.7 1073.4,893.8 1073.9,894.4 1074.4,895.8 1074.9,896.5 1075.5,897.5 1076.0,894.8 1076.5,895.1 1077.0,887.0 1077.5,897.9 1078.0,889.4 1078.5,894.0 1079.0,901.7 1079.5,893.0 1080.0,889.1 1080.5,898.7 1081.0,892.1 1081.5,893.3 1082.0,893.2 1082.5,895.9 1083.0,895.9 1083.5,893.2 1084.0,896.8 1084.5,890.7 1085.0,895.4 1085.5,891.5 1086.0,895.4 1086.5,891.3 1087.0,891.9 1087.5,897.6 1088.0,889.8 1088.5,889.6 1089.0,894.8 1089.6,892.3 1090.1,891.7 1090.6,892.6 1091.1,899.3 1091.6,889.8 1092.1,892.1 1092.6,893.4 1093.1,890.0 1093.6,892.7 1094.1,894.2 1094.6,890.0 1095.1,896.1 1095.6,889.3 1096.1,892.2" fill="none" stroke="#1e1e1e" stroke-width="1.3" stroke-linejoin="bevel"/>
<polyline points="1012.0,888.0 1012.5,896.6 1013.0,881.8 1013.5,887.9 1014.0,894.6 1014.5,885.2 1015.0,890.3 1015.5,887.7 1016.0,882.7 1016.5,888.2 1017.0,884.3 1017.5,887.3 1018.0,882.5 1018.5,889.2 1019.1,879.8 1019.6,889.2 1020.1,916.5 1020.6,932.7 1021.1,944.9 1021.6,956.9 1022.1,965.6 1022.6,982.1 1023.1,979.1 1023.6,983.1 1024.1,983.7 1024.6,986.2 1025.1,990.4 1025.6,987.0 1026.1,986.2 1026.6,986.3 1027.1,985.9 1027.6,986.1 1028.1,982.7 1028.6,981.9 1029.1,978.4 1029.6,982.4 1030.1,977.0 1030.6,973.8 1031.1,973.6 1031.6,970.5 1032.1,963.9 1032.6,966.0 1033.2,969.5 1033.7,964.0 1034.2,964.1 1034.7,956.6 1035.2,952.2 1035.7,952.7 1036.2,957.1 1036.7,948.2 1037.2,947.1 1037.7,951.1 1038.2,945.4 1038.7,944.0 1039.2,944.1 1039.7,941.8 1040.2,939.1 1040.7,939.3 1041.2,935.0 1041.7,935.7 1042.2,936.5 1042.7,930.1 1043.2,931.4 1043.7,927.4 1044.2,931.9 1044.7,930.4 1045.2,930.2 1045.7,929.5 1046.2,928.4 1046.7,926.5 1047.3,921.0 1047.8,925.2 1048.3,918.8 1048.8,927.6 1049.3,920.6 1049.8,920.7 1050.3,914.4 1050.8,920.5 1051.3,920.1 1051.8,911.1 1052.3,913.4 1052.8,913.0 1053.3,911.8 1053.8,917.2 1054.3,919.0 1054.8,908.7 1055.3,914.4 1055.8,909.9 1056.3,914.2 1056.8,902.2 1057.3,907.7 1057.8,912.2 1058.3,905.8 1058.8,911.1 1059.3,905.6 1059.8,910.1 1060.3,908.0 1060.8,904.5 1061.4,903.1 1061.9,904.5 1062.4,908.1 1062.9,904.2 1063.4,901.9 1063.9,913.5 1064.4,898.4 1064.9,902.1 1065.4,904.1 1065.9,899.1 1066.4,901.9 1066.9,900.3 1067.4,896.9 1067.9,902.4 1068.4,897.3 1068.9,898.2 1069.4,904.0 1069.9,896.6 1070.4,901.6 1070.9,903.1 1071.4,902.3 1071.9,900.5 1072.4,898.2 1072.9,894.5 1073.4,898.9 1073.9,899.6 1074.4,896.6 1074.9,895.0 1075.5,900.3 1076.0,894.4 1076.5,898.7 1077.0,895.8 1077.5,892.0 1078.0,901.8 1078.5,898.6 1079.0,898.3 1079.5,892.2 1080.0,896.0 1080.5,897.1 1081.0,893.9 1081.5,900.9 1082.0,889.8 1082.5,897.8 1083.0,889.9 1083.5,890.8 1084.0,891.5 1084.5,897.0 1085.0,893.0 1085.5,893.1 1086.0,892.2 1086.5,890.4 1087.0,892.1 1087.5,891.7 1088.0,893.6 1088.5,893.4 1089.0,887.2 1089.6,892.4 1090.1,897.9 1090.6,892.7 1091.1,893.9 1091.6,891.8 1092.1,891.9 1092.6,893.6 1093.1,889.7 1093.6,893.2 1094.1,888.6 1094.6,894.6 1095.1,888.8 1095.6,895.4 1096.1,896.4" fill="none" stroke="#1e1e1e" stroke-width="1.3" stroke-linejoin="bevel"/>
<polyline points="1012.0,881.9 1012.5,888.8 1013.0,885.5 1013.5,890.2 1014.0,885.1 1014.5,885.9 1015.0,885.9 1015.5,890.5 1016.0,880.9 1016.5,889.0 1017.0,887.0 1017.5,885.2 1018.0,886.0 1018.5,889.5 1019.1,889.2 1019.6,894.6 1020.1,911.1 1020.6,926.4 1021.1,945.8 1021.6,959.1 1022.1,968.1 1022.6,980.6 1023.1,989.5 1023.6,988.1 1024.1,984.7 1024.6,995.2 1025.1,991.4 1025.6,994.0 1026.1,996.4 1026.6,994.5 1027.1,992.3 1027.6,992.3 1028.1,992.3 1028.6,990.4 1029.1,993.0 1029.6,976.0 1030.1,980.8 1030.6,979.4 1031.1,981.6 1031.6,977.8 1032.1,977.7 1032.6,968.8 1033.2,970.4 1033.7,971.1 1034.2,967.0 1034.7,964.0 1035.2,964.1 1035.7,966.4 1036.2,953.3 1036.7,962.6 1037.2,956.9 1037.7,951.7 1038.2,954.6 1038.7,951.1 1039.2,953.0 1039.7,945.4 1040.2,949.2 1040.7,942.1 1041.2,944.4 1041.7,944.1 1042.2,940.4 1042.7,941.2 1043.2,936.2 1043.7,939.9 1044.2,934.0 1044.7,932.2 1045.2,932.8 1045.7,931.9 1046.2,928.5 1046.7,932.3 1047.3,928.5 1047.8,929.7 1048.3,922.4 1048.8,922.0 1049.3,924.3 1049.8,921.2 1050.3,922.9 1050.8,924.1 1051.3,925.0 1051.8,925.2 1052.3,922.4 1052.8,917.2 1053.3,920.2 1053.8,916.3 1054.3,918.8 1054.8,913.4 1055.3,919.9 1055.8,916.5 1056.3,913.8 1056.8,909.9 1057.3,914.3 1057.8,911.3 1058.3,913.1 1058.8,909.7 1059.3,909.7 1059.8,912.7 1060.3,914.7 1060.8,906.0 1061.4,908.8 1061.9,910.1 1062.4,908.0 1062.9,906.7 1063.4,914.1 1063.9,904.7 1064.4,907.9 1064.9,905.0 1065.4,905.8 1065.9,898.9 1066.4,908.1 1066.9,904.5 1067.4,901.9 1067.9,909.4 1068.4,903.3 1068.9,902.0 1069.4,901.0 1069.9,906.5 1070.4,903.1 1070.9,901.8 1071.4,898.5 1071.9,899.5 1072.4,903.0 1072.9,901.7 1073.4,895.4 1073.9,898.6 1074.4,901.7 1074.9,908.9 1075.5,898.4 1076.0,893.7 1076.5,902.5 1077.0,898.6 1077.5,895.9 1078.0,901.3 1078.5,898.8 1079.0,896.4 1079.5,895.2 1080.0,898.6 1080.5,899.1 1081.0,893.3 1081.5,901.5 1082.0,894.6 1082.5,902.4 1083.0,899.1 1083.5,897.4 1084.0,898.8 1084.5,895.9 1085.0,897.4 1085.5,902.4 1086.0,895.6 1086.5,899.7 1087.0,894.4 1087.5,896.9 1088.0,899.8 1088.5,893.2 1089.0,897.7 1089.6,890.2 1090.1,893.1 1090.6,895.2 1091.1,899.0 1091.6,898.4 1092.1,893.4 1092.6,895.7 1093.1,896.5 1093.6,891.2 1094.1,897.1 1094.6,899.8 1095.1,899.4 1095.6,893.8 1096.1,894.3" fill="none" stroke="#1e1e1e" stroke-width="1.3" stroke-linejoin="bevel"/>
<polyline points="1012.0,883.9 1012.5,885.2 1013.0,885.9 1013.5,888.7 1014.0,886.9 1014.5,883.9 1015.0,889.2 1015.5,889.3 1016.0,884.9 1016.5,886.0 1017.0,886.4 1017.5,881.8 1018.0,887.1 1018.5,888.7 1019.1,892.5 1019.6,890.1 1020.1,912.4 1020.6,932.1 1021.1,950.0 1021.6,963.0 1022.1,967.9 1022.6,978.8 1023.1,986.1 1023.6,982.6 1024.1,995.9 1024.6,993.3 1025.1,997.9 1025.6,995.8 1026.1,995.2 1026.6,995.3 1027.1,995.7 1027.6,996.3 1028.1,991.6 1028.6,987.5 1029.1,987.1 1029.6,984.4 1030.1,987.7 1030.6,980.6 1031.1,986.1 1031.6,979.9 1032.1,977.2 1032.6,979.3 1033.2,972.3 1033.7,970.5 1034.2,971.7 1034.7,969.6 1035.2,962.5 1035.7,970.9 1036.2,963.4 1036.7,956.1 1037.2,957.5 1037.7,959.0 1038.2,955.2 1038.7,955.4 1039.2,958.3 1039.7,952.4 1040.2,954.1 1040.7,948.6 1041.2,943.0 1041.7,948.1 1042.2,940.1 1042.7,943.7 1043.2,941.4 1043.7,935.6 1044.2,934.8 1044.7,935.1 1045.2,935.7 1045.7,937.3 1046.2,932.4 1046.7,936.7 1047.3,932.6 1047.8,927.0 1048.3,926.0 1048.8,927.2 1049.3,924.4 1049.8,924.7 1050.3,926.4 1050.8,924.0 1051.3,925.3 1051.8,919.4 1052.3,918.1 1052.8,915.7 1053.3,913.8 1053.8,917.0 1054.3,917.8 1054.8,916.3 1055.3,916.2 1055.8,921.7 1056.3,911.6 1056.8,913.4 1057.3,912.1 1057.8,910.3 1058.3,916.5 1058.8,911.7 1059.3,915.0 1059.8,907.3 1060.3,915.8 1060.8,916.5 1061.4,906.6 1061.9,908.7 1062.4,907.8 1062.9,909.4 1063.4,903.4 1063.9,908.3 1064.4,908.6 1064.9,904.2 1065.4,898.9 1065.9,903.2 1066.4,903.7 1066.9,906.8 1067.4,902.3 1067.9,900.3 1068.4,905.3 1068.9,904.2 1069.4,905.0 1069.9,902.6 1070.4,905.3 1070.9,903.4 1071.4,896.2 1071.9,901.9 1072.4,903.4 1072.9,900.9 1073.4,904.9 1073.9,898.9 1074.4,902.1 1074.9,896.1 1075.5,899.5 1076.0,897.7 1076.5,896.1 1077.0,895.0 1077.5,899.3 1078.0,899.7 1078.5,896.4 1079.0,894.4 1079.5,895.2 1080.0,900.0 1080.5,893.9 1081.0,900.8 1081.5,892.2 1082.0,897.9 1082.5,898.9 1083.0,900.4 1083.5,895.3 1084.0,894.1 1084.5,892.0 1085.0,898.8 1085.5,895.6 1086.0,894.5 1086.5,894.5 1087.0,896.4 1087.5,895.6 1088.0,898.9 1088.5,888.8 1089.0,897.7 1089.6,893.4 1090.1,894.7 1090.6,893.9 1091.1,894.4 1091.6,896.9 1092.1,895.2 1092.6,890.1 1093.1,894.1 1093.6,893.9 1094.1,895.3 1094.6,894.2 1095.1,893.7 1095.6,897.0 1096.1,890.6" fill="none" stroke="#1e1e1e" stroke-width="1.3" stroke-linejoin="bevel"/>
<polyline points="1012.0,893.5 1012.5,885.3 1013.0,883.9 1013.5,889.3 1014.0,890.2 1014.5,890.7 1015.0,891.4 1015.5,888.4 1016.0,887.2 1016.5,888.1 1017.0,887.0 1017.5,885.4 1018.0,891.8 1018.5,892.4 1019.1,887.0 1019.6,889.4 1020.1,914.4 1020.6,931.7 1021.1,951.4 1021.6,965.1 1022.1,977.0 1022.6,982.1 1023.1,985.4 1023.6,997.5 1024.1,1003.8 1024.6,994.3 1025.1,1001.4 1025.6,1004.7 1026.1,998.4 1026.6,996.9 1027.1,1000.2 1027.6,998.0 1028.1,995.1 1028.6,1000.1 1029.1,997.6 1029.6,993.0 1030.1,988.6 1030.6,985.6 1031.1,987.0 1031.6,981.3 1032.1,984.2 1032.6,981.2 1033.2,973.4 1033.7,975.3 1034.2,975.5 1034.7,970.6 1035.2,963.7 1035.7,963.6 1036.2,961.4 1036.7,960.8 1037.2,958.6 1037.7,955.5 1038.2,957.3 1038.7,957.0 1039.2,949.5 1039.7,945.1 1040.2,949.0 1040.7,946.3 1041.2,946.0 1041.7,941.2 1042.2,942.6 1042.7,937.6 1043.2,942.2 1043.7,942.6 1044.2,933.5 1044.7,927.2 1045.2,932.3 1045.7,931.0 1046.2,932.0 1046.7,930.4 1047.3,930.7 1047.8,936.3 1048.3,925.5 1048.8,925.1 1049.3,926.5 1049.8,918.7 1050.3,925.7 1050.8,920.6 1051.3,917.3 1051.8,918.3 1052.3,921.5 1052.8,921.8 1053.3,922.2 1053.8,919.1 1054.3,914.9 1054.8,918.0 1055.3,915.5 1055.8,922.1 1056.3,908.3 1056.8,918.7 1057.3,915.5 1057.8,913.9 1058.3,911.8 1058.8,909.9 1059.3,908.2 1059.8,905.9 1060.3,916.2 1060.8,912.4 1061.4,911.2 1061.9,909.8 1062.4,902.5 1062.9,907.0 1063.4,907.8 1063.9,910.5 1064.4,903.6 1064.9,907.1 1065.4,905.2 1065.9,905.7 1066.4,902.9 1066.9,906.0 1067.4,904.8 1067.9,898.7 1068.4,907.6 1068.9,910.3 1069.4,900.8 1069.9,906.6 1070.4,899.9 1070.9,901.0 1071.4,907.6 1071.9,902.7 1072.4,906.4 1072.9,902.5 1073.4,904.5 1073.9,900.7 1074.4,905.3 1074.9,906.2 1075.5,902.6 1076.0,898.7 1076.5,899.1 1077.0,897.2 1077.5,901.7 1078.0,901.3 1078.5,897.4 1079.0,902.1 1079.5,897.5 1080.0,904.5 1080.5,901.4 1081.0,903.6 1081.5,896.5 1082.0,895.5 1082.5,892.9 1083.0,900.2 1083.5,894.8 1084.0,902.0 1084.5,898.3 1085.0,900.1 1085.5,893.8 1086.0,895.8 1086.5,898.0 1087.0,899.6 1087.5,893.4 1088.0,898.2 1088.5,894.6 1089.0,899.4 1089.6,896.2 1090.1,895.9 1090.6,898.0 1091.1,900.1 1091.6,895.8 1092.1,900.2 1092.6,893.4 1093.1,897.2 1093.6,892.9 1094.1,896.8 1094.6,893.4 1095.1,896.2 1095.6,897.9 1096.1,893.0" fill="none" stroke="#1e1e1e" stroke-width="1.3" stroke-linejoin="bevel"/>
<path d="M1051.8,1015 V1037.2 H1074" fill="none" stroke="#555" stroke-width="2"/>
<text x="1057.5" y="1028.0" font-size="26.5" text-anchor="start" font-weight="normal" fill="#222" >10pA</text>
<text x="1045.0" y="1060.5" font-size="26.5" text-anchor="start" font-weight="normal" fill="#222" >4ms</text>
<path d="M1263,626.2 V1032.2" fill="none" stroke="#1a1a1a" stroke-width="2.4"/>
<line x1="1263.0" y1="1032.2" x2="1269.0" y2="1032.2" stroke="#1a1a1a" stroke-width="2.2" />
<text x="1253.0" y="1042.2" font-size="27.5" text-anchor="end" font-weight="normal" fill="#222" >0</text>
<line x1="1263.0" y1="981.5" x2="1266.5" y2="981.5" stroke="#1a1a1a" stroke-width="2.2" />
<line x1="1263.0" y1="930.7" x2="1269.0" y2="930.7" stroke="#1a1a1a" stroke-width="2.2" />
<text x="1253.0" y="940.7" font-size="27.5" text-anchor="end" font-weight="normal" fill="#222" >20</text>
<line x1="1263.0" y1="880.0" x2="1266.5" y2="880.0" stroke="#1a1a1a" stroke-width="2.2" />
<line x1="1263.0" y1="829.2" x2="1269.0" y2="829.2" stroke="#1a1a1a" stroke-width="2.2" />
<text x="1253.0" y="839.2" font-size="27.5" text-anchor="end" font-weight="normal" fill="#222" >40</text>
<line x1="1263.0" y1="778.5" x2="1266.5" y2="778.5" stroke="#1a1a1a" stroke-width="2.2" />
<line x1="1263.0" y1="727.7" x2="1269.0" y2="727.7" stroke="#1a1a1a" stroke-width="2.2" />
<text x="1253.0" y="737.7" font-size="27.5" text-anchor="end" font-weight="normal" fill="#222" >60</text>
<line x1="1263.0" y1="677.0" x2="1266.5" y2="677.0" stroke="#1a1a1a" stroke-width="2.2" />
<line x1="1263.0" y1="626.2" x2="1269.0" y2="626.2" stroke="#1a1a1a" stroke-width="2.2" />
<text x="1253.0" y="636.2" font-size="27.5" text-anchor="end" font-weight="normal" fill="#222" >80</text>
<text transform="translate(1201,833) rotate(-90)" font-size="27.5" text-anchor="middle" fill="#222">% silent synapses</text>
<path d="M1304.8,707.1 V701.1 H1432.1 V707.1" fill="none" stroke="#333" stroke-width="2.2"/>
<path d="M1368.3,736.7 V730.7 H1432.1 V736.7" fill="none" stroke="#333" stroke-width="2.2"/>
<text x="1370.5" y="708" font-size="31" text-anchor="middle" letter-spacing="3" fill="#222" stroke="#222" stroke-width="0.2">**</text>
<text x="1402" y="737" font-size="31" text-anchor="middle" letter-spacing="3" fill="#222" stroke="#222" stroke-width="0.2">**</text>
<rect x="1283.9" y="1004.3" width="41.6" height="27.9" fill="#fff" stroke="#111" stroke-width="2.2"/>
<rect x="1347.7" y="998.2" width="42.0" height="34.0" fill="#c8c8c8" stroke="#111" stroke-width="2.2"/>
<rect x="1411.5" y="832.8" width="43.0" height="199.4" fill="#606060" stroke="#111" stroke-width="1.5"/>
<line x1="1304.7" y1="991.3" x2="1304.7" y2="1019.1" stroke="#111" stroke-width="2.2" />
<line x1="1369.4" y1="983.0" x2="1369.4" y2="1012.7" stroke="#111" stroke-width="2.2" />
<line x1="1432.9" y1="816.7" x2="1432.9" y2="851.6" stroke="#111" stroke-width="2.2" />
<circle cx="1325.8" cy="919.1" r="6" fill="#fff" stroke="#111" stroke-width="2.2"/>
<circle cx="1325.8" cy="977.5" r="6" fill="#fff" stroke="#111" stroke-width="2.2"/>
<circle cx="1325.8" cy="992.7" r="6" fill="#fff" stroke="#111" stroke-width="2.2"/>
<circle cx="1325.8" cy="1017.7" r="6" fill="#fff" stroke="#111" stroke-width="2.2"/>
<circle cx="1325.8" cy="1031.6" r="6" fill="#fff" stroke="#111" stroke-width="2.2"/>
<circle cx="1390.5" cy="905.8" r="6" fill="#fff" stroke="#c8c8c8" stroke-width="2.2"/>
<circle cx="1390.5" cy="967.7" r="6" fill="#fff" stroke="#c8c8c8" stroke-width="2.2"/>
<circle cx="1390.5" cy="979.7" r="6" fill="#fff" stroke="#c8c8c8" stroke-width="2.2"/>
<circle cx="1390.5" cy="990.8" r="6" fill="#fff" stroke="#c8c8c8" stroke-width="2.2"/>
<circle cx="1390.5" cy="1019.1" r="6" fill="#fff" stroke="#c8c8c8" stroke-width="2.2"/>
<circle cx="1390.5" cy="1032.4" r="6" fill="#fff" stroke="#c8c8c8" stroke-width="2.2"/>
<circle cx="1453.8" cy="757.7" r="6.2" fill="#fff" stroke="#5a5a5a" stroke-width="2.2"/>
<circle cx="1453.8" cy="785.4" r="6.2" fill="#fff" stroke="#5a5a5a" stroke-width="2.2"/>
<circle cx="1453.8" cy="817.9" r="6.2" fill="#fff" stroke="#5a5a5a" stroke-width="2.2"/>
<circle cx="1453.8" cy="828.7" r="6.2" fill="#fff" stroke="#5a5a5a" stroke-width="2.2"/>
<circle cx="1453.8" cy="852.8" r="6.2" fill="#fff" stroke="#5a5a5a" stroke-width="2.2"/>
<circle cx="1453.8" cy="858.8" r="6.2" fill="#fff" stroke="#5a5a5a" stroke-width="2.2"/>
<circle cx="1453.8" cy="911.6" r="6.2" fill="#fff" stroke="#5a5a5a" stroke-width="2.2"/>
<text x="1305.5" y="1060.0" font-size="27.5" text-anchor="middle" font-weight="normal" fill="#222" >8/5</text>
<text x="1368.5" y="1060.0" font-size="27.5" text-anchor="middle" font-weight="normal" fill="#222" >9/6</text>
<text x="1432.7" y="1060.0" font-size="27.5" text-anchor="middle" font-weight="normal" fill="#222" >8/6</text>
<text transform="translate(1191.5,1143) rotate(-25)" font-size="27.5" fill="#222">sal C450M</text>
<text transform="translate(1271,1143) rotate(-25)" font-size="27.5" fill="#222">coc C450M</text>
<text transform="translate(1348,1144) rotate(-25)" font-size="27.5" fill="#222">coc C450M</text>
<text transform="translate(1378,1167) rotate(-25)" font-size="27.5" fill="#222">+ naspm</text>
</svg></body></html>
